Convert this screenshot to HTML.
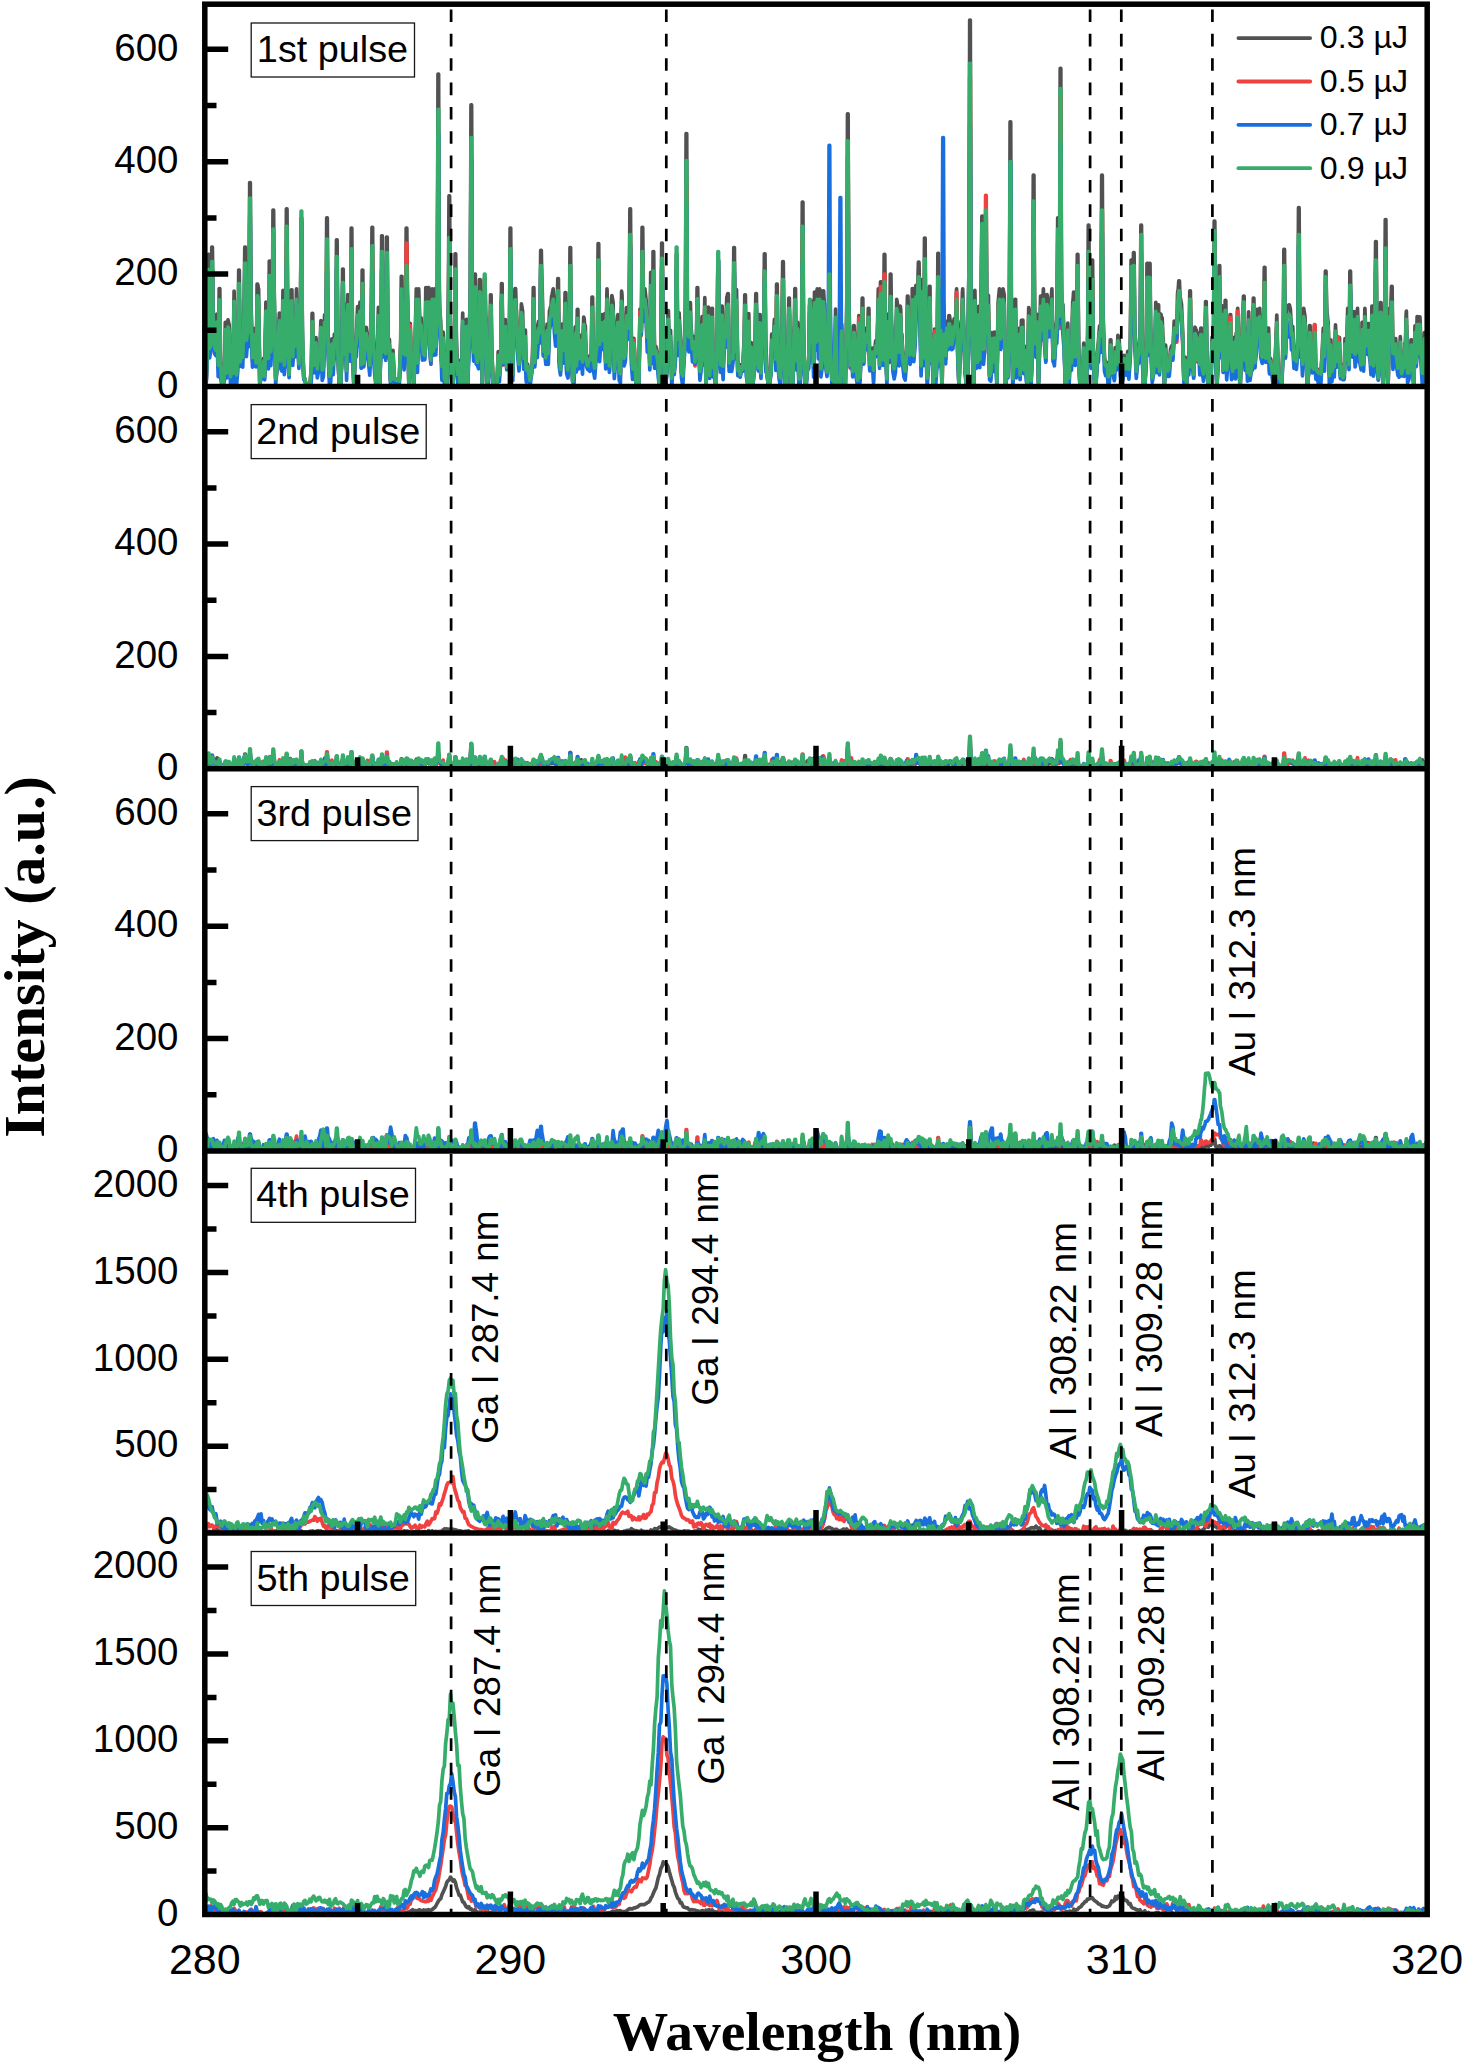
<!DOCTYPE html>
<html lang="en"><head><meta charset="utf-8"><title>LIBS spectra per pulse</title>
<style>html,body{margin:0;padding:0;background:#fff}body{width:1464px;height:2064px;overflow:hidden}svg{display:block}.s{font-family:"Liberation Sans",Arial,sans-serif;fill:#000}.b{font-family:"Liberation Serif","Times New Roman",serif;font-weight:bold;fill:#000}.d{fill:none;stroke-width:3.7;stroke-linejoin:round;stroke-linecap:round}.f{stroke:#000;stroke-width:5.5;fill:none}.k{stroke:#000;stroke-width:2.7;stroke-dasharray:12.6 11.75;fill:none}</style></head><body>
<svg width="1464" height="2064" viewBox="0 0 1464 2064">
<rect width="1464" height="2064" fill="#fff"/>
<defs>
<clipPath id="c0"><rect x="204.8" y="4.2" width="1222.4" height="382.2"/></clipPath>
<clipPath id="c1"><rect x="204.8" y="386.4" width="1222.4" height="382.4"/></clipPath>
<clipPath id="c2"><rect x="204.8" y="768.8" width="1222.4" height="382.1"/></clipPath>
<clipPath id="c3"><rect x="204.8" y="1150.9" width="1222.4" height="382.1"/></clipPath>
<clipPath id="c4"><rect x="204.8" y="1533.0" width="1222.4" height="381.5"/></clipPath>
</defs>
<g clip-path="url(#c0)">
<path class="d" stroke="#515151" d="M204.8,351.7 206.0,386.4 207.2,353.7 207.6,341.8 208.2,254.4 208.8,254.4 209.4,337.9 209.7,349.3 210.9,339.0 211.2,328.0 211.8,247.1 212.4,247.1 213.0,306.0 213.4,314.0 214.6,342.0 215.8,345.8 217.0,314.0 218.2,360.1 218.6,351.6 219.2,288.6 219.8,288.6 220.4,353.3 220.7,362.1 221.9,381.6 223.1,386.4 224.4,365.6 224.7,360.4 225.3,322.4 225.9,322.4 226.5,365.0 226.8,370.8 228.0,319.9 229.2,324.9 230.5,375.6 231.7,366.6 232.9,371.7 234.1,291.0 235.4,371.1 236.6,373.4 237.8,360.3 238.1,349.5 238.7,270.1 239.3,270.1 239.9,346.0 240.2,356.3 241.5,331.5 242.7,354.0 243.9,308.1 244.2,300.8 244.8,247.1 245.4,247.1 246.0,324.2 246.4,334.7 247.6,326.9 248.8,337.1 249.1,318.5 249.7,182.5 250.3,182.5 250.9,297.2 251.3,312.9 252.5,354.2 253.7,350.5 254.9,328.3 256.1,354.7 256.5,346.3 257.1,284.2 257.7,284.2 258.3,288.3 258.6,288.9 259.8,382.8 261.0,371.3 262.3,374.8 263.5,358.4 264.7,374.8 265.9,302.2 267.1,344.5 268.4,356.9 268.7,345.4 269.3,261.1 269.9,261.1 270.5,345.3 270.8,356.8 272.0,331.3 272.4,316.7 273.0,210.0 273.6,210.0 274.2,291.0 274.5,302.1 275.7,378.1 276.9,366.3 278.1,336.2 279.4,313.0 280.6,357.8 281.8,355.3 283.0,290.4 284.3,362.7 285.5,347.3 285.8,330.7 286.4,208.9 287.0,208.9 287.6,301.0 287.9,313.6 289.1,373.1 290.4,294.6 290.7,294.0 291.3,289.8 291.9,289.8 292.5,345.5 292.8,353.1 294.0,312.1 295.3,341.4 296.5,288.9 297.7,322.9 298.9,361.1 300.1,346.6 300.5,331.1 301.1,217.9 301.7,217.9 302.3,331.6 302.6,347.2 303.8,376.9 305.0,378.7 306.3,386.4 307.5,384.7 308.7,384.0 309.9,386.4 311.1,370.2 311.5,363.4 312.1,313.4 312.7,313.4 313.3,360.6 313.6,367.1 314.8,361.6 316.0,337.6 317.3,366.9 318.5,353.4 319.7,355.8 320.9,320.7 322.2,368.2 323.4,365.2 324.6,314.8 325.8,329.5 326.1,316.1 326.7,217.9 327.3,217.9 327.9,323.5 328.3,337.9 329.5,375.0 330.7,371.1 331.9,338.9 333.2,362.0 334.4,334.0 335.6,339.6 335.9,327.7 336.5,239.8 337.1,239.8 337.7,338.0 338.0,351.4 339.3,386.4 340.5,386.4 341.7,357.4 342.0,346.8 342.6,269.0 343.2,269.0 343.8,346.0 344.2,356.5 345.4,304.3 346.6,368.9 347.8,294.7 349.0,311.5 350.3,343.6 350.6,329.7 351.2,228.0 351.8,228.0 352.4,332.2 352.7,346.4 353.9,386.0 355.2,345.0 356.4,336.0 357.6,306.6 358.8,329.2 360.0,302.0 361.3,351.7 361.6,341.9 362.2,270.1 362.8,270.1 363.4,340.5 363.7,350.1 364.9,341.7 366.2,327.3 367.4,337.2 368.6,347.2 369.8,362.6 371.0,316.5 371.4,305.8 372.0,227.4 372.6,227.4 373.2,322.7 373.5,335.7 374.7,358.3 375.9,381.8 377.2,365.8 378.4,307.3 379.6,382.7 380.8,346.1 381.1,332.9 381.7,235.8 382.3,235.8 382.9,338.7 383.3,352.8 384.5,298.1 385.7,338.6 386.0,326.4 386.6,237.0 387.2,237.0 387.8,336.8 388.2,350.4 389.4,339.4 390.6,380.2 391.8,365.9 393.0,350.3 394.3,378.4 395.5,378.8 396.7,379.7 397.9,379.4 399.2,380.5 400.4,349.2 400.7,340.4 401.3,276.3 401.9,276.3 402.5,317.2 402.8,322.8 404.1,350.3 405.3,345.3 405.6,331.2 406.2,228.0 406.8,228.0 407.4,289.6 407.7,298.0 408.9,386.0 410.2,323.4 411.4,360.0 412.6,358.1 413.8,385.8 415.1,340.1 416.3,288.9 417.5,360.2 418.7,288.9 419.9,322.2 421.2,318.0 422.4,342.7 423.6,350.4 424.8,351.7 425.2,344.0 425.8,287.5 426.4,287.5 427.0,303.5 427.3,305.7 427.6,303.5 428.2,287.5 428.8,287.5 429.4,330.2 429.7,336.0 430.9,356.7 432.2,288.9 433.4,346.8 434.6,288.9 435.8,341.8 437.1,315.3 437.4,286.3 438.0,74.0 438.6,74.0 439.2,278.7 439.5,306.6 440.7,321.5 441.9,364.1 443.2,332.2 444.4,377.5 445.6,380.1 446.8,386.4 448.1,314.0 448.4,299.9 449.0,195.9 449.6,195.9 450.2,317.6 450.5,334.2 451.7,376.4 452.9,386.4 454.2,350.5 454.5,338.9 455.1,253.8 455.7,253.8 456.3,334.1 456.6,345.0 457.8,373.0 459.1,360.4 460.3,386.4 461.5,386.4 462.7,313.1 463.9,386.0 465.2,343.5 466.4,319.3 467.6,383.3 468.8,343.0 470.1,303.0 470.4,279.2 471.0,104.9 471.6,104.9 472.2,288.6 472.5,313.7 473.7,348.5 474.1,339.5 474.7,274.0 475.3,274.0 475.9,343.5 476.2,353.0 477.4,359.5 478.6,355.4 478.9,346.3 479.5,279.7 480.1,279.7 480.7,293.3 481.1,295.1 482.3,382.7 483.5,319.6 483.8,314.8 484.4,279.7 485.0,279.7 485.6,313.3 486.0,317.9 487.2,381.3 488.4,376.4 489.6,359.2 489.9,351.5 490.5,294.8 491.1,294.8 491.7,349.2 492.1,356.6 493.3,386.4 494.5,386.4 495.7,386.4 497.0,384.7 498.2,351.7 499.4,373.4 500.6,359.0 500.9,350.0 501.5,283.6 502.1,283.6 502.7,350.7 503.1,359.8 504.3,338.8 505.5,319.6 506.7,364.5 508.0,363.9 509.2,348.9 509.5,334.4 510.1,228.0 510.7,228.0 511.3,312.3 511.6,323.8 512.8,373.1 514.1,295.6 514.4,294.8 515.0,288.6 515.6,288.6 516.2,308.1 516.5,310.8 517.7,339.9 519.0,361.6 520.2,342.2 521.4,303.8 522.6,311.0 523.8,354.9 524.2,352.0 524.8,330.2 525.4,330.2 526.0,365.0 526.3,369.7 527.5,364.0 528.7,370.5 530.0,379.3 531.2,373.5 532.4,360.0 532.7,351.3 533.3,287.5 533.9,287.5 534.5,351.0 534.8,359.7 536.1,325.3 537.3,337.0 538.5,321.3 539.7,326.5 540.1,317.4 540.7,250.4 541.3,250.4 541.9,284.3 542.2,288.9 543.4,346.8 544.6,327.9 545.8,354.2 547.1,324.0 548.3,349.5 549.5,310.8 549.8,310.3 550.4,307.2 551.0,307.2 551.6,296.3 552.0,294.9 553.2,288.9 554.4,305.5 555.6,326.2 556.9,313.2 557.2,309.0 557.8,278.5 558.4,278.5 559.0,351.8 559.3,361.8 560.5,367.5 561.7,324.1 563.0,346.4 564.2,330.6 564.5,326.1 565.1,292.6 565.7,292.6 566.3,348.8 566.6,356.5 567.9,368.0 569.1,346.0 569.4,334.2 570.0,247.6 570.6,247.6 571.2,334.4 571.5,346.3 572.7,380.6 574.0,371.8 575.2,326.9 576.4,363.4 576.7,356.9 577.3,309.4 577.9,309.4 578.5,349.8 578.9,355.3 580.1,352.8 581.3,335.1 582.5,358.9 583.7,317.1 584.1,318.1 584.7,325.7 585.3,325.7 585.9,351.2 586.2,354.7 587.4,363.1 588.6,357.5 589.9,355.6 591.1,356.2 591.4,349.1 592.0,297.1 592.6,297.1 593.2,350.5 593.5,357.8 594.7,366.0 596.0,346.7 597.2,356.0 597.5,342.6 598.1,243.7 598.7,243.7 599.3,327.9 599.6,339.3 600.9,329.0 601.2,327.2 601.8,314.5 602.4,314.5 603.0,332.4 603.3,334.8 604.5,313.8 605.7,358.9 607.0,288.9 608.2,336.3 609.4,363.3 609.7,359.1 610.3,328.0 610.9,328.0 611.5,299.4 611.9,295.5 613.1,302.4 614.3,369.4 615.5,352.3 615.8,348.9 616.4,324.6 617.0,324.6 617.6,315.9 618.0,314.7 619.2,369.4 620.4,372.2 621.6,291.2 622.0,294.7 622.6,320.1 623.2,320.1 623.8,350.6 624.1,354.7 625.3,350.4 626.5,307.5 627.8,321.6 629.0,311.7 629.3,299.4 629.9,208.9 630.5,208.9 631.1,322.4 631.4,337.9 632.6,367.1 633.9,338.4 635.1,361.5 636.3,386.1 637.5,385.8 638.8,383.6 640.0,309.0 641.2,325.0 641.5,313.3 642.1,227.4 642.7,227.4 643.3,288.4 643.6,296.7 644.9,288.9 646.1,299.9 647.3,331.2 648.5,311.2 649.8,358.7 650.1,348.4 650.7,272.4 651.3,272.4 651.9,338.4 652.2,347.4 652.5,335.9 653.1,251.6 653.7,251.6 654.3,337.8 654.6,349.6 655.9,346.5 657.1,352.5 658.3,364.6 659.5,385.4 660.8,345.8 661.1,333.5 661.7,243.1 662.3,243.1 662.9,322.5 663.2,333.3 664.4,379.2 665.6,386.3 666.9,362.2 667.2,356.0 667.8,310.6 668.4,310.6 669.0,337.3 669.3,340.9 670.5,330.3 671.8,377.2 673.0,357.2 674.2,369.6 675.4,357.3 675.7,345.0 676.3,254.4 676.9,254.4 677.5,323.9 677.9,333.4 679.1,312.8 680.3,336.0 681.5,370.6 682.8,374.7 684.0,351.3 685.2,317.7 685.5,295.6 686.1,133.6 686.7,133.6 687.3,307.3 687.6,331.0 688.9,330.8 689.2,327.4 689.8,302.7 690.4,302.7 691.0,326.5 691.3,329.8 692.5,344.6 693.8,336.7 695.0,358.8 696.2,346.0 696.5,339.0 697.1,287.5 697.7,287.5 698.3,326.5 698.6,331.9 699.9,369.5 701.1,363.7 701.4,358.1 702.0,316.7 702.6,316.7 703.2,351.8 703.5,356.6 704.8,297.6 706.0,385.7 707.2,343.4 708.4,307.0 709.7,374.0 710.9,346.9 711.2,342.3 711.8,308.3 712.4,308.3 713.0,361.1 713.3,368.3 714.5,366.7 715.8,386.4 717.0,350.3 717.3,339.5 717.9,260.0 718.5,260.0 719.1,341.6 719.4,352.7 720.7,362.5 721.0,355.7 721.6,306.1 722.2,306.1 722.8,361.3 723.1,368.9 724.3,326.6 725.5,331.3 726.8,297.2 727.1,296.8 727.7,293.7 728.3,293.7 728.9,352.0 729.2,359.9 730.4,352.6 731.7,353.9 732.9,347.7 733.2,335.7 733.8,247.6 734.4,247.6 735.0,332.9 735.3,344.6 736.5,289.6 737.8,368.6 739.0,364.4 740.2,373.2 741.4,364.6 742.7,367.1 743.9,343.7 744.2,337.8 744.8,294.8 745.4,294.8 746.0,356.9 746.3,365.4 747.5,382.4 748.8,313.6 750.0,386.4 751.2,342.5 752.4,386.4 753.7,372.9 754.9,348.1 755.2,341.6 755.8,293.7 756.4,293.7 757.0,353.1 757.3,361.2 758.5,365.0 758.9,358.9 759.5,314.5 760.1,314.5 760.7,362.7 761.0,369.3 762.2,318.1 763.4,339.3 763.8,329.0 764.4,253.8 765.0,253.8 765.6,335.5 765.9,346.6 767.1,371.4 768.3,384.3 769.5,380.8 770.8,374.6 771.1,369.7 771.7,334.2 772.3,334.2 772.9,341.9 773.2,343.0 774.4,319.3 775.7,356.0 776.0,347.4 776.6,284.2 777.2,284.2 777.8,348.0 778.1,356.7 779.3,374.1 780.6,377.0 781.8,330.9 782.1,322.6 782.7,261.7 783.3,261.7 783.9,342.3 784.2,353.3 785.4,386.0 786.7,385.5 787.9,341.0 788.2,335.9 788.8,298.2 789.4,298.2 790.0,358.4 790.3,366.6 791.6,384.4 792.8,382.4 794.0,329.8 794.3,324.8 794.9,288.6 795.5,288.6 796.1,354.1 796.4,363.0 797.7,322.4 798.9,378.3 800.1,377.7 801.3,330.6 801.7,315.2 802.3,202.1 802.9,202.1 803.5,323.5 803.8,340.0 805.0,382.3 806.2,382.8 807.4,364.9 808.7,364.0 809.0,356.9 809.6,304.9 810.2,304.9 810.8,333.1 811.1,336.9 812.3,301.0 813.6,362.1 813.9,353.7 814.5,292.0 815.1,292.0 815.7,331.6 816.0,337.0 817.2,288.9 818.4,334.9 819.7,288.9 820.9,366.7 822.1,362.8 822.4,354.2 823.0,290.9 823.6,290.9 824.2,302.3 824.6,303.9 825.8,362.4 827.0,370.2 828.2,357.9 828.5,345.8 829.1,257.2 829.7,257.2 830.3,341.2 830.7,352.6 831.9,378.7 833.1,379.6 834.3,382.1 835.6,309.0 836.8,372.6 838.0,385.0 839.2,386.4 839.5,386.4 840.1,386.4 840.7,386.4 841.3,331.8 841.7,324.4 842.9,369.4 844.1,368.5 845.3,385.0 846.6,315.7 846.9,291.5 847.5,113.9 848.1,113.9 848.7,281.0 849.0,303.7 850.2,362.7 851.4,336.6 852.7,368.9 853.0,363.7 853.6,325.7 854.2,325.7 854.8,336.3 855.1,337.8 856.3,367.2 857.6,379.6 858.8,315.7 860.0,376.3 861.2,343.0 861.6,337.6 862.2,298.2 862.8,298.2 863.4,351.9 863.7,359.2 864.9,335.6 866.1,328.0 867.3,336.9 867.7,333.5 868.3,308.3 868.9,308.3 869.5,355.4 869.8,361.9 871.0,349.2 872.2,348.1 873.5,368.1 873.8,365.7 874.4,347.6 875.0,347.6 875.6,341.6 875.9,340.7 877.1,349.0 878.3,288.9 879.6,356.2 879.9,347.3 880.5,281.9 881.1,281.9 881.7,288.0 882.0,288.9 883.2,349.2 883.6,337.8 884.2,254.4 884.8,254.4 885.4,330.7 885.7,341.1 886.9,378.0 888.1,314.0 889.3,362.4 889.7,351.8 890.3,274.0 890.9,274.0 891.5,320.3 891.8,326.6 893.0,361.0 894.2,366.7 895.5,357.9 896.7,299.3 897.9,306.7 899.1,348.4 900.3,306.2 900.7,309.5 901.3,334.2 901.9,334.2 902.5,354.6 902.8,357.3 904.0,364.6 905.2,369.3 906.5,349.0 906.8,342.6 907.4,296.0 908.0,296.0 908.6,332.3 908.9,337.3 910.1,351.1 911.3,345.2 911.7,338.5 912.3,288.6 912.9,288.6 913.5,344.4 913.8,352.0 915.0,331.6 915.3,326.1 915.9,285.3 916.5,285.3 917.1,288.4 917.5,288.9 917.8,285.7 918.4,262.2 919.0,262.2 919.6,294.8 919.9,299.3 921.1,359.4 921.4,349.9 922.0,279.7 922.6,279.7 923.2,343.3 923.6,351.9 923.9,338.3 924.5,238.1 925.1,238.1 925.7,320.6 926.0,331.9 927.2,376.8 928.5,357.3 928.8,348.8 929.4,286.4 930.0,286.4 930.6,353.6 930.9,362.7 932.1,334.9 933.4,382.6 934.6,329.1 935.8,374.8 937.0,353.1 937.3,341.1 937.9,253.3 938.5,253.3 939.1,340.4 939.5,352.2 940.7,323.8 941.9,384.0 942.2,378.3 942.8,336.1 943.4,336.1 944.0,328.8 944.4,327.9 945.6,352.0 946.8,321.3 948.0,341.0 948.3,338.0 948.9,315.6 949.5,315.6 950.1,320.3 950.5,321.0 951.7,339.5 952.9,333.4 954.1,318.9 954.5,318.7 955.1,317.9 955.7,317.9 956.3,292.4 956.6,288.9 957.8,347.8 959.0,385.5 960.2,334.5 960.6,332.9 961.2,321.2 961.8,321.2 962.4,292.8 962.7,288.9 963.9,329.8 965.1,365.2 966.4,386.2 967.6,375.6 968.8,280.7 969.1,249.4 969.7,20.1 970.3,20.1 970.9,255.2 971.2,287.3 972.5,345.9 973.7,385.5 974.9,290.3 976.1,359.5 977.4,359.6 978.6,306.3 979.8,356.3 981.0,288.9 981.3,280.1 981.9,216.2 982.5,216.2 983.1,329.6 983.5,345.0 984.7,347.7 985.0,332.1 985.6,217.9 986.2,217.9 986.8,324.4 987.1,338.9 988.4,295.4 989.6,374.8 990.8,371.5 991.1,366.8 991.7,332.5 992.3,332.5 992.9,355.9 993.2,359.1 994.5,332.2 995.7,342.8 996.9,381.6 998.1,303.5 999.4,288.9 1000.6,333.3 1000.9,332.1 1001.5,323.5 1002.1,323.5 1002.7,293.0 1003.0,288.9 1004.2,294.7 1005.5,383.5 1006.7,367.4 1007.9,374.8 1009.1,312.8 1009.5,289.9 1010.1,121.8 1010.7,121.8 1011.3,297.9 1011.6,321.9 1012.8,377.8 1014.0,359.3 1014.4,352.1 1015.0,299.3 1015.6,299.3 1016.2,352.9 1016.5,360.3 1017.7,339.7 1018.9,328.4 1020.1,373.5 1021.4,320.4 1021.7,320.4 1022.3,320.1 1022.9,320.1 1023.5,365.2 1023.8,371.4 1025.0,346.4 1026.3,372.7 1027.5,382.6 1028.7,307.6 1029.9,312.5 1031.1,380.0 1032.4,337.6 1032.7,318.1 1033.3,175.2 1033.9,175.2 1034.5,298.3 1034.8,315.1 1036.0,338.8 1037.3,314.4 1038.5,382.3 1039.7,328.3 1040.0,324.4 1040.6,296.0 1041.2,296.0 1041.8,319.9 1042.1,323.1 1043.4,288.9 1044.6,333.4 1045.8,353.9 1047.0,294.7 1047.4,296.4 1048.0,309.4 1048.6,309.4 1049.2,319.5 1049.5,320.8 1050.7,307.0 1051.9,288.9 1053.1,354.5 1054.4,354.1 1055.6,329.8 1056.8,320.0 1057.1,307.8 1057.7,217.9 1058.3,217.9 1058.9,283.4 1059.3,292.3 1059.6,265.4 1060.2,68.4 1060.8,68.4 1061.4,284.0 1061.7,313.4 1062.9,304.7 1064.1,335.4 1065.4,386.4 1066.6,385.2 1067.8,323.2 1069.0,377.1 1070.3,342.0 1071.5,360.2 1072.7,301.9 1073.0,300.7 1073.6,292.0 1074.2,292.0 1074.8,346.0 1075.1,353.4 1076.4,343.8 1076.7,333.0 1077.3,254.4 1077.9,254.4 1078.5,340.0 1078.8,351.6 1080.0,386.4 1081.3,386.4 1082.5,382.4 1083.7,343.2 1084.9,386.4 1086.2,386.4 1087.4,347.8 1087.7,333.1 1088.3,225.2 1088.9,225.2 1089.5,324.4 1089.8,338.0 1091.0,352.6 1091.4,341.5 1092.0,260.0 1092.6,260.0 1093.2,345.2 1093.5,356.9 1094.7,385.0 1095.9,385.0 1097.2,354.3 1098.4,341.5 1099.6,325.8 1100.8,335.6 1101.1,316.4 1101.7,175.2 1102.3,175.2 1102.9,302.6 1103.3,319.9 1104.5,358.0 1105.7,363.5 1106.9,362.5 1108.2,375.4 1109.4,371.4 1109.7,367.6 1110.3,339.8 1110.9,339.8 1111.5,369.7 1111.8,373.8 1113.0,359.8 1114.3,370.6 1114.6,367.9 1115.2,347.6 1115.8,347.6 1116.4,359.8 1116.7,361.5 1117.9,335.3 1119.2,339.8 1120.4,365.2 1121.6,364.7 1122.8,367.1 1124.0,355.3 1125.3,361.2 1126.5,366.8 1127.7,351.4 1128.9,367.1 1130.2,347.2 1130.5,336.7 1131.1,260.0 1131.7,260.0 1132.3,300.0 1132.6,305.5 1132.9,299.2 1133.5,252.7 1134.1,252.7 1134.7,322.6 1135.0,332.1 1136.3,369.6 1137.5,355.9 1138.7,350.0 1139.9,334.5 1140.3,321.4 1140.9,225.2 1141.5,225.2 1142.1,324.5 1142.4,338.0 1143.6,385.5 1144.8,386.4 1146.0,353.4 1146.4,342.6 1147.0,263.4 1147.6,263.4 1148.2,336.3 1148.5,346.2 1148.8,336.3 1149.4,263.4 1150.0,263.4 1150.6,326.6 1150.9,335.2 1152.2,376.9 1153.4,372.1 1154.6,355.3 1155.8,302.3 1157.0,366.9 1157.4,359.5 1158.0,304.9 1158.6,304.9 1159.2,355.0 1159.5,361.9 1160.7,314.0 1161.0,314.5 1161.6,317.9 1162.2,317.9 1162.8,335.2 1163.2,337.5 1164.4,382.7 1165.6,345.2 1166.8,366.1 1168.1,368.9 1169.3,364.3 1170.5,349.7 1171.7,345.9 1172.9,349.8 1174.2,321.0 1175.4,322.5 1175.7,322.9 1176.3,325.7 1176.9,325.7 1177.5,295.2 1177.8,291.0 1178.2,289.8 1178.8,280.8 1179.4,280.8 1180.0,295.6 1180.3,297.6 1181.5,304.4 1182.7,331.7 1183.9,378.6 1185.2,357.1 1186.4,383.2 1187.6,358.8 1188.8,358.8 1189.2,350.7 1189.8,290.9 1190.4,290.9 1191.0,349.3 1191.3,357.2 1192.5,352.9 1193.7,373.2 1194.9,327.2 1195.3,327.6 1195.9,330.2 1196.5,330.2 1197.1,353.6 1197.4,356.8 1198.6,333.3 1199.8,361.7 1200.2,357.7 1200.8,328.0 1201.4,328.0 1202.0,361.7 1202.3,366.4 1203.5,372.4 1204.7,361.6 1205.0,354.4 1205.6,301.6 1206.2,301.6 1206.8,357.9 1207.2,365.6 1208.4,386.4 1209.6,385.2 1210.8,380.7 1212.1,337.1 1213.3,340.5 1213.6,326.2 1214.2,221.2 1214.8,221.2 1215.4,333.5 1215.7,348.8 1216.9,386.4 1218.2,359.3 1218.5,348.0 1219.1,265.6 1219.7,265.6 1220.3,336.8 1220.6,346.5 1221.8,305.7 1223.1,368.1 1224.3,349.0 1224.6,343.2 1225.2,300.4 1225.8,300.4 1226.4,355.1 1226.7,362.5 1227.9,352.1 1229.2,337.3 1229.5,334.5 1230.1,314.5 1230.7,314.5 1231.3,364.2 1231.6,371.0 1232.8,369.4 1234.1,337.3 1235.3,365.3 1235.6,361.4 1236.2,333.0 1236.8,333.0 1237.4,311.3 1237.7,308.4 1239.0,361.5 1240.2,384.2 1241.4,352.7 1242.6,314.8 1242.9,312.6 1243.5,296.0 1244.1,296.0 1244.7,353.6 1245.1,361.4 1246.3,329.1 1247.5,370.8 1248.7,311.8 1250.0,373.8 1251.2,367.7 1252.4,361.1 1252.7,353.5 1253.3,298.2 1253.9,298.2 1254.5,359.5 1254.8,367.8 1256.1,339.2 1256.4,335.6 1257.0,309.4 1257.6,309.4 1258.2,318.4 1258.5,319.6 1259.7,308.4 1261.0,349.1 1262.2,353.7 1263.4,324.5 1263.7,317.6 1264.3,267.3 1264.9,267.3 1265.5,347.0 1265.8,357.9 1267.1,341.7 1267.4,340.0 1268.0,328.0 1268.6,328.0 1269.2,354.9 1269.5,358.6 1270.7,358.6 1272.0,368.6 1273.2,374.4 1274.4,374.1 1275.6,348.9 1276.8,315.0 1278.1,373.7 1279.3,377.3 1280.5,377.6 1281.7,383.2 1283.0,342.5 1283.3,331.3 1283.9,249.3 1284.5,249.3 1285.1,337.1 1285.4,349.1 1286.6,308.4 1287.8,308.4 1288.2,308.0 1288.8,304.9 1289.4,304.9 1290.0,308.0 1290.3,308.4 1291.5,328.8 1292.7,326.3 1294.0,356.0 1295.2,351.0 1296.4,358.5 1297.6,343.3 1297.9,327.0 1298.5,207.7 1299.1,207.7 1299.7,314.5 1300.1,329.0 1301.3,342.3 1302.5,361.4 1303.7,308.4 1305.0,316.5 1306.2,352.8 1307.4,385.7 1308.6,372.9 1308.9,367.2 1309.5,325.7 1310.1,325.7 1310.7,344.5 1311.1,347.1 1312.3,363.9 1313.5,366.7 1313.8,361.7 1314.4,325.7 1315.0,325.7 1315.6,363.6 1316.0,368.8 1317.2,369.0 1318.4,371.2 1319.6,371.0 1320.9,372.4 1322.1,353.8 1323.3,328.1 1324.5,352.8 1324.8,343.0 1325.4,271.2 1326.0,271.2 1326.6,307.5 1327.0,312.4 1328.2,323.2 1329.4,372.8 1329.7,368.8 1330.3,339.8 1330.9,339.8 1331.5,366.3 1331.9,369.9 1333.1,361.0 1334.3,364.2 1335.5,324.8 1336.7,358.8 1338.0,337.8 1338.3,337.7 1338.9,337.5 1339.5,337.5 1340.1,370.2 1340.4,374.6 1341.6,364.3 1342.9,377.0 1344.1,372.5 1344.4,368.4 1345.0,338.6 1345.6,338.6 1346.2,354.2 1346.5,356.3 1347.7,308.4 1349.0,350.1 1349.3,340.6 1349.9,271.2 1350.5,271.2 1351.1,319.8 1351.4,326.4 1352.6,347.9 1353.9,311.7 1355.1,350.4 1355.4,348.9 1356.0,337.5 1356.6,337.5 1357.2,311.9 1357.5,308.4 1358.7,346.6 1360.0,350.8 1361.2,362.2 1361.5,357.4 1362.1,322.4 1362.7,322.4 1363.3,356.6 1363.6,361.2 1364.9,308.4 1366.1,341.0 1367.3,337.5 1367.6,335.9 1368.2,323.5 1368.8,323.5 1369.4,345.8 1369.7,348.8 1371.0,361.6 1371.3,354.9 1371.9,306.1 1372.5,306.1 1373.1,360.2 1373.4,367.5 1374.6,344.7 1375.0,332.3 1375.6,241.5 1376.2,241.5 1376.8,336.4 1377.1,349.4 1378.3,376.7 1379.5,332.3 1379.8,328.8 1380.4,302.7 1381.0,302.7 1381.6,357.5 1382.0,365.0 1383.2,385.7 1384.4,331.9 1384.7,318.4 1385.3,219.5 1385.9,219.5 1386.5,333.4 1386.9,349.0 1388.1,385.8 1389.3,308.5 1390.5,308.4 1390.9,305.7 1391.5,286.4 1392.1,286.4 1392.7,342.0 1393.0,349.6 1394.2,343.8 1394.5,343.2 1395.1,338.6 1395.7,338.6 1396.3,352.3 1396.6,354.2 1397.9,366.0 1399.1,362.9 1400.3,336.7 1401.5,372.2 1402.8,366.9 1404.0,365.0 1404.3,362.4 1404.9,343.1 1405.5,343.1 1406.1,315.0 1406.4,311.2 1407.6,371.4 1408.9,371.4 1410.1,367.6 1410.4,364.3 1411.0,339.8 1411.6,339.8 1412.2,352.0 1412.5,353.6 1413.8,385.1 1415.0,325.8 1416.2,359.7 1416.5,354.5 1417.1,316.7 1417.7,316.7 1418.3,345.2 1418.6,349.1 1419.9,316.8 1421.1,347.4 1422.3,371.7 1423.5,359.6 1423.9,356.3 1424.5,332.5 1425.1,332.5 1425.7,364.5 1426.0,368.8 1427.2,386.4"/>
<path class="d" stroke="#F14040" d="M204.8,359.1 206.0,386.4 207.2,354.2 207.6,344.5 208.2,273.4 208.8,273.4 209.4,342.2 209.7,351.6 210.9,350.2 211.2,340.6 211.8,270.3 212.4,270.3 213.0,319.8 213.4,326.6 214.6,353.5 215.8,354.2 217.0,322.7 218.2,367.1 218.6,360.5 219.2,312.6 219.8,312.6 220.4,360.0 220.7,366.4 221.9,382.5 223.1,386.4 224.4,374.6 224.7,370.4 225.3,339.7 225.9,339.7 226.5,370.8 226.8,375.1 228.0,335.9 229.2,332.0 230.5,377.9 231.7,370.8 232.9,373.3 234.1,313.4 235.4,373.7 236.6,374.9 237.8,360.2 238.1,352.8 238.7,299.0 239.3,299.0 239.9,356.5 240.2,364.3 241.5,344.0 242.7,359.0 243.9,326.0 244.2,320.6 244.8,281.4 245.4,281.4 246.0,338.5 246.4,346.3 247.6,341.6 248.8,332.9 249.1,319.7 249.7,222.6 250.3,222.6 250.9,315.2 251.3,327.8 252.5,361.4 253.7,357.9 254.9,341.0 256.1,365.7 256.5,357.9 257.1,300.7 257.7,300.7 258.3,310.9 258.6,312.3 259.8,383.4 261.0,374.5 262.3,377.8 263.5,365.4 264.7,376.3 265.9,324.2 267.1,353.8 268.4,359.2 268.7,351.3 269.3,293.9 269.9,293.9 270.5,349.0 270.8,356.5 272.0,344.8 272.4,331.5 273.0,233.7 273.6,233.7 274.2,312.4 274.5,323.1 275.7,379.1 276.9,371.3 278.1,345.1 279.4,323.5 280.6,362.9 281.8,361.1 283.0,309.4 284.3,368.1 285.5,349.8 285.8,337.1 286.4,243.5 287.0,243.5 287.6,315.8 287.9,325.6 289.1,375.4 290.4,305.0 290.7,305.9 291.3,312.5 291.9,312.5 292.5,355.3 292.8,361.2 294.0,321.3 295.3,349.8 296.5,304.9 297.7,333.5 298.9,364.7 300.1,337.9 300.5,323.9 301.1,220.5 301.7,220.5 302.3,331.0 302.6,346.0 303.8,378.2 305.0,380.7 306.3,386.4 307.5,385.2 308.7,384.3 309.9,386.4 311.1,373.3 311.5,367.5 312.1,324.6 312.7,324.6 313.3,361.7 313.6,366.7 314.8,367.8 316.0,343.8 317.3,370.3 318.5,359.8 319.7,359.4 320.9,336.1 322.2,372.6 323.4,367.8 324.6,332.1 325.8,337.3 326.1,328.0 326.7,260.1 327.3,260.1 327.9,339.3 328.3,350.1 329.5,377.3 330.7,373.7 331.9,347.0 333.2,366.9 334.4,343.7 335.6,350.0 335.9,341.2 336.5,276.8 337.1,276.8 337.7,346.3 338.0,355.8 339.3,386.4 340.5,386.4 341.7,363.3 342.0,355.0 342.6,293.8 343.2,293.8 343.8,348.3 344.2,355.7 345.4,319.5 346.6,372.7 347.8,308.0 349.0,329.2 350.3,353.2 350.6,341.4 351.2,254.9 351.8,254.9 352.4,342.4 352.7,354.4 353.9,386.1 355.2,352.1 356.4,341.6 357.6,324.2 358.8,340.3 360.0,311.9 361.3,368.1 361.6,358.2 362.2,285.4 362.8,285.4 363.4,356.3 363.7,366.0 364.9,351.2 366.2,333.7 367.4,347.3 368.6,356.2 369.8,368.2 371.0,327.4 371.4,318.7 372.0,255.2 372.6,255.2 373.2,341.4 373.5,353.2 374.7,363.6 375.9,382.8 377.2,368.6 378.4,323.9 379.6,383.4 380.8,352.5 381.1,342.6 381.7,270.0 382.3,270.0 382.9,341.9 383.3,351.7 384.5,314.9 385.7,355.8 386.0,345.5 386.6,270.2 387.2,270.2 387.8,336.6 388.2,345.6 389.4,346.6 390.6,381.3 391.8,368.6 393.0,357.2 394.3,380.5 395.5,379.8 396.7,380.9 397.9,380.6 399.2,381.5 400.4,358.9 400.7,352.0 401.3,301.5 401.9,301.5 402.5,334.4 402.8,338.9 404.1,356.2 405.3,355.7 405.6,342.2 406.2,243.1 406.8,243.1 407.4,302.1 407.7,310.2 408.9,386.1 410.2,325.6 411.4,365.3 412.6,365.0 413.8,385.9 415.1,341.7 416.3,312.2 417.5,364.4 418.7,305.6 419.9,330.9 421.2,325.5 422.4,352.7 423.6,354.7 424.8,356.7 425.2,350.9 425.8,308.8 426.4,308.8 427.0,314.0 427.3,314.7 427.6,314.1 428.2,309.5 428.8,309.5 429.4,344.5 429.7,349.3 430.9,364.1 432.2,310.1 433.4,353.0 434.6,306.1 435.8,348.8 437.1,326.3 437.4,304.8 438.0,146.9 438.6,146.9 439.2,292.9 439.5,312.8 440.7,332.0 441.9,368.6 443.2,344.8 444.4,379.5 445.6,381.0 446.8,386.4 448.1,330.5 448.4,319.5 449.0,238.8 449.6,238.8 450.2,336.8 450.5,350.2 451.7,378.7 452.9,386.4 454.2,349.1 454.5,340.6 455.1,278.3 455.7,278.3 456.3,347.7 456.6,357.2 457.8,374.5 459.1,365.9 460.3,386.4 461.5,386.4 462.7,326.1 463.9,386.1 465.2,354.7 466.4,329.4 467.6,383.6 468.8,348.1 470.1,314.6 470.4,296.3 471.0,162.0 471.6,162.0 472.2,305.6 472.5,325.2 473.7,352.6 474.1,346.1 474.7,298.5 475.3,298.5 475.9,349.5 476.2,356.5 477.4,363.7 478.6,361.4 478.9,354.2 479.5,301.3 480.1,301.3 480.7,317.3 481.1,319.5 482.3,383.5 483.5,331.9 483.8,325.4 484.4,278.1 485.0,278.1 485.6,326.0 486.0,332.6 487.2,382.1 488.4,376.8 489.6,364.0 489.9,357.7 490.5,311.0 491.1,311.0 491.7,356.3 492.1,362.5 493.3,386.4 494.5,386.4 495.7,386.4 497.0,385.1 498.2,356.1 499.4,375.3 500.6,363.2 500.9,355.7 501.5,300.0 502.1,300.0 502.7,357.3 503.1,365.1 504.3,340.5 505.5,331.9 506.7,367.8 508.0,368.1 509.2,352.3 509.5,342.2 510.1,268.1 510.7,268.1 511.3,331.2 511.6,339.8 512.8,375.2 514.1,305.5 514.4,306.6 515.0,314.3 515.6,314.3 516.2,319.3 516.5,320.0 517.7,349.5 519.0,365.6 520.2,352.1 521.4,316.7 522.6,325.9 523.8,359.3 524.2,357.4 524.8,343.2 525.4,343.2 526.0,368.7 526.3,372.2 527.5,367.7 528.7,374.5 530.0,380.1 531.2,375.7 532.4,360.9 532.7,355.0 533.3,311.8 533.9,311.8 534.5,357.5 534.8,363.8 536.1,339.7 537.3,349.5 538.5,334.1 539.7,338.0 540.1,330.5 540.7,275.2 541.3,275.2 541.9,303.8 542.2,307.7 543.4,356.2 544.6,337.2 545.8,361.4 547.1,337.8 548.3,354.7 549.5,322.7 549.8,322.4 550.4,319.7 551.0,319.7 551.6,307.5 552.0,305.8 553.2,301.6 554.4,324.3 555.6,332.9 556.9,326.7 557.2,323.3 557.8,298.5 558.4,298.5 559.0,352.9 559.3,360.3 560.5,371.4 561.7,335.2 563.0,356.9 564.2,339.1 564.5,336.0 565.1,313.1 565.7,313.1 566.3,356.2 566.6,362.1 567.9,370.8 569.1,355.7 569.4,347.3 570.0,285.7 570.6,285.7 571.2,342.8 571.5,350.6 572.7,381.8 574.0,374.0 575.2,336.0 576.4,367.7 576.7,362.1 577.3,321.6 577.9,321.6 578.5,358.0 578.9,362.9 580.1,357.4 581.3,340.9 582.5,362.3 583.7,326.6 584.1,328.0 584.7,338.5 585.3,338.5 585.9,356.0 586.2,358.4 587.4,367.3 588.6,364.2 589.9,361.1 591.1,360.1 591.4,354.3 592.0,311.9 592.6,311.9 593.2,355.9 593.5,361.9 594.7,371.3 596.0,351.2 597.2,345.6 597.5,336.7 598.1,271.3 598.7,271.3 599.3,336.1 599.6,345.0 600.9,342.7 601.2,341.2 601.8,330.0 602.4,330.0 603.0,345.2 603.3,347.2 604.5,325.5 605.7,362.2 607.0,300.4 608.2,349.1 609.4,366.7 609.7,363.3 610.3,338.8 610.9,338.8 611.5,319.3 611.9,316.6 613.1,312.8 614.3,370.0 615.5,361.2 615.8,358.4 616.4,337.9 617.0,337.9 617.6,327.4 618.0,326.0 619.2,371.6 620.4,375.6 621.6,307.6 622.0,311.2 622.6,337.4 623.2,337.4 623.8,356.0 624.1,358.6 625.3,360.0 626.5,316.3 627.8,333.0 629.0,322.7 629.3,313.2 629.9,243.7 630.5,243.7 631.1,343.7 631.4,357.3 632.6,370.9 633.9,340.2 635.1,367.0 636.3,386.2 637.5,386.0 638.8,384.1 640.0,311.8 641.2,335.8 641.5,327.1 642.1,263.0 642.7,263.0 643.3,301.8 643.6,307.1 644.9,301.7 646.1,319.4 647.3,341.0 648.5,319.6 649.8,363.2 650.1,354.5 650.7,290.9 651.3,290.9 651.9,348.2 652.2,356.0 652.5,346.6 653.1,278.1 653.7,278.1 654.3,346.8 654.6,356.2 655.9,352.4 657.1,359.6 658.3,367.1 659.5,385.6 660.8,350.6 661.1,340.5 661.7,266.6 662.3,266.6 662.9,332.7 663.2,341.7 664.4,380.0 665.6,386.3 666.9,371.3 667.2,366.0 667.8,327.1 668.4,327.1 669.0,347.2 669.3,350.0 670.5,342.8 671.8,378.8 673.0,360.9 674.2,372.5 675.4,352.0 675.7,342.3 676.3,271.2 676.9,271.2 677.5,331.9 677.9,340.1 679.1,329.0 680.3,343.9 681.5,372.4 682.8,376.0 684.0,357.6 685.2,329.5 685.5,312.1 686.1,184.8 686.7,184.8 687.3,309.4 687.6,326.4 688.9,339.6 689.2,337.8 689.8,324.6 690.4,324.6 691.0,336.0 691.3,337.5 692.5,354.7 693.8,342.1 695.0,366.0 696.2,351.9 696.5,347.2 697.1,312.2 697.7,312.2 698.3,338.2 698.6,341.7 699.9,373.0 701.1,366.6 701.4,362.5 702.0,332.8 702.6,332.8 703.2,357.7 703.5,361.1 704.8,308.0 706.0,385.8 707.2,350.0 708.4,327.2 709.7,375.8 710.9,352.1 711.2,349.2 711.8,328.0 712.4,328.0 713.0,362.7 713.3,367.4 714.5,370.6 715.8,386.4 717.0,347.3 717.3,337.6 717.9,266.5 718.5,266.5 719.1,343.7 719.4,354.2 720.7,367.5 721.0,361.4 721.6,316.5 722.2,316.5 722.8,360.5 723.1,366.5 724.3,338.2 725.5,341.7 726.8,312.6 727.1,311.9 727.7,306.7 728.3,306.7 728.9,359.7 729.2,367.0 730.4,357.4 731.7,357.5 732.9,361.5 733.2,351.1 733.8,275.3 734.4,275.3 735.0,342.5 735.3,351.7 736.5,309.2 737.8,372.3 739.0,367.3 740.2,375.7 741.4,368.2 742.7,371.4 743.9,350.5 744.2,346.1 744.8,314.6 745.4,314.6 746.0,360.8 746.3,367.1 747.5,383.1 748.8,322.3 750.0,386.4 751.2,348.3 752.4,386.4 753.7,375.1 754.9,356.7 755.2,351.2 755.8,310.5 756.4,310.5 757.0,355.2 757.3,361.3 758.5,370.6 758.9,365.5 759.5,328.0 760.1,328.0 760.7,367.7 761.0,373.1 762.2,334.1 763.4,348.2 763.8,339.4 764.4,274.6 765.0,274.6 765.6,352.3 765.9,362.8 767.1,375.4 768.3,384.7 769.5,381.9 770.8,373.1 771.1,369.5 771.7,343.0 772.3,343.0 772.9,348.4 773.2,349.2 774.4,333.3 775.7,359.7 776.0,352.4 776.6,298.7 777.2,298.7 777.8,356.1 778.1,364.0 779.3,376.1 780.6,378.1 781.8,339.9 782.1,332.8 782.7,280.2 783.3,280.2 783.9,349.0 784.2,358.4 785.4,386.1 786.7,385.7 787.9,351.0 788.2,346.3 788.8,311.4 789.4,311.4 790.0,364.3 790.3,371.5 791.6,384.7 792.8,383.0 794.0,338.3 794.3,335.4 794.9,313.9 795.5,313.9 796.1,359.1 796.4,365.2 797.7,331.1 798.9,378.6 800.1,379.8 801.3,353.1 801.7,339.6 802.3,240.8 802.9,240.8 803.5,338.1 803.8,351.4 805.0,382.7 806.2,383.6 807.4,367.4 808.7,359.7 809.0,353.3 809.6,306.3 810.2,306.3 810.8,340.2 811.1,344.8 812.3,314.4 813.6,368.0 813.9,361.1 814.5,310.6 815.1,310.6 815.7,345.0 816.0,349.7 817.2,314.2 818.4,340.9 819.7,301.7 820.9,369.6 822.1,363.9 822.4,357.2 823.0,307.6 823.6,307.6 824.2,315.4 824.6,316.5 825.8,367.2 827.0,373.6 828.2,361.6 828.5,353.5 829.1,294.1 829.7,294.1 830.3,351.3 830.7,359.1 831.9,380.4 833.1,381.0 834.3,382.3 835.6,324.5 836.8,374.4 838.0,385.2 839.2,386.4 839.5,386.4 840.1,386.4 840.7,386.4 841.3,342.0 841.7,336.0 842.9,373.2 844.1,371.0 845.3,385.4 846.6,326.6 846.9,306.3 847.5,157.1 848.1,157.1 848.7,304.2 849.0,324.2 850.2,368.3 851.4,344.5 852.7,372.0 853.0,368.0 853.6,338.6 854.2,338.6 854.8,345.7 855.1,346.6 856.3,370.2 857.6,380.8 858.8,318.2 860.0,377.9 861.2,349.7 861.6,345.1 862.2,311.1 862.8,311.1 863.4,356.8 863.7,363.1 864.9,343.8 866.1,341.8 867.3,348.9 867.7,345.4 868.3,319.7 868.9,319.7 869.5,361.8 869.8,367.5 871.0,356.6 872.2,353.0 873.5,372.6 873.8,370.4 874.4,354.1 875.0,354.1 875.6,351.5 875.9,351.1 877.1,355.3 878.3,302.2 879.6,365.5 879.9,356.0 880.5,286.5 881.1,286.5 881.7,304.4 882.0,306.9 883.2,362.2 883.6,351.6 884.2,274.0 884.8,274.0 885.4,343.0 885.7,352.4 886.9,379.2 888.1,332.8 889.3,357.8 889.7,352.0 890.3,309.7 890.9,309.7 891.5,332.6 891.8,335.7 893.0,366.0 894.2,370.0 895.5,362.1 896.7,318.5 897.9,317.5 899.1,354.0 900.3,320.2 900.7,323.0 901.3,343.7 901.9,343.7 902.5,361.0 902.8,363.3 904.0,367.0 905.2,372.8 906.5,357.6 906.8,352.2 907.4,312.7 908.0,312.7 908.6,339.5 908.9,343.2 910.1,355.3 911.3,352.4 911.7,347.3 912.3,309.4 912.9,309.4 913.5,351.4 913.8,357.1 915.0,341.4 915.3,336.4 915.9,299.8 916.5,299.8 917.1,301.7 917.5,301.9 917.8,299.6 918.4,282.7 919.0,282.7 919.6,305.8 919.9,309.0 921.1,367.1 921.4,358.1 922.0,292.4 922.6,292.4 923.2,348.0 923.6,355.6 923.9,346.2 924.5,276.8 925.1,276.8 925.7,333.3 926.0,341.0 927.2,378.2 928.5,362.9 928.8,356.7 929.4,311.2 930.0,311.2 930.6,357.4 930.9,363.7 932.1,342.2 933.4,383.5 934.6,331.1 935.8,376.3 937.0,360.7 937.3,350.9 937.9,279.4 938.5,279.4 939.1,351.2 939.5,361.0 940.7,333.2 941.9,384.5 942.2,379.6 942.8,344.3 943.4,344.3 944.0,337.4 944.4,336.5 945.6,359.4 946.8,336.6 948.0,348.1 948.3,345.7 948.9,328.2 949.5,328.2 950.1,328.1 950.5,328.1 951.7,348.9 952.9,344.1 954.1,335.6 954.5,335.7 955.1,336.5 955.7,336.5 956.3,297.7 956.6,292.4 957.8,354.5 959.0,385.6 960.2,347.4 960.6,346.2 961.2,337.4 961.8,337.4 962.4,308.3 962.7,304.3 963.9,342.2 965.1,370.7 966.4,386.2 967.6,378.2 968.8,291.3 969.1,265.6 969.7,77.6 970.3,77.6 970.9,288.5 971.2,317.2 972.5,350.5 973.7,385.6 974.9,313.8 976.1,366.3 977.4,364.0 978.6,320.9 979.8,363.1 981.0,312.4 981.3,304.0 981.9,242.5 982.5,242.5 983.1,340.8 983.5,354.2 984.7,352.4 985.0,333.5 985.6,195.4 986.2,195.4 986.8,318.6 987.1,335.4 988.4,313.0 989.6,376.3 990.8,373.5 991.1,370.0 991.7,344.8 992.3,344.8 992.9,360.3 993.2,362.4 994.5,341.1 995.7,348.6 996.9,382.7 998.1,312.8 999.4,305.0 1000.6,344.3 1000.9,343.6 1001.5,338.2 1002.1,338.2 1002.7,316.4 1003.0,313.4 1004.2,318.8 1005.5,384.2 1006.7,371.5 1007.9,376.9 1009.1,326.0 1009.5,310.9 1010.1,200.3 1010.7,200.3 1011.3,316.7 1011.6,332.6 1012.8,378.1 1014.0,368.5 1014.4,362.5 1015.0,319.1 1015.6,319.1 1016.2,361.7 1016.5,367.5 1017.7,351.0 1018.9,335.7 1020.1,374.9 1021.4,331.6 1021.7,332.3 1022.3,337.8 1022.9,337.8 1023.5,368.1 1023.8,372.2 1025.0,353.8 1026.3,373.2 1027.5,383.1 1028.7,319.3 1029.9,321.7 1031.1,381.6 1032.4,346.6 1032.7,331.2 1033.3,218.4 1033.9,218.4 1034.5,318.1 1034.8,331.7 1036.0,347.2 1037.3,327.2 1038.5,382.7 1039.7,343.3 1040.0,340.0 1040.6,316.5 1041.2,316.5 1041.8,335.7 1042.1,338.4 1043.4,311.5 1044.6,344.9 1045.8,360.7 1047.0,305.1 1047.4,307.7 1048.0,326.5 1048.6,326.5 1049.2,332.5 1049.5,333.3 1050.7,326.2 1051.9,311.5 1053.1,361.9 1054.4,359.8 1055.6,342.2 1056.8,334.9 1057.1,323.8 1057.7,242.6 1058.3,242.6 1058.9,318.3 1059.3,328.6 1059.6,300.7 1060.2,96.0 1060.8,96.0 1061.4,282.1 1061.7,307.5 1062.9,321.2 1064.1,341.0 1065.4,386.4 1066.6,385.5 1067.8,335.2 1069.0,378.6 1070.3,351.2 1071.5,366.3 1072.7,315.1 1073.0,314.4 1073.6,309.0 1074.2,309.0 1074.8,354.2 1075.1,360.4 1076.4,357.0 1076.7,346.5 1077.3,269.1 1077.9,269.1 1078.5,349.9 1078.8,360.9 1080.0,386.4 1081.3,386.4 1082.5,383.1 1083.7,354.1 1084.9,386.4 1086.2,386.4 1087.4,352.6 1087.7,342.1 1088.3,265.3 1088.9,265.3 1089.5,341.3 1089.8,351.7 1091.0,364.6 1091.4,354.9 1092.0,283.1 1092.6,283.1 1093.2,350.8 1093.5,360.0 1094.7,385.3 1095.9,385.2 1097.2,358.6 1098.4,349.9 1099.6,333.0 1100.8,338.4 1101.1,323.3 1101.7,212.1 1102.3,212.1 1102.9,320.8 1103.3,335.7 1104.5,361.3 1105.7,366.8 1106.9,365.3 1108.2,377.7 1109.4,375.0 1109.7,371.5 1110.3,345.9 1110.9,345.9 1111.5,370.6 1111.8,373.9 1113.0,365.7 1114.3,374.1 1114.6,371.5 1115.2,352.4 1115.8,352.4 1116.4,363.9 1116.7,365.5 1117.9,348.6 1119.2,350.4 1120.4,368.9 1121.6,369.9 1122.8,370.8 1124.0,360.3 1125.3,367.6 1126.5,371.2 1127.7,355.8 1128.9,372.1 1130.2,355.7 1130.5,345.5 1131.1,270.6 1131.7,270.6 1132.3,312.6 1132.6,318.4 1132.9,313.4 1133.5,277.1 1134.1,277.1 1134.7,331.7 1135.0,339.2 1136.3,373.5 1137.5,364.0 1138.7,355.0 1139.9,343.6 1140.3,332.7 1140.9,252.8 1141.5,252.8 1142.1,338.6 1142.4,350.3 1143.6,385.6 1144.8,386.4 1146.0,361.7 1146.4,351.9 1147.0,280.5 1147.6,280.5 1148.2,346.5 1148.5,355.5 1148.8,348.3 1149.4,295.8 1150.0,295.8 1150.6,341.9 1150.9,348.2 1152.2,379.0 1153.4,374.5 1154.6,360.1 1155.8,315.4 1157.0,366.4 1157.4,360.7 1158.0,318.4 1158.6,318.4 1159.2,365.6 1159.5,372.0 1160.7,326.5 1161.0,326.9 1161.6,329.4 1162.2,329.4 1162.8,343.0 1163.2,344.9 1164.4,383.2 1165.6,355.0 1166.8,369.4 1168.1,373.3 1169.3,369.5 1170.5,354.1 1171.7,354.1 1172.9,356.3 1174.2,336.3 1175.4,334.4 1175.7,335.3 1176.3,342.1 1176.9,342.1 1177.5,311.8 1177.8,307.7 1178.2,305.8 1178.8,291.7 1179.4,291.7 1180.0,309.2 1180.3,311.6 1181.5,317.6 1182.7,341.5 1183.9,380.3 1185.2,361.3 1186.4,383.9 1187.6,364.7 1188.8,368.4 1189.2,360.1 1189.8,299.7 1190.4,299.7 1191.0,359.7 1191.3,367.9 1192.5,358.2 1193.7,376.4 1194.9,335.4 1195.3,336.2 1195.9,341.8 1196.5,341.8 1197.1,359.4 1197.4,361.8 1198.6,342.7 1199.8,365.2 1200.2,362.6 1200.8,343.7 1201.4,343.7 1202.0,368.1 1202.3,371.4 1203.5,375.5 1204.7,367.4 1205.0,360.8 1205.6,312.3 1206.2,312.3 1206.8,360.7 1207.2,367.3 1208.4,386.4 1209.6,385.4 1210.8,382.2 1212.1,344.0 1213.3,351.3 1213.6,339.2 1214.2,250.3 1214.8,250.3 1215.4,338.8 1215.7,350.8 1216.9,386.4 1218.2,356.0 1218.5,348.3 1219.1,292.1 1219.7,292.1 1220.3,347.0 1220.6,354.5 1221.8,317.2 1223.1,370.3 1224.3,358.1 1224.6,353.9 1225.2,323.6 1225.8,323.6 1226.4,366.1 1226.7,371.9 1227.9,359.5 1229.2,344.5 1229.5,341.3 1230.1,317.7 1230.7,317.7 1231.3,361.2 1231.6,367.1 1232.8,372.9 1234.1,347.1 1235.3,367.7 1235.6,365.3 1236.2,347.3 1236.8,347.3 1237.4,315.5 1237.7,311.2 1239.0,368.1 1240.2,384.5 1241.4,359.0 1242.6,326.0 1242.9,323.8 1243.5,307.4 1244.1,307.4 1244.7,355.0 1245.1,361.5 1246.3,339.5 1247.5,374.1 1248.7,330.5 1250.0,376.4 1251.2,372.1 1252.4,364.1 1252.7,357.4 1253.3,308.4 1253.9,308.4 1254.5,354.1 1254.8,360.4 1256.1,348.0 1256.4,345.2 1257.0,324.8 1257.6,324.8 1258.2,330.2 1258.5,331.0 1259.7,317.4 1261.0,357.4 1262.2,359.2 1263.4,336.1 1263.7,329.7 1264.3,283.3 1264.9,283.3 1265.5,352.7 1265.8,362.1 1267.1,349.0 1267.4,348.3 1268.0,343.2 1268.6,343.2 1269.2,361.2 1269.5,363.6 1270.7,361.7 1272.0,371.3 1273.2,377.5 1274.4,375.5 1275.6,355.7 1276.8,327.5 1278.1,375.2 1279.3,378.9 1280.5,379.7 1281.7,383.9 1283.0,354.0 1283.3,345.0 1283.9,278.7 1284.5,278.7 1285.1,349.0 1285.4,358.5 1286.6,324.4 1287.8,328.0 1288.2,327.7 1288.8,326.0 1289.4,326.0 1290.0,327.5 1290.3,327.8 1291.5,339.5 1292.7,339.3 1294.0,363.3 1295.2,356.3 1296.4,363.2 1297.6,347.8 1297.9,337.0 1298.5,257.6 1299.1,257.6 1299.7,338.3 1300.1,349.3 1301.3,352.3 1302.5,366.1 1303.7,323.7 1305.0,328.7 1306.2,358.8 1307.4,385.8 1308.6,372.0 1308.9,368.1 1309.5,339.0 1310.1,339.0 1310.7,351.0 1311.1,352.6 1312.3,369.4 1313.5,369.6 1313.8,364.2 1314.4,324.7 1315.0,324.7 1315.6,361.6 1316.0,366.6 1317.2,371.6 1318.4,375.0 1319.6,375.0 1320.9,375.6 1322.1,359.9 1323.3,337.8 1324.5,359.9 1324.8,350.9 1325.4,285.2 1326.0,285.2 1326.6,316.3 1327.0,320.6 1328.2,330.0 1329.4,374.7 1329.7,371.8 1330.3,350.3 1330.9,350.3 1331.5,370.4 1331.9,373.1 1333.1,360.3 1334.3,367.0 1335.5,331.9 1336.7,364.4 1338.0,336.5 1338.3,337.9 1338.9,348.3 1339.5,348.3 1340.1,372.6 1340.4,376.0 1341.6,366.8 1342.9,378.7 1344.1,375.4 1344.4,372.0 1345.0,346.7 1345.6,346.7 1346.2,360.4 1346.5,362.3 1347.7,322.1 1349.0,361.3 1349.3,354.2 1349.9,301.7 1350.5,301.7 1351.1,334.1 1351.4,338.6 1352.6,356.5 1353.9,329.9 1355.1,354.5 1355.4,353.4 1356.0,345.5 1356.6,345.5 1357.2,326.9 1357.5,324.4 1358.7,345.5 1360.0,359.8 1361.2,367.3 1361.5,362.9 1362.1,330.9 1362.7,330.9 1363.3,360.1 1363.6,364.1 1364.9,319.3 1366.1,351.8 1367.3,336.2 1367.6,336.7 1368.2,340.0 1368.8,340.0 1369.4,356.3 1369.7,358.5 1371.0,364.8 1371.3,360.4 1371.9,328.1 1372.5,328.1 1373.1,358.6 1373.4,362.7 1374.6,353.3 1375.0,342.9 1375.6,266.6 1376.2,266.6 1376.8,347.5 1377.1,358.5 1378.3,379.0 1379.5,343.3 1379.8,339.6 1380.4,313.0 1381.0,313.0 1381.6,354.4 1382.0,360.1 1383.2,385.9 1384.4,340.8 1384.7,332.4 1385.3,270.4 1385.9,270.4 1386.5,347.9 1386.9,358.4 1388.1,386.0 1389.3,328.9 1390.5,321.0 1390.9,319.2 1391.5,305.9 1392.1,305.9 1392.7,351.4 1393.0,357.6 1394.2,354.1 1394.5,352.9 1395.1,344.3 1395.7,344.3 1396.3,359.5 1396.6,361.5 1397.9,370.6 1399.1,367.8 1400.3,348.1 1401.5,375.4 1402.8,369.2 1404.0,370.5 1404.3,367.4 1404.9,345.1 1405.5,345.1 1406.1,327.3 1406.4,324.9 1407.6,375.3 1408.9,375.1 1410.1,370.7 1410.4,368.0 1411.0,348.4 1411.6,348.4 1412.2,359.6 1412.5,361.1 1413.8,385.4 1415.0,333.0 1416.2,363.7 1416.5,359.4 1417.1,328.4 1417.7,328.4 1418.3,350.5 1418.6,353.6 1419.9,332.9 1421.1,355.8 1422.3,373.7 1423.5,364.9 1423.9,362.3 1424.5,343.4 1425.1,343.4 1425.7,371.5 1426.0,375.4 1427.2,386.4"/>
<path class="d" stroke="#1A6FDF" d="M204.8,356.5 206.0,386.4 207.2,361.0 207.6,351.2 208.2,279.6 208.8,279.6 209.4,348.4 209.7,357.8 210.9,349.3 211.2,339.7 211.8,269.4 212.4,269.4 213.0,325.1 213.4,332.7 214.6,353.5 215.8,355.5 217.0,336.3 218.2,376.7 218.6,369.7 219.2,318.6 219.8,318.6 220.4,370.8 220.7,377.9 221.9,386.4 223.1,386.4 224.4,380.7 224.7,376.5 225.3,345.1 225.9,345.1 226.5,374.0 226.8,378.0 228.0,339.0 229.2,341.2 230.5,383.7 231.7,372.3 232.9,384.5 234.1,310.4 235.4,380.7 236.6,384.7 237.8,370.8 238.1,362.2 238.7,298.8 239.3,298.8 239.9,358.3 240.2,366.4 241.5,353.4 242.7,367.2 243.9,331.7 244.2,324.7 244.8,273.7 245.4,273.7 246.0,346.8 246.4,356.7 247.6,341.1 248.8,346.8 249.1,331.0 249.7,215.3 250.3,215.3 250.9,321.6 251.3,336.1 252.5,367.2 253.7,365.6 254.9,340.0 256.1,366.8 256.5,360.4 257.1,313.2 257.7,313.2 258.3,317.4 258.6,317.9 259.8,384.4 261.0,379.2 262.3,378.8 263.5,374.7 264.7,379.8 265.9,318.8 267.1,357.6 268.4,368.9 268.7,360.8 269.3,301.0 269.9,301.0 270.5,357.8 270.8,365.6 272.0,340.6 272.4,329.4 273.0,247.2 273.6,247.2 274.2,311.7 274.5,320.5 275.7,383.9 276.9,370.3 278.1,348.1 279.4,336.0 280.6,368.5 281.8,371.0 283.0,322.6 284.3,374.6 285.5,363.1 285.8,351.2 286.4,263.2 287.0,263.2 287.6,320.9 287.9,328.8 289.1,377.6 290.4,326.5 290.7,325.7 291.3,320.5 291.9,320.5 292.5,360.1 292.8,365.5 294.0,337.4 295.3,356.8 296.5,304.0 297.7,345.4 298.9,368.4 300.1,345.3 300.5,330.6 301.1,222.5 301.7,222.5 302.3,337.5 302.6,353.2 303.8,379.7 305.0,380.8 306.3,386.4 307.5,386.4 308.7,386.4 309.9,386.4 311.1,382.6 311.5,376.7 312.1,334.2 312.7,334.2 313.3,367.9 313.6,372.5 314.8,372.8 316.0,349.0 317.3,378.0 318.5,371.4 319.7,367.6 320.9,332.7 322.2,380.4 323.4,376.2 324.6,333.7 325.8,342.4 326.1,333.9 326.7,272.2 327.3,272.2 327.9,349.4 328.3,359.9 329.5,385.7 330.7,382.2 331.9,355.7 333.2,374.6 334.4,347.7 335.6,358.3 335.9,347.6 336.5,268.5 337.1,268.5 337.7,346.0 338.0,356.6 339.3,386.4 340.5,386.4 341.7,365.3 342.0,355.6 342.6,284.9 343.2,284.9 343.8,350.4 344.2,359.3 345.4,327.5 346.6,380.4 347.8,309.6 349.0,325.8 350.3,361.3 350.6,350.6 351.2,272.9 351.8,272.9 352.4,343.9 352.7,353.6 353.9,386.4 355.2,358.7 356.4,356.3 357.6,326.4 358.8,345.7 360.0,324.6 361.3,368.1 361.6,359.6 362.2,297.2 362.8,297.2 363.4,358.6 363.7,366.9 364.9,356.9 366.2,341.7 367.4,344.6 368.6,363.3 369.8,375.2 371.0,332.5 371.4,325.2 372.0,272.2 372.6,272.2 373.2,348.9 373.5,359.4 374.7,372.9 375.9,386.2 377.2,372.2 378.4,323.3 379.6,386.4 380.8,357.5 381.1,347.0 381.7,269.9 382.3,269.9 382.9,346.4 383.3,356.8 384.5,322.6 385.7,360.4 386.0,348.3 386.6,259.2 387.2,259.2 387.8,341.4 388.2,352.6 389.4,354.9 390.6,386.4 391.8,377.4 393.0,364.6 394.3,379.7 395.5,386.4 396.7,381.6 397.9,385.0 399.2,386.4 400.4,365.7 400.7,358.2 401.3,302.9 401.9,302.9 402.5,329.5 402.8,333.1 404.1,369.9 405.3,357.0 405.6,348.9 406.2,289.5 406.8,289.5 407.4,321.6 407.7,326.0 408.9,386.4 410.2,341.4 411.4,372.0 412.6,368.4 413.8,386.4 415.1,357.2 416.3,320.9 417.5,372.5 418.7,311.4 419.9,336.0 421.2,338.0 422.4,360.1 423.6,357.5 424.8,359.7 425.2,354.1 425.8,313.3 426.4,313.3 427.0,318.0 427.3,318.6 427.6,318.3 428.2,315.9 428.8,315.9 429.4,345.5 429.7,349.6 430.9,364.2 432.2,315.3 433.4,355.5 434.6,313.1 435.8,355.0 437.1,320.6 437.4,298.2 438.0,133.8 438.6,133.8 439.2,297.2 439.5,319.5 440.7,345.5 441.9,380.3 443.2,349.0 444.4,384.6 445.6,385.2 446.8,386.4 448.1,336.6 448.4,328.5 449.0,269.5 449.6,269.5 450.2,340.8 450.5,350.5 451.7,386.4 452.9,386.4 454.2,362.6 454.5,353.7 455.1,288.0 455.7,288.0 456.3,354.4 456.6,363.5 457.8,386.0 459.1,371.7 460.3,386.4 461.5,386.4 462.7,323.4 463.9,386.4 465.2,362.9 466.4,332.6 467.6,386.4 468.8,358.3 470.1,322.5 470.4,302.7 471.0,157.8 471.6,157.8 472.2,316.1 472.5,337.7 473.7,361.2 474.1,355.4 474.7,312.9 475.3,312.9 475.9,358.0 476.2,364.1 477.4,365.1 478.6,368.8 478.9,361.0 479.5,303.6 480.1,303.6 480.7,317.0 481.1,318.9 482.3,386.4 483.5,339.9 483.8,334.1 484.4,291.9 485.0,291.9 485.6,335.2 486.0,341.1 487.2,386.4 488.4,383.7 489.6,363.2 489.9,357.8 490.5,317.9 491.1,317.9 491.7,363.7 492.1,369.9 493.3,386.4 494.5,386.4 495.7,386.4 497.0,386.4 498.2,364.7 499.4,381.6 500.6,363.4 500.9,355.8 501.5,300.7 502.1,300.7 502.7,356.4 503.1,364.0 504.3,351.8 505.5,330.3 506.7,369.8 508.0,367.3 509.2,359.1 509.5,347.3 510.1,261.1 510.7,261.1 511.3,334.6 511.6,344.6 512.8,380.6 514.1,311.9 514.4,311.8 515.0,311.3 515.6,311.3 516.2,326.6 516.5,328.7 517.7,355.6 519.0,371.0 520.2,352.0 521.4,330.2 522.6,328.5 523.8,369.4 524.2,367.3 524.8,352.3 525.4,352.3 526.0,378.6 526.3,382.2 527.5,367.7 528.7,377.2 530.0,386.4 531.2,377.3 532.4,367.8 532.7,361.1 533.3,311.2 533.9,311.2 534.5,360.2 534.8,366.9 536.1,339.5 537.3,357.6 538.5,337.5 539.7,343.1 540.1,334.1 540.7,268.8 541.3,268.8 541.9,312.9 542.2,318.9 543.4,355.4 544.6,347.2 545.8,364.4 547.1,339.3 548.3,364.5 549.5,329.1 549.8,328.6 550.4,324.8 551.0,324.8 551.6,311.6 552.0,309.8 553.2,307.6 554.4,332.2 555.6,346.2 556.9,342.1 557.2,338.5 557.8,312.4 558.4,312.4 559.0,360.4 559.3,366.9 560.5,374.9 561.7,345.6 563.0,363.2 564.2,355.0 564.5,350.6 565.1,318.2 565.7,318.2 566.3,366.8 566.6,373.4 567.9,378.0 569.1,365.4 569.4,356.5 570.0,291.7 570.6,291.7 571.2,349.3 571.5,357.1 572.7,382.2 574.0,384.0 575.2,346.9 576.4,372.0 576.7,366.0 577.3,322.3 577.9,322.3 578.5,363.2 578.9,368.8 580.1,362.3 581.3,351.0 582.5,374.2 583.7,331.5 584.1,332.8 584.7,342.1 585.3,342.1 585.9,362.2 586.2,365.0 587.4,368.9 588.6,370.2 589.9,371.3 591.1,368.0 591.4,362.9 592.0,325.9 592.6,325.9 593.2,365.9 593.5,371.3 594.7,378.2 596.0,359.5 597.2,351.8 597.5,343.7 598.1,284.8 598.7,284.8 599.3,352.4 599.6,361.7 600.9,341.7 601.2,341.3 601.8,338.3 602.4,338.3 603.0,348.3 603.3,349.7 604.5,328.5 605.7,368.9 607.0,303.7 608.2,349.9 609.4,372.3 609.7,369.7 610.3,350.3 610.9,350.3 611.5,328.1 611.9,325.1 613.1,334.3 614.3,378.7 615.5,364.1 615.8,360.8 616.4,336.8 617.0,336.8 617.6,327.7 618.0,326.5 619.2,380.3 620.4,383.0 621.6,307.5 622.0,311.9 622.6,343.6 623.2,343.6 623.8,363.3 624.1,365.9 625.3,361.4 626.5,328.5 627.8,339.5 629.0,333.6 629.3,323.2 629.9,247.0 630.5,247.0 631.1,350.2 631.4,364.2 632.6,379.5 633.9,358.6 635.1,375.1 636.3,386.4 637.5,386.4 638.8,386.4 640.0,331.6 641.2,334.5 641.5,327.6 642.1,277.1 642.7,277.1 643.3,316.1 643.6,321.4 644.9,314.2 646.1,316.0 647.3,352.2 648.5,330.1 649.8,370.0 650.1,361.3 650.7,297.0 651.3,297.0 651.9,355.4 652.2,363.4 652.5,353.7 653.1,282.3 653.7,282.3 654.3,358.0 654.6,368.3 655.9,353.5 657.1,362.3 658.3,377.4 659.5,386.4 660.8,351.5 661.1,341.6 661.7,269.2 662.3,269.2 662.9,335.5 663.2,344.6 664.4,381.4 665.6,386.4 666.9,372.4 667.2,366.8 667.8,325.9 668.4,325.9 669.0,353.3 669.3,357.0 670.5,341.4 671.8,386.4 673.0,365.4 674.2,374.5 675.4,360.8 675.7,350.0 676.3,270.8 676.9,270.8 677.5,345.1 677.9,355.3 679.1,332.1 680.3,352.0 681.5,377.9 682.8,386.4 684.0,360.9 685.2,347.4 685.5,330.2 686.1,204.7 686.7,204.7 687.3,326.1 687.6,342.6 688.9,351.8 689.2,348.2 689.8,322.2 690.4,322.2 691.0,342.3 691.3,345.1 692.5,361.8 693.8,355.9 695.0,364.2 696.2,357.6 696.5,351.1 697.1,304.0 697.7,304.0 698.3,341.4 698.6,346.6 699.9,380.3 701.1,370.3 701.4,365.1 702.0,327.1 702.6,327.1 703.2,360.6 703.5,365.2 704.8,321.6 706.0,386.4 707.2,362.4 708.4,326.3 709.7,378.5 710.9,359.8 711.2,357.1 711.8,337.3 712.4,337.3 713.0,372.4 713.3,377.2 714.5,376.5 715.8,386.4 717.0,359.1 717.3,347.3 717.9,260.4 718.5,260.4 719.1,341.5 719.4,352.6 720.7,372.4 721.0,367.1 721.6,327.6 722.2,327.6 722.8,373.4 723.1,379.6 724.3,344.0 725.5,347.4 726.8,319.9 727.1,319.3 727.7,314.7 728.3,314.7 728.9,364.5 729.2,371.3 730.4,361.9 731.7,371.5 732.9,363.2 733.2,352.2 733.8,271.7 734.4,271.7 735.0,348.3 735.3,358.7 736.5,322.5 737.8,375.8 739.0,370.7 740.2,377.1 741.4,371.3 742.7,370.8 743.9,364.5 744.2,359.2 744.8,320.4 745.4,320.4 746.0,369.3 746.3,376.0 747.5,383.0 748.8,340.5 750.0,386.4 751.2,361.5 752.4,386.4 753.7,378.7 754.9,361.0 755.2,354.8 755.8,309.2 756.4,309.2 757.0,356.5 757.3,363.0 758.5,370.9 758.9,367.4 759.5,341.2 760.1,341.2 760.7,373.9 761.0,378.4 762.2,340.9 763.4,352.7 763.8,344.0 764.4,280.6 765.0,280.6 765.6,360.9 765.9,371.9 767.1,374.1 768.3,386.4 769.5,386.4 770.8,375.4 771.1,372.1 771.7,347.6 772.3,347.6 772.9,351.3 773.2,351.8 774.4,328.0 775.7,370.4 776.0,364.1 776.6,318.0 777.2,318.0 777.8,362.0 778.1,368.0 779.3,380.3 780.6,386.4 781.8,345.9 782.1,339.9 782.7,296.4 783.3,296.4 783.9,352.0 784.2,359.6 785.4,386.4 786.7,386.4 787.9,356.8 788.2,351.7 788.8,314.3 789.4,314.3 790.0,365.7 790.3,372.7 791.6,386.4 792.8,384.5 794.0,350.8 794.3,347.6 794.9,323.6 795.5,323.6 796.1,364.2 796.4,369.8 797.7,349.3 798.9,386.4 800.1,385.3 801.3,360.0 801.7,348.2 802.3,262.2 802.9,262.2 803.5,347.2 803.8,358.8 805.0,386.4 806.2,386.2 807.4,370.8 808.7,368.6 809.0,361.9 809.6,312.7 810.2,312.7 810.8,347.6 811.1,352.4 812.3,326.9 813.6,377.1 813.9,370.3 814.5,319.8 815.1,319.8 815.7,346.2 816.0,349.8 817.2,311.6 818.4,358.9 819.7,313.7 820.9,376.9 822.1,368.2 822.4,362.1 823.0,317.9 823.6,317.9 824.2,320.1 824.6,320.4 825.8,366.9 827.0,376.4 828.2,314.1 828.5,293.9 829.1,145.4 829.7,145.4 830.3,304.5 830.7,326.1 831.9,386.4 833.1,386.4 834.3,384.8 835.6,328.1 836.8,374.4 838.0,386.4 839.2,329.8 839.5,313.9 840.1,197.6 840.7,197.6 841.3,322.2 841.7,339.2 842.9,382.4 844.1,374.5 845.3,386.4 846.6,335.6 846.9,318.4 847.5,192.8 848.1,192.8 848.7,300.7 849.0,315.5 850.2,367.2 851.4,345.7 852.7,376.9 853.0,373.0 853.6,344.6 854.2,344.6 854.8,352.1 855.1,353.1 856.3,378.2 857.6,386.4 858.8,330.5 860.0,383.0 861.2,350.6 861.6,346.8 862.2,319.5 862.8,319.5 863.4,358.8 863.7,364.1 864.9,343.5 866.1,338.6 867.3,349.9 867.7,348.0 868.3,333.8 868.9,333.8 869.5,366.4 869.8,370.9 871.0,357.1 872.2,359.9 873.5,383.0 873.8,380.0 874.4,357.5 875.0,357.5 875.6,350.7 875.9,349.8 877.1,356.1 878.3,303.6 879.6,368.4 879.9,362.3 880.5,317.6 881.1,317.6 881.7,317.6 882.0,317.7 883.2,365.5 883.6,357.4 884.2,298.1 884.8,298.1 885.4,345.7 885.7,352.2 886.9,385.2 888.1,331.5 889.3,359.6 889.7,353.5 890.3,309.0 890.9,309.0 891.5,339.5 891.8,343.6 893.0,372.2 894.2,378.9 895.5,372.0 896.7,315.9 897.9,333.6 899.1,366.0 900.3,322.7 900.7,326.1 901.3,350.7 901.9,350.7 902.5,364.0 902.8,365.8 904.0,377.3 905.2,380.0 906.5,362.0 906.8,357.4 907.4,323.7 908.0,323.7 908.6,346.3 908.9,349.3 910.1,364.4 911.3,356.4 911.7,351.7 912.3,317.4 912.9,317.4 913.5,356.3 913.8,361.6 915.0,346.7 915.3,342.7 915.9,313.0 916.5,313.0 917.1,316.1 917.5,316.5 917.8,313.0 918.4,287.0 919.0,287.0 919.6,320.4 919.9,324.9 921.1,376.0 921.4,368.6 922.0,313.7 922.6,313.7 923.2,359.4 923.6,365.6 923.9,355.6 924.5,282.5 925.1,282.5 925.7,341.2 926.0,349.2 927.2,386.4 928.5,368.7 928.8,361.3 929.4,307.1 930.0,307.1 930.6,355.9 930.9,362.5 932.1,342.9 933.4,386.4 934.6,352.0 935.8,383.5 937.0,366.8 937.3,357.3 937.9,287.6 938.5,287.6 939.1,357.1 939.5,366.6 940.7,335.5 941.9,311.7 942.2,290.8 942.8,137.5 943.4,137.5 944.0,301.8 944.4,324.2 945.6,363.8 946.8,338.2 948.0,349.7 948.3,347.1 948.9,327.8 949.5,327.8 950.1,344.0 950.5,346.3 951.7,349.6 952.9,348.8 954.1,332.7 954.5,333.2 955.1,336.4 955.7,336.4 956.3,325.7 956.6,324.3 957.8,359.1 959.0,386.4 960.2,351.8 960.6,350.5 961.2,340.9 961.8,340.9 962.4,322.3 962.7,319.8 963.9,339.9 965.1,373.2 966.4,386.4 967.6,385.6 968.8,284.1 969.1,265.1 969.7,125.3 970.3,125.3 970.9,296.8 971.2,320.2 972.5,358.7 973.7,386.4 974.9,314.4 976.1,368.5 977.4,367.0 978.6,320.7 979.8,367.6 981.0,308.7 981.3,300.0 981.9,236.7 982.5,236.7 983.1,349.1 983.5,364.4 984.7,351.0 985.0,338.4 985.6,246.1 986.2,246.1 986.8,330.6 987.1,342.1 988.4,321.3 989.6,379.7 990.8,381.1 991.1,377.5 991.7,351.1 992.3,351.1 992.9,369.2 993.2,371.6 994.5,349.3 995.7,360.2 996.9,386.4 998.1,321.0 999.4,316.9 1000.6,349.5 1000.9,348.7 1001.5,342.6 1002.1,342.6 1002.7,308.0 1003.0,303.2 1004.2,317.9 1005.5,386.4 1006.7,378.1 1007.9,378.0 1009.1,332.2 1009.5,311.9 1010.1,162.6 1010.7,162.6 1011.3,315.2 1011.6,336.0 1012.8,386.4 1014.0,368.5 1014.4,362.9 1015.0,321.6 1015.6,321.6 1016.2,371.1 1016.5,377.8 1017.7,347.1 1018.9,347.0 1020.1,379.7 1021.4,339.0 1021.7,338.2 1022.3,332.4 1022.9,332.4 1023.5,368.8 1023.8,373.7 1025.0,363.0 1026.3,381.0 1027.5,386.4 1028.7,330.4 1029.9,327.3 1031.1,385.0 1032.4,352.3 1032.7,338.7 1033.3,238.6 1033.9,238.6 1034.5,329.0 1034.8,341.4 1036.0,357.3 1037.3,330.2 1038.5,386.2 1039.7,349.1 1040.0,346.0 1040.6,323.2 1041.2,323.2 1041.8,338.0 1042.1,340.0 1043.4,305.3 1044.6,344.3 1045.8,362.3 1047.0,324.1 1047.4,324.0 1048.0,323.4 1048.6,323.4 1049.2,335.1 1049.5,336.7 1050.7,332.3 1051.9,310.9 1053.1,359.1 1054.4,365.8 1055.6,343.8 1056.8,343.1 1057.1,333.1 1057.7,259.6 1058.3,259.6 1058.9,315.7 1059.3,323.3 1059.6,301.6 1060.2,142.2 1060.8,142.2 1061.4,296.8 1061.7,317.9 1062.9,334.2 1064.1,349.4 1065.4,386.4 1066.6,386.4 1067.8,341.3 1069.0,386.0 1070.3,363.9 1071.5,370.3 1072.7,317.7 1073.0,317.2 1073.6,313.0 1074.2,313.0 1074.8,359.1 1075.1,365.4 1076.4,364.0 1076.7,353.7 1077.3,278.5 1077.9,278.5 1078.5,352.7 1078.8,362.9 1080.0,386.4 1081.3,386.4 1082.5,386.4 1083.7,354.2 1084.9,386.4 1086.2,386.4 1087.4,360.0 1087.7,350.4 1088.3,279.9 1088.9,279.9 1089.5,345.2 1089.8,354.1 1091.0,368.3 1091.4,359.8 1092.0,297.8 1092.6,297.8 1093.2,357.6 1093.5,365.8 1094.7,386.4 1095.9,386.4 1097.2,364.8 1098.4,361.7 1099.6,338.7 1100.8,352.4 1101.1,338.0 1101.7,232.7 1102.3,232.7 1102.9,322.5 1103.3,334.7 1104.5,371.3 1105.7,375.7 1106.9,367.5 1108.2,386.4 1109.4,381.9 1109.7,377.9 1110.3,348.9 1110.9,348.9 1111.5,370.4 1111.8,373.3 1113.0,373.5 1114.3,380.7 1114.6,378.9 1115.2,366.0 1115.8,366.0 1116.4,369.5 1116.7,370.0 1117.9,344.8 1119.2,352.2 1120.4,376.4 1121.6,370.4 1122.8,380.3 1124.0,369.9 1125.3,367.5 1126.5,375.2 1127.7,366.0 1128.9,379.1 1130.2,359.0 1130.5,350.1 1131.1,284.9 1131.7,284.9 1132.3,327.3 1132.6,333.1 1132.9,326.4 1133.5,277.5 1134.1,277.5 1134.7,339.6 1135.0,348.0 1136.3,378.3 1137.5,364.0 1138.7,363.4 1139.9,349.4 1140.3,339.4 1140.9,266.3 1141.5,266.3 1142.1,350.8 1142.4,362.3 1143.6,386.4 1144.8,386.4 1146.0,369.4 1146.4,360.4 1147.0,294.6 1147.6,294.6 1148.2,347.7 1148.5,355.0 1148.8,346.7 1149.4,286.0 1150.0,286.0 1150.6,341.3 1150.9,348.8 1152.2,382.5 1153.4,375.3 1154.6,364.6 1155.8,328.0 1157.0,372.6 1157.4,366.3 1158.0,320.0 1158.6,320.0 1159.2,368.3 1159.5,374.9 1160.7,334.0 1161.0,334.3 1161.6,336.6 1162.2,336.6 1162.8,345.9 1163.2,347.2 1164.4,386.4 1165.6,360.6 1166.8,375.6 1168.1,376.4 1169.3,376.1 1170.5,359.1 1171.7,356.0 1172.9,360.2 1174.2,337.5 1175.4,340.8 1175.7,340.5 1176.3,338.3 1176.9,338.3 1177.5,316.1 1177.8,313.0 1178.2,311.5 1178.8,300.4 1179.4,300.4 1180.0,312.4 1180.3,314.0 1181.5,322.5 1182.7,342.5 1183.9,382.7 1185.2,368.4 1186.4,386.4 1187.6,370.0 1188.8,375.0 1189.2,367.4 1189.8,311.0 1190.4,311.0 1191.0,361.9 1191.3,368.9 1192.5,367.9 1193.7,378.2 1194.9,339.9 1195.3,341.2 1195.9,350.2 1196.5,350.2 1197.1,359.5 1197.4,360.8 1198.6,348.6 1199.8,374.9 1200.2,371.4 1200.8,346.2 1201.4,346.2 1202.0,368.9 1202.3,372.0 1203.5,381.2 1204.7,373.4 1205.0,366.3 1205.6,314.9 1206.2,314.9 1206.8,360.2 1207.2,366.4 1208.4,386.4 1209.6,386.4 1210.8,386.0 1212.1,349.4 1213.3,356.6 1213.6,344.6 1214.2,256.3 1214.8,256.3 1215.4,349.2 1215.7,361.9 1216.9,386.4 1218.2,362.9 1218.5,354.3 1219.1,291.1 1219.7,291.1 1220.3,349.6 1220.6,357.6 1221.8,325.0 1223.1,372.5 1224.3,362.3 1224.6,356.4 1225.2,312.8 1225.8,312.8 1226.4,371.8 1226.7,379.8 1227.9,363.4 1229.2,355.3 1229.5,353.3 1230.1,338.8 1230.7,338.8 1231.3,374.8 1231.6,379.7 1232.8,372.6 1234.1,349.9 1235.3,379.0 1235.6,375.0 1236.2,345.5 1236.8,345.5 1237.4,334.7 1237.7,333.3 1239.0,376.3 1240.2,385.6 1241.4,357.5 1242.6,335.4 1242.9,333.4 1243.5,318.4 1244.1,318.4 1244.7,364.2 1245.1,370.4 1246.3,344.1 1247.5,381.1 1248.7,324.3 1250.0,380.4 1251.2,371.8 1252.4,369.9 1252.7,362.4 1253.3,307.5 1253.9,307.5 1254.5,360.2 1254.8,367.4 1256.1,355.9 1256.4,353.9 1257.0,339.9 1257.6,339.9 1258.2,331.8 1258.5,330.7 1259.7,331.9 1261.0,358.3 1262.2,363.4 1263.4,335.1 1263.7,332.5 1264.3,312.8 1264.9,312.8 1265.5,356.4 1265.8,362.3 1267.1,357.2 1267.4,356.7 1268.0,352.4 1268.6,352.4 1269.2,371.3 1269.5,373.9 1270.7,369.3 1272.0,375.4 1273.2,386.4 1274.4,381.5 1275.6,361.3 1276.8,334.8 1278.1,376.7 1279.3,386.4 1280.5,386.4 1281.7,386.4 1283.0,358.3 1283.3,350.0 1283.9,289.4 1284.5,289.4 1285.1,349.3 1285.4,357.5 1286.6,325.8 1287.8,337.2 1288.2,336.6 1288.8,332.6 1289.4,332.6 1290.0,322.1 1290.3,320.7 1291.5,349.8 1292.7,343.9 1294.0,368.5 1295.2,358.7 1296.4,369.4 1297.6,355.7 1297.9,342.5 1298.5,246.3 1299.1,246.3 1299.7,343.9 1300.1,357.2 1301.3,349.3 1302.5,376.0 1303.7,333.6 1305.0,328.7 1306.2,362.3 1307.4,386.4 1308.6,373.4 1308.9,369.6 1309.5,341.9 1310.1,341.9 1310.7,351.9 1311.1,353.3 1312.3,373.0 1313.5,370.4 1313.8,366.9 1314.4,341.4 1315.0,341.4 1315.6,374.9 1316.0,379.4 1317.2,376.3 1318.4,383.9 1319.6,375.6 1320.9,383.6 1322.1,361.5 1323.3,353.5 1324.5,371.1 1324.8,361.9 1325.4,294.8 1326.0,294.8 1326.6,320.9 1327.0,324.5 1328.2,339.9 1329.4,385.6 1329.7,382.0 1330.3,355.5 1330.9,355.5 1331.5,378.5 1331.9,381.6 1333.1,369.9 1334.3,377.0 1335.5,337.2 1336.7,367.2 1338.0,354.8 1338.3,354.4 1338.9,351.4 1339.5,351.4 1340.1,375.4 1340.4,378.7 1341.6,377.6 1342.9,379.7 1344.1,379.6 1344.4,377.0 1345.0,357.3 1345.6,357.3 1346.2,360.5 1346.5,360.9 1347.7,327.7 1349.0,369.7 1349.3,360.4 1349.9,292.2 1350.5,292.2 1351.1,331.8 1351.4,337.2 1352.6,357.2 1353.9,326.7 1355.1,366.9 1355.4,365.8 1356.0,358.0 1356.6,358.0 1357.2,329.0 1357.5,325.1 1358.7,360.1 1360.0,363.7 1361.2,369.8 1361.5,365.6 1362.1,334.8 1362.7,334.8 1363.3,366.8 1363.6,371.1 1364.9,329.6 1366.1,348.9 1367.3,354.4 1367.6,352.9 1368.2,341.9 1368.8,341.9 1369.4,353.1 1369.7,354.6 1371.0,374.6 1371.3,368.8 1371.9,325.9 1372.5,325.9 1373.1,370.0 1373.4,376.1 1374.6,357.9 1375.0,347.6 1375.6,272.3 1376.2,272.3 1376.8,358.9 1377.1,370.7 1378.3,380.2 1379.5,347.9 1379.8,344.7 1380.4,321.9 1381.0,321.9 1381.6,363.6 1382.0,369.3 1383.2,386.4 1384.4,349.4 1384.7,340.4 1385.3,274.2 1385.9,274.2 1386.5,353.4 1386.9,364.2 1388.1,386.4 1389.3,321.0 1390.5,332.3 1390.9,330.3 1391.5,315.8 1392.1,315.8 1392.7,363.0 1393.0,369.4 1394.2,351.7 1394.5,352.0 1395.1,354.4 1395.7,354.4 1396.3,365.0 1396.6,366.5 1397.9,375.3 1399.1,377.1 1400.3,349.0 1401.5,375.9 1402.8,371.6 1404.0,376.4 1404.3,374.4 1404.9,360.3 1405.5,360.3 1406.1,334.4 1406.4,330.8 1407.6,382.9 1408.9,379.5 1410.1,371.8 1410.4,369.6 1411.0,353.6 1411.6,353.6 1412.2,367.0 1412.5,368.8 1413.8,386.4 1415.0,344.1 1416.2,366.6 1416.5,362.6 1417.1,333.7 1417.7,333.7 1418.3,354.1 1418.6,356.9 1419.9,331.4 1421.1,364.6 1422.3,385.2 1423.5,375.8 1423.9,372.6 1424.5,349.0 1425.1,349.0 1425.7,376.9 1426.0,380.8 1427.2,386.4"/>
<path class="d" stroke="#37AD6B" d="M204.8,355.4 206.0,386.4 207.2,353.9 207.6,343.8 208.2,269.6 208.8,269.6 209.4,338.6 209.7,348.1 210.9,344.1 211.2,334.2 211.8,261.7 212.4,261.7 213.0,314.6 213.4,321.8 214.6,346.8 215.8,350.2 217.0,321.8 218.2,365.3 218.6,357.4 219.2,299.9 219.8,299.9 220.4,357.2 220.7,365.0 221.9,382.1 223.1,386.4 224.4,373.4 224.7,368.2 225.3,329.7 225.9,329.7 226.5,367.9 226.8,373.1 228.0,327.0 229.2,331.5 230.5,376.7 231.7,368.7 232.9,373.3 234.1,301.3 235.4,372.8 236.6,374.8 237.8,359.7 238.1,350.6 238.7,283.5 239.3,283.5 239.9,352.5 240.2,362.0 241.5,337.4 242.7,357.4 243.9,316.5 244.2,310.1 244.8,263.1 245.4,263.1 246.0,331.0 246.4,340.3 247.6,333.3 248.8,330.0 249.1,314.2 249.7,198.2 250.3,198.2 250.9,306.0 251.3,320.8 252.5,357.6 253.7,354.4 254.9,334.5 256.1,362.9 256.5,354.9 257.1,295.9 257.7,295.9 258.3,298.9 258.6,299.3 259.8,383.2 261.0,372.9 262.3,376.1 263.5,361.4 264.7,376.1 265.9,311.2 267.1,349.0 268.4,358.5 268.7,348.5 269.3,275.5 269.9,275.5 270.5,342.4 270.8,351.6 272.0,338.5 272.4,325.4 273.0,229.1 273.6,229.1 274.2,301.3 274.5,311.1 275.7,379.0 276.9,368.5 278.1,341.6 279.4,320.9 280.6,360.9 281.8,358.6 283.0,300.7 284.3,365.2 285.5,349.8 285.8,335.0 286.4,226.3 287.0,226.3 287.6,310.0 287.9,321.4 289.1,374.5 290.4,304.5 290.7,304.0 291.3,300.9 291.9,300.9 292.5,349.9 292.8,356.6 294.0,320.1 295.3,346.2 296.5,299.3 297.7,329.7 298.9,363.8 300.1,336.5 300.5,321.4 301.1,211.1 301.7,211.1 302.3,322.1 302.6,337.2 303.8,378.0 305.0,379.5 306.3,386.4 307.5,384.9 308.7,384.2 309.9,386.4 311.1,370.6 311.5,364.7 312.1,321.8 312.7,321.8 313.3,359.9 313.6,365.1 314.8,364.3 316.0,342.8 317.3,369.0 318.5,356.9 319.7,359.1 320.9,327.7 322.2,370.2 323.4,367.5 324.6,322.4 325.8,335.6 326.1,324.0 326.7,239.2 327.3,239.2 327.9,335.7 328.3,348.9 329.5,376.2 330.7,372.7 331.9,344.0 333.2,364.6 334.4,339.6 335.6,347.5 335.9,336.6 336.5,256.6 337.1,256.6 337.7,343.5 338.0,355.3 339.3,386.4 340.5,386.4 341.7,359.6 342.0,350.3 342.6,282.5 343.2,282.5 343.8,345.7 344.2,354.4 345.4,313.1 346.6,370.7 347.8,304.5 349.0,319.5 350.3,351.3 350.6,339.0 351.2,248.8 351.8,248.8 352.4,336.3 352.7,348.2 353.9,386.0 355.2,349.4 356.4,341.4 357.6,315.2 358.8,335.3 360.0,311.0 361.3,364.7 361.6,354.9 362.2,283.5 362.8,283.5 363.4,353.8 363.7,363.4 364.9,346.5 366.2,333.7 367.4,342.5 368.6,351.4 369.8,365.1 371.0,324.0 371.4,314.6 372.0,245.9 372.6,245.9 373.2,335.7 373.5,347.9 374.7,361.3 375.9,382.3 377.2,368.0 378.4,315.7 379.6,383.1 380.8,351.9 381.1,339.9 381.7,251.6 382.3,251.6 382.9,339.4 383.3,351.4 384.5,307.6 385.7,353.7 386.0,341.6 386.6,252.7 387.2,252.7 387.8,332.4 388.2,343.2 389.4,344.5 390.6,380.9 391.8,368.1 393.0,354.2 394.3,379.2 395.5,379.7 396.7,380.4 397.9,380.1 399.2,381.1 400.4,353.2 400.7,345.5 401.3,289.0 401.9,289.0 402.5,324.7 402.8,329.6 404.1,354.2 405.3,354.9 405.6,344.1 406.2,265.6 406.8,265.6 407.4,302.5 407.7,307.5 408.9,386.0 410.2,330.1 411.4,362.8 412.6,361.2 413.8,385.8 415.1,345.0 416.3,299.3 417.5,363.0 418.7,299.3 419.9,329.1 421.2,325.3 422.4,347.4 423.6,354.3 424.8,355.4 425.2,349.0 425.8,302.1 426.4,302.1 427.0,312.9 427.3,314.4 427.6,312.9 428.2,302.1 428.8,302.1 429.4,336.7 429.7,341.4 430.9,359.9 432.2,299.3 433.4,351.1 434.6,299.3 435.8,346.6 437.1,313.5 437.4,289.0 438.0,109.4 438.6,109.4 439.2,282.7 439.5,306.4 440.7,328.4 441.9,366.5 443.2,338.0 444.4,378.5 445.6,380.8 446.8,386.4 448.1,321.8 448.4,311.7 449.0,237.5 449.6,237.5 450.2,330.0 450.5,342.6 451.7,377.5 452.9,386.4 454.2,347.7 454.5,338.3 455.1,269.1 455.7,269.1 456.3,345.0 456.6,355.4 457.8,374.4 459.1,363.2 460.3,386.4 461.5,386.4 462.7,321.0 463.9,386.1 465.2,348.1 466.4,326.5 467.6,383.6 468.8,347.6 470.1,305.5 470.4,285.4 471.0,137.5 471.6,137.5 472.2,300.9 472.5,323.2 473.7,352.5 474.1,344.7 474.7,287.0 475.3,287.0 475.9,347.9 476.2,356.2 477.4,362.4 478.6,356.9 478.9,349.1 479.5,291.9 480.1,291.9 480.7,303.3 481.1,304.9 482.3,383.1 483.5,326.7 483.8,320.4 484.4,274.0 485.0,274.0 485.6,319.1 486.0,325.2 487.2,381.9 488.4,377.5 489.6,361.9 489.9,355.2 490.5,305.4 491.1,305.4 491.7,353.3 492.1,359.9 493.3,386.4 494.5,386.4 495.7,386.4 497.0,384.9 498.2,355.4 499.4,374.8 500.6,358.2 500.9,350.7 501.5,295.4 502.1,295.4 502.7,354.3 503.1,362.4 504.3,343.9 505.5,326.7 506.7,366.9 508.0,366.3 509.2,349.9 509.5,337.8 510.1,248.8 510.7,248.8 511.3,320.7 511.6,330.5 512.8,374.5 514.1,305.4 514.4,304.7 515.0,299.9 515.6,299.9 516.2,316.6 516.5,318.9 517.7,344.9 519.0,364.2 520.2,346.9 521.4,312.6 522.6,319.1 523.8,358.3 524.2,355.7 524.8,336.7 525.4,336.7 526.0,366.2 526.3,370.2 527.5,366.4 528.7,372.2 530.0,380.1 531.2,374.8 532.4,360.7 532.7,353.3 533.3,298.9 533.9,298.9 534.5,354.9 534.8,362.5 536.1,331.8 537.3,342.3 538.5,328.3 539.7,332.9 540.1,324.8 540.7,265.6 541.3,265.6 541.9,295.3 542.2,299.3 543.4,351.1 544.6,334.2 545.8,357.6 547.1,330.7 548.3,353.4 549.5,318.9 549.8,318.6 550.4,316.3 551.0,316.3 551.6,306.1 552.0,304.7 553.2,299.3 554.4,314.1 555.6,332.6 556.9,321.0 557.2,317.4 557.8,290.9 558.4,290.9 559.0,348.6 559.3,356.4 560.5,369.5 561.7,330.8 563.0,350.7 564.2,336.6 564.5,332.6 565.1,303.4 565.7,303.4 566.3,353.8 566.6,360.6 567.9,370.0 569.1,353.5 569.4,342.9 570.0,265.6 570.6,265.6 571.2,337.7 571.5,347.5 572.7,381.2 574.0,373.3 575.2,333.3 576.4,365.8 576.7,360.1 577.3,318.3 577.9,318.3 578.5,353.8 578.9,358.6 580.1,356.4 581.3,340.6 582.5,361.9 583.7,324.5 584.1,325.5 584.7,332.7 585.3,332.7 585.9,355.0 586.2,358.1 587.4,365.6 588.6,360.6 589.9,358.9 591.1,359.4 591.4,353.1 592.0,307.4 592.6,307.4 593.2,354.7 593.5,361.2 594.7,368.1 596.0,351.0 597.2,345.0 597.5,334.8 598.1,260.0 598.7,260.0 599.3,334.3 599.6,344.4 600.9,335.1 601.2,333.6 601.8,322.8 602.4,322.8 603.0,338.2 603.3,340.4 604.5,321.6 605.7,361.8 607.0,299.3 608.2,341.7 609.4,365.8 609.7,362.1 610.3,334.7 610.9,334.7 611.5,308.8 611.9,305.3 613.1,311.4 614.3,371.2 615.5,355.9 615.8,353.0 616.4,331.7 617.0,331.7 617.6,323.5 618.0,322.4 619.2,371.2 620.4,373.7 621.6,301.4 622.0,304.5 622.6,327.7 623.2,327.7 623.8,354.5 624.1,358.1 625.3,354.2 626.5,315.9 627.8,328.5 629.0,319.7 629.3,309.5 629.9,234.7 630.5,234.7 631.1,340.1 631.4,354.4 632.6,369.2 633.9,343.6 635.1,364.1 636.3,386.2 637.5,385.9 638.8,383.9 640.0,317.3 641.2,331.5 641.5,321.9 642.1,251.6 642.7,251.6 643.3,299.7 643.6,306.3 644.9,299.3 646.1,309.2 647.3,337.1 648.5,319.3 649.8,364.9 650.1,355.4 650.7,285.5 651.3,285.5 651.9,345.7 652.2,353.9 652.5,344.0 653.1,271.2 653.7,271.2 654.3,343.7 654.6,353.6 655.9,350.7 657.1,356.2 658.3,366.9 659.5,385.5 660.8,345.8 661.1,335.3 661.7,258.3 662.3,258.3 662.9,329.3 663.2,339.0 664.4,379.9 665.6,386.3 666.9,369.8 667.2,363.8 667.8,319.3 668.4,319.3 669.0,342.6 669.3,345.8 670.5,336.4 671.8,378.2 673.0,360.3 674.2,371.4 675.4,346.3 675.7,334.4 676.3,247.1 676.9,247.1 677.5,328.0 677.9,339.1 679.1,320.7 680.3,341.4 681.5,372.3 682.8,375.9 684.0,355.1 685.2,328.6 685.5,308.4 686.1,160.6 686.7,160.6 687.3,305.9 687.6,325.8 688.9,336.7 689.2,333.8 689.8,312.3 690.4,312.3 691.0,333.0 691.3,335.8 692.5,349.1 693.8,342.1 695.0,361.8 696.2,350.3 696.5,344.2 697.1,298.9 697.7,298.9 698.3,333.0 698.6,337.7 699.9,371.3 701.1,366.1 701.4,361.2 702.0,324.8 702.6,324.8 703.2,355.6 703.5,359.8 704.8,307.1 706.0,385.7 707.2,348.0 708.4,315.5 709.7,375.4 710.9,351.1 711.2,347.1 711.8,317.3 712.4,317.3 713.0,361.1 713.3,367.0 714.5,368.8 715.8,386.4 717.0,347.0 717.3,335.6 717.9,251.6 718.5,251.6 719.1,337.2 719.4,348.9 720.7,364.9 721.0,359.0 721.6,315.3 722.2,315.3 722.8,360.3 723.1,366.4 724.3,333.0 725.5,337.2 726.8,306.8 727.1,306.5 727.7,304.4 728.3,304.4 728.9,355.7 729.2,362.8 730.4,356.2 731.7,357.4 732.9,358.5 733.2,347.0 733.8,262.8 734.4,262.8 735.0,340.8 735.3,351.4 736.5,300.0 737.8,370.5 739.0,366.8 740.2,374.6 741.4,366.9 742.7,369.2 743.9,348.3 744.2,343.1 744.8,305.4 745.4,305.4 746.0,359.0 746.3,366.3 747.5,382.8 748.8,321.4 750.0,386.4 751.2,347.2 752.4,386.4 753.7,374.4 754.9,352.2 755.2,346.5 755.8,304.4 756.4,304.4 757.0,353.0 757.3,359.7 758.5,367.9 758.9,362.5 759.5,322.8 760.1,322.8 760.7,366.9 761.0,372.9 762.2,325.4 763.4,344.3 763.8,335.6 764.4,271.2 765.0,271.2 765.6,349.5 765.9,360.1 767.1,373.0 768.3,384.5 769.5,381.4 770.8,373.0 771.1,369.0 771.7,340.2 772.3,340.2 772.9,346.7 773.2,347.6 774.4,326.5 775.7,359.2 776.0,351.6 776.6,295.9 777.2,295.9 777.8,351.9 778.1,359.6 779.3,375.4 780.6,378.0 781.8,336.8 782.1,330.0 782.7,279.7 783.3,279.7 783.9,345.2 784.2,354.1 785.4,386.1 786.7,385.6 787.9,345.9 788.2,341.4 788.8,308.3 789.4,308.3 790.0,362.4 790.3,369.8 791.6,384.6 792.8,382.8 794.0,335.8 794.3,331.5 794.9,299.9 795.5,299.9 796.1,353.6 796.4,360.9 797.7,329.2 798.9,379.2 800.1,378.6 801.3,346.9 801.7,332.4 802.3,226.3 802.9,226.3 803.5,331.0 803.8,345.3 805.0,382.7 806.2,383.2 807.4,367.2 808.7,358.2 809.0,351.2 809.6,299.3 810.2,299.3 810.8,337.1 811.1,342.2 812.3,310.1 813.6,365.3 813.9,357.8 814.5,302.9 815.1,302.9 815.7,337.5 816.0,342.3 817.2,299.3 818.4,340.4 819.7,299.3 820.9,368.8 822.1,359.6 822.4,352.7 823.0,301.9 823.6,301.9 824.2,311.4 824.6,312.7 825.8,365.0 827.0,372.0 828.2,360.3 828.5,350.0 829.1,274.0 829.7,274.0 830.3,346.4 830.7,356.3 831.9,379.5 833.1,380.4 834.3,382.6 835.6,317.3 836.8,374.1 838.0,385.1 839.2,386.4 839.5,386.4 840.1,386.4 840.7,386.4 841.3,337.7 841.7,331.0 842.9,371.2 844.1,370.4 845.3,385.2 846.6,321.9 846.9,300.2 847.5,140.9 848.1,140.9 848.7,291.8 849.0,312.3 850.2,365.2 851.4,341.9 852.7,371.6 853.0,367.0 853.6,332.7 854.2,332.7 854.8,341.7 855.1,343.0 856.3,369.3 857.6,380.4 858.8,323.3 860.0,377.4 861.2,347.7 861.6,342.9 862.2,308.3 862.8,308.3 863.4,354.7 863.7,361.1 864.9,341.0 866.1,334.2 867.3,342.2 867.7,339.2 868.3,317.3 868.9,317.3 869.5,358.8 869.8,364.5 871.0,353.2 872.2,352.2 873.5,370.1 873.8,367.9 874.4,352.1 875.0,352.1 875.6,346.4 875.9,345.6 877.1,353.0 878.3,299.3 879.6,364.8 879.9,356.3 880.5,293.9 881.1,293.9 881.7,298.7 882.0,299.3 883.2,360.0 883.6,350.6 884.2,281.9 884.8,281.9 885.4,338.2 885.7,345.9 886.9,378.9 888.1,321.8 889.3,357.4 889.7,350.1 890.3,296.5 890.9,296.5 891.5,328.6 891.8,333.0 893.0,363.7 894.2,368.8 895.5,361.0 896.7,308.6 897.9,315.3 899.1,352.5 900.3,314.7 900.7,317.8 901.3,340.2 901.9,340.2 902.5,358.0 902.8,360.5 904.0,366.9 905.2,371.2 906.5,353.0 906.8,347.4 907.4,306.4 908.0,306.4 908.6,338.2 908.9,342.6 910.1,354.9 911.3,349.7 911.7,343.7 912.3,299.9 912.9,299.9 913.5,349.0 913.8,355.7 915.0,337.5 915.3,332.6 915.9,296.9 916.5,296.9 917.1,299.0 917.5,299.3 917.8,296.6 918.4,276.8 919.0,276.8 919.6,304.8 919.9,308.6 921.1,365.8 921.4,356.9 922.0,291.9 922.6,291.9 923.2,350.0 923.6,357.9 923.9,346.0 924.5,258.9 925.1,258.9 925.7,328.3 926.0,337.7 927.2,377.9 928.5,360.2 928.8,352.7 929.4,297.9 930.0,297.9 930.6,353.1 930.9,360.7 932.1,340.4 933.4,383.0 934.6,335.2 935.8,376.1 937.0,360.5 937.3,350.5 937.9,276.8 938.5,276.8 939.1,350.0 939.5,360.0 940.7,330.5 941.9,384.3 942.2,379.2 942.8,341.5 943.4,341.5 944.0,335.0 944.4,334.1 945.6,355.7 946.8,328.2 948.0,345.9 948.3,343.2 948.9,323.8 949.5,323.8 950.1,327.5 950.5,328.0 951.7,344.5 952.9,339.1 954.1,326.1 954.5,326.0 955.1,325.7 955.7,325.7 956.3,302.5 956.6,299.3 957.8,351.9 959.0,385.6 960.2,340.0 960.6,338.7 961.2,328.7 961.8,328.7 962.4,302.8 962.7,299.3 963.9,335.9 965.1,367.4 966.4,386.2 967.6,376.8 968.8,280.5 969.1,254.5 969.7,63.4 970.3,63.4 970.9,284.2 971.2,314.4 972.5,350.3 973.7,385.6 974.9,300.6 976.1,362.3 977.4,362.5 978.6,314.9 979.8,359.5 981.0,299.3 981.3,290.2 981.9,223.5 982.5,223.5 983.1,334.3 983.5,349.5 984.7,347.9 985.0,331.3 985.6,210.0 986.2,210.0 986.8,318.3 987.1,333.0 988.4,305.1 989.6,376.0 990.8,372.2 991.1,368.2 991.7,338.7 992.3,338.7 992.9,359.2 993.2,362.0 994.5,338.0 995.7,347.5 996.9,382.1 998.1,312.4 999.4,299.3 1000.6,339.0 1000.9,338.0 1001.5,330.7 1002.1,330.7 1002.7,303.1 1003.0,299.3 1004.2,304.5 1005.5,383.8 1006.7,369.4 1007.9,376.1 1009.1,318.7 1009.5,299.8 1010.1,161.7 1010.7,161.7 1011.3,303.5 1011.6,322.8 1012.8,378.7 1014.0,364.7 1014.4,358.1 1015.0,309.3 1015.6,309.3 1016.2,359.3 1016.5,366.2 1017.7,344.7 1018.9,334.6 1020.1,374.9 1021.4,327.5 1021.7,327.5 1022.3,327.7 1022.9,327.7 1023.5,364.8 1023.8,369.8 1025.0,350.6 1026.3,374.2 1027.5,383.1 1028.7,316.0 1029.9,320.4 1031.1,380.7 1032.4,342.7 1032.7,325.7 1033.3,201.0 1033.9,201.0 1034.5,308.1 1034.8,322.7 1036.0,343.9 1037.3,322.1 1038.5,382.7 1039.7,334.6 1040.0,331.2 1040.6,306.4 1041.2,306.4 1041.8,327.1 1042.1,329.9 1043.4,299.3 1044.6,339.1 1045.8,357.4 1047.0,304.5 1047.4,306.1 1048.0,318.3 1048.6,318.3 1049.2,326.7 1049.5,327.9 1050.7,315.5 1051.9,299.3 1053.1,357.9 1054.4,357.6 1055.6,335.9 1056.8,327.2 1057.1,315.4 1057.7,229.1 1058.3,229.1 1058.9,305.7 1059.3,316.2 1059.6,288.9 1060.2,88.6 1060.8,88.6 1061.4,267.0 1061.7,291.3 1062.9,313.5 1064.1,340.9 1065.4,386.4 1066.6,385.3 1067.8,330.0 1069.0,378.1 1070.3,346.8 1071.5,363.0 1072.7,310.9 1073.0,310.0 1073.6,302.9 1074.2,302.9 1074.8,350.4 1075.1,356.9 1076.4,354.8 1076.7,344.1 1077.3,265.6 1077.9,265.6 1078.5,347.3 1078.8,358.4 1080.0,386.4 1081.3,386.4 1082.5,382.8 1083.7,347.9 1084.9,386.4 1086.2,386.4 1087.4,350.9 1087.7,339.0 1088.3,251.6 1088.9,251.6 1089.5,338.4 1089.8,350.3 1091.0,362.6 1091.4,352.6 1092.0,279.7 1092.6,279.7 1093.2,347.9 1093.5,357.3 1094.7,385.2 1095.9,385.1 1097.2,357.7 1098.4,346.3 1099.6,332.3 1100.8,335.8 1101.1,320.7 1101.7,210.0 1102.3,210.0 1102.9,313.0 1103.3,327.1 1104.5,361.0 1105.7,365.9 1106.9,365.1 1108.2,376.6 1109.4,374.0 1109.7,370.6 1110.3,345.1 1110.9,345.1 1111.5,369.8 1111.8,373.1 1113.0,362.7 1114.3,372.3 1114.6,369.9 1115.2,352.1 1115.8,352.1 1116.4,362.7 1116.7,364.2 1117.9,340.8 1119.2,344.8 1120.4,367.4 1121.6,367.1 1122.8,369.2 1124.0,358.7 1125.3,363.9 1126.5,368.9 1127.7,355.1 1128.9,369.1 1130.2,349.9 1130.5,339.9 1131.1,266.7 1131.7,266.7 1132.3,308.5 1132.6,314.2 1132.9,308.3 1133.5,265.6 1134.1,265.6 1134.7,329.2 1135.0,337.9 1136.3,371.4 1137.5,359.2 1138.7,353.9 1139.9,340.6 1140.3,327.9 1140.9,234.7 1141.5,234.7 1142.1,333.8 1142.4,347.3 1143.6,385.6 1144.8,386.4 1146.0,359.6 1146.4,349.7 1147.0,277.4 1147.6,277.4 1148.2,342.3 1148.5,351.1 1148.8,342.3 1149.4,277.4 1150.0,277.4 1150.6,333.1 1150.9,340.7 1152.2,377.9 1153.4,373.6 1154.6,358.6 1155.8,311.3 1157.0,366.0 1157.4,359.8 1158.0,314.3 1158.6,314.3 1159.2,364.3 1159.5,371.1 1160.7,321.8 1161.0,322.3 1161.6,325.7 1162.2,325.7 1162.8,340.7 1163.2,342.8 1164.4,383.1 1165.6,349.6 1166.8,368.3 1168.1,370.8 1169.3,366.7 1170.5,353.6 1171.7,350.3 1172.9,353.8 1174.2,328.0 1175.4,329.3 1175.7,329.7 1176.3,332.7 1176.9,332.7 1177.5,305.0 1177.8,301.3 1178.2,300.0 1178.8,290.9 1179.4,290.9 1180.0,305.1 1180.3,307.1 1181.5,313.2 1182.7,337.6 1183.9,379.5 1185.2,360.2 1186.4,383.6 1187.6,361.8 1188.8,366.8 1189.2,358.7 1189.8,299.3 1190.4,299.3 1191.0,358.8 1191.3,366.9 1192.5,356.5 1193.7,374.6 1194.9,333.6 1195.3,333.9 1195.9,336.7 1196.5,336.7 1197.1,357.2 1197.4,360.0 1198.6,339.0 1199.8,364.4 1200.2,360.8 1200.8,334.7 1201.4,334.7 1202.0,364.4 1202.3,368.5 1203.5,373.9 1204.7,364.2 1205.0,357.5 1205.6,307.7 1206.2,307.7 1206.8,356.9 1207.2,363.6 1208.4,386.4 1209.6,385.3 1210.8,381.3 1212.1,342.4 1213.3,346.5 1213.6,332.6 1214.2,230.8 1214.8,230.8 1215.4,334.0 1215.7,348.1 1216.9,386.4 1218.2,351.4 1218.5,342.5 1219.1,276.8 1219.7,276.8 1220.3,341.6 1220.6,350.4 1221.8,314.3 1223.1,370.1 1224.3,353.0 1224.6,347.9 1225.2,310.3 1225.8,310.3 1226.4,362.7 1226.7,369.8 1227.9,355.8 1229.2,342.5 1229.5,340.2 1230.1,322.8 1230.7,322.8 1231.3,361.0 1231.6,366.2 1232.8,371.2 1234.1,342.6 1235.3,367.5 1235.6,364.1 1236.2,339.2 1236.8,339.2 1237.4,319.4 1237.7,316.7 1239.0,364.2 1240.2,384.4 1241.4,356.3 1242.6,322.5 1242.9,320.1 1243.5,302.1 1244.1,302.1 1244.7,353.6 1245.1,360.6 1246.3,335.2 1247.5,372.5 1248.7,319.8 1250.0,375.2 1251.2,369.7 1252.4,363.8 1252.7,356.7 1253.3,304.9 1253.9,304.9 1254.5,355.4 1254.8,362.3 1256.1,344.3 1256.4,341.2 1257.0,318.3 1257.6,318.3 1258.2,325.7 1258.5,326.7 1259.7,316.7 1261.0,353.1 1262.2,357.2 1263.4,331.1 1263.7,325.3 1264.3,282.5 1264.9,282.5 1265.5,349.1 1265.8,358.2 1267.1,346.5 1267.4,345.0 1268.0,334.7 1268.6,334.7 1269.2,358.4 1269.5,361.6 1270.7,361.6 1272.0,370.5 1273.2,375.6 1274.4,375.5 1275.6,352.9 1276.8,322.7 1278.1,375.1 1279.3,378.3 1280.5,378.6 1281.7,383.6 1283.0,352.5 1283.3,342.1 1283.9,265.6 1284.5,265.6 1285.1,343.1 1285.4,353.6 1286.6,316.7 1287.8,316.7 1288.2,316.4 1288.8,314.3 1289.4,314.3 1290.0,316.4 1290.3,316.7 1291.5,335.0 1292.7,332.8 1294.0,359.3 1295.2,354.8 1296.4,361.5 1297.6,346.5 1297.9,333.1 1298.5,234.7 1299.1,234.7 1299.7,333.2 1300.1,346.6 1301.3,347.0 1302.5,364.1 1303.7,316.7 1305.0,324.0 1306.2,356.4 1307.4,385.8 1308.6,371.0 1308.9,366.4 1309.5,332.7 1310.1,332.7 1310.7,349.1 1311.1,351.3 1312.3,366.3 1313.5,368.9 1313.8,364.6 1314.4,332.7 1315.0,332.7 1315.6,364.8 1316.0,369.2 1317.2,370.9 1318.4,372.9 1319.6,372.6 1320.9,373.9 1322.1,357.3 1323.3,334.3 1324.5,356.1 1324.8,346.6 1325.4,276.8 1326.0,276.8 1326.6,315.1 1327.0,320.3 1328.2,329.9 1329.4,375.6 1329.7,372.0 1330.3,345.1 1330.9,345.1 1331.5,368.5 1331.9,371.7 1333.1,363.7 1334.3,366.5 1335.5,331.4 1336.7,361.7 1338.0,343.0 1338.3,343.0 1338.9,343.1 1339.5,343.1 1340.1,371.6 1340.4,375.5 1341.6,366.7 1342.9,378.0 1344.1,374.2 1344.4,370.6 1345.0,344.1 1345.6,344.1 1346.2,357.7 1346.5,359.5 1347.7,316.7 1349.0,364.6 1349.3,355.1 1349.9,285.3 1350.5,285.3 1351.1,327.1 1351.4,332.8 1352.6,352.0 1353.9,319.7 1355.1,354.3 1355.4,353.0 1356.0,343.1 1356.6,343.1 1357.2,319.9 1357.5,316.7 1358.7,350.9 1360.0,354.7 1361.2,364.8 1361.5,360.6 1362.1,329.7 1362.7,329.7 1363.3,359.8 1363.6,363.9 1364.9,316.7 1366.1,345.9 1367.3,342.8 1367.6,341.3 1368.2,330.7 1368.8,330.7 1369.4,350.2 1369.7,352.8 1371.0,364.2 1371.3,358.3 1371.9,315.3 1372.5,315.3 1373.1,359.8 1373.4,365.8 1374.6,346.9 1375.0,336.5 1375.6,260.0 1376.2,260.0 1376.8,344.9 1377.1,356.5 1378.3,377.8 1379.5,338.1 1379.8,335.0 1380.4,312.3 1381.0,312.3 1381.6,356.1 1382.0,362.0 1383.2,385.8 1384.4,337.7 1384.7,327.0 1385.3,248.2 1385.9,248.2 1386.5,343.1 1386.9,356.0 1388.1,385.9 1389.3,316.8 1390.5,316.7 1390.9,315.0 1391.5,302.1 1392.1,302.1 1392.7,347.4 1393.0,353.5 1394.2,348.4 1394.5,347.8 1395.1,344.1 1395.7,344.1 1396.3,356.0 1396.6,357.6 1397.9,368.1 1399.1,365.4 1400.3,342.0 1401.5,373.7 1402.8,369.0 1404.0,367.3 1404.3,365.0 1404.9,348.1 1405.5,348.1 1406.1,322.7 1406.4,319.3 1407.6,373.0 1408.9,373.0 1410.1,369.6 1410.4,366.7 1411.0,345.1 1411.6,345.1 1412.2,355.7 1412.5,357.2 1413.8,385.3 1415.0,332.3 1416.2,362.6 1416.5,358.0 1417.1,324.6 1417.7,324.6 1418.3,349.7 1418.6,353.1 1419.9,324.3 1421.1,351.6 1422.3,373.3 1423.5,362.5 1423.9,359.6 1424.5,338.7 1425.1,338.7 1425.7,370.6 1426.0,375.0 1427.2,386.4"/>
</g>
<g clip-path="url(#c1)">
<path class="d" stroke="#515151" d="M204.8,764.2 206.0,767.8 207.2,765.4 207.6,765.1 208.2,762.9 208.8,762.9 209.4,764.6 209.7,764.8 210.9,762.5 211.2,762.0 211.8,758.5 212.4,758.5 213.0,759.6 213.4,759.8 214.6,764.3 215.8,765.2 217.0,757.9 218.2,759.0 218.6,759.3 219.2,761.1 219.8,761.1 220.4,766.0 220.7,766.7 221.9,767.4 223.1,767.8 224.4,767.1 224.7,766.6 225.3,763.1 225.9,763.1 226.5,765.8 226.8,766.2 228.0,764.0 229.2,763.3 230.5,767.7 231.7,764.5 232.9,767.1 234.1,763.0 235.4,766.2 236.6,765.1 237.8,765.5 238.1,764.7 238.7,759.0 239.3,759.0 239.9,765.9 240.2,766.9 241.5,764.6 242.7,766.6 243.9,762.9 244.2,761.8 244.8,754.1 245.4,754.1 246.0,761.7 246.4,762.7 247.6,764.7 248.8,764.0 249.1,763.1 249.7,756.5 250.3,756.5 250.9,760.6 251.3,761.2 252.5,765.2 253.7,763.7 254.9,765.2 256.1,765.9 256.5,765.4 257.1,762.2 257.7,762.2 258.3,760.2 258.6,759.9 259.8,767.9 261.0,764.8 262.3,766.6 263.5,765.5 264.7,767.0 265.9,761.8 267.1,765.4 268.4,765.8 268.7,765.4 269.3,762.8 269.9,762.8 270.5,763.9 270.8,764.0 272.0,763.3 272.4,762.6 273.0,757.5 273.6,757.5 274.2,761.6 274.5,762.2 275.7,767.4 276.9,766.0 278.1,763.0 279.4,762.6 280.6,765.9 281.8,766.3 283.0,760.0 284.3,766.9 285.5,766.6 285.8,765.4 286.4,756.8 287.0,756.8 287.6,762.0 287.9,762.7 289.1,767.5 290.4,758.5 290.7,759.1 291.3,763.7 291.9,763.7 292.5,766.2 292.8,766.6 294.0,764.6 295.3,765.5 296.5,761.4 297.7,762.1 298.9,765.8 300.1,765.3 300.5,764.3 301.1,757.1 301.7,757.1 302.3,764.4 302.6,765.4 303.8,767.4 305.0,767.4 306.3,768.2 307.5,767.6 308.7,766.1 309.9,766.2 311.1,765.8 311.5,765.7 312.1,764.9 312.7,764.9 313.3,766.0 313.6,766.2 314.8,766.6 316.0,764.0 317.3,766.0 318.5,764.8 319.7,765.9 320.9,760.5 322.2,765.8 323.4,766.3 324.6,764.7 325.8,764.0 326.1,763.6 326.7,760.7 327.3,760.7 327.9,763.8 328.3,764.2 329.5,766.6 330.7,766.3 331.9,764.1 333.2,766.7 334.4,763.3 335.6,765.1 335.9,764.1 336.5,756.3 337.1,756.3 337.7,765.1 338.0,766.3 339.3,768.0 340.5,768.0 341.7,765.5 342.0,764.8 342.6,759.5 343.2,759.5 343.8,765.0 344.2,765.7 345.4,764.3 346.6,766.7 347.8,762.6 349.0,762.7 350.3,765.3 350.6,764.8 351.2,761.5 351.8,761.5 352.4,764.8 352.7,765.3 353.9,767.9 355.2,765.3 356.4,765.2 357.6,762.8 358.8,764.1 360.0,764.2 361.3,765.9 361.6,765.4 362.2,761.4 362.8,761.4 363.4,765.0 363.7,765.5 364.9,766.1 366.2,764.5 367.4,765.0 368.6,764.4 369.8,766.4 371.0,762.5 371.4,762.3 372.0,761.1 372.6,761.1 373.2,764.5 373.5,765.0 374.7,765.8 375.9,767.1 377.2,766.9 378.4,763.6 379.6,766.4 380.8,765.3 381.1,764.3 381.7,756.9 382.3,756.9 382.9,764.1 383.3,765.1 384.5,762.7 385.7,765.3 386.0,764.7 386.6,760.7 387.2,760.7 387.8,764.4 388.2,765.0 389.4,765.6 390.6,764.4 391.8,763.6 393.0,765.5 394.3,766.3 395.5,767.1 396.7,765.0 397.9,766.3 399.2,766.3 400.4,765.3 400.7,764.5 401.3,758.8 401.9,758.8 402.5,763.2 402.8,763.8 404.1,765.3 405.3,765.3 405.6,764.6 406.2,759.5 406.8,759.5 407.4,763.0 407.7,763.4 408.9,763.7 410.2,765.4 411.4,766.6 412.6,766.2 413.8,767.7 415.1,765.6 416.3,759.1 417.5,766.1 418.7,760.0 419.9,762.8 421.2,762.9 422.4,766.0 423.6,763.7 424.8,766.3 425.2,765.6 425.8,759.9 426.4,759.9 427.0,762.3 427.3,762.6 427.6,762.7 428.2,763.0 428.8,763.0 429.4,762.8 429.7,762.7 430.9,765.7 432.2,761.3 433.4,764.8 434.6,761.1 435.8,764.9 437.1,761.8 437.4,761.1 438.0,755.6 438.6,755.6 439.2,761.5 439.5,762.3 440.7,761.3 441.9,766.5 443.2,763.4 444.4,766.2 445.6,766.8 446.8,766.3 448.1,762.2 448.4,761.6 449.0,757.1 449.6,757.1 450.2,764.6 450.5,765.6 451.7,767.1 452.9,767.3 454.2,764.8 454.5,763.8 455.1,756.9 455.7,756.9 456.3,763.8 456.6,764.8 457.8,767.0 459.1,765.4 460.3,765.2 461.5,767.8 462.7,764.2 463.9,767.8 465.2,764.9 466.4,764.8 467.6,767.4 468.8,766.1 470.1,762.6 470.4,760.4 471.0,744.1 471.6,744.1 472.2,762.1 472.5,764.6 473.7,763.6 474.1,763.3 474.7,761.3 475.3,761.3 475.9,765.5 476.2,766.1 477.4,766.3 478.6,765.5 478.9,764.8 479.5,759.7 480.1,759.7 480.7,762.1 481.1,762.4 482.3,766.8 483.5,762.2 483.8,761.8 484.4,758.4 485.0,758.4 485.6,762.1 486.0,762.7 487.2,767.3 488.4,766.5 489.6,763.6 489.9,763.2 490.5,760.8 491.1,760.8 491.7,766.0 492.1,766.7 493.3,766.5 494.5,768.2 495.7,766.9 497.0,768.1 498.2,766.4 499.4,767.1 500.6,766.0 500.9,765.4 501.5,760.4 502.1,760.4 502.7,764.9 503.1,765.5 504.3,765.9 505.5,765.2 506.7,766.2 508.0,766.2 509.2,763.6 509.5,763.1 510.1,759.3 510.7,759.3 511.3,761.9 511.6,762.2 512.8,762.4 514.1,762.0 514.4,761.8 515.0,760.6 515.6,760.6 516.2,763.6 516.5,764.0 517.7,763.6 519.0,765.9 520.2,764.1 521.4,760.8 522.6,762.1 523.8,765.7 524.2,765.6 524.8,764.5 525.4,764.5 526.0,766.2 526.3,766.5 527.5,766.5 528.7,765.8 530.0,766.8 531.2,766.7 532.4,764.8 532.7,764.5 533.3,762.5 533.9,762.5 534.5,766.2 534.8,766.7 536.1,765.1 537.3,764.3 538.5,764.0 539.7,761.2 540.1,761.0 540.7,760.1 541.3,760.1 541.9,761.0 542.2,761.1 543.4,764.4 544.6,764.0 545.8,764.1 547.1,765.4 548.3,765.3 549.5,762.2 549.8,762.2 550.4,762.5 551.0,762.5 551.6,763.6 552.0,763.7 553.2,761.3 554.4,762.9 555.6,765.0 556.9,764.4 557.2,764.2 557.8,762.2 558.4,762.2 559.0,765.5 559.3,766.0 560.5,766.6 561.7,761.1 563.0,764.2 564.2,763.5 564.5,763.3 565.1,761.5 565.7,761.5 566.3,765.5 566.6,766.1 567.9,766.7 569.1,765.5 569.4,764.8 570.0,759.9 570.6,759.9 571.2,764.9 571.5,765.6 572.7,767.8 574.0,767.1 575.2,764.9 576.4,765.2 576.7,764.9 577.3,762.9 577.9,762.9 578.5,765.2 578.9,765.5 580.1,764.0 581.3,759.8 582.5,766.7 583.7,765.1 584.1,764.8 584.7,762.4 585.3,762.4 585.9,764.9 586.2,765.2 587.4,766.3 588.6,765.7 589.9,765.9 591.1,767.0 591.4,766.6 592.0,763.6 592.6,763.6 593.2,764.7 593.5,764.8 594.7,767.2 596.0,764.8 597.2,765.6 597.5,765.0 598.1,760.4 598.7,760.4 599.3,764.2 599.6,764.8 600.9,761.7 601.2,761.8 601.8,762.7 602.4,762.7 603.0,764.0 603.3,764.2 604.5,764.4 605.7,764.4 607.0,764.2 608.2,765.4 609.4,765.9 609.7,765.7 610.3,764.1 610.9,764.1 611.5,764.2 611.9,764.3 613.1,762.6 614.3,765.1 615.5,764.6 615.8,764.5 616.4,763.2 617.0,763.2 617.6,763.2 618.0,763.2 619.2,765.9 620.4,767.1 621.6,763.6 622.0,763.4 622.6,762.3 623.2,762.3 623.8,763.5 624.1,763.7 625.3,765.3 626.5,762.3 627.8,762.0 629.0,764.2 629.3,763.9 629.9,761.6 630.5,761.6 631.1,765.5 631.4,766.1 632.6,766.3 633.9,763.0 635.1,766.0 636.3,767.6 637.5,768.1 638.8,767.6 640.0,762.7 641.2,765.6 641.5,765.0 642.1,760.3 642.7,760.3 643.3,759.9 643.6,759.8 644.9,760.8 646.1,761.8 647.3,765.1 648.5,762.4 649.8,766.8 650.1,766.2 650.7,762.0 651.3,762.0 651.9,764.8 652.2,765.1 652.5,764.8 653.1,762.5 653.7,762.5 654.3,764.5 654.6,764.7 655.9,765.1 657.1,764.6 658.3,763.7 659.5,767.8 660.8,763.9 661.1,763.4 661.7,759.6 662.3,759.6 662.9,764.1 663.2,764.8 664.4,767.8 665.6,767.9 666.9,765.5 667.2,765.3 667.8,763.9 668.4,763.9 669.0,764.0 669.3,764.0 670.5,763.7 671.8,767.0 673.0,764.5 674.2,767.0 675.4,764.1 675.7,763.3 676.3,757.3 676.9,757.3 677.5,759.6 677.9,760.0 679.1,762.3 680.3,763.1 681.5,766.9 682.8,766.3 684.0,764.6 685.2,763.8 685.5,761.8 686.1,747.6 686.7,747.6 687.3,760.4 687.6,762.2 688.9,764.7 689.2,764.6 689.8,763.5 690.4,763.5 691.0,763.6 691.3,763.6 692.5,764.7 693.8,763.3 695.0,765.0 696.2,764.4 696.5,764.1 697.1,761.7 697.7,761.7 698.3,762.9 698.6,763.0 699.9,763.7 701.1,766.3 701.4,765.9 702.0,762.7 702.6,762.7 703.2,764.6 703.5,764.8 704.8,761.6 706.0,766.9 707.2,764.9 708.4,762.6 709.7,766.4 710.9,765.9 711.2,765.6 711.8,763.1 712.4,763.1 713.0,766.2 713.3,766.6 714.5,766.7 715.8,766.7 717.0,765.9 717.3,765.0 717.9,757.9 718.5,757.9 719.1,763.6 719.4,764.3 720.7,766.8 721.0,766.3 721.6,762.3 722.2,762.3 722.8,766.1 723.1,766.7 724.3,763.0 725.5,764.6 726.8,762.5 727.1,762.6 727.7,763.0 728.3,763.0 728.9,765.1 729.2,765.3 730.4,765.1 731.7,764.9 732.9,765.9 733.2,765.1 733.8,759.5 734.4,759.5 735.0,764.9 735.3,765.6 736.5,760.4 737.8,765.6 739.0,765.8 740.2,767.1 741.4,765.8 742.7,764.6 743.9,765.4 744.2,764.3 744.8,755.6 745.4,755.6 746.0,765.1 746.3,766.4 747.5,767.2 748.8,763.3 750.0,767.8 751.2,763.6 752.4,766.9 753.7,766.8 754.9,763.7 755.2,763.1 755.8,758.7 756.4,758.7 757.0,764.8 757.3,765.6 758.5,764.6 758.9,764.5 759.5,763.9 760.1,763.9 760.7,766.1 761.0,766.4 762.2,762.4 763.4,763.5 763.8,763.2 764.4,761.7 765.0,761.7 765.6,765.3 765.9,765.8 767.1,765.1 768.3,767.4 769.5,764.4 770.8,766.0 771.1,765.9 771.7,764.9 772.3,764.9 772.9,765.2 773.2,765.3 774.4,764.1 775.7,766.6 776.0,766.2 776.6,763.0 777.2,763.0 777.8,766.4 778.1,766.8 779.3,766.2 780.6,761.9 781.8,764.2 782.1,763.4 782.7,757.9 783.3,757.9 783.9,764.1 784.2,764.9 785.4,763.0 786.7,766.1 787.9,765.2 788.2,765.1 788.8,764.1 789.4,764.1 790.0,766.6 790.3,766.9 791.6,767.1 792.8,766.7 794.0,765.0 794.3,764.7 794.9,761.8 795.5,761.8 796.1,764.8 796.4,765.2 797.7,764.4 798.9,766.4 800.1,767.3 801.3,765.6 801.7,764.6 802.3,757.2 802.9,757.2 803.5,763.5 803.8,764.4 805.0,766.6 806.2,766.7 807.4,760.8 808.7,766.1 809.0,765.2 809.6,759.0 810.2,759.0 810.8,764.3 811.1,765.0 812.3,762.3 813.6,765.4 813.9,764.5 814.5,757.8 815.1,757.8 815.7,763.7 816.0,764.5 817.2,761.3 818.4,765.1 819.7,762.4 820.9,765.9 822.1,765.5 822.4,765.1 823.0,762.1 823.6,762.1 824.2,762.0 824.6,762.0 825.8,765.7 827.0,766.6 828.2,764.0 828.5,763.6 829.1,761.0 829.7,761.0 830.3,765.8 830.7,766.5 831.9,765.7 833.1,766.3 834.3,767.2 835.6,761.8 836.8,767.4 838.0,767.0 839.2,767.8 839.5,767.8 840.1,767.7 840.7,767.7 841.3,763.3 841.7,762.7 842.9,767.1 844.1,766.3 845.3,767.7 846.6,762.4 846.9,761.2 847.5,752.3 848.1,752.3 848.7,760.1 849.0,761.1 850.2,767.0 851.4,764.9 852.7,765.0 853.0,764.9 853.6,764.1 854.2,764.1 854.8,764.2 855.1,764.2 856.3,763.7 857.6,767.4 858.8,764.7 860.0,766.7 861.2,764.8 861.6,764.4 862.2,761.7 862.8,761.7 863.4,765.8 863.7,766.3 864.9,764.7 866.1,764.8 867.3,764.1 867.7,764.0 868.3,763.5 868.9,763.5 869.5,765.4 869.8,765.7 871.0,765.7 872.2,765.2 873.5,764.4 873.8,764.5 874.4,765.7 875.0,765.7 875.6,764.8 875.9,764.7 877.1,765.1 878.3,762.9 879.6,765.7 879.9,765.0 880.5,759.3 881.1,759.3 881.7,762.2 882.0,762.6 883.2,765.1 883.6,764.9 884.2,763.1 884.8,763.1 885.4,764.4 885.7,764.6 886.9,767.4 888.1,764.7 889.3,764.6 889.7,763.9 890.3,758.6 890.9,758.6 891.5,762.8 891.8,763.4 893.0,764.5 894.2,765.6 895.5,765.2 896.7,761.7 897.9,764.5 899.1,764.9 900.3,763.7 900.7,763.8 901.3,764.4 901.9,764.4 902.5,765.5 902.8,765.7 904.0,766.8 905.2,767.2 906.5,765.9 906.8,765.4 907.4,762.2 908.0,762.2 908.6,764.3 908.9,764.6 910.1,765.3 911.3,763.5 911.7,763.1 912.3,760.2 912.9,760.2 913.5,764.9 913.8,765.6 915.0,764.0 915.3,763.7 915.9,761.6 916.5,761.6 917.1,762.7 917.5,762.9 917.8,762.8 918.4,762.5 919.0,762.5 919.6,761.9 919.9,761.9 921.1,767.1 921.4,766.4 922.0,760.7 922.6,760.7 923.2,765.7 923.6,766.4 923.9,765.8 924.5,761.7 925.1,761.7 925.7,764.2 926.0,764.6 927.2,765.6 928.5,767.0 928.8,766.3 929.4,761.7 930.0,761.7 930.6,765.8 930.9,766.3 932.1,764.8 933.4,765.4 934.6,765.1 935.8,767.1 937.0,766.0 937.3,765.1 937.9,758.1 938.5,758.1 939.1,761.1 939.5,761.5 940.7,764.0 941.9,767.4 942.2,767.2 942.8,765.4 943.4,765.4 944.0,764.4 944.4,764.2 945.6,766.2 946.8,763.7 948.0,765.6 948.3,765.3 948.9,762.8 949.5,762.8 950.1,761.9 950.5,761.8 951.7,763.8 952.9,764.5 954.1,764.6 954.5,764.4 955.1,762.8 955.7,762.8 956.3,763.4 956.6,763.5 957.8,764.4 959.0,767.0 960.2,762.8 960.6,763.0 961.2,764.6 961.8,764.6 962.4,763.2 962.7,763.0 963.9,763.0 965.1,766.2 966.4,766.2 967.6,764.8 968.8,763.0 969.1,761.5 969.7,750.1 970.3,750.1 970.9,760.7 971.2,762.1 972.5,765.0 973.7,767.1 974.9,759.3 976.1,765.8 977.4,766.6 978.6,762.8 979.8,764.5 981.0,760.0 981.3,759.2 981.9,753.5 982.5,753.5 983.1,763.0 983.5,764.2 984.7,764.6 985.0,763.3 985.6,753.7 986.2,753.7 986.8,763.2 987.1,764.5 988.4,762.2 989.6,767.0 990.8,766.4 991.1,766.4 991.7,765.8 992.3,765.8 992.9,765.5 993.2,765.5 994.5,761.9 995.7,764.1 996.9,766.4 998.1,763.7 999.4,762.0 1000.6,765.5 1000.9,765.2 1001.5,763.1 1002.1,763.1 1002.7,760.7 1003.0,760.4 1004.2,760.9 1005.5,767.8 1006.7,767.1 1007.9,767.3 1009.1,763.8 1009.5,762.3 1010.1,751.6 1010.7,751.6 1011.3,763.1 1011.6,764.7 1012.8,767.0 1014.0,765.3 1014.4,764.9 1015.0,761.8 1015.6,761.8 1016.2,765.9 1016.5,766.5 1017.7,765.0 1018.9,764.6 1020.1,767.4 1021.4,764.3 1021.7,764.0 1022.3,761.8 1022.9,761.8 1023.5,765.2 1023.8,765.7 1025.0,764.5 1026.3,765.8 1027.5,767.4 1028.7,760.7 1029.9,761.7 1031.1,767.3 1032.4,764.3 1032.7,763.3 1033.3,755.7 1033.9,755.7 1034.5,761.7 1034.8,762.5 1036.0,762.3 1037.3,762.5 1038.5,767.5 1039.7,764.9 1040.0,764.5 1040.6,761.5 1041.2,761.5 1041.8,764.3 1042.1,764.7 1043.4,764.0 1044.6,765.0 1045.8,764.6 1047.0,761.3 1047.4,761.6 1048.0,764.2 1048.6,764.2 1049.2,763.3 1049.5,763.2 1050.7,763.7 1051.9,758.7 1053.1,760.7 1054.4,765.2 1055.6,764.8 1056.8,764.0 1057.1,763.1 1057.7,757.2 1058.3,757.2 1058.9,762.5 1059.3,763.3 1059.6,760.8 1060.2,743.0 1060.8,743.0 1061.4,759.1 1061.7,761.2 1062.9,762.9 1064.1,764.7 1065.4,767.5 1066.6,768.1 1067.8,763.5 1069.0,767.3 1070.3,763.5 1071.5,766.6 1072.7,764.0 1073.0,763.5 1073.6,760.2 1074.2,760.2 1074.8,764.3 1075.1,764.8 1076.4,764.5 1076.7,763.9 1077.3,759.9 1077.9,759.9 1078.5,764.7 1078.8,765.3 1080.0,767.6 1081.3,766.9 1082.5,766.6 1083.7,765.5 1084.9,766.5 1086.2,767.9 1087.4,764.7 1087.7,763.8 1088.3,757.1 1088.9,757.1 1089.5,763.1 1089.8,763.9 1091.0,766.7 1091.4,766.0 1092.0,760.8 1092.6,760.8 1093.2,764.4 1093.5,764.9 1094.7,767.7 1095.9,768.0 1097.2,765.6 1098.4,764.2 1099.6,763.3 1100.8,763.7 1101.1,762.4 1101.7,753.1 1102.3,753.1 1102.9,762.4 1103.3,763.7 1104.5,766.2 1105.7,765.7 1106.9,766.0 1108.2,767.4 1109.4,766.6 1109.7,766.4 1110.3,765.5 1110.9,765.5 1111.5,766.7 1111.8,766.9 1113.0,766.9 1114.3,767.0 1114.6,766.8 1115.2,765.4 1115.8,765.4 1116.4,766.5 1116.7,766.6 1117.9,763.4 1119.2,762.9 1120.4,761.4 1121.6,767.1 1122.8,766.9 1124.0,765.8 1125.3,767.0 1126.5,766.3 1127.7,766.2 1128.9,765.6 1130.2,763.8 1130.5,763.2 1131.1,758.7 1131.7,758.7 1132.3,763.3 1132.6,763.9 1132.9,763.5 1133.5,760.3 1134.1,760.3 1134.7,764.1 1135.0,764.6 1136.3,767.2 1137.5,766.0 1138.7,764.7 1139.9,762.9 1140.3,762.7 1140.9,760.7 1141.5,760.7 1142.1,764.3 1142.4,764.7 1143.6,766.9 1144.8,768.0 1146.0,766.6 1146.4,765.6 1147.0,758.2 1147.6,758.2 1148.2,763.8 1148.5,764.5 1148.8,764.0 1149.4,760.5 1150.0,760.5 1150.6,761.0 1150.9,761.0 1152.2,765.8 1153.4,766.0 1154.6,764.6 1155.8,762.2 1157.0,766.4 1157.4,766.0 1158.0,763.0 1158.6,763.0 1159.2,766.4 1159.5,766.9 1160.7,762.7 1161.0,762.6 1161.6,761.8 1162.2,761.8 1162.8,763.6 1163.2,763.9 1164.4,763.6 1165.6,766.4 1166.8,766.0 1168.1,766.3 1169.3,763.9 1170.5,765.0 1171.7,764.1 1172.9,765.4 1174.2,762.8 1175.4,764.5 1175.7,764.4 1176.3,764.2 1176.9,764.2 1177.5,763.4 1177.8,763.3 1178.2,763.0 1178.8,760.9 1179.4,760.9 1180.0,760.4 1180.3,760.4 1181.5,763.5 1182.7,765.5 1183.9,765.9 1185.2,766.5 1186.4,767.9 1187.6,766.2 1188.8,766.1 1189.2,765.7 1189.8,762.7 1190.4,762.7 1191.0,765.9 1191.3,766.3 1192.5,765.7 1193.7,767.3 1194.9,764.0 1195.3,763.8 1195.9,762.8 1196.5,762.8 1197.1,764.8 1197.4,765.0 1198.6,764.9 1199.8,766.2 1200.2,765.9 1200.8,764.4 1201.4,764.4 1202.0,766.2 1202.3,766.5 1203.5,765.7 1204.7,766.2 1205.0,765.9 1205.6,763.5 1206.2,763.5 1206.8,766.2 1207.2,766.6 1208.4,765.9 1209.6,767.8 1210.8,766.7 1212.1,763.8 1213.3,765.7 1213.6,764.8 1214.2,758.7 1214.8,758.7 1215.4,762.5 1215.7,763.0 1216.9,767.5 1218.2,765.5 1218.5,764.9 1219.1,760.4 1219.7,760.4 1220.3,764.6 1220.6,765.1 1221.8,762.7 1223.1,764.3 1224.3,765.0 1224.6,764.6 1225.2,761.8 1225.8,761.8 1226.4,765.0 1226.7,765.4 1227.9,764.0 1229.2,765.3 1229.5,765.1 1230.1,763.6 1230.7,763.6 1231.3,765.2 1231.6,765.4 1232.8,766.8 1234.1,764.9 1235.3,764.6 1235.6,764.7 1236.2,765.1 1236.8,765.1 1237.4,762.6 1237.7,762.3 1239.0,766.1 1240.2,766.5 1241.4,766.3 1242.6,759.5 1242.9,759.7 1243.5,761.3 1244.1,761.3 1244.7,765.3 1245.1,765.8 1246.3,763.6 1247.5,766.0 1248.7,764.0 1250.0,767.0 1251.2,767.0 1252.4,765.5 1252.7,765.2 1253.3,763.0 1253.9,763.0 1254.5,765.4 1254.8,765.7 1256.1,764.8 1256.4,764.2 1257.0,759.9 1257.6,759.9 1258.2,759.5 1258.5,759.5 1259.7,762.2 1261.0,763.9 1262.2,763.9 1263.4,762.6 1263.7,762.3 1264.3,760.0 1264.9,760.0 1265.5,764.0 1265.8,764.6 1267.1,765.0 1267.4,765.1 1268.0,765.7 1268.6,765.7 1269.2,764.9 1269.5,764.8 1270.7,766.2 1272.0,766.4 1273.2,766.1 1274.4,767.3 1275.6,765.3 1276.8,762.4 1278.1,766.8 1279.3,767.2 1280.5,767.5 1281.7,766.9 1283.0,764.9 1283.3,764.0 1283.9,758.1 1284.5,758.1 1285.1,765.1 1285.4,766.1 1286.6,764.3 1287.8,763.6 1288.2,763.3 1288.8,761.2 1289.4,761.2 1290.0,762.0 1290.3,762.1 1291.5,763.5 1292.7,763.8 1294.0,764.6 1295.2,765.0 1296.4,766.1 1297.6,760.7 1297.9,760.5 1298.5,759.1 1299.1,759.1 1299.7,764.5 1300.1,765.3 1301.3,766.1 1302.5,766.1 1303.7,765.1 1305.0,763.9 1306.2,766.3 1307.4,767.7 1308.6,766.2 1308.9,766.0 1309.5,764.7 1310.1,764.7 1310.7,765.8 1311.1,765.9 1312.3,766.3 1313.5,766.8 1313.8,766.1 1314.4,761.1 1315.0,761.1 1315.6,765.1 1316.0,765.7 1317.2,767.0 1318.4,766.5 1319.6,765.9 1320.9,767.2 1322.1,763.8 1323.3,764.9 1324.5,766.0 1324.8,765.4 1325.4,760.8 1326.0,760.8 1326.6,762.1 1327.0,762.2 1328.2,763.8 1329.4,767.4 1329.7,767.0 1330.3,764.0 1330.9,764.0 1331.5,766.7 1331.9,767.0 1333.1,766.3 1334.3,766.0 1335.5,764.8 1336.7,765.5 1338.0,765.3 1338.3,765.3 1338.9,765.5 1339.5,765.5 1340.1,767.0 1340.4,767.2 1341.6,766.0 1342.9,767.4 1344.1,766.2 1344.4,765.9 1345.0,764.2 1345.6,764.2 1346.2,764.7 1346.5,764.8 1347.7,763.4 1349.0,765.3 1349.3,764.6 1349.9,759.2 1350.5,759.2 1351.1,762.9 1351.4,763.4 1352.6,763.8 1353.9,764.5 1355.1,766.1 1355.4,765.6 1356.0,762.4 1356.6,762.4 1357.2,761.9 1357.5,761.9 1358.7,764.7 1360.0,764.9 1361.2,764.7 1361.5,764.4 1362.1,762.4 1362.7,762.4 1363.3,766.1 1363.6,766.6 1364.9,759.2 1366.1,761.8 1367.3,763.0 1367.6,763.0 1368.2,763.3 1368.8,763.3 1369.4,763.3 1369.7,763.4 1371.0,766.1 1371.3,765.8 1371.9,763.3 1372.5,763.3 1373.1,764.5 1373.4,764.7 1374.6,764.4 1375.0,763.6 1375.6,758.0 1376.2,758.0 1376.8,765.0 1377.1,765.9 1378.3,767.4 1379.5,762.1 1379.8,762.0 1380.4,761.8 1381.0,761.8 1381.6,766.2 1382.0,766.8 1383.2,767.3 1384.4,762.3 1384.7,761.8 1385.3,758.1 1385.9,758.1 1386.5,764.0 1386.9,764.9 1388.1,767.6 1389.3,760.5 1390.5,762.6 1390.9,762.7 1391.5,763.0 1392.1,763.0 1392.7,765.1 1393.0,765.4 1394.2,765.0 1394.5,765.1 1395.1,765.7 1395.7,765.7 1396.3,766.0 1396.6,766.0 1397.9,766.7 1399.1,766.3 1400.3,764.0 1401.5,766.3 1402.8,766.3 1404.0,766.0 1404.3,765.7 1404.9,763.2 1405.5,763.2 1406.1,763.4 1406.4,763.4 1407.6,762.2 1408.9,766.7 1410.1,766.2 1410.4,766.0 1411.0,765.0 1411.6,765.0 1412.2,765.0 1412.5,765.0 1413.8,767.8 1415.0,763.1 1416.2,766.6 1416.5,766.0 1417.1,761.3 1417.7,761.3 1418.3,764.7 1418.6,765.2 1419.9,765.2 1421.1,764.9 1422.3,759.8 1423.5,765.8 1423.9,765.4 1424.5,762.4 1425.1,762.4 1425.7,765.7 1426.0,766.2 1427.2,768.1"/>
<path class="d" stroke="#F14040" d="M204.8,765.6 206.0,765.8 207.2,763.6 207.6,763.3 208.2,760.8 208.8,760.8 209.4,764.2 209.7,764.7 210.9,763.8 211.2,762.7 211.8,755.1 212.4,755.1 213.0,760.8 213.4,761.6 214.6,763.9 215.8,765.8 217.0,764.0 218.2,766.5 218.6,766.1 219.2,763.4 219.8,763.4 220.4,765.8 220.7,766.1 221.9,765.6 223.1,767.6 224.4,766.4 224.7,766.0 225.3,763.1 225.9,763.1 226.5,766.0 226.8,766.4 228.0,761.7 229.2,763.2 230.5,766.2 231.7,765.4 232.9,766.9 234.1,761.1 235.4,765.5 236.6,766.6 237.8,763.7 238.1,763.0 238.7,758.2 239.3,758.2 239.9,762.0 240.2,762.5 241.5,764.0 242.7,765.3 243.9,764.0 244.2,763.4 244.8,759.3 245.4,759.3 246.0,762.0 246.4,762.3 247.6,764.0 248.8,763.0 249.1,761.9 249.7,753.9 250.3,753.9 250.9,762.5 251.3,763.7 252.5,764.3 253.7,765.1 254.9,763.5 256.1,766.6 256.5,765.9 257.1,761.3 257.7,761.3 258.3,760.9 258.6,760.9 259.8,767.2 261.0,766.6 262.3,765.7 263.5,761.3 264.7,762.7 265.9,761.6 267.1,763.7 268.4,764.9 268.7,764.6 269.3,762.6 269.9,762.6 270.5,764.2 270.8,764.5 272.0,759.4 272.4,758.7 273.0,753.6 273.6,753.6 274.2,761.8 274.5,762.9 275.7,764.0 276.9,766.4 278.1,764.8 279.4,759.9 280.6,766.1 281.8,765.3 283.0,761.0 284.3,766.2 285.5,766.3 285.8,764.9 286.4,754.4 287.0,754.4 287.6,760.1 287.9,760.9 289.1,763.4 290.4,758.9 290.7,759.4 291.3,763.0 291.9,763.0 292.5,764.3 292.8,764.5 294.0,761.0 295.3,764.5 296.5,759.4 297.7,763.0 298.9,766.7 300.1,762.9 300.5,762.2 301.1,757.5 301.7,757.5 302.3,763.6 302.6,764.4 303.8,767.3 305.0,766.5 306.3,768.2 307.5,767.3 308.7,767.3 309.9,766.3 311.1,765.7 311.5,765.4 312.1,763.4 312.7,763.4 313.3,761.7 313.6,761.4 314.8,760.8 316.0,764.5 317.3,764.1 318.5,763.6 319.7,765.4 320.9,763.2 322.2,767.2 323.4,764.2 324.6,760.1 325.8,763.9 326.1,762.4 326.7,751.8 327.3,751.8 327.9,761.9 328.3,763.3 329.5,765.8 330.7,766.7 331.9,760.1 333.2,766.1 334.4,762.7 335.6,764.6 335.9,764.1 336.5,760.4 337.1,760.4 337.7,762.8 338.0,763.2 339.3,765.5 340.5,766.7 341.7,765.4 342.0,764.8 342.6,760.1 343.2,760.1 343.8,763.1 344.2,763.5 345.4,762.8 346.6,764.0 347.8,761.7 349.0,762.8 350.3,762.9 350.6,762.0 351.2,755.3 351.8,755.3 352.4,763.6 352.7,764.7 353.9,766.3 355.2,763.1 356.4,763.1 357.6,763.7 358.8,765.1 360.0,762.2 361.3,766.9 361.6,765.9 362.2,758.9 362.8,758.9 363.4,764.5 363.7,765.3 364.9,765.5 366.2,764.9 367.4,760.3 368.6,764.9 369.8,762.3 371.0,760.7 371.4,760.2 372.0,756.1 372.6,756.1 373.2,763.1 373.5,764.1 374.7,764.0 375.9,766.3 377.2,766.6 378.4,764.7 379.6,766.7 380.8,765.9 381.1,764.9 381.7,757.5 382.3,757.5 382.9,761.9 383.3,762.5 384.5,764.3 385.7,765.5 386.0,763.8 386.6,752.0 387.2,752.0 387.8,763.3 388.2,764.8 389.4,764.0 390.6,767.0 391.8,764.6 393.0,764.3 394.3,766.4 395.5,765.2 396.7,767.6 397.9,766.3 399.2,767.4 400.4,765.7 400.7,765.2 401.3,762.2 401.9,762.2 402.5,762.8 402.8,762.9 404.1,764.4 405.3,765.8 405.6,765.0 406.2,759.7 406.8,759.7 407.4,763.1 407.7,763.6 408.9,764.9 410.2,763.6 411.4,766.5 412.6,762.3 413.8,768.0 415.1,763.5 416.3,760.7 417.5,765.3 418.7,763.6 419.9,761.8 421.2,762.9 422.4,765.6 423.6,766.0 424.8,766.0 425.2,765.4 425.8,761.0 426.4,761.0 427.0,762.5 427.3,762.7 427.6,762.4 428.2,760.4 428.8,760.4 429.4,763.3 429.7,763.7 430.9,766.5 432.2,760.0 433.4,764.9 434.6,762.7 435.8,766.2 437.1,762.0 437.4,761.0 438.0,753.0 438.6,753.0 439.2,761.9 439.5,763.1 440.7,764.5 441.9,765.9 443.2,760.1 444.4,766.3 445.6,767.7 446.8,764.9 448.1,764.2 448.4,763.1 449.0,755.1 449.6,755.1 450.2,762.8 450.5,763.8 451.7,766.2 452.9,766.8 454.2,763.7 454.5,763.0 455.1,757.6 455.7,757.6 456.3,764.3 456.6,765.2 457.8,767.5 459.1,765.8 460.3,768.2 461.5,766.9 462.7,760.7 463.9,767.7 465.2,761.2 466.4,764.3 467.6,766.8 468.8,766.0 470.1,757.5 470.4,756.7 471.0,750.6 471.6,750.6 472.2,761.5 472.5,763.0 473.7,764.7 474.1,764.3 474.7,760.9 475.3,760.9 475.9,764.5 476.2,765.0 477.4,764.0 478.6,764.8 478.9,764.1 479.5,758.7 480.1,758.7 480.7,760.3 481.1,760.5 482.3,766.6 483.5,762.4 483.8,762.5 484.4,762.6 485.0,762.6 485.6,764.2 486.0,764.4 487.2,767.8 488.4,766.7 489.6,766.4 489.9,765.9 490.5,762.6 491.1,762.6 491.7,765.0 492.1,765.3 493.3,766.2 494.5,761.6 495.7,764.8 497.0,767.9 498.2,766.6 499.4,766.4 500.6,759.9 500.9,760.1 501.5,761.2 502.1,761.2 502.7,758.5 503.1,758.1 504.3,764.0 505.5,760.1 506.7,765.6 508.0,766.5 509.2,765.3 509.5,764.0 510.1,754.5 510.7,754.5 511.3,762.9 511.6,764.0 512.8,767.4 514.1,764.3 514.4,764.1 515.0,762.0 515.6,762.0 516.2,761.4 516.5,761.3 517.7,763.6 519.0,764.7 520.2,765.6 521.4,758.8 522.6,762.7 523.8,764.3 524.2,764.3 524.8,764.5 525.4,764.5 526.0,764.8 526.3,764.8 527.5,762.7 528.7,767.0 530.0,766.7 531.2,767.7 532.4,765.4 532.7,764.9 533.3,760.8 533.9,760.8 534.5,763.6 534.8,764.0 536.1,764.4 537.3,763.9 538.5,764.7 539.7,765.0 540.1,764.0 540.7,757.2 541.3,757.2 541.9,762.2 542.2,762.9 543.4,765.4 544.6,763.4 545.8,764.1 547.1,763.0 548.3,764.9 549.5,762.6 549.8,762.4 550.4,760.8 551.0,760.8 551.6,761.5 552.0,761.6 553.2,759.8 554.4,761.6 555.6,762.2 556.9,762.1 557.2,761.6 557.8,757.5 558.4,757.5 559.0,764.5 559.3,765.4 560.5,765.2 561.7,762.8 563.0,762.7 564.2,763.3 564.5,763.1 565.1,761.4 565.7,761.4 566.3,763.5 566.6,763.8 567.9,766.0 569.1,763.8 569.4,762.4 570.0,752.6 570.6,752.6 571.2,763.4 571.5,764.9 572.7,766.1 574.0,766.6 575.2,762.5 576.4,763.7 576.7,763.7 577.3,763.5 577.9,763.5 578.5,765.6 578.9,765.9 580.1,766.4 581.3,764.1 582.5,766.5 583.7,760.9 584.1,761.1 584.7,762.2 585.3,762.2 585.9,764.8 586.2,765.1 587.4,765.6 588.6,765.6 589.9,765.0 591.1,766.6 591.4,766.1 592.0,762.2 592.6,762.2 593.2,764.4 593.5,764.7 594.7,765.8 596.0,763.3 597.2,762.5 597.5,761.8 598.1,756.9 598.7,756.9 599.3,763.8 599.6,764.7 600.9,763.0 601.2,762.8 601.8,761.0 602.4,761.0 603.0,763.4 603.3,763.7 604.5,762.1 605.7,766.6 607.0,763.8 608.2,764.2 609.4,766.6 609.7,766.2 610.3,763.3 610.9,763.3 611.5,762.6 611.9,762.5 613.1,763.0 614.3,766.3 615.5,764.4 615.8,764.4 616.4,764.9 617.0,764.9 617.6,761.5 618.0,761.1 619.2,766.3 620.4,767.5 621.6,760.9 622.0,761.3 622.6,763.6 623.2,763.6 623.8,764.8 624.1,765.0 625.3,757.2 626.5,763.0 627.8,763.8 629.0,763.4 629.3,762.5 629.9,756.1 630.5,756.1 631.1,762.6 631.4,763.5 632.6,767.0 633.9,765.2 635.1,762.8 636.3,765.7 637.5,767.2 638.8,761.4 640.0,763.0 641.2,762.1 641.5,761.8 642.1,760.0 642.7,760.0 643.3,763.2 643.6,763.7 644.9,759.6 646.1,762.2 647.3,764.4 648.5,762.7 649.8,766.8 650.1,765.8 650.7,758.6 651.3,758.6 651.9,761.3 652.2,761.7 652.5,761.6 653.1,761.2 653.7,761.2 654.3,764.0 654.6,764.3 655.9,761.6 657.1,765.4 658.3,763.3 659.5,766.7 660.8,764.0 661.1,763.4 661.7,758.9 662.3,758.9 662.9,763.3 663.2,763.9 664.4,767.6 665.6,765.7 666.9,767.0 667.2,766.1 667.8,759.8 668.4,759.8 669.0,763.5 669.3,764.1 670.5,763.5 671.8,766.3 673.0,762.2 674.2,764.7 675.4,763.6 675.7,762.8 676.3,757.3 676.9,757.3 677.5,764.0 677.9,765.0 679.1,760.9 680.3,765.4 681.5,766.3 682.8,765.8 684.0,765.4 685.2,762.8 685.5,761.4 686.1,751.2 686.7,751.2 687.3,760.9 687.6,762.2 688.9,764.5 689.2,764.3 689.8,763.5 690.4,763.5 691.0,763.9 691.3,763.9 692.5,763.0 693.8,764.9 695.0,765.5 696.2,765.8 696.5,765.3 697.1,762.1 697.7,762.1 698.3,761.6 698.6,761.6 699.9,767.0 701.1,765.0 701.4,764.6 702.0,761.6 702.6,761.6 703.2,764.4 703.5,764.8 704.8,758.4 706.0,767.1 707.2,764.3 708.4,763.2 709.7,765.7 710.9,763.5 711.2,763.5 711.8,764.0 712.4,764.0 713.0,766.0 713.3,766.3 714.5,764.2 715.8,767.5 717.0,763.7 717.3,763.1 717.9,758.6 718.5,758.6 719.1,764.5 719.4,765.3 720.7,765.9 721.0,765.7 721.6,763.8 722.2,763.8 722.8,763.8 723.1,763.8 724.3,765.2 725.5,764.6 726.8,762.2 727.1,762.1 727.7,760.9 728.3,760.9 728.9,762.4 729.2,762.6 730.4,764.5 731.7,764.2 732.9,764.2 733.2,763.6 733.8,759.3 734.4,759.3 735.0,764.3 735.3,765.0 736.5,758.1 737.8,766.1 739.0,766.8 740.2,766.5 741.4,764.0 742.7,765.4 743.9,762.5 744.2,762.5 744.8,762.6 745.4,762.6 746.0,765.9 746.3,766.3 747.5,766.9 748.8,763.1 750.0,765.6 751.2,765.3 752.4,766.4 753.7,765.1 754.9,764.8 755.2,764.4 755.8,761.1 756.4,761.1 757.0,763.3 757.3,763.6 758.5,766.4 758.9,765.6 759.5,759.7 760.1,759.7 760.7,766.3 761.0,767.2 762.2,763.6 763.4,764.0 763.8,763.1 764.4,757.0 765.0,757.0 765.6,765.4 765.9,766.6 767.1,767.2 768.3,767.3 769.5,765.9 770.8,765.8 771.1,765.1 771.7,759.7 772.3,759.7 772.9,762.5 773.2,762.9 774.4,761.6 775.7,766.0 776.0,765.4 776.6,760.8 777.2,760.8 777.8,764.1 778.1,764.5 779.3,766.2 780.6,766.2 781.8,762.7 782.1,762.1 782.7,757.6 783.3,757.6 783.9,761.7 784.2,762.3 785.4,768.0 786.7,767.1 787.9,763.7 788.2,763.5 788.8,761.9 789.4,761.9 790.0,766.5 790.3,767.1 791.6,765.1 792.8,767.0 794.0,761.6 794.3,761.5 794.9,761.0 795.5,761.0 796.1,764.8 796.4,765.4 797.7,762.1 798.9,766.4 800.1,764.7 801.3,765.3 801.7,764.0 802.3,754.1 802.9,754.1 803.5,763.6 803.8,764.9 805.0,767.0 806.2,766.3 807.4,765.4 808.7,763.6 809.0,763.0 809.6,758.8 810.2,758.8 810.8,761.2 811.1,761.6 812.3,762.6 813.6,765.5 813.9,764.9 814.5,760.0 815.1,760.0 815.7,761.9 816.0,762.1 817.2,760.9 818.4,765.6 819.7,761.6 820.9,764.4 822.1,764.0 822.4,763.0 823.0,755.8 823.6,755.8 824.2,761.4 824.6,762.2 825.8,764.3 827.0,764.8 828.2,765.2 828.5,764.8 829.1,761.7 829.7,761.7 830.3,763.7 830.7,763.9 831.9,767.2 833.1,767.5 834.3,762.4 835.6,762.4 836.8,766.7 838.0,767.8 839.2,767.5 839.5,767.5 840.1,768.0 840.7,768.0 841.3,761.0 841.7,760.0 842.9,766.8 844.1,760.7 845.3,766.7 846.6,760.6 846.9,758.9 847.5,747.0 848.1,747.0 848.7,761.4 849.0,763.4 850.2,766.5 851.4,757.8 852.7,766.0 853.0,765.8 853.6,764.6 854.2,764.6 854.8,762.5 855.1,762.3 856.3,765.6 857.6,767.5 858.8,764.0 860.0,766.4 861.2,764.4 861.6,764.4 862.2,763.8 862.8,763.8 863.4,764.8 863.7,765.0 864.9,765.1 866.1,763.7 867.3,763.7 867.7,763.5 868.3,762.1 868.9,762.1 869.5,763.2 869.8,763.4 871.0,766.4 872.2,766.2 873.5,765.0 873.8,765.1 874.4,765.3 875.0,765.3 875.6,766.1 875.9,766.2 877.1,766.0 878.3,762.9 879.6,765.4 879.9,764.7 880.5,759.4 881.1,759.4 881.7,760.5 882.0,760.7 883.2,760.8 883.6,760.5 884.2,758.6 884.8,758.6 885.4,765.4 885.7,766.3 886.9,764.9 888.1,762.0 889.3,763.2 889.7,762.9 890.3,760.6 890.9,760.6 891.5,760.4 891.8,760.4 893.0,766.1 894.2,766.9 895.5,766.0 896.7,764.4 897.9,763.4 899.1,764.5 900.3,762.8 900.7,763.1 901.3,764.8 901.9,764.8 902.5,763.9 902.8,763.7 904.0,764.7 905.2,767.5 906.5,766.0 906.8,765.2 907.4,758.8 908.0,758.8 908.6,764.0 908.9,764.7 910.1,766.4 911.3,764.2 911.7,764.2 912.3,763.8 912.9,763.8 913.5,765.3 913.8,765.5 915.0,765.1 915.3,764.4 915.9,759.7 916.5,759.7 917.1,761.3 917.5,761.5 917.8,761.5 918.4,761.8 919.0,761.8 919.6,762.1 919.9,762.2 921.1,766.7 921.4,765.8 922.0,759.7 922.6,759.7 923.2,762.8 923.6,763.2 923.9,762.7 924.5,759.5 925.1,759.5 925.7,763.2 926.0,763.7 927.2,763.3 928.5,766.7 928.8,765.9 929.4,760.5 930.0,760.5 930.6,764.8 930.9,765.4 932.1,764.0 933.4,766.8 934.6,760.8 935.8,766.0 937.0,763.1 937.3,762.7 937.9,759.9 938.5,759.9 939.1,764.9 939.5,765.6 940.7,761.9 941.9,766.2 942.2,766.0 942.8,763.9 943.4,763.9 944.0,764.8 944.4,764.9 945.6,760.9 946.8,763.1 948.0,763.1 948.3,763.2 948.9,763.3 949.5,763.3 950.1,761.1 950.5,760.9 951.7,761.9 952.9,763.3 954.1,763.0 954.5,763.1 955.1,763.4 955.7,763.4 956.3,760.6 956.6,760.2 957.8,764.2 959.0,767.2 960.2,764.3 960.6,763.9 961.2,761.0 961.8,761.0 962.4,762.0 962.7,762.1 963.9,764.3 965.1,765.4 966.4,767.7 967.6,766.4 968.8,762.6 969.1,760.0 969.7,740.6 970.3,740.6 970.9,757.5 971.2,759.8 972.5,761.8 973.7,766.3 974.9,761.9 976.1,765.8 977.4,761.0 978.6,763.7 979.8,765.8 981.0,762.5 981.3,762.1 981.9,758.6 982.5,758.6 983.1,765.2 983.5,766.1 984.7,764.4 985.0,763.5 985.6,757.3 986.2,757.3 986.8,761.7 987.1,762.3 988.4,760.7 989.6,762.1 990.8,766.6 991.1,766.5 991.7,765.9 992.3,765.9 992.9,765.8 993.2,765.8 994.5,760.9 995.7,762.6 996.9,763.9 998.1,763.3 999.4,764.3 1000.6,764.4 1000.9,764.3 1001.5,763.5 1002.1,763.5 1002.7,763.4 1003.0,763.4 1004.2,760.7 1005.5,767.0 1006.7,766.2 1007.9,767.3 1009.1,762.3 1009.5,760.7 1010.1,749.3 1010.7,749.3 1011.3,758.0 1011.6,759.2 1012.8,766.7 1014.0,766.4 1014.4,766.0 1015.0,763.5 1015.6,763.5 1016.2,765.2 1016.5,765.4 1017.7,761.7 1018.9,764.8 1020.1,766.7 1021.4,765.1 1021.7,765.1 1022.3,764.4 1022.9,764.4 1023.5,760.0 1023.8,759.4 1025.0,764.5 1026.3,766.4 1027.5,766.6 1028.7,760.0 1029.9,763.1 1031.1,767.3 1032.4,765.9 1032.7,764.3 1033.3,752.5 1033.9,752.5 1034.5,760.8 1034.8,762.0 1036.0,765.4 1037.3,763.0 1038.5,766.7 1039.7,762.5 1040.0,762.5 1040.6,762.5 1041.2,762.5 1041.8,763.7 1042.1,763.9 1043.4,760.8 1044.6,763.0 1045.8,765.7 1047.0,762.3 1047.4,762.1 1048.0,760.5 1048.6,760.5 1049.2,761.9 1049.5,762.0 1050.7,759.9 1051.9,760.6 1053.1,765.0 1054.4,766.2 1055.6,763.1 1056.8,764.5 1057.1,763.5 1057.7,756.5 1058.3,756.5 1058.9,761.2 1059.3,761.9 1059.6,759.5 1060.2,742.3 1060.8,742.3 1061.4,759.3 1061.7,761.6 1062.9,760.4 1064.1,764.1 1065.4,767.8 1066.6,765.9 1067.8,763.7 1069.0,766.3 1070.3,759.7 1071.5,766.5 1072.7,764.1 1073.0,763.7 1073.6,760.8 1074.2,760.8 1074.8,763.9 1075.1,764.3 1076.4,765.5 1076.7,764.6 1077.3,757.9 1077.9,757.9 1078.5,765.4 1078.8,766.4 1080.0,766.6 1081.3,765.9 1082.5,766.8 1083.7,766.5 1084.9,766.1 1086.2,767.2 1087.4,763.7 1087.7,763.1 1088.3,758.9 1088.9,758.9 1089.5,762.9 1089.8,763.4 1091.0,763.2 1091.4,762.9 1092.0,760.4 1092.6,760.4 1093.2,763.0 1093.5,763.4 1094.7,767.5 1095.9,767.2 1097.2,766.5 1098.4,765.3 1099.6,759.6 1100.8,763.9 1101.1,763.3 1101.7,758.9 1102.3,758.9 1102.9,762.1 1103.3,762.6 1104.5,766.0 1105.7,763.2 1106.9,764.7 1108.2,765.9 1109.4,767.2 1109.7,766.5 1110.3,760.7 1110.9,760.7 1111.5,766.5 1111.8,767.3 1113.0,764.9 1114.3,764.8 1114.6,764.7 1115.2,763.8 1115.8,763.8 1116.4,765.6 1116.7,765.8 1117.9,764.5 1119.2,762.5 1120.4,766.6 1121.6,765.2 1122.8,766.8 1124.0,760.0 1125.3,763.5 1126.5,764.2 1127.7,766.5 1128.9,765.3 1130.2,765.1 1130.5,764.2 1131.1,757.5 1131.7,757.5 1132.3,759.9 1132.6,760.2 1132.9,759.9 1133.5,757.8 1134.1,757.8 1134.7,763.0 1135.0,763.7 1136.3,766.6 1137.5,764.6 1138.7,765.0 1139.9,763.2 1140.3,762.2 1140.9,755.3 1141.5,755.3 1142.1,763.5 1142.4,764.7 1143.6,766.3 1144.8,766.7 1146.0,764.3 1146.4,763.7 1147.0,759.1 1147.6,759.1 1148.2,764.9 1148.5,765.7 1148.8,764.7 1149.4,757.5 1150.0,757.5 1150.6,763.0 1150.9,763.8 1152.2,766.4 1153.4,766.3 1154.6,761.8 1155.8,764.0 1157.0,767.0 1157.4,766.3 1158.0,761.2 1158.6,761.2 1159.2,765.6 1159.5,766.2 1160.7,764.1 1161.0,763.9 1161.6,762.2 1162.2,762.2 1162.8,765.0 1163.2,765.4 1164.4,766.3 1165.6,762.8 1166.8,766.9 1168.1,763.1 1169.3,765.1 1170.5,763.5 1171.7,764.5 1172.9,765.5 1174.2,764.4 1175.4,764.9 1175.7,764.8 1176.3,763.7 1176.9,763.7 1177.5,760.0 1177.8,759.5 1178.2,759.8 1178.8,761.9 1179.4,761.9 1180.0,759.3 1180.3,759.0 1181.5,764.8 1182.7,763.7 1183.9,767.4 1185.2,766.0 1186.4,766.3 1187.6,766.9 1188.8,766.9 1189.2,766.0 1189.8,759.6 1190.4,759.6 1191.0,765.3 1191.3,766.1 1192.5,765.2 1193.7,766.9 1194.9,762.0 1195.3,761.9 1195.9,761.3 1196.5,761.3 1197.1,765.4 1197.4,766.0 1198.6,762.6 1199.8,764.5 1200.2,764.5 1200.8,764.8 1201.4,764.8 1202.0,766.4 1202.3,766.6 1203.5,761.2 1204.7,765.4 1205.0,764.6 1205.6,758.9 1206.2,758.9 1206.8,764.5 1207.2,765.3 1208.4,762.7 1209.6,765.9 1210.8,767.8 1212.1,763.5 1213.3,765.1 1213.6,764.5 1214.2,760.2 1214.8,760.2 1215.4,763.9 1215.7,764.5 1216.9,767.0 1218.2,765.0 1218.5,764.4 1219.1,759.7 1219.7,759.7 1220.3,763.2 1220.6,763.7 1221.8,759.9 1223.1,766.0 1224.3,765.2 1224.6,765.0 1225.2,764.2 1225.8,764.2 1226.4,765.3 1226.7,765.5 1227.9,764.7 1229.2,762.0 1229.5,762.1 1230.1,762.7 1230.7,762.7 1231.3,765.0 1231.6,765.4 1232.8,766.1 1234.1,761.7 1235.3,766.7 1235.6,766.2 1236.2,762.5 1236.8,762.5 1237.4,762.5 1237.7,762.5 1239.0,763.5 1240.2,767.0 1241.4,766.0 1242.6,764.0 1242.9,763.5 1243.5,759.9 1244.1,759.9 1244.7,765.4 1245.1,766.1 1246.3,764.7 1247.5,766.6 1248.7,762.1 1250.0,763.2 1251.2,765.2 1252.4,763.6 1252.7,763.3 1253.3,761.4 1253.9,761.4 1254.5,766.0 1254.8,766.7 1256.1,763.1 1256.4,762.7 1257.0,759.6 1257.6,759.6 1258.2,763.0 1258.5,763.5 1259.7,762.0 1261.0,765.3 1262.2,764.8 1263.4,759.6 1263.7,759.2 1264.3,756.3 1264.9,756.3 1265.5,762.7 1265.8,763.6 1267.1,765.9 1267.4,765.7 1268.0,764.2 1268.6,764.2 1269.2,766.1 1269.5,766.4 1270.7,765.2 1272.0,764.8 1273.2,766.8 1274.4,766.4 1275.6,764.5 1276.8,763.3 1278.1,766.7 1279.3,767.1 1280.5,766.8 1281.7,767.5 1283.0,766.4 1283.3,764.8 1283.9,753.1 1284.5,753.1 1285.1,761.5 1285.4,762.7 1286.6,759.9 1287.8,764.7 1288.2,764.4 1288.8,762.5 1289.4,762.5 1290.0,762.2 1290.3,762.2 1291.5,761.0 1292.7,760.2 1294.0,765.1 1295.2,766.0 1296.4,767.0 1297.6,763.5 1297.9,762.4 1298.5,754.2 1299.1,754.2 1299.7,763.8 1300.1,765.1 1301.3,764.3 1302.5,764.4 1303.7,762.4 1305.0,757.8 1306.2,765.0 1307.4,767.1 1308.6,760.2 1308.9,760.6 1309.5,763.8 1310.1,763.8 1310.7,761.6 1311.1,761.3 1312.3,766.1 1313.5,765.5 1313.8,765.2 1314.4,763.3 1315.0,763.3 1315.6,764.5 1316.0,764.6 1317.2,764.6 1318.4,767.6 1319.6,763.7 1320.9,767.6 1322.1,765.4 1323.3,764.5 1324.5,765.7 1324.8,765.0 1325.4,759.6 1326.0,759.6 1326.6,762.3 1327.0,762.6 1328.2,762.6 1329.4,766.6 1329.7,766.3 1330.3,763.8 1330.9,763.8 1331.5,766.7 1331.9,767.1 1333.1,764.6 1334.3,765.3 1335.5,763.4 1336.7,765.0 1338.0,763.3 1338.3,763.4 1338.9,763.7 1339.5,763.7 1340.1,766.0 1340.4,766.3 1341.6,767.3 1342.9,767.0 1344.1,766.2 1344.4,765.7 1345.0,761.9 1345.6,761.9 1346.2,763.6 1346.5,763.8 1347.7,763.8 1349.0,766.5 1349.3,765.5 1349.9,758.3 1350.5,758.3 1351.1,761.8 1351.4,762.2 1352.6,765.8 1353.9,763.3 1355.1,766.5 1355.4,766.5 1356.0,766.2 1356.6,766.2 1357.2,758.7 1357.5,757.7 1358.7,766.1 1360.0,765.5 1361.2,766.2 1361.5,765.7 1362.1,762.3 1362.7,762.3 1363.3,766.3 1363.6,766.8 1364.9,762.1 1366.1,761.9 1367.3,763.2 1367.6,763.3 1368.2,763.8 1368.8,763.8 1369.4,765.3 1369.7,765.6 1371.0,764.7 1371.3,764.5 1371.9,763.2 1372.5,763.2 1373.1,764.6 1373.4,764.8 1374.6,762.0 1375.0,761.8 1375.6,760.3 1376.2,760.3 1376.8,764.5 1377.1,765.1 1378.3,766.2 1379.5,765.8 1379.8,765.4 1380.4,762.1 1381.0,762.1 1381.6,765.3 1382.0,765.7 1383.2,764.9 1384.4,765.4 1384.7,764.8 1385.3,760.3 1385.9,760.3 1386.5,763.1 1386.9,763.4 1388.1,767.3 1389.3,760.3 1390.5,762.0 1390.9,761.7 1391.5,760.0 1392.1,760.0 1392.7,763.9 1393.0,764.4 1394.2,763.8 1394.5,763.3 1395.1,759.8 1395.7,759.8 1396.3,763.9 1396.6,764.4 1397.9,764.1 1399.1,765.1 1400.3,763.6 1401.5,765.1 1402.8,766.5 1404.0,765.3 1404.3,765.1 1404.9,763.7 1405.5,763.7 1406.1,763.9 1406.4,763.9 1407.6,763.8 1408.9,766.0 1410.1,765.5 1410.4,765.2 1411.0,762.9 1411.6,762.9 1412.2,763.5 1412.5,763.6 1413.8,765.8 1415.0,763.5 1416.2,763.9 1416.5,763.9 1417.1,764.4 1417.7,764.4 1418.3,764.3 1418.6,764.3 1419.9,760.1 1421.1,765.0 1422.3,764.3 1423.5,765.8 1423.9,765.8 1424.5,765.5 1425.1,765.5 1425.7,766.5 1426.0,766.6 1427.2,765.6"/>
<path class="d" stroke="#1A6FDF" d="M204.8,763.9 206.0,764.5 207.2,765.4 207.6,764.5 208.2,758.0 208.8,758.0 209.4,763.2 209.7,763.9 210.9,765.3 211.2,764.1 211.8,755.8 212.4,755.8 213.0,761.1 213.4,761.8 214.6,761.6 215.8,763.5 217.0,762.0 218.2,765.2 218.6,764.9 219.2,762.2 219.8,762.2 220.4,763.4 220.7,763.5 221.9,765.5 223.1,767.6 224.4,767.4 224.7,766.7 225.3,761.3 225.9,761.3 226.5,762.8 226.8,763.0 228.0,761.8 229.2,765.2 230.5,765.7 231.7,766.6 232.9,763.4 234.1,760.7 235.4,763.4 236.6,765.3 237.8,764.7 238.1,763.8 238.7,757.1 239.3,757.1 239.9,765.2 240.2,766.3 241.5,762.7 242.7,765.1 243.9,757.5 244.2,757.9 244.8,760.9 245.4,760.9 246.0,763.3 246.4,763.7 247.6,764.4 248.8,761.2 249.1,760.3 249.7,753.8 250.3,753.8 250.9,762.6 251.3,763.8 252.5,762.0 253.7,765.5 254.9,762.9 256.1,766.6 256.5,766.0 257.1,761.6 257.7,761.6 258.3,760.9 258.6,760.8 259.8,763.8 261.0,762.2 262.3,764.8 263.5,766.2 264.7,764.4 265.9,760.2 267.1,764.2 268.4,763.7 268.7,763.6 269.3,762.4 269.9,762.4 270.5,764.3 270.8,764.5 272.0,765.5 272.4,764.7 273.0,758.2 273.6,758.2 274.2,762.0 274.5,762.5 275.7,766.4 276.9,766.3 278.1,764.6 279.4,763.7 280.6,765.1 281.8,765.5 283.0,763.3 284.3,766.2 285.5,763.8 285.8,762.9 286.4,756.8 287.0,756.8 287.6,758.4 287.9,758.6 289.1,767.3 290.4,760.5 290.7,760.7 291.3,761.9 291.9,761.9 292.5,763.7 292.8,763.9 294.0,760.7 295.3,765.6 296.5,762.0 297.7,762.6 298.9,765.1 300.1,764.4 300.5,762.8 301.1,751.1 301.7,751.1 302.3,762.9 302.6,764.5 303.8,765.1 305.0,767.1 306.3,766.6 307.5,767.6 308.7,767.6 309.9,767.1 311.1,766.6 311.5,766.3 312.1,763.7 312.7,763.7 313.3,766.5 313.6,766.8 314.8,764.1 316.0,763.0 317.3,766.7 318.5,762.6 319.7,766.9 320.9,760.1 322.2,765.5 323.4,766.2 324.6,758.1 325.8,763.9 326.1,763.2 326.7,758.3 327.3,758.3 327.9,759.7 328.3,759.9 329.5,767.5 330.7,765.5 331.9,763.6 333.2,764.9 334.4,765.5 335.6,763.3 335.9,763.0 336.5,760.8 337.1,760.8 337.7,765.2 338.0,765.7 339.3,766.9 340.5,767.2 341.7,763.8 342.0,763.2 342.6,759.0 343.2,759.0 343.8,764.5 344.2,765.3 345.4,761.3 346.6,766.3 347.8,762.8 349.0,761.6 350.3,765.5 350.6,763.8 351.2,751.8 351.8,751.8 352.4,764.2 352.7,765.9 353.9,766.2 355.2,765.1 356.4,765.3 357.6,761.9 358.8,763.0 360.0,761.3 361.3,763.5 361.6,763.0 362.2,759.3 362.8,759.3 363.4,764.5 363.7,765.3 364.9,763.9 366.2,764.7 367.4,765.3 368.6,765.8 369.8,765.3 371.0,761.4 371.4,760.9 372.0,756.9 372.6,756.9 373.2,764.2 373.5,765.2 374.7,763.0 375.9,766.8 377.2,767.3 378.4,759.4 379.6,767.7 380.8,765.5 381.1,764.4 381.7,756.1 382.3,756.1 382.9,764.8 383.3,766.0 384.5,762.0 385.7,763.6 386.0,762.7 386.6,756.1 387.2,756.1 387.8,763.2 388.2,764.1 389.4,761.6 390.6,767.2 391.8,766.1 393.0,765.6 394.3,764.4 395.5,766.2 396.7,766.8 397.9,764.9 399.2,767.1 400.4,763.6 400.7,763.4 401.3,761.2 401.9,761.2 402.5,764.3 402.8,764.8 404.1,764.1 405.3,765.5 405.6,764.9 406.2,760.7 406.8,760.7 407.4,762.3 407.7,762.5 408.9,767.4 410.2,762.1 411.4,760.4 412.6,766.0 413.8,767.1 415.1,764.4 416.3,760.8 417.5,765.0 418.7,762.5 419.9,763.1 421.2,762.8 422.4,763.6 423.6,766.0 424.8,762.9 425.2,762.6 425.8,760.8 426.4,760.8 427.0,761.9 427.3,762.0 427.6,761.6 428.2,759.0 428.8,759.0 429.4,763.0 429.7,763.5 430.9,765.3 432.2,761.2 433.4,765.3 434.6,760.2 435.8,763.0 437.1,761.3 437.4,760.3 438.0,753.5 438.6,753.5 439.2,760.8 439.5,761.8 440.7,761.9 441.9,766.8 443.2,763.1 444.4,766.8 445.6,766.9 446.8,765.5 448.1,762.3 448.4,761.5 449.0,756.0 449.6,756.0 450.2,764.2 450.5,765.3 451.7,764.3 452.9,766.1 454.2,765.5 454.5,764.9 455.1,760.8 455.7,760.8 456.3,763.2 456.6,763.6 457.8,763.4 459.1,765.1 460.3,768.1 461.5,767.3 462.7,761.7 463.9,766.6 465.2,766.0 466.4,760.3 467.6,766.5 468.8,766.0 470.1,757.6 470.4,756.4 471.0,747.7 471.6,747.7 472.2,761.5 472.5,763.4 473.7,763.7 474.1,762.9 474.7,757.2 475.3,757.2 475.9,764.6 476.2,765.6 477.4,766.2 478.6,764.4 478.9,763.7 479.5,758.5 480.1,758.5 480.7,760.8 481.1,761.1 482.3,767.7 483.5,763.9 483.8,763.0 484.4,756.6 485.0,756.6 485.6,760.9 486.0,761.5 487.2,765.1 488.4,767.3 489.6,765.7 489.9,765.0 490.5,759.7 491.1,759.7 491.7,764.2 492.1,764.8 493.3,767.0 494.5,767.0 495.7,766.2 497.0,766.8 498.2,765.0 499.4,767.4 500.6,765.7 500.9,765.3 501.5,762.0 502.1,762.0 502.7,763.2 503.1,763.3 504.3,764.6 505.5,761.6 506.7,764.0 508.0,765.4 509.2,764.8 509.5,764.0 510.1,757.7 510.7,757.7 511.3,762.5 511.6,763.1 512.8,766.5 514.1,762.2 514.4,762.2 515.0,762.5 515.6,762.5 516.2,762.0 516.5,762.0 517.7,759.3 519.0,766.2 520.2,765.5 521.4,759.6 522.6,763.1 523.8,765.1 524.2,764.8 524.8,762.7 525.4,762.7 526.0,763.6 526.3,763.8 527.5,765.1 528.7,766.9 530.0,764.0 531.2,766.1 532.4,764.7 532.7,764.1 533.3,759.7 533.9,759.7 534.5,762.8 534.8,763.2 536.1,763.4 537.3,761.4 538.5,763.0 539.7,761.3 540.1,761.0 540.7,758.8 541.3,758.8 541.9,758.0 542.2,757.8 543.4,763.8 544.6,762.6 545.8,762.7 547.1,762.5 548.3,766.1 549.5,760.5 549.8,760.6 550.4,761.8 551.0,761.8 551.6,761.6 552.0,761.5 553.2,762.0 554.4,762.4 555.6,763.7 556.9,764.6 557.2,763.8 557.8,757.7 558.4,757.7 559.0,765.1 559.3,766.1 560.5,766.2 561.7,762.7 563.0,761.1 564.2,763.9 564.5,763.6 565.1,761.4 565.7,761.4 566.3,763.7 566.6,764.0 567.9,763.8 569.1,765.8 569.4,764.2 570.0,752.5 570.6,752.5 571.2,762.7 571.5,764.1 572.7,767.0 574.0,766.7 575.2,763.3 576.4,765.4 576.7,764.3 577.3,756.6 577.9,756.6 578.5,762.4 578.9,763.2 580.1,765.1 581.3,764.9 582.5,764.4 583.7,762.7 584.1,762.7 584.7,762.2 585.3,762.2 585.9,763.6 586.2,763.8 587.4,763.4 588.6,765.8 589.9,764.5 591.1,764.4 591.4,764.1 592.0,762.3 592.6,762.3 593.2,764.0 593.5,764.2 594.7,767.1 596.0,765.3 597.2,764.0 597.5,763.3 598.1,757.6 598.7,757.6 599.3,763.1 599.6,763.9 600.9,763.6 601.2,763.6 601.8,763.3 602.4,763.3 603.0,762.4 603.3,762.2 604.5,759.6 605.7,763.5 607.0,759.0 608.2,760.6 609.4,766.0 609.7,765.4 610.3,760.6 610.9,760.6 611.5,761.3 611.9,761.4 613.1,758.1 614.3,766.2 615.5,765.3 615.8,765.2 616.4,764.4 617.0,764.4 617.6,761.1 618.0,760.6 619.2,764.5 620.4,764.1 621.6,763.8 622.0,763.8 622.6,763.3 623.2,763.3 623.8,764.8 624.1,765.0 625.3,765.9 626.5,759.9 627.8,764.1 629.0,762.0 629.3,761.3 629.9,756.4 630.5,756.4 631.1,763.3 631.4,764.2 632.6,763.8 633.9,765.0 635.1,765.2 636.3,767.2 637.5,766.3 638.8,766.0 640.0,758.9 641.2,763.9 641.5,763.3 642.1,759.0 642.7,759.0 643.3,761.3 643.6,761.6 644.9,761.3 646.1,759.0 647.3,762.0 648.5,762.4 649.8,765.4 650.1,765.1 650.7,762.8 651.3,762.8 651.9,764.8 652.2,765.1 652.5,763.8 653.1,753.8 653.7,753.8 654.3,764.1 654.6,765.5 655.9,762.8 657.1,765.4 658.3,764.7 659.5,766.1 660.8,765.1 661.1,764.0 661.7,756.3 662.3,756.3 662.9,760.1 663.2,760.6 664.4,767.3 665.6,765.5 666.9,765.3 667.2,764.8 667.8,761.3 668.4,761.3 669.0,762.8 669.3,763.0 670.5,763.8 671.8,767.4 673.0,764.7 674.2,766.5 675.4,765.1 675.7,764.4 676.3,758.6 676.9,758.6 677.5,762.8 677.9,763.3 679.1,763.4 680.3,762.8 681.5,765.7 682.8,766.5 684.0,764.1 685.2,763.6 685.5,762.3 686.1,752.4 686.7,752.4 687.3,762.7 687.6,764.1 688.9,763.3 689.2,762.9 689.8,760.1 690.4,760.1 691.0,760.9 691.3,761.1 692.5,764.6 693.8,763.5 695.0,764.2 696.2,765.3 696.5,764.7 697.1,759.8 697.7,759.8 698.3,761.7 698.6,761.9 699.9,767.2 701.1,766.3 701.4,766.0 702.0,763.3 702.6,763.3 703.2,764.2 703.5,764.3 704.8,758.4 706.0,768.0 707.2,764.8 708.4,759.1 709.7,765.2 710.9,763.9 711.2,763.8 711.8,763.0 712.4,763.0 713.0,763.7 713.3,763.8 714.5,765.7 715.8,768.1 717.0,762.8 717.3,762.2 717.9,757.8 718.5,757.8 719.1,764.0 719.4,764.9 720.7,764.7 721.0,764.5 721.6,762.8 722.2,762.8 722.8,764.9 723.1,765.2 724.3,763.0 725.5,764.0 726.8,762.4 727.1,762.1 727.7,760.1 728.3,760.1 728.9,762.4 729.2,762.7 730.4,765.4 731.7,765.3 732.9,765.3 733.2,764.5 733.8,758.2 734.4,758.2 735.0,763.2 735.3,763.8 736.5,759.8 737.8,762.9 739.0,766.8 740.2,765.2 741.4,764.5 742.7,765.9 743.9,763.6 744.2,763.3 744.8,761.2 745.4,761.2 746.0,766.2 746.3,766.9 747.5,766.8 748.8,761.2 750.0,765.8 751.2,762.3 752.4,767.7 753.7,767.1 754.9,763.3 755.2,762.4 755.8,756.2 756.4,756.2 757.0,764.9 757.3,766.1 758.5,766.9 758.9,766.3 759.5,761.9 760.1,761.9 760.7,764.8 761.0,765.2 762.2,759.5 763.4,763.9 763.8,762.6 764.4,752.7 765.0,752.7 765.6,762.1 765.9,763.4 767.1,765.4 768.3,765.8 769.5,766.6 770.8,765.3 771.1,765.2 771.7,764.3 772.3,764.3 772.9,759.0 773.2,758.3 774.4,762.8 775.7,763.5 776.0,762.4 776.6,754.7 777.2,754.7 777.8,763.6 778.1,764.9 779.3,765.0 780.6,767.5 781.8,764.0 782.1,763.3 782.7,758.3 783.3,758.3 783.9,765.4 784.2,766.4 785.4,767.9 786.7,767.2 787.9,764.1 788.2,764.1 788.8,764.1 789.4,764.1 790.0,766.1 790.3,766.4 791.6,762.3 792.8,768.0 794.0,765.5 794.3,764.9 794.9,760.7 795.5,760.7 796.1,765.6 796.4,766.3 797.7,763.6 798.9,766.5 800.1,765.0 801.3,765.0 801.7,764.0 802.3,756.7 802.9,756.7 803.5,761.8 803.8,762.5 805.0,767.4 806.2,767.2 807.4,766.2 808.7,765.3 809.0,764.6 809.6,759.3 810.2,759.3 810.8,762.4 811.1,762.8 812.3,758.7 813.6,765.4 813.9,764.8 814.5,760.0 815.1,760.0 815.7,759.5 816.0,759.4 817.2,759.5 818.4,762.2 819.7,762.6 820.9,762.7 822.1,756.7 822.4,757.6 823.0,764.1 823.6,764.1 824.2,764.3 824.6,764.3 825.8,766.3 827.0,766.9 828.2,766.5 828.5,765.7 829.1,760.3 829.7,760.3 830.3,761.7 830.7,761.9 831.9,766.6 833.1,766.5 834.3,765.3 835.6,762.2 836.8,765.8 838.0,764.4 839.2,766.3 839.5,766.3 840.1,766.7 840.7,766.7 841.3,764.0 841.7,763.6 842.9,764.9 844.1,765.4 845.3,766.1 846.6,762.6 846.9,760.8 847.5,747.7 848.1,747.7 848.7,760.0 849.0,761.7 850.2,762.9 851.4,764.4 852.7,766.6 853.0,766.0 853.6,762.3 854.2,762.3 854.8,764.1 855.1,764.4 856.3,766.2 857.6,767.2 858.8,762.9 860.0,766.4 861.2,763.6 861.6,763.4 862.2,761.9 862.8,761.9 863.4,764.3 863.7,764.6 864.9,764.4 866.1,764.7 867.3,762.9 867.7,762.8 868.3,762.1 868.9,762.1 869.5,766.0 869.8,766.5 871.0,765.7 872.2,764.5 873.5,764.6 873.8,764.6 874.4,764.8 875.0,764.8 875.6,764.9 875.9,765.0 877.1,764.0 878.3,760.7 879.6,766.2 879.9,765.3 880.5,758.7 881.1,758.7 881.7,760.0 882.0,760.2 883.2,763.7 883.6,763.5 884.2,762.1 884.8,762.1 885.4,765.0 885.7,765.4 886.9,764.3 888.1,764.6 889.3,765.1 889.7,764.9 890.3,762.9 890.9,762.9 891.5,763.2 891.8,763.3 893.0,765.8 894.2,763.9 895.5,765.9 896.7,759.8 897.9,761.5 899.1,759.1 900.3,760.3 900.7,761.0 901.3,766.0 901.9,766.0 902.5,766.4 902.8,766.5 904.0,765.5 905.2,764.4 906.5,760.6 906.8,761.1 907.4,764.4 908.0,764.4 908.6,762.8 908.9,762.6 910.1,765.7 911.3,761.0 911.7,761.0 912.3,760.8 912.9,760.8 913.5,762.0 913.8,762.1 915.0,763.0 915.3,762.0 915.9,754.7 916.5,754.7 917.1,761.7 917.5,762.7 917.8,762.2 918.4,759.2 919.0,759.2 919.6,763.4 919.9,764.0 921.1,765.5 921.4,764.7 922.0,758.7 922.6,758.7 923.2,764.9 923.6,765.8 923.9,764.9 924.5,758.2 925.1,758.2 925.7,762.9 926.0,763.5 927.2,767.1 928.5,766.9 928.8,766.6 929.4,763.9 930.0,763.9 930.6,764.9 930.9,765.0 932.1,764.3 933.4,764.0 934.6,764.6 935.8,764.9 937.0,765.1 937.3,764.4 937.9,759.2 938.5,759.2 939.1,764.1 939.5,764.8 940.7,761.6 941.9,766.8 942.2,766.5 942.8,763.9 943.4,763.9 944.0,762.3 944.4,762.1 945.6,764.3 946.8,762.8 948.0,764.1 948.3,763.8 948.9,761.4 949.5,761.4 950.1,761.3 950.5,761.3 951.7,763.2 952.9,764.1 954.1,762.6 954.5,762.6 955.1,762.9 955.7,762.9 956.3,764.1 956.6,764.2 957.8,765.1 959.0,767.6 960.2,764.0 960.6,763.8 961.2,762.1 961.8,762.1 962.4,762.5 962.7,762.6 963.9,759.6 965.1,766.4 966.4,768.1 967.6,765.4 968.8,759.0 969.1,757.5 969.7,745.9 970.3,745.9 970.9,757.3 971.2,758.8 972.5,760.3 973.7,767.5 974.9,761.3 976.1,765.2 977.4,763.7 978.6,762.5 979.8,765.6 981.0,759.8 981.3,759.8 981.9,760.1 982.5,760.1 983.1,764.4 983.5,764.9 984.7,763.8 985.0,762.2 985.6,750.4 986.2,750.4 986.8,758.3 987.1,759.4 988.4,755.9 989.6,765.8 990.8,767.2 991.1,766.7 991.7,762.9 992.3,762.9 992.9,764.3 993.2,764.5 994.5,763.9 995.7,766.3 996.9,767.2 998.1,762.3 999.4,761.2 1000.6,765.2 1000.9,765.0 1001.5,763.8 1002.1,763.8 1002.7,762.7 1003.0,762.5 1004.2,758.3 1005.5,765.3 1006.7,763.9 1007.9,764.5 1009.1,763.7 1009.5,762.1 1010.1,750.3 1010.7,750.3 1011.3,762.7 1011.6,764.4 1012.8,767.1 1014.0,766.5 1014.4,765.5 1015.0,758.1 1015.6,758.1 1016.2,764.7 1016.5,765.6 1017.7,763.9 1018.9,763.3 1020.1,766.3 1021.4,764.4 1021.7,764.2 1022.3,762.4 1022.9,762.4 1023.5,765.0 1023.8,765.4 1025.0,762.2 1026.3,766.7 1027.5,767.3 1028.7,762.2 1029.9,763.3 1031.1,767.4 1032.4,763.3 1032.7,762.3 1033.3,755.1 1033.9,755.1 1034.5,756.9 1034.8,757.1 1036.0,759.7 1037.3,762.3 1038.5,766.2 1039.7,764.1 1040.0,763.4 1040.6,758.3 1041.2,758.3 1041.8,762.8 1042.1,763.4 1043.4,760.1 1044.6,763.5 1045.8,763.1 1047.0,761.5 1047.4,761.4 1048.0,760.7 1048.6,760.7 1049.2,762.1 1049.5,762.3 1050.7,759.1 1051.9,761.5 1053.1,759.9 1054.4,763.2 1055.6,763.9 1056.8,761.7 1057.1,760.8 1057.7,754.0 1058.3,754.0 1058.9,760.8 1059.3,761.7 1059.6,760.3 1060.2,750.3 1060.8,750.3 1061.4,756.9 1061.7,757.8 1062.9,763.4 1064.1,764.3 1065.4,766.8 1066.6,767.2 1067.8,762.3 1069.0,763.3 1070.3,762.9 1071.5,764.4 1072.7,760.0 1073.0,760.3 1073.6,762.4 1074.2,762.4 1074.8,762.7 1075.1,762.7 1076.4,766.6 1076.7,766.0 1077.3,762.0 1077.9,762.0 1078.5,765.4 1078.8,765.9 1080.0,767.3 1081.3,767.4 1082.5,765.9 1083.7,763.7 1084.9,764.8 1086.2,768.1 1087.4,765.2 1087.7,764.3 1088.3,757.9 1088.9,757.9 1089.5,760.6 1089.8,761.0 1091.0,765.1 1091.4,764.8 1092.0,763.2 1092.6,763.2 1093.2,765.1 1093.5,765.3 1094.7,765.1 1095.9,765.7 1097.2,763.9 1098.4,764.0 1099.6,763.4 1100.8,763.8 1101.1,762.9 1101.7,756.5 1102.3,756.5 1102.9,761.0 1103.3,761.6 1104.5,764.4 1105.7,764.7 1106.9,765.4 1108.2,766.0 1109.4,765.3 1109.7,765.3 1110.3,764.9 1110.9,764.9 1111.5,767.1 1111.8,767.4 1113.0,765.2 1114.3,766.0 1114.6,765.8 1115.2,764.1 1115.8,764.1 1116.4,766.2 1116.7,766.4 1117.9,762.9 1119.2,763.4 1120.4,764.9 1121.6,765.9 1122.8,763.6 1124.0,765.6 1125.3,763.6 1126.5,767.2 1127.7,766.0 1128.9,766.6 1130.2,764.1 1130.5,763.6 1131.1,759.9 1131.7,759.9 1132.3,761.7 1132.6,761.9 1132.9,761.3 1133.5,756.7 1134.1,756.7 1134.7,762.5 1135.0,763.3 1136.3,767.3 1137.5,765.5 1138.7,760.2 1139.9,762.9 1140.3,761.9 1140.9,755.1 1141.5,755.1 1142.1,763.6 1142.4,764.8 1143.6,768.1 1144.8,767.9 1146.0,766.4 1146.4,765.6 1147.0,759.5 1147.6,759.5 1148.2,764.2 1148.5,764.8 1148.8,764.3 1149.4,760.6 1150.0,760.6 1150.6,762.3 1150.9,762.5 1152.2,767.1 1153.4,763.9 1154.6,764.7 1155.8,760.0 1157.0,766.1 1157.4,765.4 1158.0,760.0 1158.6,760.0 1159.2,764.9 1159.5,765.6 1160.7,760.4 1161.0,760.6 1161.6,762.2 1162.2,762.2 1162.8,760.0 1163.2,759.7 1164.4,767.0 1165.6,763.7 1166.8,764.8 1168.1,763.4 1169.3,764.6 1170.5,765.3 1171.7,763.9 1172.9,763.4 1174.2,763.9 1175.4,762.7 1175.7,762.8 1176.3,763.2 1176.9,763.2 1177.5,759.9 1177.8,759.4 1178.2,759.1 1178.8,756.8 1179.4,756.8 1180.0,763.0 1180.3,763.8 1181.5,762.7 1182.7,763.9 1183.9,766.1 1185.2,763.5 1186.4,765.4 1187.6,762.4 1188.8,766.1 1189.2,765.4 1189.8,760.4 1190.4,760.4 1191.0,763.8 1191.3,764.3 1192.5,764.4 1193.7,766.3 1194.9,765.1 1195.3,765.0 1195.9,764.3 1196.5,764.3 1197.1,765.3 1197.4,765.5 1198.6,763.7 1199.8,765.5 1200.2,765.1 1200.8,762.6 1201.4,762.6 1202.0,766.2 1202.3,766.7 1203.5,767.2 1204.7,765.9 1205.0,765.3 1205.6,760.9 1206.2,760.9 1206.8,762.8 1207.2,763.1 1208.4,765.5 1209.6,764.9 1210.8,767.4 1212.1,762.3 1213.3,763.6 1213.6,763.0 1214.2,758.0 1214.8,758.0 1215.4,763.6 1215.7,764.3 1216.9,767.6 1218.2,761.6 1218.5,761.5 1219.1,760.7 1219.7,760.7 1220.3,765.0 1220.6,765.6 1221.8,761.5 1223.1,765.1 1224.3,765.8 1224.6,765.3 1225.2,761.7 1225.8,761.7 1226.4,765.8 1226.7,766.4 1227.9,762.6 1229.2,759.4 1229.5,759.9 1230.1,763.5 1230.7,763.5 1231.3,765.6 1231.6,765.9 1232.8,765.5 1234.1,763.4 1235.3,763.1 1235.6,763.3 1236.2,764.9 1236.8,764.9 1237.4,763.8 1237.7,763.7 1239.0,764.8 1240.2,765.3 1241.4,764.6 1242.6,764.0 1242.9,763.6 1243.5,760.5 1244.1,760.5 1244.7,765.3 1245.1,766.0 1246.3,763.6 1247.5,761.6 1248.7,763.8 1250.0,767.2 1251.2,766.2 1252.4,765.0 1252.7,764.7 1253.3,762.9 1253.9,762.9 1254.5,764.6 1254.8,764.8 1256.1,763.8 1256.4,763.5 1257.0,760.6 1257.6,760.6 1258.2,764.0 1258.5,764.5 1259.7,763.6 1261.0,764.7 1262.2,764.1 1263.4,761.6 1263.7,761.1 1264.3,757.6 1264.9,757.6 1265.5,764.5 1265.8,765.4 1267.1,763.3 1267.4,763.3 1268.0,763.5 1268.6,763.5 1269.2,765.3 1269.5,765.5 1270.7,764.2 1272.0,767.1 1273.2,761.9 1274.4,765.8 1275.6,763.0 1276.8,760.3 1278.1,767.2 1279.3,766.3 1280.5,766.6 1281.7,767.8 1283.0,765.2 1283.3,764.7 1283.9,761.1 1284.5,761.1 1285.1,761.4 1285.4,761.4 1286.6,762.9 1287.8,762.3 1288.2,762.1 1288.8,760.4 1289.4,760.4 1290.0,760.4 1290.3,760.4 1291.5,762.2 1292.7,761.8 1294.0,765.2 1295.2,763.9 1296.4,765.4 1297.6,759.2 1297.9,758.9 1298.5,756.5 1299.1,756.5 1299.7,763.9 1300.1,764.9 1301.3,765.5 1302.5,763.6 1303.7,760.5 1305.0,761.2 1306.2,766.5 1307.4,765.6 1308.6,765.1 1308.9,764.6 1309.5,760.7 1310.1,760.7 1310.7,762.7 1311.1,762.9 1312.3,764.6 1313.5,765.5 1313.8,764.8 1314.4,760.0 1315.0,760.0 1315.6,764.6 1316.0,765.3 1317.2,767.2 1318.4,763.0 1319.6,763.6 1320.9,767.1 1322.1,765.6 1323.3,764.7 1324.5,765.0 1324.8,764.1 1325.4,757.5 1326.0,757.5 1326.6,762.2 1327.0,762.9 1328.2,761.9 1329.4,765.2 1329.7,765.1 1330.3,764.0 1330.9,764.0 1331.5,766.5 1331.9,766.9 1333.1,766.1 1334.3,763.7 1335.5,765.0 1336.7,763.7 1338.0,764.2 1338.3,764.1 1338.9,763.8 1339.5,763.8 1340.1,766.0 1340.4,766.3 1341.6,765.1 1342.9,766.1 1344.1,767.1 1344.4,766.8 1345.0,765.1 1345.6,765.1 1346.2,765.8 1346.5,765.9 1347.7,762.1 1349.0,763.0 1349.3,763.0 1349.9,763.2 1350.5,763.2 1351.1,764.2 1351.4,764.4 1352.6,763.6 1353.9,764.3 1355.1,766.4 1355.4,766.3 1356.0,765.6 1356.6,765.6 1357.2,763.2 1357.5,762.9 1358.7,764.6 1360.0,765.4 1361.2,765.7 1361.5,765.5 1362.1,763.8 1362.7,763.8 1363.3,762.4 1363.6,762.2 1364.9,759.1 1366.1,764.6 1367.3,765.4 1367.6,764.6 1368.2,759.1 1368.8,759.1 1369.4,764.0 1369.7,764.7 1371.0,765.6 1371.3,765.5 1371.9,764.6 1372.5,764.6 1373.1,765.6 1373.4,765.8 1374.6,766.1 1375.0,764.8 1375.6,754.9 1376.2,754.9 1376.8,765.0 1377.1,766.4 1378.3,765.7 1379.5,763.8 1379.8,763.7 1380.4,763.1 1381.0,763.1 1381.6,762.5 1382.0,762.4 1383.2,765.9 1384.4,764.5 1384.7,763.5 1385.3,756.5 1385.9,756.5 1386.5,762.6 1386.9,763.4 1388.1,767.5 1389.3,763.0 1390.5,764.3 1390.9,764.0 1391.5,761.8 1392.1,761.8 1392.7,763.5 1393.0,763.7 1394.2,764.6 1394.5,764.5 1395.1,764.2 1395.7,764.2 1396.3,764.3 1396.6,764.3 1397.9,766.6 1399.1,765.7 1400.3,765.2 1401.5,767.1 1402.8,766.2 1404.0,765.8 1404.3,765.0 1404.9,758.9 1405.5,758.9 1406.1,760.8 1406.4,761.1 1407.6,763.5 1408.9,765.2 1410.1,764.1 1410.4,764.2 1411.0,764.7 1411.6,764.7 1412.2,766.3 1412.5,766.5 1413.8,766.5 1415.0,765.1 1416.2,764.0 1416.5,764.1 1417.1,764.3 1417.7,764.3 1418.3,764.0 1418.6,763.9 1419.9,759.7 1421.1,762.2 1422.3,767.1 1423.5,765.0 1423.9,764.9 1424.5,764.3 1425.1,764.3 1425.7,766.1 1426.0,766.3 1427.2,766.8"/>
<path class="d" stroke="#37AD6B" d="M204.8,763.1 206.0,766.0 207.2,763.7 207.6,762.4 208.2,753.0 208.8,753.0 209.4,761.0 209.7,762.1 210.9,763.2 211.2,762.5 211.8,757.1 212.4,757.1 213.0,759.3 213.4,759.6 214.6,762.4 215.8,763.2 217.0,762.2 218.2,764.0 218.6,763.5 219.2,759.4 219.8,759.4 220.4,764.2 220.7,764.8 221.9,767.1 223.1,766.8 224.4,766.0 224.7,765.5 225.3,761.2 225.9,761.2 226.5,765.1 226.8,765.6 228.0,762.5 229.2,761.6 230.5,766.7 231.7,765.3 232.9,766.4 234.1,756.8 235.4,765.3 236.6,765.8 237.8,764.7 238.1,763.8 238.7,757.7 239.3,757.7 239.9,764.2 240.2,765.1 241.5,762.2 242.7,764.2 243.9,758.8 244.2,758.4 244.8,755.2 245.4,755.2 246.0,760.9 246.4,761.7 247.6,760.5 248.8,761.5 249.1,760.0 249.7,748.9 250.3,748.9 250.9,759.3 251.3,760.7 252.5,764.1 253.7,764.7 254.9,761.1 256.1,762.9 256.5,762.5 257.1,759.2 257.7,759.2 258.3,758.6 258.6,758.5 259.8,767.1 261.0,763.8 262.3,762.4 263.5,764.8 264.7,765.8 265.9,756.9 267.1,763.6 268.4,762.4 268.7,761.7 269.3,756.6 269.9,756.6 270.5,762.2 270.8,763.0 272.0,761.0 272.4,759.6 273.0,749.0 273.6,749.0 274.2,758.2 274.5,759.5 275.7,765.8 276.9,765.1 278.1,762.8 279.4,761.6 280.6,765.4 281.8,761.1 283.0,757.9 284.3,764.7 285.5,764.1 285.8,762.8 286.4,753.4 287.0,753.4 287.6,759.0 287.9,759.8 289.1,765.5 290.4,760.1 290.7,760.1 291.3,760.2 291.9,760.2 292.5,763.3 292.8,763.7 294.0,759.8 295.3,762.2 296.5,759.8 297.7,762.1 298.9,765.6 300.1,761.0 300.5,759.9 301.1,751.4 301.7,751.4 302.3,761.0 302.6,762.3 303.8,766.4 305.0,764.6 306.3,767.1 307.5,765.0 308.7,766.1 309.9,761.8 311.1,763.7 311.5,763.3 312.1,760.9 312.7,760.9 313.3,764.5 313.6,765.0 314.8,763.6 316.0,761.5 317.3,765.0 318.5,764.7 319.7,765.4 320.9,759.4 322.2,764.0 323.4,762.6 324.6,761.5 325.8,760.6 326.1,759.8 326.7,753.8 327.3,753.8 327.9,761.2 328.3,762.2 329.5,764.8 330.7,766.0 331.9,762.5 333.2,765.4 334.4,761.6 335.6,763.4 335.9,762.5 336.5,755.9 337.1,755.9 337.7,763.1 338.0,764.1 339.3,767.7 340.5,766.3 341.7,764.8 342.0,763.6 342.6,755.1 343.2,755.1 343.8,762.8 344.2,763.9 345.4,761.4 346.6,763.3 347.8,756.8 349.0,761.0 350.3,764.0 350.6,762.6 351.2,751.8 351.8,751.8 352.4,761.7 352.7,763.0 353.9,766.1 355.2,762.8 356.4,760.1 357.6,760.9 358.8,760.9 360.0,757.0 361.3,762.8 361.6,762.2 362.2,758.0 362.8,758.0 363.4,764.6 363.7,765.5 364.9,763.4 366.2,762.0 367.4,763.9 368.6,763.9 369.8,765.8 371.0,759.9 371.4,759.3 372.0,755.0 372.6,755.0 373.2,761.7 373.5,762.6 374.7,764.5 375.9,765.7 377.2,765.9 378.4,760.0 379.6,764.8 380.8,764.4 381.1,763.1 381.7,754.1 382.3,754.1 382.9,761.5 383.3,762.5 384.5,757.9 385.7,761.7 386.0,761.1 386.6,756.5 387.2,756.5 387.8,762.5 388.2,763.3 389.4,761.4 390.6,766.1 391.8,765.9 393.0,763.9 394.3,764.0 395.5,764.8 396.7,761.8 397.9,766.6 399.2,763.9 400.4,763.9 400.7,763.4 401.3,759.5 401.9,759.5 402.5,761.5 402.8,761.7 404.1,765.0 405.3,763.1 405.6,762.5 406.2,758.2 406.8,758.2 407.4,758.5 407.7,758.6 408.9,766.6 410.2,760.2 411.4,763.6 412.6,761.4 413.8,765.6 415.1,763.2 416.3,760.2 417.5,765.3 418.7,758.0 419.9,762.0 421.2,759.7 422.4,762.7 423.6,760.7 424.8,764.3 425.2,763.6 425.8,758.9 426.4,758.9 427.0,758.8 427.3,758.8 427.6,758.9 428.2,759.4 428.8,759.4 429.4,763.4 429.7,763.9 430.9,765.4 432.2,760.3 433.4,764.2 434.6,758.1 435.8,763.4 437.1,758.4 437.4,756.5 438.0,743.2 438.6,743.2 439.2,758.4 439.5,760.5 440.7,762.1 441.9,762.2 443.2,762.6 444.4,765.2 445.6,765.6 446.8,766.7 448.1,761.2 448.4,760.4 449.0,754.3 449.6,754.3 450.2,761.3 450.5,762.3 451.7,765.6 452.9,767.4 454.2,762.0 454.5,761.4 455.1,756.9 455.7,756.9 456.3,762.8 456.6,763.6 457.8,765.9 459.1,761.5 460.3,767.5 461.5,763.9 462.7,758.2 463.9,767.1 465.2,762.5 466.4,759.1 467.6,765.3 468.8,763.4 470.1,758.2 470.4,756.4 471.0,743.3 471.6,743.3 472.2,759.6 472.5,761.8 473.7,764.8 474.1,764.0 474.7,757.8 475.3,757.8 475.9,763.5 476.2,764.3 477.4,763.1 478.6,763.3 478.9,762.5 479.5,756.6 480.1,756.6 480.7,759.2 481.1,759.6 482.3,766.7 483.5,761.8 483.8,761.1 484.4,756.3 485.0,756.3 485.6,761.2 486.0,761.9 487.2,767.0 488.4,764.2 489.6,765.3 489.9,764.6 490.5,759.4 491.1,759.4 491.7,763.5 492.1,764.1 493.3,767.4 494.5,767.6 495.7,766.8 497.0,766.5 498.2,763.5 499.4,765.4 500.6,762.9 500.9,762.2 501.5,756.7 502.1,756.7 502.7,764.3 503.1,765.3 504.3,761.3 505.5,762.2 506.7,765.6 508.0,762.5 509.2,764.1 509.5,763.0 510.1,755.3 510.7,755.3 511.3,761.2 511.6,762.0 512.8,764.9 514.1,759.3 514.4,759.2 515.0,758.3 515.6,758.3 516.2,761.3 516.5,761.7 517.7,763.8 519.0,765.3 520.2,760.1 521.4,759.7 522.6,760.5 523.8,764.6 524.2,764.5 524.8,763.4 525.4,763.4 526.0,765.6 526.3,765.9 527.5,763.6 528.7,766.2 530.0,765.8 531.2,763.7 532.4,762.2 532.7,761.8 533.3,759.4 533.9,759.4 534.5,764.5 534.8,765.2 536.1,760.8 537.3,761.9 538.5,762.1 539.7,757.1 540.1,756.8 540.7,754.5 541.3,754.5 541.9,758.7 542.2,759.2 543.4,763.0 544.6,763.2 545.8,762.3 547.1,762.2 548.3,762.8 549.5,759.9 549.8,759.9 550.4,759.8 551.0,759.8 551.6,758.9 552.0,758.8 553.2,758.1 554.4,756.8 555.6,761.7 556.9,760.6 557.2,760.4 557.8,758.8 558.4,758.8 559.0,763.4 559.3,764.0 560.5,765.3 561.7,762.2 563.0,764.1 564.2,762.7 564.5,762.4 565.1,760.5 565.7,760.5 566.3,763.1 566.6,763.4 567.9,765.2 569.1,764.3 569.4,763.3 570.0,755.7 570.6,755.7 571.2,761.1 571.5,761.8 572.7,765.5 574.0,764.4 575.2,762.5 576.4,763.8 576.7,763.2 577.3,759.4 577.9,759.4 578.5,763.7 578.9,764.3 580.1,761.8 581.3,762.0 582.5,762.0 583.7,761.2 584.1,761.1 584.7,759.9 585.3,759.9 585.9,764.0 586.2,764.5 587.4,765.5 588.6,765.3 589.9,765.2 591.1,763.4 591.4,762.9 592.0,758.7 592.6,758.7 593.2,764.3 593.5,765.1 594.7,763.8 596.0,763.3 597.2,760.0 597.5,759.5 598.1,755.7 598.7,755.7 599.3,761.2 599.6,762.0 600.9,762.2 601.2,762.0 601.8,760.5 602.4,760.5 603.0,761.8 603.3,762.0 604.5,759.5 605.7,765.2 607.0,758.8 608.2,759.9 609.4,765.3 609.7,764.8 610.3,761.0 610.9,761.0 611.5,758.5 611.9,758.1 613.1,761.1 614.3,765.6 615.5,764.4 615.8,764.2 616.4,762.2 617.0,762.2 617.6,760.5 618.0,760.3 619.2,766.1 620.4,766.6 621.6,755.2 622.0,756.1 622.6,762.6 623.2,762.6 623.8,763.4 624.1,763.5 625.3,764.1 626.5,761.1 627.8,758.5 629.0,761.3 629.3,760.5 629.9,755.2 630.5,755.2 631.1,763.4 631.4,764.5 632.6,764.3 633.9,763.0 635.1,765.3 636.3,766.3 637.5,767.2 638.8,765.1 640.0,761.1 641.2,759.8 641.5,759.3 642.1,755.4 642.7,755.4 643.3,756.6 643.6,756.8 644.9,757.9 646.1,758.6 647.3,763.5 648.5,761.1 649.8,763.9 650.1,763.2 650.7,757.7 651.3,757.7 651.9,763.9 652.2,764.7 652.5,763.7 653.1,756.5 653.7,756.5 654.3,763.7 654.6,764.6 655.9,763.0 657.1,764.9 658.3,763.9 659.5,766.6 660.8,763.8 661.1,763.0 661.7,756.6 662.3,756.6 662.9,762.0 663.2,762.7 664.4,765.9 665.6,766.6 666.9,764.4 667.2,763.8 667.8,758.7 668.4,758.7 669.0,762.1 669.3,762.6 670.5,763.2 671.8,766.0 673.0,762.0 674.2,763.9 675.4,762.4 675.7,761.4 676.3,754.3 676.9,754.3 677.5,761.9 677.9,763.0 679.1,760.8 680.3,763.3 681.5,765.9 682.8,766.5 684.0,763.4 685.2,762.0 685.5,760.3 686.1,748.1 686.7,748.1 687.3,760.0 687.6,761.6 688.9,761.6 689.2,761.3 689.8,759.1 690.4,759.1 691.0,761.0 691.3,761.3 692.5,763.4 693.8,760.9 695.0,764.7 696.2,764.3 696.5,763.8 697.1,760.0 697.7,760.0 698.3,760.0 698.6,760.0 699.9,766.3 701.1,764.4 701.4,764.1 702.0,761.9 702.6,761.9 703.2,764.3 703.5,764.7 704.8,758.2 706.0,767.4 707.2,763.3 708.4,761.3 709.7,764.2 710.9,763.2 711.2,763.0 711.8,761.2 712.4,761.2 713.0,764.3 713.3,764.7 714.5,765.6 715.8,765.3 717.0,763.7 717.3,762.6 717.9,754.6 718.5,754.6 719.1,762.8 719.4,763.9 720.7,764.0 721.0,763.6 721.6,761.0 722.2,761.0 722.8,763.5 723.1,763.8 724.3,760.9 725.5,760.7 726.8,759.8 727.1,759.8 727.7,760.1 728.3,760.1 728.9,764.1 729.2,764.6 730.4,764.0 731.7,764.4 732.9,764.7 733.2,763.8 733.8,757.1 734.4,757.1 735.0,763.1 735.3,763.9 736.5,759.3 737.8,766.0 739.0,765.4 740.2,766.0 741.4,763.4 742.7,764.0 743.9,764.2 744.2,763.7 744.8,760.1 745.4,760.1 746.0,764.6 746.3,765.2 747.5,765.5 748.8,760.1 750.0,767.4 751.2,762.8 752.4,766.6 753.7,766.4 754.9,764.1 755.2,763.6 755.8,760.1 756.4,760.1 757.0,764.4 757.3,765.0 758.5,763.6 758.9,763.1 759.5,759.6 760.1,759.6 760.7,765.4 761.0,766.1 762.2,759.8 763.4,763.7 763.8,762.6 764.4,754.9 765.0,754.9 765.6,762.5 765.9,763.5 767.1,766.3 768.3,765.7 769.5,767.1 770.8,765.2 771.1,764.8 771.7,762.3 772.3,762.3 772.9,761.6 773.2,761.6 774.4,762.0 775.7,764.9 776.0,764.2 776.6,758.6 777.2,758.6 777.8,763.7 778.1,764.3 779.3,766.3 780.6,765.1 781.8,761.8 782.1,761.4 782.7,757.8 783.3,757.8 783.9,763.5 784.2,764.3 785.4,766.7 786.7,766.3 787.9,763.4 788.2,763.1 788.8,761.0 789.4,761.0 790.0,764.3 790.3,764.7 791.6,765.9 792.8,767.2 794.0,761.5 794.3,761.3 794.9,759.4 795.5,759.4 796.1,762.6 796.4,763.0 797.7,761.1 798.9,765.4 800.1,765.3 801.3,761.9 801.7,761.0 802.3,754.7 802.9,754.7 803.5,762.4 803.8,763.4 805.0,765.5 806.2,764.8 807.4,765.7 808.7,764.5 809.0,763.7 809.6,758.1 810.2,758.1 810.8,762.3 811.1,762.9 812.3,759.7 813.6,765.0 813.9,764.3 814.5,759.1 815.1,759.1 815.7,762.0 816.0,762.4 817.2,757.4 818.4,761.9 819.7,757.8 820.9,764.5 822.1,764.8 822.4,764.1 823.0,759.0 823.6,759.0 824.2,758.6 824.6,758.5 825.8,764.7 827.0,765.4 828.2,763.7 828.5,762.5 829.1,753.8 829.7,753.8 830.3,762.1 830.7,763.2 831.9,765.7 833.1,766.9 834.3,766.2 835.6,760.6 836.8,764.6 838.0,767.4 839.2,765.6 839.5,765.8 840.1,767.1 840.7,767.1 841.3,763.3 841.7,762.8 842.9,765.5 844.1,765.8 845.3,766.2 846.6,759.6 846.9,757.6 847.5,743.0 848.1,743.0 848.7,756.5 849.0,758.4 850.2,764.2 851.4,762.6 852.7,766.2 853.0,765.7 853.6,761.7 854.2,761.7 854.8,762.1 855.1,762.1 856.3,765.6 857.6,765.6 858.8,761.5 860.0,766.3 861.2,763.6 861.6,763.0 862.2,759.0 862.8,759.0 863.4,764.4 863.7,765.1 864.9,762.0 866.1,760.9 867.3,762.9 867.7,762.6 868.3,759.8 868.9,759.8 869.5,762.6 869.8,763.0 871.0,762.6 872.2,763.5 873.5,764.9 873.8,764.5 874.4,761.5 875.0,761.5 875.6,761.9 875.9,762.0 877.1,764.3 878.3,758.3 879.6,762.9 879.9,762.0 880.5,755.4 881.1,755.4 881.7,758.9 882.0,759.4 883.2,763.5 883.6,762.8 884.2,757.4 884.8,757.4 885.4,762.1 885.7,762.8 886.9,766.0 888.1,761.3 889.3,763.7 889.7,763.1 890.3,758.9 890.9,758.9 891.5,760.0 891.8,760.1 893.0,765.7 894.2,766.0 895.5,763.7 896.7,760.4 897.9,759.3 899.1,764.0 900.3,759.9 900.7,760.1 901.3,761.7 901.9,761.7 902.5,764.0 902.8,764.3 904.0,765.4 905.2,764.6 906.5,763.9 906.8,763.6 907.4,761.3 908.0,761.3 908.6,763.1 908.9,763.3 910.1,763.4 911.3,762.8 911.7,762.5 912.3,759.7 912.9,759.7 913.5,762.4 913.8,762.8 915.0,760.6 915.3,760.4 915.9,759.4 916.5,759.4 917.1,758.2 917.5,758.1 917.8,758.0 918.4,757.9 919.0,757.9 919.6,760.6 919.9,761.0 921.1,764.6 921.4,763.8 922.0,757.4 922.6,757.4 923.2,763.8 923.6,764.6 923.9,763.8 924.5,757.4 925.1,757.4 925.7,760.2 926.0,760.5 927.2,764.5 928.5,764.4 928.8,763.5 929.4,756.7 930.0,756.7 930.6,761.9 930.9,762.6 932.1,761.3 933.4,766.6 934.6,761.7 935.8,763.7 937.0,765.6 937.3,764.5 937.9,756.4 938.5,756.4 939.1,761.2 939.5,761.9 940.7,760.8 941.9,766.4 942.2,765.9 942.8,762.2 943.4,762.2 944.0,761.8 944.4,761.7 945.6,763.6 946.8,761.1 948.0,761.7 948.3,761.7 948.9,761.6 949.5,761.6 950.1,762.0 950.5,762.0 951.7,763.5 952.9,763.4 954.1,760.0 954.5,759.9 955.1,758.8 955.7,758.8 956.3,758.1 956.6,758.0 957.8,762.2 959.0,767.2 960.2,761.9 960.6,761.9 961.2,762.2 961.8,762.2 962.4,759.6 962.7,759.2 963.9,762.2 965.1,764.9 966.4,767.4 967.6,766.9 968.8,758.0 969.1,755.4 969.7,736.4 970.3,736.4 970.9,758.0 971.2,761.0 972.5,762.9 973.7,767.6 974.9,758.0 976.1,764.8 977.4,765.1 978.6,758.7 979.8,764.7 981.0,758.1 981.3,757.5 981.9,752.8 982.5,752.8 983.1,762.5 983.5,763.8 984.7,763.6 985.0,762.1 985.6,751.2 986.2,751.2 986.8,759.9 987.1,761.1 988.4,757.4 989.6,765.7 990.8,765.7 991.1,765.2 991.7,761.4 992.3,761.4 992.9,764.1 993.2,764.5 994.5,763.6 995.7,763.6 996.9,765.6 998.1,760.7 999.4,759.1 1000.6,761.8 1000.9,761.7 1001.5,760.9 1002.1,760.9 1002.7,759.1 1003.0,758.8 1004.2,758.9 1005.5,767.0 1006.7,765.7 1007.9,765.7 1009.1,759.9 1009.5,758.1 1010.1,745.1 1010.7,745.1 1011.3,755.5 1011.6,757.0 1012.8,765.3 1014.0,763.1 1014.4,762.8 1015.0,760.8 1015.6,760.8 1016.2,764.3 1016.5,764.7 1017.7,762.2 1018.9,761.2 1020.1,766.4 1021.4,761.9 1021.7,761.9 1022.3,762.1 1022.9,762.1 1023.5,765.5 1023.8,766.0 1025.0,762.3 1026.3,765.5 1027.5,766.1 1028.7,758.1 1029.9,758.8 1031.1,765.3 1032.4,761.9 1032.7,760.3 1033.3,748.4 1033.9,748.4 1034.5,760.7 1034.8,762.4 1036.0,763.5 1037.3,759.6 1038.5,767.3 1039.7,762.5 1040.0,762.2 1040.6,759.4 1041.2,759.4 1041.8,758.3 1042.1,758.2 1043.4,758.6 1044.6,761.8 1045.8,764.3 1047.0,760.3 1047.4,760.3 1048.0,760.6 1048.6,760.6 1049.2,758.5 1049.5,758.2 1050.7,761.3 1051.9,760.2 1053.1,763.7 1054.4,763.5 1055.6,761.2 1056.8,762.7 1057.1,761.2 1057.7,750.2 1058.3,750.2 1058.9,756.7 1059.3,757.6 1059.6,755.4 1060.2,739.5 1060.8,739.5 1061.4,756.4 1061.7,758.7 1062.9,758.4 1064.1,760.7 1065.4,766.9 1066.6,766.6 1067.8,761.8 1069.0,764.1 1070.3,762.6 1071.5,763.1 1072.7,759.1 1073.0,759.2 1073.6,760.3 1074.2,760.3 1074.8,762.9 1075.1,763.3 1076.4,763.8 1076.7,762.4 1077.3,752.8 1077.9,752.8 1078.5,763.6 1078.8,765.0 1080.0,766.0 1081.3,767.2 1082.5,766.4 1083.7,764.3 1084.9,767.1 1086.2,765.9 1087.4,763.4 1087.7,762.0 1088.3,752.0 1088.9,752.0 1089.5,762.9 1089.8,764.4 1091.0,764.9 1091.4,764.1 1092.0,758.3 1092.6,758.3 1093.2,763.9 1093.5,764.6 1094.7,765.6 1095.9,767.1 1097.2,764.4 1098.4,762.5 1099.6,761.8 1100.8,762.6 1101.1,761.0 1101.7,749.2 1102.3,749.2 1102.9,760.8 1103.3,762.3 1104.5,765.2 1105.7,765.2 1106.9,763.5 1108.2,765.7 1109.4,765.0 1109.7,764.9 1110.3,763.9 1110.9,763.9 1111.5,765.8 1111.8,766.1 1113.0,763.4 1114.3,764.6 1114.6,764.6 1115.2,764.6 1115.8,764.6 1116.4,765.1 1116.7,765.2 1117.9,763.3 1119.2,762.2 1120.4,765.3 1121.6,765.1 1122.8,761.9 1124.0,763.1 1125.3,765.5 1126.5,765.1 1127.7,763.9 1128.9,766.0 1130.2,761.7 1130.5,761.0 1131.1,756.0 1131.7,756.0 1132.3,759.3 1132.6,759.8 1132.9,758.9 1133.5,752.7 1134.1,752.7 1134.7,760.7 1135.0,761.8 1136.3,765.5 1137.5,765.2 1138.7,764.0 1139.9,763.7 1140.3,762.3 1140.9,752.7 1141.5,752.7 1142.1,761.9 1142.4,763.1 1143.6,767.4 1144.8,765.7 1146.0,764.2 1146.4,763.4 1147.0,757.6 1147.6,757.6 1148.2,762.5 1148.5,763.2 1148.8,762.4 1149.4,756.4 1150.0,756.4 1150.6,762.4 1150.9,763.2 1152.2,766.6 1153.4,766.5 1154.6,765.1 1155.8,757.0 1157.0,764.1 1157.4,763.4 1158.0,757.7 1158.6,757.7 1159.2,765.2 1159.5,766.2 1160.7,759.4 1161.0,759.7 1161.6,761.7 1162.2,761.7 1162.8,761.0 1163.2,760.9 1164.4,766.8 1165.6,763.8 1166.8,764.8 1168.1,764.5 1169.3,763.8 1170.5,763.7 1171.7,761.5 1172.9,763.6 1174.2,760.1 1175.4,761.0 1175.7,761.1 1176.3,762.0 1176.9,762.0 1177.5,760.0 1177.8,759.7 1178.2,759.4 1178.8,757.1 1179.4,757.1 1180.0,759.3 1180.3,759.6 1181.5,759.4 1182.7,760.8 1183.9,765.2 1185.2,763.0 1186.4,766.7 1187.6,763.4 1188.8,763.5 1189.2,762.8 1189.8,758.2 1190.4,758.2 1191.0,763.9 1191.3,764.7 1192.5,763.1 1193.7,765.7 1194.9,763.0 1195.3,762.9 1195.9,762.3 1196.5,762.3 1197.1,764.2 1197.4,764.4 1198.6,762.7 1199.8,763.5 1200.2,763.3 1200.8,761.7 1201.4,761.7 1202.0,763.0 1202.3,763.2 1203.5,763.2 1204.7,765.1 1205.0,764.4 1205.6,759.0 1206.2,759.0 1206.8,764.5 1207.2,765.2 1208.4,767.5 1209.6,766.2 1210.8,765.8 1212.1,761.9 1213.3,761.9 1213.6,760.7 1214.2,752.0 1214.8,752.0 1215.4,761.8 1215.7,763.2 1216.9,765.0 1218.2,763.0 1218.5,762.2 1219.1,756.6 1219.7,756.6 1220.3,763.2 1220.6,764.1 1221.8,761.4 1223.1,765.5 1224.3,764.6 1224.6,764.2 1225.2,761.2 1225.8,761.2 1226.4,765.0 1226.7,765.5 1227.9,763.4 1229.2,763.3 1229.5,763.0 1230.1,761.3 1230.7,761.3 1231.3,764.6 1231.6,765.1 1232.8,764.7 1234.1,763.7 1235.3,765.1 1235.6,764.5 1236.2,760.1 1236.8,760.1 1237.4,760.7 1237.7,760.7 1239.0,765.2 1240.2,765.6 1241.4,764.9 1242.6,760.2 1242.9,759.9 1243.5,757.7 1244.1,757.7 1244.7,763.6 1245.1,764.4 1246.3,760.2 1247.5,763.5 1248.7,758.1 1250.0,765.3 1251.2,765.1 1252.4,765.5 1252.7,764.5 1253.3,757.7 1253.9,757.7 1254.5,763.8 1254.8,764.6 1256.1,764.0 1256.4,763.5 1257.0,759.8 1257.6,759.8 1258.2,761.0 1258.5,761.2 1259.7,759.0 1261.0,762.7 1262.2,763.9 1263.4,762.5 1263.7,762.0 1264.3,758.5 1264.9,758.5 1265.5,764.0 1265.8,764.7 1267.1,762.1 1267.4,762.2 1268.0,762.6 1268.6,762.6 1269.2,763.7 1269.5,763.9 1270.7,765.1 1272.0,765.3 1273.2,764.9 1274.4,766.1 1275.6,764.1 1276.8,761.0 1278.1,763.6 1279.3,766.3 1280.5,765.3 1281.7,765.8 1283.0,762.6 1283.3,762.0 1283.9,757.4 1284.5,757.4 1285.1,763.6 1285.4,764.5 1286.6,762.0 1287.8,761.3 1288.2,761.1 1288.8,760.0 1289.4,760.0 1290.0,760.4 1290.3,760.5 1291.5,761.4 1292.7,761.8 1294.0,763.0 1295.2,761.8 1296.4,765.0 1297.6,763.0 1297.9,761.8 1298.5,753.2 1299.1,753.2 1299.7,762.6 1300.1,763.9 1301.3,762.2 1302.5,764.5 1303.7,759.8 1305.0,760.6 1306.2,764.7 1307.4,767.1 1308.6,764.9 1308.9,764.4 1309.5,760.9 1310.1,760.9 1310.7,760.7 1311.1,760.7 1312.3,763.2 1313.5,764.3 1313.8,764.2 1314.4,762.9 1315.0,762.9 1315.6,765.5 1316.0,765.8 1317.2,763.9 1318.4,765.4 1319.6,764.5 1320.9,764.5 1322.1,764.3 1323.3,763.1 1324.5,762.8 1324.8,762.2 1325.4,757.2 1326.0,757.2 1326.6,760.9 1327.0,761.4 1328.2,760.0 1329.4,765.6 1329.7,765.4 1330.3,763.3 1330.9,763.3 1331.5,765.2 1331.9,765.5 1333.1,764.0 1334.3,761.5 1335.5,763.2 1336.7,764.8 1338.0,762.6 1338.3,762.4 1338.9,760.9 1339.5,760.9 1340.1,762.8 1340.4,763.1 1341.6,764.9 1342.9,764.5 1344.1,766.4 1344.4,765.8 1345.0,761.0 1345.6,761.0 1346.2,764.0 1346.5,764.4 1347.7,759.5 1349.0,764.3 1349.3,763.3 1349.9,756.6 1350.5,756.6 1351.1,761.7 1351.4,762.3 1352.6,762.4 1353.9,760.8 1355.1,764.1 1355.4,764.0 1356.0,763.3 1356.6,763.3 1357.2,760.7 1357.5,760.4 1358.7,763.7 1360.0,763.1 1361.2,764.5 1361.5,764.0 1362.1,760.4 1362.7,760.4 1363.3,763.9 1363.6,764.4 1364.9,759.5 1366.1,762.8 1367.3,761.9 1367.6,761.8 1368.2,761.4 1368.8,761.4 1369.4,762.9 1369.7,763.1 1371.0,764.5 1371.3,764.1 1371.9,761.2 1372.5,761.2 1373.1,764.9 1373.4,765.5 1374.6,762.9 1375.0,762.0 1375.6,755.2 1376.2,755.2 1376.8,761.4 1377.1,762.2 1378.3,764.5 1379.5,761.7 1379.8,761.6 1380.4,761.1 1381.0,761.1 1381.6,764.5 1382.0,765.0 1383.2,767.5 1384.4,763.1 1384.7,762.0 1385.3,753.6 1385.9,753.6 1386.5,763.1 1386.9,764.4 1388.1,766.4 1389.3,760.7 1390.5,758.9 1390.9,759.0 1391.5,760.2 1392.1,760.2 1392.7,761.4 1393.0,761.5 1394.2,764.4 1394.5,764.3 1395.1,764.0 1395.7,764.0 1396.3,763.1 1396.6,762.9 1397.9,763.6 1399.1,763.3 1400.3,762.0 1401.5,763.7 1402.8,765.1 1404.0,762.6 1404.3,762.7 1404.9,763.6 1405.5,763.6 1406.1,760.5 1406.4,760.1 1407.6,765.9 1408.9,765.0 1410.1,765.9 1410.4,765.6 1411.0,763.5 1411.6,763.5 1412.2,763.6 1412.5,763.6 1413.8,766.5 1415.0,762.9 1416.2,763.9 1416.5,763.6 1417.1,761.6 1417.7,761.6 1418.3,761.5 1418.6,761.5 1419.9,758.4 1421.1,762.9 1422.3,764.1 1423.5,764.2 1423.9,764.0 1424.5,762.6 1425.1,762.6 1425.7,765.4 1426.0,765.8 1427.2,766.5"/>
</g>
<g clip-path="url(#c2)">
<path class="d" stroke="#515151" d="M204.8,1150.5 206.0,1147.3 207.2,1149.6 207.6,1148.5 208.2,1139.7 208.8,1139.7 209.4,1145.7 209.7,1146.6 210.9,1148.7 211.2,1148.1 211.8,1143.8 212.4,1143.8 213.0,1149.3 213.4,1150.0 214.6,1147.0 215.8,1144.2 217.0,1149.6 218.2,1147.7 218.6,1147.8 219.2,1148.7 219.8,1148.7 220.4,1150.6 220.7,1150.8 221.9,1149.6 223.1,1150.9 224.4,1150.9 224.7,1150.3 225.3,1145.8 225.9,1145.8 226.5,1150.3 226.8,1150.9 228.0,1149.6 229.2,1147.2 230.5,1150.9 231.7,1149.7 232.9,1149.5 234.1,1147.0 235.4,1150.3 236.6,1149.6 237.8,1147.1 238.1,1146.5 238.7,1142.0 239.3,1142.0 239.9,1147.3 240.2,1148.1 241.5,1147.5 242.7,1147.2 243.9,1142.9 244.2,1143.5 244.8,1147.5 245.4,1147.5 246.0,1148.2 246.4,1148.3 247.6,1145.0 248.8,1145.2 249.1,1143.9 249.7,1134.2 250.3,1134.2 250.9,1147.0 251.3,1148.7 252.5,1149.4 253.7,1149.9 254.9,1149.5 256.1,1148.9 256.5,1148.4 257.1,1144.5 257.7,1144.5 258.3,1143.0 258.6,1142.8 259.8,1148.9 261.0,1149.0 262.3,1149.2 263.5,1149.1 264.7,1150.6 265.9,1144.6 267.1,1149.5 268.4,1150.0 268.7,1148.9 269.3,1141.0 269.9,1141.0 270.5,1145.9 270.8,1146.5 272.0,1146.5 272.4,1145.6 273.0,1139.0 273.6,1139.0 274.2,1144.8 274.5,1145.6 275.7,1150.6 276.9,1149.9 278.1,1147.5 279.4,1147.3 280.6,1149.8 281.8,1148.0 283.0,1146.3 284.3,1148.7 285.5,1149.4 285.8,1148.0 286.4,1137.6 287.0,1137.6 287.6,1144.5 287.9,1145.5 289.1,1148.8 290.4,1145.3 290.7,1144.7 291.3,1140.8 291.9,1140.8 292.5,1148.3 292.8,1149.3 294.0,1146.0 295.3,1147.2 296.5,1144.1 297.7,1147.7 298.9,1150.9 300.1,1146.6 300.5,1146.1 301.1,1143.0 301.7,1143.0 302.3,1148.8 302.6,1149.5 303.8,1150.7 305.0,1150.2 306.3,1150.0 307.5,1150.9 308.7,1148.6 309.9,1150.9 311.1,1149.5 311.5,1149.0 312.1,1145.7 312.7,1145.7 313.3,1150.0 313.6,1150.6 314.8,1150.1 316.0,1148.2 317.3,1145.7 318.5,1147.4 319.7,1146.0 320.9,1148.1 322.2,1149.2 323.4,1148.4 324.6,1147.7 325.8,1146.4 326.1,1145.6 326.7,1139.4 327.3,1139.4 327.9,1147.2 328.3,1148.3 329.5,1150.0 330.7,1148.5 331.9,1146.6 333.2,1149.8 334.4,1144.8 335.6,1150.4 335.9,1149.4 336.5,1142.4 337.1,1142.4 337.7,1145.1 338.0,1145.4 339.3,1150.9 340.5,1150.9 341.7,1149.9 342.0,1149.3 342.6,1144.7 343.2,1144.7 343.8,1148.4 344.2,1148.9 345.4,1147.0 346.6,1150.7 347.8,1147.8 349.0,1147.2 350.3,1150.7 350.6,1150.3 351.2,1147.4 351.8,1147.4 352.4,1147.4 352.7,1147.4 353.9,1150.9 355.2,1150.3 356.4,1150.5 357.6,1150.2 358.8,1150.0 360.0,1141.0 361.3,1146.7 361.6,1146.5 362.2,1145.4 362.8,1145.4 363.4,1149.7 363.7,1150.3 364.9,1147.9 366.2,1146.8 367.4,1146.4 368.6,1147.8 369.8,1146.7 371.0,1145.9 371.4,1145.1 372.0,1139.0 372.6,1139.0 373.2,1147.4 373.5,1148.5 374.7,1150.9 375.9,1150.9 377.2,1150.4 378.4,1144.2 379.6,1150.2 380.8,1149.8 381.1,1148.7 381.7,1140.1 382.3,1140.1 382.9,1149.6 383.3,1150.9 384.5,1147.8 385.7,1148.6 386.0,1148.1 386.6,1144.5 387.2,1144.5 387.8,1147.6 388.2,1148.0 389.4,1148.0 390.6,1150.9 391.8,1149.4 393.0,1147.9 394.3,1149.9 395.5,1148.7 396.7,1150.9 397.9,1150.1 399.2,1150.9 400.4,1148.6 400.7,1148.1 401.3,1144.1 401.9,1144.1 402.5,1148.0 402.8,1148.5 404.1,1150.4 405.3,1148.3 405.6,1148.1 406.2,1146.3 406.8,1146.3 407.4,1147.0 407.7,1147.1 408.9,1149.3 410.2,1148.0 411.4,1148.6 412.6,1147.8 413.8,1149.1 415.1,1146.5 416.3,1143.0 417.5,1148.7 418.7,1143.1 419.9,1149.8 421.2,1149.1 422.4,1148.5 423.6,1145.3 424.8,1147.3 425.2,1147.2 425.8,1146.4 426.4,1146.4 427.0,1147.1 427.3,1147.2 427.6,1146.9 428.2,1144.6 428.8,1144.6 429.4,1147.4 429.7,1147.8 430.9,1150.2 432.2,1148.2 433.4,1150.4 434.6,1149.4 435.8,1147.7 437.1,1143.9 437.4,1143.0 438.0,1136.3 438.6,1136.3 439.2,1140.5 439.5,1141.0 440.7,1140.1 441.9,1148.2 443.2,1144.1 444.4,1150.6 445.6,1145.3 446.8,1148.7 448.1,1145.6 448.4,1145.2 449.0,1142.8 449.6,1142.8 450.2,1148.6 450.5,1149.4 451.7,1150.7 452.9,1150.9 454.2,1148.1 454.5,1147.8 455.1,1145.5 455.7,1145.5 456.3,1148.8 456.6,1149.3 457.8,1149.2 459.1,1149.2 460.3,1150.1 461.5,1150.9 462.7,1145.4 463.9,1150.9 465.2,1148.7 466.4,1146.7 467.6,1150.6 468.8,1149.0 470.1,1149.4 470.4,1147.3 471.0,1131.9 471.6,1131.9 472.2,1143.4 472.5,1144.9 473.7,1146.9 474.1,1146.5 474.7,1143.3 475.3,1143.3 475.9,1148.9 476.2,1149.7 477.4,1149.1 478.6,1147.2 478.9,1146.8 479.5,1143.9 480.1,1143.9 480.7,1146.4 481.1,1146.8 482.3,1150.3 483.5,1147.7 483.8,1147.5 484.4,1146.6 485.0,1146.6 485.6,1146.6 486.0,1146.6 487.2,1150.9 488.4,1150.9 489.6,1148.6 489.9,1147.9 490.5,1142.7 491.1,1142.7 491.7,1148.2 492.1,1148.9 493.3,1149.6 494.5,1149.6 495.7,1150.5 497.0,1150.8 498.2,1149.9 499.4,1150.9 500.6,1149.1 500.9,1148.8 501.5,1146.3 502.1,1146.3 502.7,1149.8 503.1,1150.3 504.3,1150.4 505.5,1149.6 506.7,1148.4 508.0,1150.1 509.2,1150.5 509.5,1149.7 510.1,1143.5 510.7,1143.5 511.3,1147.2 511.6,1147.7 512.8,1150.9 514.1,1144.8 514.4,1144.6 515.0,1142.8 515.6,1142.8 516.2,1144.6 516.5,1144.8 517.7,1149.4 519.0,1149.0 520.2,1148.7 521.4,1147.3 522.6,1146.4 523.8,1148.8 524.2,1148.6 524.8,1147.0 525.4,1147.0 526.0,1147.7 526.3,1147.8 527.5,1150.0 528.7,1148.9 530.0,1150.1 531.2,1148.3 532.4,1150.0 532.7,1149.4 533.3,1144.9 533.9,1144.9 534.5,1149.3 534.8,1149.9 536.1,1146.9 537.3,1146.6 538.5,1145.5 539.7,1147.6 540.1,1146.5 540.7,1138.2 541.3,1138.2 541.9,1141.7 542.2,1142.1 543.4,1148.0 544.6,1148.2 545.8,1149.9 547.1,1148.1 548.3,1149.2 549.5,1146.9 549.8,1147.1 550.4,1148.4 551.0,1148.4 551.6,1148.0 552.0,1147.9 553.2,1146.4 554.4,1145.6 555.6,1142.8 556.9,1145.5 557.2,1145.3 557.8,1144.1 558.4,1144.1 559.0,1146.0 559.3,1146.3 560.5,1147.7 561.7,1148.9 563.0,1149.4 564.2,1148.2 564.5,1148.0 565.1,1146.6 565.7,1146.6 566.3,1150.0 566.6,1150.4 567.9,1150.6 569.1,1147.5 569.4,1146.7 570.0,1141.4 570.6,1141.4 571.2,1146.5 571.5,1147.2 572.7,1150.2 574.0,1146.7 575.2,1145.1 576.4,1147.7 576.7,1147.8 577.3,1148.9 577.9,1148.9 578.5,1149.2 578.9,1149.2 580.1,1148.4 581.3,1149.8 582.5,1148.3 583.7,1146.3 584.1,1146.6 584.7,1148.8 585.3,1148.8 585.9,1149.4 586.2,1149.5 587.4,1149.5 588.6,1148.4 589.9,1148.2 591.1,1149.9 591.4,1149.4 592.0,1145.7 592.6,1145.7 593.2,1150.2 593.5,1150.9 594.7,1150.1 596.0,1147.8 597.2,1146.8 597.5,1145.9 598.1,1139.7 598.7,1139.7 599.3,1147.0 599.6,1148.0 600.9,1148.6 601.2,1148.5 601.8,1148.2 602.4,1148.2 603.0,1148.9 603.3,1149.0 604.5,1146.7 605.7,1149.3 607.0,1145.0 608.2,1149.2 609.4,1150.3 609.7,1150.2 610.3,1150.0 610.9,1150.0 611.5,1146.3 611.9,1145.8 613.1,1145.0 614.3,1148.5 615.5,1148.0 615.8,1147.7 616.4,1146.1 617.0,1146.1 617.6,1146.6 618.0,1146.7 619.2,1145.0 620.4,1147.6 621.6,1146.4 622.0,1146.4 622.6,1146.9 623.2,1146.9 623.8,1148.5 624.1,1148.7 625.3,1144.3 626.5,1143.2 627.8,1148.0 629.0,1148.1 629.3,1147.5 629.9,1143.2 630.5,1143.2 631.1,1147.0 631.4,1147.5 632.6,1145.6 633.9,1148.9 635.1,1150.4 636.3,1150.9 637.5,1150.9 638.8,1150.9 640.0,1148.4 641.2,1150.3 641.5,1149.0 642.1,1139.4 642.7,1139.4 643.3,1146.5 643.6,1147.4 644.9,1142.6 646.1,1143.9 647.3,1144.6 648.5,1142.8 649.8,1148.2 650.1,1147.9 650.7,1145.8 651.3,1145.8 651.9,1149.0 652.2,1149.5 652.5,1148.7 653.1,1142.8 653.7,1142.8 654.3,1148.3 654.6,1149.0 655.9,1150.4 657.1,1148.7 658.3,1149.3 659.5,1150.9 660.8,1150.1 661.1,1149.7 661.7,1146.4 662.3,1146.4 662.9,1146.5 663.2,1146.6 664.4,1148.0 665.6,1150.1 666.9,1149.3 667.2,1149.1 667.8,1147.9 668.4,1147.9 669.0,1145.5 669.3,1145.2 670.5,1148.0 671.8,1150.9 673.0,1149.8 674.2,1149.9 675.4,1146.3 675.7,1146.2 676.3,1145.5 676.9,1145.5 677.5,1147.4 677.9,1147.7 679.1,1148.1 680.3,1142.2 681.5,1150.8 682.8,1150.2 684.0,1150.2 685.2,1149.4 685.5,1148.6 686.1,1142.2 686.7,1142.2 687.3,1148.7 687.6,1149.6 688.9,1145.8 689.2,1146.0 689.8,1147.7 690.4,1147.7 691.0,1147.3 691.3,1147.2 692.5,1149.0 693.8,1148.6 695.0,1150.3 696.2,1148.9 696.5,1148.1 697.1,1142.1 697.7,1142.1 698.3,1147.8 698.6,1148.6 699.9,1147.9 701.1,1150.6 701.4,1150.2 702.0,1147.0 702.6,1147.0 703.2,1148.1 703.5,1148.2 704.8,1144.5 706.0,1150.9 707.2,1149.4 708.4,1146.5 709.7,1150.1 710.9,1147.3 711.2,1147.5 711.8,1148.9 712.4,1148.9 713.0,1148.7 713.3,1148.6 714.5,1149.0 715.8,1150.9 717.0,1149.1 717.3,1148.1 717.9,1140.3 718.5,1140.3 719.1,1148.9 719.4,1150.0 720.7,1146.5 721.0,1146.7 721.6,1147.7 722.2,1147.7 722.8,1148.7 723.1,1148.9 724.3,1149.7 725.5,1149.1 726.8,1146.2 727.1,1146.3 727.7,1147.7 728.3,1147.7 728.9,1146.0 729.2,1145.8 730.4,1147.2 731.7,1149.7 732.9,1149.9 733.2,1149.3 733.8,1144.4 734.4,1144.4 735.0,1145.1 735.3,1145.2 736.5,1145.4 737.8,1148.4 739.0,1147.0 740.2,1149.7 741.4,1150.2 742.7,1150.4 743.9,1150.7 744.2,1150.3 744.8,1147.3 745.4,1147.3 746.0,1147.7 746.3,1147.8 747.5,1147.6 748.8,1145.0 750.0,1150.9 751.2,1147.1 752.4,1149.2 753.7,1147.1 754.9,1146.8 755.2,1146.7 755.8,1146.5 756.4,1146.5 757.0,1148.9 757.3,1149.2 758.5,1149.7 758.9,1149.7 759.5,1149.2 760.1,1149.2 760.7,1150.7 761.0,1150.9 762.2,1146.8 763.4,1148.5 763.8,1148.3 764.4,1147.2 765.0,1147.2 765.6,1150.2 765.9,1150.6 767.1,1147.8 768.3,1149.6 769.5,1149.1 770.8,1149.1 771.1,1148.9 771.7,1147.4 772.3,1147.4 772.9,1149.5 773.2,1149.8 774.4,1147.1 775.7,1147.8 776.0,1147.3 776.6,1144.0 777.2,1144.0 777.8,1148.8 778.1,1149.5 779.3,1150.8 780.6,1150.6 781.8,1150.3 782.1,1149.4 782.7,1142.9 783.3,1142.9 783.9,1149.2 784.2,1150.1 785.4,1150.7 786.7,1148.6 787.9,1145.0 788.2,1145.0 788.8,1145.1 789.4,1145.1 790.0,1149.9 790.3,1150.5 791.6,1150.9 792.8,1148.8 794.0,1147.3 794.3,1147.1 794.9,1145.5 795.5,1145.5 796.1,1147.8 796.4,1148.1 797.7,1147.2 798.9,1149.7 800.1,1148.1 801.3,1146.5 801.7,1145.7 802.3,1139.8 802.9,1139.8 803.5,1149.0 803.8,1150.2 805.0,1150.9 806.2,1150.1 807.4,1150.9 808.7,1149.3 809.0,1148.5 809.6,1143.1 810.2,1143.1 810.8,1142.4 811.1,1142.3 812.3,1139.8 813.6,1147.1 813.9,1146.7 814.5,1143.1 815.1,1143.1 815.7,1147.1 816.0,1147.6 817.2,1146.0 818.4,1149.5 819.7,1144.0 820.9,1149.1 822.1,1147.8 822.4,1147.3 823.0,1143.4 823.6,1143.4 824.2,1146.9 824.6,1147.4 825.8,1149.0 827.0,1150.9 828.2,1150.2 828.5,1149.7 829.1,1145.7 829.7,1145.7 830.3,1149.6 830.7,1150.1 831.9,1150.9 833.1,1150.6 834.3,1150.9 835.6,1145.2 836.8,1150.2 838.0,1149.7 839.2,1148.4 839.5,1148.7 840.1,1150.9 840.7,1150.9 841.3,1147.5 841.7,1147.1 842.9,1149.3 844.1,1148.4 845.3,1150.9 846.6,1148.2 846.9,1147.5 847.5,1142.5 848.1,1142.5 848.7,1146.7 849.0,1147.3 850.2,1150.8 851.4,1150.8 852.7,1150.4 853.0,1149.9 853.6,1146.5 854.2,1146.5 854.8,1148.7 855.1,1149.1 856.3,1149.8 857.6,1150.4 858.8,1147.1 860.0,1150.5 861.2,1146.5 861.6,1146.8 862.2,1149.3 862.8,1149.3 863.4,1150.3 863.7,1150.4 864.9,1146.7 866.1,1147.7 867.3,1149.4 867.7,1149.4 868.3,1149.4 868.9,1149.4 869.5,1149.7 869.8,1149.7 871.0,1148.7 872.2,1148.5 873.5,1149.0 873.8,1149.1 874.4,1149.6 875.0,1149.6 875.6,1149.7 875.9,1149.8 877.1,1149.3 878.3,1145.3 879.6,1149.5 879.9,1148.9 880.5,1144.5 881.1,1144.5 881.7,1142.1 882.0,1141.8 883.2,1146.9 883.6,1146.4 884.2,1143.3 884.8,1143.3 885.4,1148.0 885.7,1148.7 886.9,1149.8 888.1,1148.9 889.3,1150.2 889.7,1149.2 890.3,1141.8 890.9,1141.8 891.5,1144.8 891.8,1145.2 893.0,1150.2 894.2,1150.8 895.5,1149.2 896.7,1148.4 897.9,1144.7 899.1,1147.1 900.3,1146.7 900.7,1146.9 901.3,1148.5 901.9,1148.5 902.5,1148.4 902.8,1148.4 904.0,1145.4 905.2,1148.4 906.5,1149.8 906.8,1149.1 907.4,1143.6 908.0,1143.6 908.6,1148.6 908.9,1149.3 910.1,1149.9 911.3,1147.9 911.7,1147.6 912.3,1145.4 912.9,1145.4 913.5,1149.2 913.8,1149.7 915.0,1141.9 915.3,1142.0 915.9,1142.8 916.5,1142.8 917.1,1146.7 917.5,1147.2 917.8,1147.2 918.4,1147.1 919.0,1147.1 919.6,1144.1 919.9,1143.7 921.1,1148.8 921.4,1148.1 922.0,1142.9 922.6,1142.9 923.2,1149.5 923.6,1150.5 923.9,1150.0 924.5,1146.4 925.1,1146.4 925.7,1149.6 926.0,1150.0 927.2,1150.9 928.5,1150.0 928.8,1149.7 929.4,1147.7 930.0,1147.7 930.6,1150.1 930.9,1150.4 932.1,1148.0 933.4,1150.9 934.6,1148.7 935.8,1150.9 937.0,1149.3 937.3,1149.1 937.9,1146.9 938.5,1146.9 939.1,1147.7 939.5,1147.8 940.7,1145.3 941.9,1147.9 942.2,1148.0 942.8,1148.2 943.4,1148.2 944.0,1146.7 944.4,1146.5 945.6,1150.7 946.8,1146.4 948.0,1148.4 948.3,1148.5 948.9,1149.1 949.5,1149.1 950.1,1148.1 950.5,1148.0 951.7,1146.1 952.9,1146.0 954.1,1146.4 954.5,1146.2 955.1,1144.7 955.7,1144.7 956.3,1148.1 956.6,1148.6 957.8,1148.5 959.0,1149.9 960.2,1146.2 960.6,1146.0 961.2,1144.5 961.8,1144.5 962.4,1143.2 962.7,1143.0 963.9,1147.4 965.1,1145.7 966.4,1149.0 967.6,1150.7 968.8,1143.5 969.1,1141.7 969.7,1128.0 970.3,1128.0 970.9,1145.7 971.2,1148.1 972.5,1147.6 973.7,1150.1 974.9,1145.7 976.1,1147.7 977.4,1150.8 978.6,1144.3 979.8,1150.5 981.0,1147.0 981.3,1146.7 981.9,1144.8 982.5,1144.8 983.1,1150.0 983.5,1150.7 984.7,1147.7 985.0,1146.5 985.6,1137.7 986.2,1137.7 986.8,1145.2 987.1,1146.2 988.4,1146.5 989.6,1149.9 990.8,1150.7 991.1,1150.6 991.7,1149.8 992.3,1149.8 992.9,1148.5 993.2,1148.3 994.5,1146.9 995.7,1147.3 996.9,1150.9 998.1,1145.8 999.4,1148.6 1000.6,1147.7 1000.9,1147.9 1001.5,1148.7 1002.1,1148.7 1002.7,1145.2 1003.0,1144.8 1004.2,1144.0 1005.5,1149.1 1006.7,1150.6 1007.9,1149.4 1009.1,1148.5 1009.5,1147.8 1010.1,1142.4 1010.7,1142.4 1011.3,1145.2 1011.6,1145.6 1012.8,1149.6 1014.0,1149.9 1014.4,1149.6 1015.0,1147.9 1015.6,1147.9 1016.2,1148.3 1016.5,1148.3 1017.7,1145.5 1018.9,1145.2 1020.1,1142.5 1021.4,1143.9 1021.7,1144.5 1022.3,1148.8 1022.9,1148.8 1023.5,1150.5 1023.8,1150.8 1025.0,1150.3 1026.3,1150.4 1027.5,1149.9 1028.7,1145.9 1029.9,1146.8 1031.1,1150.9 1032.4,1144.0 1032.7,1144.2 1033.3,1146.0 1033.9,1146.0 1034.5,1148.5 1034.8,1148.9 1036.0,1148.5 1037.3,1146.6 1038.5,1150.9 1039.7,1145.6 1040.0,1145.5 1040.6,1144.6 1041.2,1144.6 1041.8,1146.8 1042.1,1147.1 1043.4,1147.8 1044.6,1148.1 1045.8,1149.4 1047.0,1145.2 1047.4,1145.6 1048.0,1148.0 1048.6,1148.0 1049.2,1146.5 1049.5,1146.3 1050.7,1147.3 1051.9,1147.9 1053.1,1148.9 1054.4,1148.9 1055.6,1149.0 1056.8,1146.3 1057.1,1145.8 1057.7,1141.9 1058.3,1141.9 1058.9,1144.9 1059.3,1145.3 1059.6,1143.7 1060.2,1132.1 1060.8,1132.1 1061.4,1145.1 1061.7,1146.9 1062.9,1147.3 1064.1,1148.3 1065.4,1150.9 1066.6,1150.9 1067.8,1149.3 1069.0,1149.4 1070.3,1147.5 1071.5,1145.8 1072.7,1142.2 1073.0,1142.5 1073.6,1144.4 1074.2,1144.4 1074.8,1147.1 1075.1,1147.4 1076.4,1147.2 1076.7,1146.7 1077.3,1142.5 1077.9,1142.5 1078.5,1148.1 1078.8,1148.9 1080.0,1149.1 1081.3,1150.8 1082.5,1150.9 1083.7,1148.1 1084.9,1150.9 1086.2,1150.9 1087.4,1149.0 1087.7,1148.5 1088.3,1144.6 1088.9,1144.6 1089.5,1148.7 1089.8,1149.2 1091.0,1149.7 1091.4,1148.9 1092.0,1143.0 1092.6,1143.0 1093.2,1146.0 1093.5,1146.4 1094.7,1148.8 1095.9,1148.7 1097.2,1149.2 1098.4,1144.9 1099.6,1146.5 1100.8,1148.3 1101.1,1148.0 1101.7,1145.9 1102.3,1145.9 1102.9,1148.2 1103.3,1148.5 1104.5,1150.1 1105.7,1150.1 1106.9,1149.9 1108.2,1149.7 1109.4,1150.4 1109.7,1150.1 1110.3,1147.8 1110.9,1147.8 1111.5,1149.2 1111.8,1149.3 1113.0,1147.1 1114.3,1145.1 1114.6,1145.7 1115.2,1150.3 1115.8,1150.3 1116.4,1150.8 1116.7,1150.8 1117.9,1148.2 1119.2,1149.1 1120.4,1150.4 1121.6,1147.9 1122.8,1148.9 1124.0,1150.1 1125.3,1150.1 1126.5,1150.8 1127.7,1150.7 1128.9,1150.1 1130.2,1149.9 1130.5,1149.1 1131.1,1142.8 1131.7,1142.8 1132.3,1147.3 1132.6,1147.9 1132.9,1147.2 1133.5,1142.2 1134.1,1142.2 1134.7,1147.7 1135.0,1148.4 1136.3,1150.9 1137.5,1149.8 1138.7,1147.8 1139.9,1149.2 1140.3,1148.0 1140.9,1138.8 1141.5,1138.8 1142.1,1146.8 1142.4,1147.8 1143.6,1150.9 1144.8,1150.7 1146.0,1143.5 1146.4,1143.8 1147.0,1145.9 1147.6,1145.9 1148.2,1147.7 1148.5,1147.9 1148.8,1147.6 1149.4,1145.2 1150.0,1145.2 1150.6,1148.1 1150.9,1148.5 1152.2,1150.8 1153.4,1150.5 1154.6,1149.4 1155.8,1147.3 1157.0,1150.3 1157.4,1150.0 1158.0,1147.5 1158.6,1147.5 1159.2,1149.3 1159.5,1149.6 1160.7,1148.3 1161.0,1148.4 1161.6,1148.9 1162.2,1148.9 1162.8,1148.7 1163.2,1148.6 1164.4,1149.1 1165.6,1147.4 1166.8,1147.8 1168.1,1149.1 1169.3,1147.0 1170.5,1148.6 1171.7,1148.9 1172.9,1149.0 1174.2,1143.5 1175.4,1147.6 1175.7,1147.5 1176.3,1146.2 1176.9,1146.2 1177.5,1144.3 1177.8,1144.1 1178.2,1143.9 1178.8,1143.1 1179.4,1143.1 1180.0,1143.4 1180.3,1143.4 1181.5,1144.5 1182.7,1148.0 1183.9,1150.0 1185.2,1150.4 1186.4,1149.9 1187.6,1149.8 1188.8,1146.9 1189.2,1146.6 1189.8,1144.8 1190.4,1144.8 1191.0,1148.7 1191.3,1149.3 1192.5,1148.6 1193.7,1148.6 1194.9,1147.9 1195.3,1148.0 1195.9,1148.3 1196.5,1148.3 1197.1,1148.5 1197.4,1148.5 1198.6,1147.7 1199.8,1148.3 1200.2,1147.8 1200.8,1144.7 1201.4,1144.7 1202.0,1146.9 1202.3,1147.2 1203.5,1147.4 1204.7,1146.9 1205.0,1146.7 1205.6,1145.9 1206.2,1145.9 1206.8,1145.3 1207.2,1145.2 1208.4,1146.6 1209.6,1144.7 1210.8,1145.2 1212.1,1143.2 1213.3,1143.3 1213.6,1142.8 1214.2,1139.1 1214.8,1139.1 1215.4,1145.4 1215.7,1146.3 1216.9,1147.5 1218.2,1146.4 1218.5,1146.4 1219.1,1145.8 1219.7,1145.8 1220.3,1146.9 1220.6,1147.1 1221.8,1146.2 1223.1,1148.5 1224.3,1148.5 1224.6,1148.3 1225.2,1147.6 1225.8,1147.6 1226.4,1148.8 1226.7,1149.0 1227.9,1149.8 1229.2,1149.2 1229.5,1149.1 1230.1,1148.5 1230.7,1148.5 1231.3,1149.9 1231.6,1150.1 1232.8,1148.6 1234.1,1146.2 1235.3,1147.3 1235.6,1147.4 1236.2,1148.0 1236.8,1148.0 1237.4,1146.7 1237.7,1146.5 1239.0,1150.7 1240.2,1150.7 1241.4,1148.3 1242.6,1145.1 1242.9,1145.5 1243.5,1148.4 1244.1,1148.4 1244.7,1149.2 1245.1,1149.3 1246.3,1148.4 1247.5,1150.1 1248.7,1146.0 1250.0,1150.8 1251.2,1150.0 1252.4,1150.0 1252.7,1149.5 1253.3,1145.7 1253.9,1145.7 1254.5,1147.2 1254.8,1147.4 1256.1,1145.8 1256.4,1145.3 1257.0,1141.9 1257.6,1141.9 1258.2,1147.9 1258.5,1148.7 1259.7,1147.7 1261.0,1150.0 1262.2,1148.6 1263.4,1148.4 1263.7,1148.4 1264.3,1147.9 1264.9,1147.9 1265.5,1149.8 1265.8,1150.1 1267.1,1147.5 1267.4,1147.7 1268.0,1148.8 1268.6,1148.8 1269.2,1147.9 1269.5,1147.8 1270.7,1150.6 1272.0,1149.2 1273.2,1150.9 1274.4,1149.9 1275.6,1149.5 1276.8,1147.8 1278.1,1150.9 1279.3,1149.2 1280.5,1147.8 1281.7,1149.2 1283.0,1147.5 1283.3,1147.0 1283.9,1143.7 1284.5,1143.7 1285.1,1148.4 1285.4,1149.0 1286.6,1147.7 1287.8,1149.7 1288.2,1149.2 1288.8,1145.5 1289.4,1145.5 1290.0,1146.0 1290.3,1146.1 1291.5,1146.7 1292.7,1149.9 1294.0,1149.5 1295.2,1146.9 1296.4,1148.7 1297.6,1148.8 1297.9,1147.5 1298.5,1138.3 1299.1,1138.3 1299.7,1144.5 1300.1,1145.4 1301.3,1147.5 1302.5,1149.1 1303.7,1143.6 1305.0,1145.9 1306.2,1148.1 1307.4,1150.9 1308.6,1150.9 1308.9,1150.5 1309.5,1147.6 1310.1,1147.6 1310.7,1149.7 1311.1,1150.0 1312.3,1150.9 1313.5,1143.1 1313.8,1143.5 1314.4,1146.7 1315.0,1146.7 1315.6,1149.1 1316.0,1149.4 1317.2,1149.4 1318.4,1150.1 1319.6,1149.4 1320.9,1145.7 1322.1,1147.9 1323.3,1146.0 1324.5,1148.9 1324.8,1148.1 1325.4,1142.7 1326.0,1142.7 1326.6,1147.8 1327.0,1148.5 1328.2,1145.8 1329.4,1150.0 1329.7,1149.7 1330.3,1148.1 1330.9,1148.1 1331.5,1150.6 1331.9,1150.9 1333.1,1148.6 1334.3,1147.1 1335.5,1147.7 1336.7,1149.9 1338.0,1146.3 1338.3,1146.6 1338.9,1148.6 1339.5,1148.6 1340.1,1150.6 1340.4,1150.9 1341.6,1150.5 1342.9,1148.8 1344.1,1149.0 1344.4,1148.6 1345.0,1145.9 1345.6,1145.9 1346.2,1147.3 1346.5,1147.5 1347.7,1145.1 1349.0,1148.7 1349.3,1148.3 1349.9,1145.2 1350.5,1145.2 1351.1,1149.7 1351.4,1150.4 1352.6,1144.0 1353.9,1147.8 1355.1,1146.0 1355.4,1146.0 1356.0,1146.0 1356.6,1146.0 1357.2,1144.2 1357.5,1144.0 1358.7,1146.1 1360.0,1150.9 1361.2,1148.9 1361.5,1148.4 1362.1,1145.0 1362.7,1145.0 1363.3,1147.5 1363.6,1147.8 1364.9,1144.4 1366.1,1148.9 1367.3,1142.5 1367.6,1142.5 1368.2,1142.9 1368.8,1142.9 1369.4,1145.9 1369.7,1146.4 1371.0,1148.0 1371.3,1147.6 1371.9,1145.1 1372.5,1145.1 1373.1,1148.4 1373.4,1148.9 1374.6,1147.0 1375.0,1145.9 1375.6,1137.6 1376.2,1137.6 1376.8,1147.0 1377.1,1148.3 1378.3,1150.9 1379.5,1146.2 1379.8,1146.2 1380.4,1146.2 1381.0,1146.2 1381.6,1150.0 1382.0,1150.5 1383.2,1150.9 1384.4,1147.4 1384.7,1147.2 1385.3,1145.4 1385.9,1145.4 1386.5,1146.0 1386.9,1146.0 1388.1,1150.9 1389.3,1145.8 1390.5,1149.2 1390.9,1149.2 1391.5,1148.9 1392.1,1148.9 1392.7,1149.5 1393.0,1149.6 1394.2,1149.2 1394.5,1149.2 1395.1,1148.8 1395.7,1148.8 1396.3,1148.9 1396.6,1148.9 1397.9,1149.3 1399.1,1147.2 1400.3,1146.9 1401.5,1148.1 1402.8,1148.2 1404.0,1150.1 1404.3,1149.8 1404.9,1147.3 1405.5,1147.3 1406.1,1146.7 1406.4,1146.6 1407.6,1150.1 1408.9,1150.9 1410.1,1150.1 1410.4,1149.9 1411.0,1149.1 1411.6,1149.1 1412.2,1147.8 1412.5,1147.6 1413.8,1150.1 1415.0,1146.9 1416.2,1148.5 1416.5,1148.5 1417.1,1148.6 1417.7,1148.6 1418.3,1150.5 1418.6,1150.8 1419.9,1143.4 1421.1,1144.5 1422.3,1148.6 1423.5,1150.2 1423.9,1149.8 1424.5,1147.5 1425.1,1147.5 1425.7,1150.2 1426.0,1150.6 1427.2,1150.7"/>
<path class="d" stroke="#F14040" d="M204.8,1146.9 206.0,1147.7 207.2,1149.7 207.6,1149.4 208.2,1147.0 208.8,1147.0 209.4,1148.2 209.7,1148.4 210.9,1149.1 211.2,1148.4 211.8,1143.4 212.4,1143.4 213.0,1147.2 213.4,1147.7 214.6,1144.3 215.8,1145.3 217.0,1147.5 218.2,1150.2 218.6,1149.4 219.2,1143.7 219.8,1143.7 220.4,1148.1 220.7,1148.7 221.9,1149.6 223.1,1149.4 224.4,1148.3 224.7,1148.3 225.3,1148.9 225.9,1148.9 226.5,1148.7 226.8,1148.7 228.0,1141.9 229.2,1147.7 230.5,1150.1 231.7,1147.7 232.9,1149.3 234.1,1144.4 235.4,1149.1 236.6,1148.8 237.8,1149.1 238.1,1148.2 238.7,1141.6 239.3,1141.6 239.9,1146.3 240.2,1146.9 241.5,1148.6 242.7,1149.3 243.9,1146.2 244.2,1146.2 244.8,1146.4 245.4,1146.4 246.0,1147.9 246.4,1148.1 247.6,1147.7 248.8,1147.9 249.1,1147.6 249.7,1145.2 250.3,1145.2 250.9,1146.5 251.3,1146.7 252.5,1148.2 253.7,1147.7 254.9,1147.8 256.1,1149.9 256.5,1149.4 257.1,1145.4 257.7,1145.4 258.3,1143.8 258.6,1143.5 259.8,1146.9 261.0,1148.8 262.3,1150.9 263.5,1149.8 264.7,1148.2 265.9,1149.5 267.1,1150.3 268.4,1150.4 268.7,1149.5 269.3,1143.3 269.9,1143.3 270.5,1149.9 270.8,1150.8 272.0,1149.4 272.4,1148.3 273.0,1140.4 273.6,1140.4 274.2,1144.6 274.5,1145.1 275.7,1149.4 276.9,1147.9 278.1,1147.8 279.4,1149.3 280.6,1146.9 281.8,1144.8 283.0,1141.5 284.3,1145.7 285.5,1146.1 285.8,1144.9 286.4,1136.1 287.0,1136.1 287.6,1143.8 287.9,1144.8 289.1,1149.7 290.4,1145.6 290.7,1146.1 291.3,1149.7 291.9,1149.7 292.5,1150.5 292.8,1150.6 294.0,1147.7 295.3,1142.5 296.5,1136.1 297.7,1144.0 298.9,1148.4 300.1,1145.7 300.5,1145.3 301.1,1142.4 301.7,1142.4 302.3,1146.6 302.6,1147.2 303.8,1150.8 305.0,1149.4 306.3,1149.6 307.5,1150.9 308.7,1146.7 309.9,1150.0 311.1,1150.2 311.5,1150.0 312.1,1148.5 312.7,1148.5 313.3,1149.7 313.6,1149.9 314.8,1146.8 316.0,1146.3 317.3,1144.6 318.5,1144.9 319.7,1144.3 320.9,1146.1 322.2,1149.4 323.4,1150.9 324.6,1146.4 325.8,1144.8 326.1,1143.9 326.7,1137.0 327.3,1137.0 327.9,1148.0 328.3,1149.5 329.5,1147.0 330.7,1149.4 331.9,1146.3 333.2,1147.6 334.4,1144.3 335.6,1147.3 335.9,1146.4 336.5,1140.2 337.1,1140.2 337.7,1143.7 338.0,1144.1 339.3,1150.9 340.5,1150.2 341.7,1149.1 342.0,1148.8 342.6,1147.3 343.2,1147.3 343.8,1144.2 344.2,1143.7 345.4,1145.4 346.6,1145.8 347.8,1141.0 349.0,1138.3 350.3,1149.2 350.6,1148.5 351.2,1143.2 351.8,1143.2 352.4,1148.3 352.7,1149.0 353.9,1147.5 355.2,1146.8 356.4,1147.2 357.6,1145.7 358.8,1144.3 360.0,1146.3 361.3,1148.7 361.6,1148.4 362.2,1146.4 362.8,1146.4 363.4,1148.1 363.7,1148.3 364.9,1147.2 366.2,1146.0 367.4,1147.3 368.6,1145.1 369.8,1149.8 371.0,1144.9 371.4,1145.2 372.0,1147.6 372.6,1147.6 373.2,1146.5 373.5,1146.4 374.7,1150.7 375.9,1150.9 377.2,1148.3 378.4,1143.3 379.6,1147.7 380.8,1148.4 381.1,1147.9 381.7,1144.2 382.3,1144.2 382.9,1149.3 383.3,1150.0 384.5,1145.7 385.7,1143.8 386.0,1142.7 386.6,1134.9 387.2,1134.9 387.8,1146.0 388.2,1147.5 389.4,1142.1 390.6,1146.4 391.8,1148.9 393.0,1146.1 394.3,1150.3 395.5,1150.9 396.7,1149.4 397.9,1150.0 399.2,1147.6 400.4,1149.3 400.7,1148.8 401.3,1145.2 401.9,1145.2 402.5,1147.2 402.8,1147.5 404.1,1146.5 405.3,1149.0 405.6,1148.3 406.2,1142.9 406.8,1142.9 407.4,1142.4 407.7,1142.4 408.9,1147.7 410.2,1149.4 411.4,1149.1 412.6,1150.0 413.8,1150.0 415.1,1145.5 416.3,1144.7 417.5,1146.8 418.7,1147.0 419.9,1145.5 421.2,1146.7 422.4,1148.4 423.6,1147.5 424.8,1149.3 425.2,1149.1 425.8,1147.5 426.4,1147.5 427.0,1143.2 427.3,1142.6 427.6,1143.4 428.2,1149.3 428.8,1149.3 429.4,1147.9 429.7,1147.7 430.9,1150.6 432.2,1145.5 433.4,1149.0 434.6,1145.0 435.8,1150.4 437.1,1147.2 437.4,1145.8 438.0,1136.0 438.6,1136.0 439.2,1144.9 439.5,1146.1 440.7,1146.8 441.9,1147.4 443.2,1145.9 444.4,1150.6 445.6,1149.9 446.8,1150.3 448.1,1148.2 448.4,1147.6 449.0,1143.3 449.6,1143.3 450.2,1148.1 450.5,1148.7 451.7,1149.4 452.9,1150.9 454.2,1148.1 454.5,1147.2 455.1,1140.4 455.7,1140.4 456.3,1145.3 456.6,1145.9 457.8,1149.7 459.1,1150.1 460.3,1150.9 461.5,1149.5 462.7,1146.2 463.9,1150.9 465.2,1149.5 466.4,1145.0 467.6,1150.9 468.8,1149.6 470.1,1144.3 470.4,1143.9 471.0,1140.4 471.6,1140.4 472.2,1145.8 472.5,1146.6 473.7,1145.5 474.1,1144.7 474.7,1139.0 475.3,1139.0 475.9,1146.4 476.2,1147.4 477.4,1148.8 478.6,1149.1 478.9,1149.1 479.5,1148.4 480.1,1148.4 480.7,1144.6 481.1,1144.1 482.3,1147.5 483.5,1145.2 483.8,1144.7 484.4,1141.2 485.0,1141.2 485.6,1147.5 486.0,1148.3 487.2,1150.4 488.4,1149.0 489.6,1149.0 489.9,1148.5 490.5,1144.7 491.1,1144.7 491.7,1148.9 492.1,1149.5 493.3,1149.7 494.5,1150.8 495.7,1149.9 497.0,1150.9 498.2,1148.4 499.4,1147.0 500.6,1149.7 500.9,1149.4 501.5,1147.8 502.1,1147.8 502.7,1149.8 503.1,1150.1 504.3,1145.6 505.5,1143.7 506.7,1147.7 508.0,1148.7 509.2,1143.5 509.5,1143.5 510.1,1143.5 510.7,1143.5 511.3,1145.4 511.6,1145.7 512.8,1147.5 514.1,1144.8 514.4,1145.1 515.0,1147.2 515.6,1147.2 516.2,1146.2 516.5,1146.0 517.7,1146.4 519.0,1147.1 520.2,1147.6 521.4,1144.6 522.6,1149.3 523.8,1150.3 524.2,1149.8 524.8,1146.3 525.4,1146.3 526.0,1147.5 526.3,1147.7 527.5,1150.4 528.7,1150.9 530.0,1148.7 531.2,1150.7 532.4,1149.4 532.7,1148.4 533.3,1141.3 533.9,1141.3 534.5,1148.2 534.8,1149.2 536.1,1146.3 537.3,1145.6 538.5,1146.9 539.7,1148.8 540.1,1148.4 540.7,1145.4 541.3,1145.4 541.9,1141.9 542.2,1141.4 543.4,1146.4 544.6,1147.3 545.8,1145.0 547.1,1145.5 548.3,1144.6 549.5,1144.3 549.8,1144.4 550.4,1144.9 551.0,1144.9 551.6,1146.1 552.0,1146.3 553.2,1145.6 554.4,1144.1 555.6,1144.2 556.9,1145.3 557.2,1145.1 557.8,1143.7 558.4,1143.7 559.0,1149.1 559.3,1149.8 560.5,1147.0 561.7,1149.8 563.0,1149.9 564.2,1149.0 564.5,1148.4 565.1,1144.4 565.7,1144.4 566.3,1146.2 566.6,1146.4 567.9,1143.1 569.1,1144.8 569.4,1144.6 570.0,1143.3 570.6,1143.3 571.2,1148.1 571.5,1148.8 572.7,1145.4 574.0,1149.1 575.2,1145.9 576.4,1150.5 576.7,1150.2 577.3,1148.5 577.9,1148.5 578.5,1149.9 578.9,1150.1 580.1,1148.2 581.3,1149.6 582.5,1148.7 583.7,1149.6 584.1,1149.4 584.7,1147.9 585.3,1147.9 585.9,1149.4 586.2,1149.6 587.4,1149.4 588.6,1150.9 589.9,1148.9 591.1,1146.4 591.4,1146.6 592.0,1148.0 592.6,1148.0 593.2,1150.1 593.5,1150.4 594.7,1150.7 596.0,1146.2 597.2,1147.7 597.5,1147.0 598.1,1142.0 598.7,1142.0 599.3,1147.4 599.6,1148.2 600.9,1145.1 601.2,1145.4 601.8,1147.5 602.4,1147.5 603.0,1147.8 603.3,1147.9 604.5,1144.8 605.7,1149.7 607.0,1145.1 608.2,1148.4 609.4,1148.9 609.7,1148.4 610.3,1144.8 610.9,1144.8 611.5,1145.1 611.9,1145.2 613.1,1141.1 614.3,1139.1 615.5,1147.9 615.8,1147.4 616.4,1143.6 617.0,1143.6 617.6,1143.5 618.0,1143.5 619.2,1148.4 620.4,1147.8 621.6,1145.6 622.0,1145.7 622.6,1146.5 623.2,1146.5 623.8,1148.0 624.1,1148.2 625.3,1149.9 626.5,1145.3 627.8,1143.9 629.0,1145.6 629.3,1145.2 629.9,1142.5 630.5,1142.5 631.1,1146.8 631.4,1147.4 632.6,1145.0 633.9,1148.4 635.1,1150.4 636.3,1150.9 637.5,1150.9 638.8,1150.5 640.0,1146.2 641.2,1146.2 641.5,1145.0 642.1,1135.9 642.7,1135.9 643.3,1141.0 643.6,1141.7 644.9,1140.2 646.1,1146.0 647.3,1148.1 648.5,1148.0 649.8,1149.4 650.1,1148.8 650.7,1144.6 651.3,1144.6 651.9,1147.8 652.2,1148.3 652.5,1147.1 653.1,1138.4 653.7,1138.4 654.3,1147.0 654.6,1148.1 655.9,1148.5 657.1,1146.2 658.3,1150.0 659.5,1150.9 660.8,1149.0 661.1,1148.4 661.7,1143.6 662.3,1143.6 662.9,1147.2 663.2,1147.7 664.4,1150.3 665.6,1149.9 666.9,1147.8 667.2,1147.2 667.8,1142.3 668.4,1142.3 669.0,1147.1 669.3,1147.7 670.5,1149.9 671.8,1147.5 673.0,1149.6 674.2,1147.5 675.4,1146.6 675.7,1145.9 676.3,1141.0 676.9,1141.0 677.5,1147.3 677.9,1148.1 679.1,1145.9 680.3,1146.8 681.5,1146.1 682.8,1147.7 684.0,1149.7 685.2,1146.0 685.5,1144.0 686.1,1129.5 686.7,1129.5 687.3,1144.0 687.6,1145.9 688.9,1145.6 689.2,1145.4 689.8,1144.3 690.4,1144.3 691.0,1144.5 691.3,1144.6 692.5,1150.1 693.8,1149.2 695.0,1150.8 696.2,1146.2 696.5,1145.1 697.1,1137.2 697.7,1137.2 698.3,1146.6 698.6,1147.9 699.9,1148.0 701.1,1147.2 701.4,1147.0 702.0,1146.0 702.6,1146.0 703.2,1147.7 703.5,1147.9 704.8,1145.0 706.0,1150.9 707.2,1148.2 708.4,1145.1 709.7,1146.5 710.9,1149.5 711.2,1149.3 711.8,1148.3 712.4,1148.3 713.0,1150.6 713.3,1150.9 714.5,1150.1 715.8,1150.9 717.0,1149.6 717.3,1148.5 717.9,1140.0 718.5,1140.0 719.1,1145.8 719.4,1146.6 720.7,1147.6 721.0,1147.2 721.6,1144.5 722.2,1144.5 722.8,1149.1 723.1,1149.8 724.3,1149.7 725.5,1148.7 726.8,1144.3 727.1,1144.3 727.7,1144.1 728.3,1144.1 728.9,1149.2 729.2,1149.9 730.4,1150.1 731.7,1149.1 732.9,1146.4 733.2,1146.0 733.8,1143.0 734.4,1143.0 735.0,1148.0 735.3,1148.7 736.5,1140.3 737.8,1148.8 739.0,1146.8 740.2,1145.4 741.4,1147.2 742.7,1150.9 743.9,1148.8 744.2,1148.2 744.8,1143.9 745.4,1143.9 746.0,1147.4 746.3,1147.9 747.5,1150.4 748.8,1142.0 750.0,1150.9 751.2,1149.9 752.4,1150.9 753.7,1149.7 754.9,1142.5 755.2,1142.5 755.8,1141.9 756.4,1141.9 757.0,1147.2 757.3,1147.9 758.5,1144.6 758.9,1144.6 759.5,1144.7 760.1,1144.7 760.7,1146.7 761.0,1147.0 762.2,1146.4 763.4,1149.5 763.8,1149.4 764.4,1148.2 765.0,1148.2 765.6,1148.6 765.9,1148.7 767.1,1150.3 768.3,1149.1 769.5,1150.8 770.8,1149.7 771.1,1149.4 771.7,1147.4 772.3,1147.4 772.9,1149.7 773.2,1150.0 774.4,1147.5 775.7,1147.6 776.0,1146.9 776.6,1141.4 777.2,1141.4 777.8,1147.7 778.1,1148.6 779.3,1146.3 780.6,1149.1 781.8,1145.5 782.1,1145.2 782.7,1143.7 783.3,1143.7 783.9,1143.5 784.2,1143.4 785.4,1148.4 786.7,1150.6 787.9,1148.7 788.2,1148.6 788.8,1148.4 789.4,1148.4 790.0,1149.6 790.3,1149.8 791.6,1150.0 792.8,1149.3 794.0,1147.5 794.3,1147.3 794.9,1145.7 795.5,1145.7 796.1,1147.4 796.4,1147.6 797.7,1148.2 798.9,1150.9 800.1,1150.3 801.3,1150.3 801.7,1148.8 802.3,1137.4 802.9,1137.4 803.5,1142.2 803.8,1142.8 805.0,1147.3 806.2,1150.9 807.4,1149.6 808.7,1149.7 809.0,1149.5 809.6,1148.3 810.2,1148.3 810.8,1149.5 811.1,1149.6 812.3,1145.4 813.6,1150.1 813.9,1149.6 814.5,1145.8 815.1,1145.8 815.7,1146.2 816.0,1146.2 817.2,1136.3 818.4,1143.0 819.7,1145.2 820.9,1150.4 822.1,1146.7 822.4,1146.1 823.0,1141.5 823.6,1141.5 824.2,1146.6 824.6,1147.2 825.8,1149.7 827.0,1146.5 828.2,1147.6 828.5,1147.5 829.1,1147.1 829.7,1147.1 830.3,1148.8 830.7,1149.0 831.9,1150.1 833.1,1145.9 834.3,1150.1 835.6,1146.6 836.8,1150.9 838.0,1150.9 839.2,1150.9 839.5,1150.9 840.1,1150.6 840.7,1150.6 841.3,1149.8 841.7,1149.7 842.9,1150.9 844.1,1150.0 845.3,1147.6 846.6,1144.4 846.9,1144.1 847.5,1142.1 848.1,1142.1 848.7,1144.1 849.0,1144.4 850.2,1146.8 851.4,1149.5 852.7,1146.8 853.0,1146.8 853.6,1147.0 854.2,1147.0 854.8,1147.5 855.1,1147.6 856.3,1148.6 857.6,1148.5 858.8,1146.3 860.0,1149.3 861.2,1146.8 861.6,1147.0 862.2,1148.5 862.8,1148.5 863.4,1149.9 863.7,1150.1 864.9,1148.7 866.1,1147.9 867.3,1147.4 867.7,1147.3 868.3,1146.6 868.9,1146.6 869.5,1149.3 869.8,1149.6 871.0,1147.7 872.2,1144.4 873.5,1146.0 873.8,1145.8 874.4,1144.4 875.0,1144.4 875.6,1144.9 875.9,1145.0 877.1,1149.6 878.3,1148.1 879.6,1149.9 879.9,1149.2 880.5,1143.8 881.1,1143.8 881.7,1146.1 882.0,1146.4 883.2,1149.0 883.6,1148.9 884.2,1147.6 884.8,1147.6 885.4,1147.3 885.7,1147.3 886.9,1150.5 888.1,1147.7 889.3,1146.0 889.7,1146.0 890.3,1146.1 890.9,1146.1 891.5,1144.6 891.8,1144.4 893.0,1146.2 894.2,1147.7 895.5,1146.2 896.7,1143.2 897.9,1147.7 899.1,1149.0 900.3,1149.3 900.7,1149.0 901.3,1146.5 901.9,1146.5 902.5,1144.6 902.8,1144.4 904.0,1148.8 905.2,1148.5 906.5,1147.3 906.8,1147.0 907.4,1145.0 908.0,1145.0 908.6,1145.3 908.9,1145.4 910.1,1143.7 911.3,1147.8 911.7,1147.2 912.3,1142.4 912.9,1142.4 913.5,1148.1 913.8,1148.8 915.0,1147.8 915.3,1147.7 915.9,1146.9 916.5,1146.9 917.1,1148.2 917.5,1148.4 917.8,1147.4 918.4,1140.3 919.0,1140.3 919.6,1145.5 919.9,1146.2 921.1,1147.8 921.4,1147.4 922.0,1144.4 922.6,1144.4 923.2,1147.7 923.6,1148.2 923.9,1148.2 924.5,1148.2 925.1,1148.2 925.7,1147.5 926.0,1147.4 927.2,1150.9 928.5,1146.4 928.8,1146.1 929.4,1143.6 930.0,1143.6 930.6,1148.1 930.9,1148.7 932.1,1147.1 933.4,1150.9 934.6,1148.5 935.8,1149.6 937.0,1149.8 937.3,1148.3 937.9,1137.7 938.5,1137.7 939.1,1146.8 939.5,1148.1 940.7,1147.8 941.9,1149.2 942.2,1148.9 942.8,1146.3 943.4,1146.3 944.0,1146.5 944.4,1146.5 945.6,1148.1 946.8,1145.1 948.0,1147.1 948.3,1147.2 948.9,1147.6 949.5,1147.6 950.1,1148.9 950.5,1149.0 951.7,1150.4 952.9,1147.7 954.1,1145.3 954.5,1145.2 955.1,1144.5 955.7,1144.5 956.3,1145.4 956.6,1145.5 957.8,1149.5 959.0,1148.7 960.2,1147.5 960.6,1147.2 961.2,1145.2 961.8,1145.2 962.4,1144.5 962.7,1144.4 963.9,1147.0 965.1,1148.5 966.4,1150.9 967.6,1150.6 968.8,1147.7 969.1,1144.9 969.7,1124.1 970.3,1124.1 970.9,1144.2 971.2,1147.0 972.5,1150.1 973.7,1150.9 974.9,1148.2 976.1,1150.9 977.4,1149.3 978.6,1145.4 979.8,1145.9 981.0,1142.1 981.3,1141.7 981.9,1139.2 982.5,1139.2 983.1,1148.9 983.5,1150.2 984.7,1148.8 985.0,1148.2 985.6,1144.2 986.2,1144.2 986.8,1147.4 987.1,1147.8 988.4,1148.0 989.6,1148.9 990.8,1148.7 991.1,1148.9 991.7,1149.8 992.3,1149.8 992.9,1149.6 993.2,1149.5 994.5,1146.2 995.7,1149.2 996.9,1149.6 998.1,1147.6 999.4,1145.4 1000.6,1147.9 1000.9,1147.8 1001.5,1146.7 1002.1,1146.7 1002.7,1145.2 1003.0,1144.9 1004.2,1148.6 1005.5,1150.9 1006.7,1150.1 1007.9,1149.8 1009.1,1145.3 1009.5,1144.0 1010.1,1134.7 1010.7,1134.7 1011.3,1146.6 1011.6,1148.3 1012.8,1149.3 1014.0,1150.3 1014.4,1149.2 1015.0,1141.4 1015.6,1141.4 1016.2,1145.8 1016.5,1146.4 1017.7,1148.4 1018.9,1148.8 1020.1,1150.3 1021.4,1146.2 1021.7,1146.5 1022.3,1148.6 1022.9,1148.6 1023.5,1149.8 1023.8,1149.9 1025.0,1150.0 1026.3,1148.8 1027.5,1147.9 1028.7,1144.4 1029.9,1147.3 1031.1,1150.9 1032.4,1148.6 1032.7,1148.0 1033.3,1143.2 1033.9,1143.2 1034.5,1145.8 1034.8,1146.2 1036.0,1143.3 1037.3,1147.5 1038.5,1150.3 1039.7,1147.2 1040.0,1146.9 1040.6,1144.5 1041.2,1144.5 1041.8,1148.1 1042.1,1148.6 1043.4,1144.8 1044.6,1148.3 1045.8,1145.9 1047.0,1143.0 1047.4,1143.4 1048.0,1146.4 1048.6,1146.4 1049.2,1147.4 1049.5,1147.6 1050.7,1146.3 1051.9,1144.3 1053.1,1147.9 1054.4,1148.8 1055.6,1149.9 1056.8,1148.8 1057.1,1147.8 1057.7,1140.6 1058.3,1140.6 1058.9,1147.5 1059.3,1148.4 1059.6,1146.8 1060.2,1135.0 1060.8,1135.0 1061.4,1136.6 1061.7,1136.8 1062.9,1140.5 1064.1,1143.0 1065.4,1148.3 1066.6,1147.6 1067.8,1148.3 1069.0,1148.5 1070.3,1145.5 1071.5,1150.5 1072.7,1146.5 1073.0,1146.2 1073.6,1144.2 1074.2,1144.2 1074.8,1147.2 1075.1,1147.6 1076.4,1149.8 1076.7,1149.0 1077.3,1142.8 1077.9,1142.8 1078.5,1148.2 1078.8,1148.9 1080.0,1150.9 1081.3,1150.9 1082.5,1150.9 1083.7,1149.1 1084.9,1148.6 1086.2,1149.1 1087.4,1144.4 1087.7,1143.9 1088.3,1140.2 1088.9,1140.2 1089.5,1145.1 1089.8,1145.8 1091.0,1146.2 1091.4,1145.9 1092.0,1143.5 1092.6,1143.5 1093.2,1148.4 1093.5,1149.0 1094.7,1150.8 1095.9,1149.5 1097.2,1141.6 1098.4,1146.8 1099.6,1145.6 1100.8,1143.8 1101.1,1143.5 1101.7,1141.1 1102.3,1141.1 1102.9,1146.0 1103.3,1146.7 1104.5,1149.8 1105.7,1150.0 1106.9,1150.9 1108.2,1150.9 1109.4,1149.3 1109.7,1149.2 1110.3,1148.2 1110.9,1148.2 1111.5,1149.8 1111.8,1150.1 1113.0,1149.6 1114.3,1150.8 1114.6,1150.3 1115.2,1147.2 1115.8,1147.2 1116.4,1148.3 1116.7,1148.4 1117.9,1147.4 1119.2,1144.5 1120.4,1146.1 1121.6,1144.5 1122.8,1145.5 1124.0,1146.2 1125.3,1149.7 1126.5,1150.5 1127.7,1149.7 1128.9,1149.7 1130.2,1148.1 1130.5,1147.6 1131.1,1144.0 1131.7,1144.0 1132.3,1144.8 1132.6,1144.9 1132.9,1145.2 1133.5,1146.9 1134.1,1146.9 1134.7,1149.7 1135.0,1150.1 1136.3,1150.5 1137.5,1149.4 1138.7,1148.8 1139.9,1148.5 1140.3,1147.3 1140.9,1138.0 1141.5,1138.0 1142.1,1146.9 1142.4,1148.2 1143.6,1149.8 1144.8,1148.3 1146.0,1147.0 1146.4,1146.4 1147.0,1141.6 1147.6,1141.6 1148.2,1147.2 1148.5,1148.0 1148.8,1147.3 1149.4,1142.7 1150.0,1142.7 1150.6,1146.7 1150.9,1147.3 1152.2,1149.8 1153.4,1150.8 1154.6,1147.7 1155.8,1144.3 1157.0,1147.0 1157.4,1146.8 1158.0,1145.5 1158.6,1145.5 1159.2,1149.3 1159.5,1149.9 1160.7,1148.2 1161.0,1147.8 1161.6,1145.1 1162.2,1145.1 1162.8,1146.3 1163.2,1146.5 1164.4,1148.1 1165.6,1148.7 1166.8,1149.0 1168.1,1150.7 1169.3,1150.3 1170.5,1148.8 1171.7,1149.0 1172.9,1150.4 1174.2,1146.5 1175.4,1146.5 1175.7,1146.7 1176.3,1147.7 1176.9,1147.7 1177.5,1147.8 1177.8,1147.8 1178.2,1147.8 1178.8,1147.7 1179.4,1147.7 1180.0,1143.8 1180.3,1143.3 1181.5,1144.1 1182.7,1141.9 1183.9,1147.1 1185.2,1148.3 1186.4,1150.2 1187.6,1149.8 1188.8,1148.6 1189.2,1148.5 1189.8,1148.0 1190.4,1148.0 1191.0,1149.2 1191.3,1149.3 1192.5,1146.9 1193.7,1148.1 1194.9,1144.6 1195.3,1144.8 1195.9,1146.4 1196.5,1146.4 1197.1,1145.9 1197.4,1145.8 1198.6,1145.9 1199.8,1145.3 1200.2,1144.7 1200.8,1140.1 1201.4,1140.1 1202.0,1142.8 1202.3,1143.2 1203.5,1144.4 1204.7,1141.9 1205.0,1141.8 1205.6,1141.1 1206.2,1141.1 1206.8,1142.9 1207.2,1143.1 1208.4,1142.7 1209.6,1142.0 1210.8,1141.1 1212.1,1139.1 1213.3,1137.8 1213.6,1137.2 1214.2,1133.0 1214.8,1133.0 1215.4,1133.8 1215.7,1133.9 1216.9,1134.8 1218.2,1134.5 1218.5,1134.4 1219.1,1134.0 1219.7,1134.0 1220.3,1137.8 1220.6,1138.3 1221.8,1139.3 1223.1,1142.8 1224.3,1145.8 1224.6,1145.8 1225.2,1145.7 1225.8,1145.7 1226.4,1146.9 1226.7,1147.0 1227.9,1146.0 1229.2,1145.4 1229.5,1144.7 1230.1,1139.6 1230.7,1139.6 1231.3,1145.9 1231.6,1146.8 1232.8,1150.0 1234.1,1147.7 1235.3,1149.8 1235.6,1149.2 1236.2,1145.5 1236.8,1145.5 1237.4,1147.5 1237.7,1147.7 1239.0,1148.3 1240.2,1150.6 1241.4,1149.5 1242.6,1149.2 1242.9,1149.2 1243.5,1148.9 1244.1,1148.9 1244.7,1149.6 1245.1,1149.7 1246.3,1147.3 1247.5,1147.3 1248.7,1146.8 1250.0,1149.9 1251.2,1147.3 1252.4,1148.6 1252.7,1148.1 1253.3,1145.0 1253.9,1145.0 1254.5,1148.1 1254.8,1148.6 1256.1,1148.4 1256.4,1147.6 1257.0,1142.0 1257.6,1142.0 1258.2,1143.0 1258.5,1143.1 1259.7,1140.3 1261.0,1148.1 1262.2,1148.4 1263.4,1146.0 1263.7,1145.6 1264.3,1142.6 1264.9,1142.6 1265.5,1145.4 1265.8,1145.8 1267.1,1147.6 1267.4,1147.6 1268.0,1147.7 1268.6,1147.7 1269.2,1145.2 1269.5,1144.9 1270.7,1143.4 1272.0,1146.1 1273.2,1148.8 1274.4,1149.8 1275.6,1147.5 1276.8,1145.8 1278.1,1150.8 1279.3,1148.5 1280.5,1149.0 1281.7,1149.3 1283.0,1147.0 1283.3,1146.3 1283.9,1141.7 1284.5,1141.7 1285.1,1148.1 1285.4,1149.0 1286.6,1143.2 1287.8,1144.7 1288.2,1144.7 1288.8,1144.7 1289.4,1144.7 1290.0,1141.8 1290.3,1141.4 1291.5,1147.1 1292.7,1146.8 1294.0,1147.0 1295.2,1144.8 1296.4,1149.9 1297.6,1148.0 1297.9,1147.6 1298.5,1144.6 1299.1,1144.6 1299.7,1148.8 1300.1,1149.4 1301.3,1146.9 1302.5,1150.2 1303.7,1146.6 1305.0,1148.6 1306.2,1148.6 1307.4,1147.6 1308.6,1150.6 1308.9,1150.3 1309.5,1148.0 1310.1,1148.0 1310.7,1148.4 1311.1,1148.4 1312.3,1150.2 1313.5,1148.7 1313.8,1148.2 1314.4,1144.4 1315.0,1144.4 1315.6,1143.5 1316.0,1143.4 1317.2,1147.5 1318.4,1149.9 1319.6,1149.8 1320.9,1150.8 1322.1,1147.5 1323.3,1144.5 1324.5,1148.9 1324.8,1148.7 1325.4,1147.4 1326.0,1147.4 1326.6,1147.6 1327.0,1147.6 1328.2,1146.6 1329.4,1147.8 1329.7,1147.4 1330.3,1144.7 1330.9,1144.7 1331.5,1145.0 1331.9,1145.0 1333.1,1148.5 1334.3,1149.6 1335.5,1146.6 1336.7,1148.9 1338.0,1145.2 1338.3,1145.5 1338.9,1147.5 1339.5,1147.5 1340.1,1148.4 1340.4,1148.5 1341.6,1149.1 1342.9,1149.0 1344.1,1144.9 1344.4,1145.0 1345.0,1146.0 1345.6,1146.0 1346.2,1148.3 1346.5,1148.6 1347.7,1146.1 1349.0,1145.3 1349.3,1145.4 1349.9,1146.6 1350.5,1146.6 1351.1,1147.7 1351.4,1147.9 1352.6,1146.7 1353.9,1148.2 1355.1,1150.1 1355.4,1150.0 1356.0,1148.8 1356.6,1148.8 1357.2,1147.3 1357.5,1147.1 1358.7,1148.0 1360.0,1150.0 1361.2,1150.8 1361.5,1150.6 1362.1,1148.7 1362.7,1148.7 1363.3,1144.6 1363.6,1144.0 1364.9,1146.1 1366.1,1150.1 1367.3,1146.7 1367.6,1146.4 1368.2,1143.6 1368.8,1143.6 1369.4,1146.5 1369.7,1147.0 1371.0,1147.6 1371.3,1147.3 1371.9,1144.8 1372.5,1144.8 1373.1,1144.1 1373.4,1143.9 1374.6,1144.1 1375.0,1144.2 1375.6,1145.0 1376.2,1145.0 1376.8,1149.0 1377.1,1149.5 1378.3,1148.7 1379.5,1147.2 1379.8,1147.2 1380.4,1147.5 1381.0,1147.5 1381.6,1148.3 1382.0,1148.4 1383.2,1148.6 1384.4,1145.4 1384.7,1144.7 1385.3,1139.7 1385.9,1139.7 1386.5,1147.9 1386.9,1149.0 1388.1,1148.5 1389.3,1148.0 1390.5,1145.5 1390.9,1145.6 1391.5,1146.4 1392.1,1146.4 1392.7,1148.5 1393.0,1148.8 1394.2,1142.2 1394.5,1142.4 1395.1,1143.6 1395.7,1143.6 1396.3,1143.0 1396.6,1142.9 1397.9,1145.3 1399.1,1147.7 1400.3,1141.1 1401.5,1145.9 1402.8,1148.5 1404.0,1146.6 1404.3,1146.6 1404.9,1146.2 1405.5,1146.2 1406.1,1146.2 1406.4,1146.2 1407.6,1150.6 1408.9,1150.9 1410.1,1149.9 1410.4,1149.6 1411.0,1148.0 1411.6,1148.0 1412.2,1146.9 1412.5,1146.7 1413.8,1149.6 1415.0,1147.6 1416.2,1150.8 1416.5,1150.2 1417.1,1145.7 1417.7,1145.7 1418.3,1146.6 1418.6,1146.8 1419.9,1147.9 1421.1,1147.0 1422.3,1146.7 1423.5,1144.8 1423.9,1145.0 1424.5,1146.7 1425.1,1146.7 1425.7,1146.9 1426.0,1146.9 1427.2,1146.8"/>
<path class="d" stroke="#1A6FDF" d="M204.8,1138.4 206.0,1133.4 207.2,1138.0 207.6,1138.5 208.2,1142.3 208.8,1142.3 209.4,1146.5 209.7,1147.1 210.9,1149.4 211.2,1148.9 211.8,1144.9 212.4,1144.9 213.0,1139.4 213.4,1138.6 214.6,1146.4 215.8,1145.8 217.0,1140.3 218.2,1146.9 218.6,1146.8 219.2,1146.1 219.8,1146.1 220.4,1148.3 220.7,1148.6 221.9,1149.1 223.1,1145.4 224.4,1140.4 224.7,1140.9 225.3,1144.3 225.9,1144.3 226.5,1147.7 226.8,1148.2 228.0,1148.4 229.2,1146.1 230.5,1150.9 231.7,1146.2 232.9,1147.3 234.1,1148.9 235.4,1149.4 236.6,1147.0 237.8,1138.1 238.1,1138.0 238.7,1137.3 239.3,1137.3 239.9,1147.2 240.2,1148.6 241.5,1147.3 242.7,1147.1 243.9,1149.4 244.2,1149.0 244.8,1145.7 245.4,1145.7 246.0,1146.6 246.4,1146.7 247.6,1149.9 248.8,1148.5 249.1,1146.8 249.7,1134.4 250.3,1134.4 250.9,1138.0 251.3,1138.5 252.5,1143.3 253.7,1141.5 254.9,1148.1 256.1,1148.9 256.5,1148.1 257.1,1141.6 257.7,1141.6 258.3,1144.0 258.6,1144.3 259.8,1149.0 261.0,1150.9 262.3,1148.6 263.5,1144.7 264.7,1150.5 265.9,1147.3 267.1,1149.0 268.4,1144.8 268.7,1144.2 269.3,1139.9 269.9,1139.9 270.5,1143.7 270.8,1144.2 272.0,1139.6 272.4,1139.8 273.0,1141.0 273.6,1141.0 274.2,1143.8 274.5,1144.1 275.7,1150.5 276.9,1147.3 278.1,1143.7 279.4,1139.2 280.6,1144.2 281.8,1147.5 283.0,1146.0 284.3,1145.4 285.5,1141.7 285.8,1140.8 286.4,1134.2 287.0,1134.2 287.6,1139.3 287.9,1140.0 289.1,1144.7 290.4,1140.3 290.7,1140.9 291.3,1145.6 291.9,1145.6 292.5,1149.5 292.8,1150.1 294.0,1144.8 295.3,1146.4 296.5,1141.2 297.7,1140.2 298.9,1147.0 300.1,1147.7 300.5,1146.7 301.1,1139.6 301.7,1139.6 302.3,1147.6 302.6,1148.7 303.8,1142.8 305.0,1136.1 306.3,1142.4 307.5,1144.1 308.7,1141.6 309.9,1146.8 311.1,1141.3 311.5,1141.7 312.1,1145.3 312.7,1145.3 313.3,1144.3 313.6,1144.2 314.8,1145.5 316.0,1147.0 317.3,1145.6 318.5,1139.4 319.7,1136.0 320.9,1130.1 322.2,1143.4 323.4,1147.5 324.6,1144.2 325.8,1139.4 326.1,1138.1 326.7,1128.2 327.3,1128.2 327.9,1135.9 328.3,1137.0 329.5,1139.1 330.7,1143.2 331.9,1142.9 333.2,1143.0 334.4,1141.5 335.6,1145.7 335.9,1145.4 336.5,1143.4 337.1,1143.4 337.7,1144.8 338.0,1145.0 339.3,1150.1 340.5,1147.1 341.7,1142.6 342.0,1142.3 342.6,1139.9 343.2,1139.9 343.8,1147.5 344.2,1148.6 345.4,1145.6 346.6,1148.5 347.8,1142.7 349.0,1145.0 350.3,1146.6 350.6,1145.7 351.2,1139.0 351.8,1139.0 352.4,1146.3 352.7,1147.3 353.9,1149.5 355.2,1142.0 356.4,1143.3 357.6,1148.8 358.8,1150.3 360.0,1146.2 361.3,1148.3 361.6,1148.3 362.2,1148.0 362.8,1148.0 363.4,1147.2 363.7,1147.1 364.9,1145.5 366.2,1147.9 367.4,1149.3 368.6,1144.5 369.8,1143.9 371.0,1143.0 371.4,1142.4 372.0,1137.9 372.6,1137.9 373.2,1137.6 373.5,1137.6 374.7,1140.6 375.9,1139.5 377.2,1141.4 378.4,1144.4 379.6,1150.9 380.8,1148.8 381.1,1147.8 381.7,1139.9 382.3,1139.9 382.9,1149.2 383.3,1150.5 384.5,1143.6 385.7,1141.6 386.0,1140.9 386.6,1135.7 387.2,1135.7 387.8,1142.0 388.2,1142.8 389.4,1137.6 390.6,1127.2 391.8,1133.5 393.0,1143.6 394.3,1147.5 395.5,1145.7 396.7,1149.8 397.9,1147.6 399.2,1142.6 400.4,1145.8 400.7,1146.0 401.3,1147.3 401.9,1147.3 402.5,1145.7 402.8,1145.5 404.1,1146.4 405.3,1135.5 405.6,1135.8 406.2,1137.7 406.8,1137.7 407.4,1141.7 407.7,1142.3 408.9,1149.4 410.2,1146.5 411.4,1149.3 412.6,1148.7 413.8,1148.0 415.1,1149.2 416.3,1143.0 417.5,1148.5 418.7,1143.4 419.9,1146.3 421.2,1148.3 422.4,1147.7 423.6,1148.9 424.8,1142.1 425.2,1141.9 425.8,1140.5 426.4,1140.5 427.0,1144.3 427.3,1144.8 427.6,1144.2 428.2,1139.9 428.8,1139.9 429.4,1139.9 429.7,1139.9 430.9,1143.3 432.2,1142.5 433.4,1144.9 434.6,1138.1 435.8,1148.1 437.1,1145.0 437.4,1143.1 438.0,1129.1 438.6,1129.1 439.2,1145.0 439.5,1147.2 440.7,1145.9 441.9,1141.0 443.2,1142.4 444.4,1147.4 445.6,1142.8 446.8,1146.4 448.1,1148.2 448.4,1147.4 449.0,1141.2 449.6,1141.2 450.2,1139.0 450.5,1138.7 451.7,1143.0 452.9,1141.2 454.2,1141.5 454.5,1141.4 455.1,1140.9 455.7,1140.9 456.3,1142.1 456.6,1142.3 457.8,1147.7 459.1,1147.2 460.3,1150.9 461.5,1148.7 462.7,1148.1 463.9,1148.8 465.2,1149.2 466.4,1149.0 467.6,1146.0 468.8,1137.8 470.1,1140.9 470.4,1140.3 471.0,1135.9 471.6,1135.9 472.2,1144.8 472.5,1146.0 473.7,1135.7 474.1,1134.2 474.7,1123.0 475.3,1123.0 475.9,1128.7 476.2,1129.5 477.4,1141.3 478.6,1144.6 478.9,1144.4 479.5,1143.5 480.1,1143.5 480.7,1142.2 481.1,1142.0 482.3,1145.0 483.5,1147.0 483.8,1146.5 484.4,1142.7 485.0,1142.7 485.6,1145.4 486.0,1145.8 487.2,1144.7 488.4,1139.5 489.6,1136.2 489.9,1136.1 490.5,1135.8 491.1,1135.8 491.7,1141.7 492.1,1142.5 493.3,1144.0 494.5,1140.1 495.7,1150.0 497.0,1149.0 498.2,1147.0 499.4,1147.2 500.6,1140.1 500.9,1139.5 501.5,1134.6 502.1,1134.6 502.7,1142.7 503.1,1143.8 504.3,1148.2 505.5,1141.7 506.7,1149.7 508.0,1149.9 509.2,1146.4 509.5,1145.8 510.1,1141.3 510.7,1141.3 511.3,1146.8 511.6,1147.5 512.8,1150.7 514.1,1148.7 514.4,1148.4 515.0,1146.3 515.6,1146.3 516.2,1146.0 516.5,1145.9 517.7,1143.3 519.0,1144.1 520.2,1144.6 521.4,1140.2 522.6,1148.4 523.8,1149.4 524.2,1149.4 524.8,1149.7 525.4,1149.7 526.0,1150.1 526.3,1150.2 527.5,1150.3 528.7,1146.4 530.0,1140.4 531.2,1140.4 532.4,1143.7 532.7,1143.3 533.3,1140.2 533.9,1140.2 534.5,1145.5 534.8,1146.2 536.1,1137.4 537.3,1130.3 538.5,1133.2 539.7,1137.1 540.1,1135.9 540.7,1126.4 541.3,1126.4 541.9,1133.6 542.2,1134.6 543.4,1141.6 544.6,1144.9 545.8,1147.3 547.1,1148.9 548.3,1145.4 549.5,1147.4 549.8,1146.9 550.4,1142.8 551.0,1142.8 551.6,1145.7 552.0,1146.1 553.2,1144.3 554.4,1146.1 555.6,1144.8 556.9,1146.1 557.2,1145.8 557.8,1143.2 558.4,1143.2 559.0,1147.9 559.3,1148.6 560.5,1150.1 561.7,1146.2 563.0,1145.4 564.2,1144.9 564.5,1144.6 565.1,1142.9 565.7,1142.9 566.3,1141.2 566.6,1140.9 567.9,1136.9 569.1,1141.7 569.4,1141.5 570.0,1140.6 570.6,1140.6 571.2,1145.8 571.5,1146.5 572.7,1147.3 574.0,1150.8 575.2,1145.2 576.4,1148.2 576.7,1147.8 577.3,1145.1 577.9,1145.1 578.5,1146.6 578.9,1146.8 580.1,1146.0 581.3,1147.9 582.5,1146.5 583.7,1146.3 584.1,1146.0 584.7,1143.9 585.3,1143.9 585.9,1149.9 586.2,1150.8 587.4,1146.7 588.6,1146.5 589.9,1145.8 591.1,1142.7 591.4,1142.2 592.0,1138.6 592.6,1138.6 593.2,1142.6 593.5,1143.1 594.7,1147.7 596.0,1145.4 597.2,1144.7 597.5,1143.7 598.1,1136.3 598.7,1136.3 599.3,1146.2 599.6,1147.6 600.9,1145.9 601.2,1145.8 601.8,1145.4 602.4,1145.4 603.0,1144.0 603.3,1143.9 604.5,1145.8 605.7,1146.8 607.0,1146.3 608.2,1148.9 609.4,1143.5 609.7,1143.6 610.3,1143.8 610.9,1143.8 611.5,1145.4 611.9,1145.6 613.1,1130.7 614.3,1141.1 615.5,1141.6 615.8,1142.7 616.4,1150.2 617.0,1150.2 617.6,1144.9 618.0,1144.2 619.2,1141.8 620.4,1132.1 621.6,1131.0 622.0,1130.7 622.6,1129.0 623.2,1129.0 623.8,1138.6 624.1,1139.9 625.3,1148.9 626.5,1147.3 627.8,1146.9 629.0,1148.3 629.3,1147.4 629.9,1140.9 630.5,1140.9 631.1,1146.2 631.4,1147.0 632.6,1142.6 633.9,1144.9 635.1,1143.1 636.3,1147.6 637.5,1145.7 638.8,1150.9 640.0,1148.6 641.2,1148.7 641.5,1148.2 642.1,1144.7 642.7,1144.7 643.3,1144.8 643.6,1144.9 644.9,1140.7 646.1,1139.1 647.3,1146.7 648.5,1140.4 649.8,1147.6 650.1,1146.9 650.7,1141.8 651.3,1141.8 651.9,1141.9 652.2,1141.9 652.5,1141.4 653.1,1137.4 653.7,1137.4 654.3,1145.1 654.6,1146.1 655.9,1143.2 657.1,1137.1 658.3,1130.3 659.5,1141.9 660.8,1147.2 661.1,1146.2 661.7,1139.0 662.3,1139.0 662.9,1133.8 663.2,1133.0 664.4,1140.0 665.6,1127.4 666.9,1120.4 667.2,1121.6 667.8,1130.0 668.4,1130.0 669.0,1134.0 669.3,1134.6 670.5,1140.0 671.8,1149.2 673.0,1143.2 674.2,1146.6 675.4,1144.5 675.7,1143.7 676.3,1137.8 676.9,1137.8 677.5,1144.4 677.9,1145.3 679.1,1139.4 680.3,1141.6 681.5,1149.5 682.8,1140.2 684.0,1149.4 685.2,1145.0 685.5,1144.1 686.1,1137.8 686.7,1137.8 687.3,1146.8 687.6,1148.1 688.9,1143.3 689.2,1143.7 689.8,1146.4 690.4,1146.4 691.0,1144.4 691.3,1144.1 692.5,1147.5 693.8,1149.1 695.0,1147.2 696.2,1148.9 696.5,1148.2 697.1,1142.5 697.7,1142.5 698.3,1144.2 698.6,1144.5 699.9,1145.2 701.1,1150.6 701.4,1150.0 702.0,1145.3 702.6,1145.3 703.2,1146.6 703.5,1146.8 704.8,1134.7 706.0,1149.7 707.2,1145.3 708.4,1143.0 709.7,1144.4 710.9,1142.2 711.2,1142.0 711.8,1140.6 712.4,1140.6 713.0,1147.1 713.3,1148.0 714.5,1150.0 715.8,1150.9 717.0,1144.7 717.3,1143.9 717.9,1137.5 718.5,1137.5 719.1,1145.8 719.4,1146.9 720.7,1148.8 721.0,1148.5 721.6,1146.3 722.2,1146.3 722.8,1145.9 723.1,1145.8 724.3,1139.9 725.5,1143.7 726.8,1147.3 727.1,1147.4 727.7,1147.5 728.3,1147.5 728.9,1149.1 729.2,1149.3 730.4,1150.1 731.7,1148.2 732.9,1144.3 733.2,1144.6 733.8,1146.2 734.4,1146.2 735.0,1146.0 735.3,1146.0 736.5,1138.9 737.8,1148.5 739.0,1147.7 740.2,1150.9 741.4,1142.0 742.7,1139.5 743.9,1140.6 744.2,1141.2 744.8,1145.4 745.4,1145.4 746.0,1149.2 746.3,1149.7 747.5,1150.9 748.8,1147.4 750.0,1150.8 751.2,1147.6 752.4,1147.6 753.7,1150.5 754.9,1148.2 755.2,1147.7 755.8,1144.4 756.4,1144.4 757.0,1142.9 757.3,1142.6 758.5,1132.5 758.9,1133.0 759.5,1136.7 760.1,1136.7 760.7,1146.7 761.0,1148.0 762.2,1136.7 763.4,1133.7 763.8,1134.4 764.4,1139.8 765.0,1139.8 765.6,1146.5 765.9,1147.4 767.1,1146.7 768.3,1145.0 769.5,1145.3 770.8,1144.1 771.1,1144.3 771.7,1146.0 772.3,1146.0 772.9,1147.4 773.2,1147.5 774.4,1147.6 775.7,1149.2 776.0,1148.7 776.6,1145.2 777.2,1145.2 777.8,1147.4 778.1,1147.7 779.3,1143.7 780.6,1146.4 781.8,1146.7 782.1,1146.8 782.7,1147.4 783.3,1147.4 783.9,1148.8 784.2,1149.0 785.4,1150.4 786.7,1150.5 787.9,1147.3 788.2,1146.7 788.8,1142.1 789.4,1142.1 790.0,1149.2 790.3,1150.2 791.6,1150.9 792.8,1150.3 794.0,1143.0 794.3,1143.7 794.9,1148.7 795.5,1148.7 796.1,1147.7 796.4,1147.6 797.7,1145.6 798.9,1147.4 800.1,1150.9 801.3,1147.5 801.7,1146.7 802.3,1141.1 802.9,1141.1 803.5,1142.1 803.8,1142.2 805.0,1150.9 806.2,1150.8 807.4,1149.5 808.7,1149.3 809.0,1148.9 809.6,1145.3 810.2,1145.3 810.8,1147.5 811.1,1147.8 812.3,1146.4 813.6,1147.7 813.9,1147.4 814.5,1145.6 815.1,1145.6 815.7,1136.1 816.0,1134.7 817.2,1131.0 818.4,1136.0 819.7,1138.7 820.9,1140.4 822.1,1138.5 822.4,1138.1 823.0,1134.8 823.6,1134.8 824.2,1140.0 824.6,1140.7 825.8,1141.6 827.0,1144.6 828.2,1147.8 828.5,1147.7 829.1,1146.9 829.7,1146.9 830.3,1143.4 830.7,1142.9 831.9,1149.7 833.1,1149.8 834.3,1148.9 835.6,1142.9 836.8,1146.7 838.0,1150.9 839.2,1150.9 839.5,1150.9 840.1,1150.9 840.7,1150.9 841.3,1147.4 841.7,1147.0 842.9,1150.7 844.1,1147.9 845.3,1150.9 846.6,1145.7 846.9,1144.3 847.5,1133.5 848.1,1133.5 848.7,1139.6 849.0,1140.4 850.2,1149.7 851.4,1149.8 852.7,1148.1 853.0,1147.5 853.6,1143.3 854.2,1143.3 854.8,1143.3 855.1,1143.3 856.3,1148.8 857.6,1150.6 858.8,1148.5 860.0,1145.6 861.2,1148.5 861.6,1148.6 862.2,1149.2 862.8,1149.2 863.4,1148.2 863.7,1148.1 864.9,1148.9 866.1,1146.1 867.3,1146.9 867.7,1147.0 868.3,1147.4 868.9,1147.4 869.5,1148.9 869.8,1149.1 871.0,1148.5 872.2,1148.7 873.5,1145.8 873.8,1146.3 874.4,1149.9 875.0,1149.9 875.6,1148.2 875.9,1147.9 877.1,1146.6 878.3,1137.8 879.6,1131.0 879.9,1131.1 880.5,1131.5 881.1,1131.5 881.7,1144.9 882.0,1146.7 883.2,1145.8 883.6,1144.8 884.2,1137.7 884.8,1137.7 885.4,1145.9 885.7,1147.0 886.9,1150.5 888.1,1146.0 889.3,1147.5 889.7,1147.3 890.3,1145.6 890.9,1145.6 891.5,1143.4 891.8,1143.1 893.0,1149.1 894.2,1150.5 895.5,1147.3 896.7,1147.3 897.9,1145.9 899.1,1148.5 900.3,1144.7 900.7,1145.1 901.3,1148.5 901.9,1148.5 902.5,1147.9 902.8,1147.8 904.0,1149.4 905.2,1143.0 906.5,1139.8 906.8,1140.0 907.4,1141.5 908.0,1141.5 908.6,1143.4 908.9,1143.6 910.1,1144.0 911.3,1150.0 911.7,1149.4 912.3,1144.6 912.9,1144.6 913.5,1146.6 913.8,1146.9 915.0,1140.8 915.3,1140.7 915.9,1140.1 916.5,1140.1 917.1,1142.7 917.5,1143.1 917.8,1142.7 918.4,1139.5 919.0,1139.5 919.6,1144.7 919.9,1145.4 921.1,1147.6 921.4,1147.5 922.0,1146.7 922.6,1146.7 923.2,1149.0 923.6,1149.3 923.9,1148.7 924.5,1144.1 925.1,1144.1 925.7,1142.1 926.0,1141.8 927.2,1143.1 928.5,1145.7 928.8,1145.9 929.4,1146.9 930.0,1146.9 930.6,1149.4 930.9,1149.7 932.1,1148.5 933.4,1150.9 934.6,1150.1 935.8,1150.7 937.0,1145.0 937.3,1145.1 937.9,1145.8 938.5,1145.8 939.1,1149.3 939.5,1149.8 940.7,1146.7 941.9,1150.9 942.2,1150.0 942.8,1143.6 943.4,1143.6 944.0,1145.3 944.4,1145.5 945.6,1148.1 946.8,1147.3 948.0,1144.7 948.3,1145.3 948.9,1149.6 949.5,1149.6 950.1,1147.8 950.5,1147.6 951.7,1147.0 952.9,1146.1 954.1,1147.2 954.5,1147.1 955.1,1146.7 955.7,1146.7 956.3,1144.5 956.6,1144.2 957.8,1147.2 959.0,1150.9 960.2,1144.2 960.6,1144.9 961.2,1150.2 961.8,1150.2 962.4,1146.0 962.7,1145.4 963.9,1145.6 965.1,1150.9 966.4,1149.0 967.6,1150.1 968.8,1141.8 969.1,1139.4 969.7,1121.9 970.3,1121.9 970.9,1141.6 971.2,1144.3 972.5,1147.2 973.7,1150.9 974.9,1143.2 976.1,1148.2 977.4,1148.9 978.6,1148.6 979.8,1142.4 981.0,1137.0 981.3,1137.9 981.9,1144.8 982.5,1144.8 983.1,1148.0 983.5,1148.5 984.7,1149.6 985.0,1148.0 985.6,1136.2 986.2,1136.2 986.8,1143.8 987.1,1144.9 988.4,1142.1 989.6,1134.9 990.8,1130.4 991.1,1130.1 991.7,1128.0 992.3,1128.0 992.9,1139.8 993.2,1141.4 994.5,1147.2 995.7,1138.3 996.9,1138.5 998.1,1138.0 999.4,1140.8 1000.6,1134.0 1000.9,1134.7 1001.5,1140.2 1002.1,1140.2 1002.7,1145.0 1003.0,1145.6 1004.2,1143.3 1005.5,1149.1 1006.7,1149.3 1007.9,1150.9 1009.1,1145.2 1009.5,1145.1 1010.1,1144.4 1010.7,1144.4 1011.3,1146.1 1011.6,1146.4 1012.8,1150.9 1014.0,1143.0 1014.4,1142.0 1015.0,1134.6 1015.6,1134.6 1016.2,1143.0 1016.5,1144.1 1017.7,1150.0 1018.9,1144.6 1020.1,1150.0 1021.4,1147.0 1021.7,1146.6 1022.3,1143.1 1022.9,1143.1 1023.5,1149.9 1023.8,1150.9 1025.0,1145.2 1026.3,1148.9 1027.5,1150.9 1028.7,1144.1 1029.9,1143.7 1031.1,1150.1 1032.4,1146.9 1032.7,1146.3 1033.3,1142.5 1033.9,1142.5 1034.5,1143.3 1034.8,1143.4 1036.0,1147.5 1037.3,1143.0 1038.5,1144.0 1039.7,1139.1 1040.0,1139.9 1040.6,1146.0 1041.2,1146.0 1041.8,1144.6 1042.1,1144.4 1043.4,1146.9 1044.6,1137.3 1045.8,1133.5 1047.0,1132.7 1047.4,1134.1 1048.0,1144.7 1048.6,1144.7 1049.2,1148.7 1049.5,1149.3 1050.7,1149.3 1051.9,1140.7 1053.1,1143.5 1054.4,1146.7 1055.6,1145.8 1056.8,1146.7 1057.1,1145.9 1057.7,1139.7 1058.3,1139.7 1058.9,1141.6 1059.3,1141.9 1059.6,1141.8 1060.2,1141.0 1060.8,1141.0 1061.4,1144.3 1061.7,1144.8 1062.9,1140.8 1064.1,1145.2 1065.4,1147.0 1066.6,1149.0 1067.8,1149.3 1069.0,1144.5 1070.3,1147.0 1071.5,1150.2 1072.7,1140.8 1073.0,1141.4 1073.6,1145.8 1074.2,1145.8 1074.8,1146.5 1075.1,1146.5 1076.4,1149.6 1076.7,1148.8 1077.3,1142.6 1077.9,1142.6 1078.5,1148.3 1078.8,1149.0 1080.0,1150.6 1081.3,1150.9 1082.5,1149.5 1083.7,1146.3 1084.9,1149.6 1086.2,1143.1 1087.4,1141.5 1087.7,1140.6 1088.3,1133.7 1088.9,1133.7 1089.5,1136.5 1089.8,1136.9 1091.0,1139.5 1091.4,1138.5 1092.0,1131.3 1092.6,1131.3 1093.2,1139.6 1093.5,1140.7 1094.7,1150.9 1095.9,1148.3 1097.2,1147.9 1098.4,1150.0 1099.6,1149.2 1100.8,1144.2 1101.1,1143.6 1101.7,1139.5 1102.3,1139.5 1102.9,1144.2 1103.3,1144.9 1104.5,1144.9 1105.7,1143.6 1106.9,1143.5 1108.2,1150.8 1109.4,1148.9 1109.7,1148.5 1110.3,1146.3 1110.9,1146.3 1111.5,1150.1 1111.8,1150.6 1113.0,1147.4 1114.3,1149.6 1114.6,1149.4 1115.2,1147.6 1115.8,1147.6 1116.4,1147.4 1116.7,1147.4 1117.9,1146.7 1119.2,1145.1 1120.4,1148.0 1121.6,1146.0 1122.8,1141.6 1124.0,1131.9 1125.3,1136.9 1126.5,1149.9 1127.7,1148.1 1128.9,1147.1 1130.2,1149.8 1130.5,1149.7 1131.1,1148.7 1131.7,1148.7 1132.3,1145.7 1132.6,1145.3 1132.9,1145.0 1133.5,1142.5 1134.1,1142.5 1134.7,1146.2 1135.0,1146.7 1136.3,1149.5 1137.5,1144.7 1138.7,1142.5 1139.9,1148.9 1140.3,1147.1 1140.9,1133.4 1141.5,1133.4 1142.1,1144.6 1142.4,1146.1 1143.6,1150.8 1144.8,1150.8 1146.0,1147.1 1146.4,1146.9 1147.0,1145.7 1147.6,1145.7 1148.2,1144.9 1148.5,1144.8 1148.8,1144.3 1149.4,1140.6 1150.0,1140.6 1150.6,1138.0 1150.9,1137.7 1152.2,1147.6 1153.4,1150.4 1154.6,1150.1 1155.8,1145.1 1157.0,1148.3 1157.4,1148.2 1158.0,1147.0 1158.6,1147.0 1159.2,1148.3 1159.5,1148.5 1160.7,1144.3 1161.0,1144.3 1161.6,1144.5 1162.2,1144.5 1162.8,1147.2 1163.2,1147.6 1164.4,1150.6 1165.6,1146.1 1166.8,1147.1 1168.1,1148.3 1169.3,1141.1 1170.5,1138.3 1171.7,1123.0 1172.9,1126.8 1174.2,1139.7 1175.4,1144.5 1175.7,1144.5 1176.3,1144.6 1176.9,1144.6 1177.5,1144.8 1177.8,1144.8 1178.2,1144.6 1178.8,1143.0 1179.4,1143.0 1180.0,1146.1 1180.3,1146.6 1181.5,1139.6 1182.7,1130.0 1183.9,1138.8 1185.2,1148.2 1186.4,1146.3 1187.6,1147.1 1188.8,1148.6 1189.2,1148.3 1189.8,1146.4 1190.4,1146.4 1191.0,1148.1 1191.3,1148.3 1192.5,1144.3 1193.7,1145.9 1194.9,1145.2 1195.3,1144.4 1195.9,1138.8 1196.5,1138.8 1197.1,1135.8 1197.4,1135.4 1198.6,1136.5 1199.8,1137.8 1200.2,1137.1 1200.8,1131.6 1201.4,1131.6 1202.0,1128.0 1202.3,1127.5 1203.5,1128.8 1204.7,1125.1 1205.0,1124.6 1205.6,1121.3 1206.2,1121.3 1206.8,1121.2 1207.2,1121.1 1208.4,1119.4 1209.6,1116.6 1210.8,1113.7 1212.1,1109.9 1213.3,1107.4 1213.6,1106.5 1214.2,1099.7 1214.8,1099.7 1215.4,1104.7 1215.7,1105.4 1216.9,1114.2 1218.2,1124.5 1218.5,1124.5 1219.1,1124.5 1219.7,1124.5 1220.3,1133.7 1220.6,1134.9 1221.8,1139.3 1223.1,1142.6 1224.3,1135.9 1224.6,1136.1 1225.2,1137.2 1225.8,1137.2 1226.4,1147.2 1226.7,1148.5 1227.9,1146.4 1229.2,1147.0 1229.5,1146.8 1230.1,1145.1 1230.7,1145.1 1231.3,1147.5 1231.6,1147.8 1232.8,1148.2 1234.1,1140.2 1235.3,1141.7 1235.6,1141.7 1236.2,1141.3 1236.8,1141.3 1237.4,1141.3 1237.7,1141.3 1239.0,1146.2 1240.2,1148.5 1241.4,1144.8 1242.6,1146.1 1242.9,1145.9 1243.5,1144.5 1244.1,1144.5 1244.7,1146.7 1245.1,1147.0 1246.3,1140.2 1247.5,1145.9 1248.7,1142.9 1250.0,1148.3 1251.2,1147.0 1252.4,1144.8 1252.7,1144.6 1253.3,1142.8 1253.9,1142.8 1254.5,1146.2 1254.8,1146.6 1256.1,1147.6 1256.4,1147.1 1257.0,1143.9 1257.6,1143.9 1258.2,1144.4 1258.5,1144.5 1259.7,1144.2 1261.0,1133.1 1262.2,1138.4 1263.4,1147.6 1263.7,1146.8 1264.3,1140.6 1264.9,1140.6 1265.5,1144.7 1265.8,1145.3 1267.1,1143.5 1267.4,1143.6 1268.0,1144.3 1268.6,1144.3 1269.2,1148.9 1269.5,1149.5 1270.7,1140.5 1272.0,1141.0 1273.2,1145.4 1274.4,1142.0 1275.6,1140.2 1276.8,1143.4 1278.1,1149.3 1279.3,1150.0 1280.5,1150.8 1281.7,1146.5 1283.0,1149.3 1283.3,1148.5 1283.9,1142.5 1284.5,1142.5 1285.1,1145.6 1285.4,1146.0 1286.6,1143.3 1287.8,1138.9 1288.2,1139.7 1288.8,1145.9 1289.4,1145.9 1290.0,1147.7 1290.3,1148.0 1291.5,1148.8 1292.7,1143.0 1294.0,1147.5 1295.2,1147.5 1296.4,1147.9 1297.6,1147.0 1297.9,1146.7 1298.5,1144.6 1299.1,1144.6 1299.7,1145.5 1300.1,1145.7 1301.3,1145.0 1302.5,1145.3 1303.7,1138.8 1305.0,1142.3 1306.2,1146.8 1307.4,1150.8 1308.6,1144.6 1308.9,1144.8 1309.5,1146.2 1310.1,1146.2 1310.7,1148.3 1311.1,1148.5 1312.3,1149.2 1313.5,1149.1 1313.8,1149.0 1314.4,1148.5 1315.0,1148.5 1315.6,1150.4 1316.0,1150.7 1317.2,1149.2 1318.4,1149.0 1319.6,1144.0 1320.9,1150.7 1322.1,1150.4 1323.3,1144.0 1324.5,1145.9 1324.8,1144.9 1325.4,1137.5 1326.0,1137.5 1326.6,1140.6 1327.0,1141.0 1328.2,1136.2 1329.4,1139.1 1329.7,1139.4 1330.3,1141.5 1330.9,1141.5 1331.5,1149.3 1331.9,1150.3 1333.1,1149.3 1334.3,1150.9 1335.5,1146.3 1336.7,1144.6 1338.0,1148.4 1338.3,1148.0 1338.9,1145.1 1339.5,1145.1 1340.1,1140.4 1340.4,1139.8 1341.6,1143.4 1342.9,1150.8 1344.1,1150.2 1344.4,1149.9 1345.0,1147.6 1345.6,1147.6 1346.2,1146.7 1346.5,1146.5 1347.7,1143.4 1349.0,1140.6 1349.3,1140.6 1349.9,1140.2 1350.5,1140.2 1351.1,1144.8 1351.4,1145.4 1352.6,1145.1 1353.9,1142.8 1355.1,1150.9 1355.4,1150.5 1356.0,1147.6 1356.6,1147.6 1357.2,1147.8 1357.5,1147.8 1358.7,1140.0 1360.0,1142.6 1361.2,1141.5 1361.5,1141.5 1362.1,1141.1 1362.7,1141.1 1363.3,1149.1 1363.6,1150.2 1364.9,1143.6 1366.1,1148.3 1367.3,1149.8 1367.6,1149.5 1368.2,1147.3 1368.8,1147.3 1369.4,1149.3 1369.7,1149.6 1371.0,1149.2 1371.3,1148.9 1371.9,1146.4 1372.5,1146.4 1373.1,1142.7 1373.4,1142.2 1374.6,1146.9 1375.0,1146.7 1375.6,1145.4 1376.2,1145.4 1376.8,1148.8 1377.1,1149.3 1378.3,1149.7 1379.5,1143.4 1379.8,1143.6 1380.4,1145.4 1381.0,1145.4 1381.6,1141.8 1382.0,1141.3 1383.2,1139.2 1384.4,1138.3 1384.7,1137.8 1385.3,1133.7 1385.9,1133.7 1386.5,1143.1 1386.9,1144.4 1388.1,1149.9 1389.3,1147.3 1390.5,1148.1 1390.9,1148.0 1391.5,1147.4 1392.1,1147.4 1392.7,1148.9 1393.0,1149.1 1394.2,1147.6 1394.5,1147.4 1395.1,1146.4 1395.7,1146.4 1396.3,1147.6 1396.6,1147.8 1397.9,1148.5 1399.1,1150.3 1400.3,1140.8 1401.5,1147.9 1402.8,1149.5 1404.0,1147.4 1404.3,1147.4 1404.9,1147.4 1405.5,1147.4 1406.1,1146.8 1406.4,1146.7 1407.6,1141.2 1408.9,1142.8 1410.1,1148.4 1410.4,1147.0 1411.0,1136.9 1411.6,1136.9 1412.2,1134.8 1412.5,1134.5 1413.8,1142.5 1415.0,1148.8 1416.2,1145.5 1416.5,1145.3 1417.1,1143.4 1417.7,1143.4 1418.3,1147.9 1418.6,1148.5 1419.9,1143.7 1421.1,1145.7 1422.3,1150.9 1423.5,1148.0 1423.9,1148.0 1424.5,1148.0 1425.1,1148.0 1425.7,1149.8 1426.0,1150.1 1427.2,1150.2"/>
<path class="d" stroke="#37AD6B" d="M204.8,1140.4 206.0,1150.5 207.2,1145.9 207.6,1145.3 208.2,1140.4 208.8,1140.4 209.4,1139.3 209.7,1139.2 210.9,1139.6 211.2,1139.7 211.8,1140.6 212.4,1140.6 213.0,1144.6 213.4,1145.1 214.6,1146.8 215.8,1145.7 217.0,1142.1 218.2,1148.1 218.6,1147.4 219.2,1142.3 219.8,1142.3 220.4,1145.4 220.7,1145.8 221.9,1146.7 223.1,1150.3 224.4,1148.9 224.7,1148.3 225.3,1143.4 225.9,1143.4 226.5,1140.4 226.8,1140.0 228.0,1137.3 229.2,1140.4 230.5,1150.7 231.7,1150.0 232.9,1149.3 234.1,1141.2 235.4,1147.1 236.6,1147.8 237.8,1144.1 238.1,1142.7 238.7,1132.3 239.3,1132.3 239.9,1143.0 240.2,1144.5 241.5,1146.9 242.7,1148.2 243.9,1145.8 244.2,1145.0 244.8,1138.4 245.4,1138.4 246.0,1144.5 246.4,1145.4 247.6,1145.4 248.8,1143.0 249.1,1142.1 249.7,1136.1 250.3,1136.1 250.9,1144.2 251.3,1145.4 252.5,1147.1 253.7,1147.1 254.9,1145.2 256.1,1147.8 256.5,1147.1 257.1,1141.9 257.7,1141.9 258.3,1141.3 258.6,1141.2 259.8,1147.5 261.0,1147.9 262.3,1147.9 263.5,1147.9 264.7,1150.0 265.9,1143.5 267.1,1147.6 268.4,1147.3 268.7,1146.7 269.3,1142.3 269.9,1142.3 270.5,1147.8 270.8,1148.6 272.0,1144.9 272.4,1143.8 273.0,1135.7 273.6,1135.7 274.2,1138.7 274.5,1139.1 275.7,1150.6 276.9,1148.0 278.1,1145.3 279.4,1144.7 280.6,1146.2 281.8,1144.7 283.0,1140.0 284.3,1146.8 285.5,1147.6 285.8,1146.4 286.4,1137.5 287.0,1137.5 287.6,1143.1 287.9,1143.8 289.1,1149.5 290.4,1137.9 290.7,1138.3 291.3,1141.3 291.9,1141.3 292.5,1147.0 292.8,1147.8 294.0,1143.1 295.3,1147.3 296.5,1142.8 297.7,1146.0 298.9,1145.7 300.1,1144.4 300.5,1142.9 301.1,1131.7 301.7,1131.7 302.3,1144.7 302.6,1146.4 303.8,1150.0 305.0,1148.2 306.3,1141.4 307.5,1143.2 308.7,1146.7 309.9,1149.8 311.1,1150.1 311.5,1149.4 312.1,1143.8 312.7,1143.8 313.3,1147.2 313.6,1147.7 314.8,1145.9 316.0,1141.0 317.3,1147.7 318.5,1147.5 319.7,1146.4 320.9,1139.8 322.2,1133.5 323.4,1129.2 324.6,1135.0 325.8,1146.1 326.1,1144.8 326.7,1135.7 327.3,1135.7 327.9,1141.1 328.3,1141.9 329.5,1149.6 330.7,1149.5 331.9,1144.6 333.2,1145.8 334.4,1143.5 335.6,1138.2 335.9,1137.0 336.5,1128.0 337.1,1128.0 337.7,1136.6 338.0,1137.7 339.3,1149.5 340.5,1150.8 341.7,1143.9 342.0,1143.4 342.6,1139.8 343.2,1139.8 343.8,1145.7 344.2,1146.5 345.4,1141.2 346.6,1144.5 347.8,1137.9 349.0,1137.4 350.3,1148.3 350.6,1147.1 351.2,1138.5 351.8,1138.5 352.4,1145.3 352.7,1146.2 353.9,1150.9 355.2,1146.1 356.4,1146.9 357.6,1146.0 358.8,1142.8 360.0,1137.5 361.3,1147.1 361.6,1146.4 362.2,1140.5 362.8,1140.5 363.4,1145.3 363.7,1146.0 364.9,1145.2 366.2,1145.2 367.4,1147.1 368.6,1146.6 369.8,1141.3 371.0,1140.9 371.4,1140.6 372.0,1138.2 372.6,1138.2 373.2,1145.3 373.5,1146.3 374.7,1146.5 375.9,1143.8 377.2,1148.0 378.4,1142.6 379.6,1146.7 380.8,1147.1 381.1,1145.9 381.7,1137.1 382.3,1137.1 382.9,1146.7 383.3,1148.0 384.5,1141.8 385.7,1147.7 386.0,1146.2 386.6,1135.3 387.2,1135.3 387.8,1136.1 388.2,1136.2 389.4,1137.2 390.6,1139.8 391.8,1145.7 393.0,1139.1 394.3,1136.9 395.5,1141.7 396.7,1145.9 397.9,1148.5 399.2,1149.6 400.4,1144.4 400.7,1144.2 401.3,1142.4 401.9,1142.4 402.5,1144.4 402.8,1144.7 404.1,1148.1 405.3,1147.8 405.6,1147.1 406.2,1141.9 406.8,1141.9 407.4,1141.8 407.7,1141.8 408.9,1150.9 410.2,1144.4 411.4,1148.3 412.6,1146.9 413.8,1149.1 415.1,1139.6 416.3,1127.8 417.5,1136.7 418.7,1136.3 419.9,1143.8 421.2,1144.0 422.4,1142.1 423.6,1135.8 424.8,1140.4 425.2,1140.6 425.8,1142.0 426.4,1142.0 427.0,1144.6 427.3,1145.0 427.6,1143.8 428.2,1135.4 428.8,1135.4 429.4,1137.8 429.7,1138.1 430.9,1147.2 432.2,1142.5 433.4,1148.2 434.6,1142.0 435.8,1146.9 437.1,1144.7 437.4,1142.7 438.0,1127.8 438.6,1127.8 439.2,1141.9 439.5,1143.8 440.7,1141.8 441.9,1149.0 443.2,1146.7 444.4,1149.5 445.6,1147.2 446.8,1146.9 448.1,1143.5 448.4,1142.7 449.0,1136.7 449.6,1136.7 450.2,1143.7 450.5,1144.7 451.7,1150.2 452.9,1149.4 454.2,1148.3 454.5,1147.2 455.1,1139.3 455.7,1139.3 456.3,1147.1 456.6,1148.2 457.8,1148.7 459.1,1147.4 460.3,1150.5 461.5,1149.9 462.7,1144.9 463.9,1149.9 465.2,1147.8 466.4,1145.7 467.6,1150.8 468.8,1143.2 470.1,1141.5 470.4,1140.2 471.0,1130.0 471.6,1130.0 472.2,1140.1 472.5,1141.5 473.7,1145.1 474.1,1144.9 474.7,1143.6 475.3,1143.6 475.9,1147.9 476.2,1148.5 477.4,1148.8 478.6,1147.8 478.9,1147.3 479.5,1143.4 480.1,1143.4 480.7,1140.5 481.1,1140.1 482.3,1145.0 483.5,1144.9 483.8,1144.3 484.4,1140.0 485.0,1140.0 485.6,1145.4 486.0,1146.2 487.2,1147.8 488.4,1147.8 489.6,1144.5 489.9,1143.8 490.5,1138.9 491.1,1138.9 491.7,1142.4 492.1,1142.9 493.3,1143.3 494.5,1138.6 495.7,1145.5 497.0,1150.3 498.2,1146.1 499.4,1142.9 500.6,1137.5 500.9,1137.3 501.5,1135.4 502.1,1135.4 502.7,1142.1 503.1,1143.0 504.3,1145.5 505.5,1144.6 506.7,1146.0 508.0,1148.0 509.2,1147.3 509.5,1146.2 510.1,1137.6 510.7,1137.6 511.3,1145.8 511.6,1147.0 512.8,1147.5 514.1,1143.2 514.4,1142.8 515.0,1140.0 515.6,1140.0 516.2,1144.3 516.5,1144.9 517.7,1146.6 519.0,1141.6 520.2,1139.4 521.4,1139.4 522.6,1143.5 523.8,1145.6 524.2,1145.5 524.8,1144.9 525.4,1144.9 526.0,1148.0 526.3,1148.4 527.5,1148.9 528.7,1144.6 530.0,1145.1 531.2,1146.7 532.4,1146.4 532.7,1145.9 533.3,1142.1 533.9,1142.1 534.5,1146.5 534.8,1147.1 536.1,1146.9 537.3,1143.0 538.5,1139.6 539.7,1146.1 540.1,1145.5 540.7,1140.9 541.3,1140.9 541.9,1143.2 542.2,1143.5 543.4,1143.9 544.6,1144.0 545.8,1147.3 547.1,1142.6 548.3,1146.5 549.5,1145.3 549.8,1145.0 550.4,1142.5 551.0,1142.5 551.6,1140.0 552.0,1139.7 553.2,1141.8 554.4,1141.0 555.6,1146.1 556.9,1144.3 557.2,1144.0 557.8,1141.5 558.4,1141.5 559.0,1147.6 559.3,1148.5 560.5,1148.3 561.7,1142.2 563.0,1143.3 564.2,1143.7 564.5,1143.8 565.1,1144.6 565.7,1144.6 566.3,1147.9 566.6,1148.3 567.9,1146.4 569.1,1145.7 569.4,1144.4 570.0,1135.2 570.6,1135.2 571.2,1142.4 571.5,1143.4 572.7,1148.7 574.0,1141.6 575.2,1138.2 576.4,1139.0 576.7,1138.6 577.3,1136.2 577.9,1136.2 578.5,1142.0 578.9,1142.8 580.1,1145.8 581.3,1145.6 582.5,1145.5 583.7,1145.1 584.1,1145.3 584.7,1146.8 585.3,1146.8 585.9,1148.3 586.2,1148.5 587.4,1148.7 588.6,1148.1 589.9,1148.7 591.1,1146.3 591.4,1145.5 592.0,1140.0 592.6,1140.0 593.2,1142.4 593.5,1142.8 594.7,1146.8 596.0,1144.2 597.2,1140.8 597.5,1140.1 598.1,1135.2 598.7,1135.2 599.3,1141.7 599.6,1142.6 600.9,1147.4 601.2,1147.2 601.8,1146.1 602.4,1146.1 603.0,1147.1 603.3,1147.2 604.5,1143.4 605.7,1146.1 607.0,1136.8 608.2,1146.9 609.4,1147.2 609.7,1147.1 610.3,1146.6 610.9,1146.6 611.5,1142.3 611.9,1141.7 613.1,1144.5 614.3,1150.0 615.5,1148.4 615.8,1148.1 616.4,1145.9 617.0,1145.9 617.6,1145.3 618.0,1145.2 619.2,1147.2 620.4,1142.0 621.6,1136.3 622.0,1136.6 622.6,1138.6 623.2,1138.6 623.8,1145.7 624.1,1146.7 625.3,1148.6 626.5,1144.8 627.8,1142.8 629.0,1145.9 629.3,1144.9 629.9,1138.0 630.5,1138.0 631.1,1145.6 631.4,1146.7 632.6,1148.4 633.9,1147.6 635.1,1146.9 636.3,1150.9 637.5,1150.5 638.8,1146.8 640.0,1144.5 641.2,1144.8 641.5,1143.9 642.1,1137.4 642.7,1137.4 643.3,1141.6 643.6,1142.2 644.9,1143.9 646.1,1142.4 647.3,1147.1 648.5,1144.8 649.8,1149.4 650.1,1148.6 650.7,1142.2 651.3,1142.2 651.9,1144.3 652.2,1144.5 652.5,1144.3 653.1,1142.2 653.7,1142.2 654.3,1146.4 654.6,1147.0 655.9,1148.3 657.1,1145.9 658.3,1143.6 659.5,1140.5 660.8,1136.0 661.1,1135.5 661.7,1131.8 662.3,1131.8 662.9,1141.1 663.2,1142.3 664.4,1149.0 665.6,1150.3 666.9,1139.9 667.2,1138.9 667.8,1131.0 668.4,1131.0 669.0,1140.3 669.3,1141.6 670.5,1145.4 671.8,1150.4 673.0,1147.9 674.2,1148.6 675.4,1141.4 675.7,1141.1 676.3,1139.2 676.9,1139.2 677.5,1143.9 677.9,1144.6 679.1,1139.4 680.3,1145.3 681.5,1148.9 682.8,1150.6 684.0,1146.2 685.2,1145.1 685.5,1143.6 686.1,1132.7 686.7,1132.7 687.3,1141.4 687.6,1142.6 688.9,1143.6 689.2,1143.7 689.8,1144.8 690.4,1144.8 691.0,1146.4 691.3,1146.7 692.5,1147.9 693.8,1146.2 695.0,1147.6 696.2,1147.6 696.5,1147.3 697.1,1144.6 697.7,1144.6 698.3,1146.5 698.6,1146.8 699.9,1149.9 701.1,1147.6 701.4,1147.4 702.0,1146.2 702.6,1146.2 703.2,1147.9 703.5,1148.1 704.8,1140.0 706.0,1149.7 707.2,1148.4 708.4,1145.7 709.7,1149.2 710.9,1145.5 711.2,1145.5 711.8,1145.6 712.4,1145.6 713.0,1148.8 713.3,1149.2 714.5,1141.7 715.8,1149.0 717.0,1148.2 717.3,1147.1 717.9,1138.5 718.5,1138.5 719.1,1141.6 719.4,1142.0 720.7,1141.2 721.0,1140.9 721.6,1138.5 722.2,1138.5 722.8,1141.9 723.1,1142.4 724.3,1144.5 725.5,1142.8 726.8,1139.5 727.1,1139.3 727.7,1137.7 728.3,1137.7 728.9,1145.6 729.2,1146.7 730.4,1144.9 731.7,1141.0 732.9,1146.6 733.2,1145.8 733.8,1140.1 734.4,1140.1 735.0,1146.3 735.3,1147.1 736.5,1142.7 737.8,1144.6 739.0,1141.2 740.2,1146.1 741.4,1146.4 742.7,1148.3 743.9,1145.6 744.2,1145.3 744.8,1142.4 745.4,1142.4 746.0,1148.5 746.3,1149.3 747.5,1150.7 748.8,1143.7 750.0,1150.9 751.2,1146.6 752.4,1149.8 753.7,1149.6 754.9,1147.9 755.2,1146.8 755.8,1138.6 756.4,1138.6 757.0,1142.7 757.3,1143.3 758.5,1148.7 758.9,1148.2 759.5,1144.4 760.1,1144.4 760.7,1142.7 761.0,1142.5 762.2,1140.7 763.4,1143.5 763.8,1142.6 764.4,1136.4 765.0,1136.4 765.6,1146.3 765.9,1147.7 767.1,1149.3 768.3,1147.8 769.5,1144.6 770.8,1146.9 771.1,1146.6 771.7,1145.0 772.3,1145.0 772.9,1143.8 773.2,1143.6 774.4,1144.7 775.7,1148.5 776.0,1147.7 776.6,1142.1 777.2,1142.1 777.8,1142.5 778.1,1142.6 779.3,1145.9 780.6,1145.5 781.8,1146.6 782.1,1145.9 782.7,1140.8 783.3,1140.8 783.9,1148.0 784.2,1148.9 785.4,1150.6 786.7,1150.9 787.9,1139.9 788.2,1139.9 788.8,1140.1 789.4,1140.1 790.0,1146.3 790.3,1147.2 791.6,1144.1 792.8,1143.7 794.0,1143.6 794.3,1143.1 794.9,1139.3 795.5,1139.3 796.1,1146.8 796.4,1147.8 797.7,1145.5 798.9,1146.7 800.1,1146.7 801.3,1144.8 801.7,1143.5 802.3,1134.4 802.9,1134.4 803.5,1141.5 803.8,1142.5 805.0,1150.5 806.2,1150.6 807.4,1149.0 808.7,1145.3 809.0,1144.7 809.6,1140.4 810.2,1140.4 810.8,1142.2 811.1,1142.4 812.3,1138.3 813.6,1147.7 813.9,1146.9 814.5,1140.7 815.1,1140.7 815.7,1141.5 816.0,1141.6 817.2,1142.2 818.4,1145.8 819.7,1141.1 820.9,1144.6 822.1,1136.2 822.4,1135.9 823.0,1133.8 823.6,1133.8 824.2,1136.8 824.6,1137.2 825.8,1136.2 827.0,1144.0 828.2,1148.4 828.5,1147.6 829.1,1141.6 829.7,1141.6 830.3,1147.0 830.7,1147.8 831.9,1143.2 833.1,1147.4 834.3,1149.2 835.6,1143.9 836.8,1148.9 838.0,1150.9 839.2,1150.1 839.5,1149.8 840.1,1147.6 840.7,1147.6 841.3,1137.7 841.7,1136.4 842.9,1144.5 844.1,1147.0 845.3,1147.6 846.6,1140.6 846.9,1138.4 847.5,1122.6 848.1,1122.6 848.7,1138.8 849.0,1141.1 850.2,1146.7 851.4,1144.2 852.7,1146.7 853.0,1146.0 853.6,1141.1 854.2,1141.1 854.8,1141.6 855.1,1141.7 856.3,1146.2 857.6,1149.3 858.8,1144.4 860.0,1149.6 861.2,1147.1 861.6,1146.8 862.2,1144.8 862.8,1144.8 863.4,1148.6 863.7,1149.1 864.9,1144.3 866.1,1146.8 867.3,1147.7 867.7,1147.4 868.3,1145.2 868.9,1145.2 869.5,1145.9 869.8,1146.0 871.0,1148.0 872.2,1147.6 873.5,1150.2 873.8,1150.0 874.4,1148.6 875.0,1148.6 875.6,1145.2 875.9,1144.7 877.1,1146.9 878.3,1141.3 879.6,1146.2 879.9,1145.8 880.5,1142.9 881.1,1142.9 881.7,1143.8 882.0,1144.0 883.2,1146.8 883.6,1146.0 884.2,1140.3 884.8,1140.3 885.4,1146.0 885.7,1146.8 886.9,1148.9 888.1,1135.1 889.3,1138.2 889.7,1138.2 890.3,1138.8 890.9,1138.8 891.5,1144.9 891.8,1145.8 893.0,1148.6 894.2,1147.3 895.5,1146.1 896.7,1143.2 897.9,1144.2 899.1,1147.8 900.3,1144.1 900.7,1144.5 901.3,1147.2 901.9,1147.2 902.5,1146.2 902.8,1146.1 904.0,1149.6 905.2,1150.0 906.5,1146.0 906.8,1145.6 907.4,1142.7 908.0,1142.7 908.6,1146.6 908.9,1147.1 910.1,1147.3 911.3,1148.0 911.7,1147.5 912.3,1143.9 912.9,1143.9 913.5,1146.1 913.8,1146.4 915.0,1141.7 915.3,1141.8 915.9,1142.5 916.5,1142.5 917.1,1140.5 917.5,1140.2 917.8,1139.8 918.4,1136.5 919.0,1136.5 919.6,1137.1 919.9,1137.2 921.1,1142.5 921.4,1142.1 922.0,1138.4 922.6,1138.4 923.2,1145.3 923.6,1146.2 923.9,1145.5 924.5,1140.2 925.1,1140.2 925.7,1145.7 926.0,1146.5 927.2,1144.0 928.5,1140.9 928.8,1140.7 929.4,1139.2 930.0,1139.2 930.6,1145.2 930.9,1146.0 932.1,1145.3 933.4,1149.3 934.6,1146.9 935.8,1150.2 937.0,1146.1 937.3,1145.4 937.9,1140.1 938.5,1140.1 939.1,1145.4 939.5,1146.2 940.7,1145.4 941.9,1149.3 942.2,1148.7 942.8,1144.9 943.4,1144.9 944.0,1145.1 944.4,1145.2 945.6,1147.3 946.8,1144.0 948.0,1146.4 948.3,1146.4 948.9,1146.2 949.5,1146.2 950.1,1140.7 950.5,1140.0 951.7,1144.0 952.9,1143.4 954.1,1143.0 954.5,1143.3 955.1,1145.5 955.7,1145.5 956.3,1143.8 956.6,1143.6 957.8,1144.2 959.0,1150.9 960.2,1144.8 960.6,1144.9 961.2,1146.2 961.8,1146.2 962.4,1143.7 962.7,1143.3 963.9,1146.5 965.1,1148.6 966.4,1150.9 967.6,1149.4 968.8,1140.6 969.1,1139.0 969.7,1127.5 970.3,1127.5 970.9,1142.7 971.2,1144.8 972.5,1144.7 973.7,1149.2 974.9,1142.5 976.1,1147.7 977.4,1146.4 978.6,1145.4 979.8,1148.3 981.0,1142.7 981.3,1141.6 981.9,1133.9 982.5,1133.9 983.1,1146.6 983.5,1148.4 984.7,1147.3 985.0,1145.5 985.6,1131.8 986.2,1131.8 986.8,1142.2 987.1,1143.6 988.4,1144.0 989.6,1148.0 990.8,1149.8 991.1,1149.0 991.7,1143.2 992.3,1143.2 992.9,1147.2 993.2,1147.8 994.5,1146.2 995.7,1141.9 996.9,1143.8 998.1,1141.0 999.4,1144.2 1000.6,1144.5 1000.9,1144.8 1001.5,1146.5 1002.1,1146.5 1002.7,1143.2 1003.0,1142.7 1004.2,1142.2 1005.5,1148.7 1006.7,1148.6 1007.9,1140.2 1009.1,1136.6 1009.5,1135.2 1010.1,1124.6 1010.7,1124.6 1011.3,1143.1 1011.6,1145.6 1012.8,1150.0 1014.0,1134.1 1014.4,1134.0 1015.0,1133.2 1015.6,1133.2 1016.2,1145.0 1016.5,1146.6 1017.7,1148.2 1018.9,1142.8 1020.1,1150.5 1021.4,1144.5 1021.7,1144.0 1022.3,1140.7 1022.9,1140.7 1023.5,1141.3 1023.8,1141.4 1025.0,1140.8 1026.3,1147.7 1027.5,1147.1 1028.7,1140.0 1029.9,1141.0 1031.1,1150.5 1032.4,1143.8 1032.7,1142.6 1033.3,1133.3 1033.9,1133.3 1034.5,1143.5 1034.8,1144.9 1036.0,1147.5 1037.3,1141.6 1038.5,1147.8 1039.7,1144.6 1040.0,1144.2 1040.6,1141.2 1041.2,1141.2 1041.8,1142.5 1042.1,1142.7 1043.4,1137.2 1044.6,1140.5 1045.8,1149.0 1047.0,1142.4 1047.4,1142.6 1048.0,1144.5 1048.6,1144.5 1049.2,1145.6 1049.5,1145.8 1050.7,1140.8 1051.9,1134.7 1053.1,1145.5 1054.4,1143.0 1055.6,1141.3 1056.8,1144.5 1057.1,1143.6 1057.7,1137.4 1058.3,1137.4 1058.9,1144.3 1059.3,1145.3 1059.6,1142.7 1060.2,1124.0 1060.8,1124.0 1061.4,1138.6 1061.7,1140.6 1062.9,1143.8 1064.1,1142.7 1065.4,1148.6 1066.6,1148.6 1067.8,1142.3 1069.0,1148.6 1070.3,1147.9 1071.5,1148.9 1072.7,1144.5 1073.0,1143.9 1073.6,1139.5 1074.2,1139.5 1074.8,1146.1 1075.1,1147.0 1076.4,1142.2 1076.7,1140.8 1077.3,1130.9 1077.9,1130.9 1078.5,1140.4 1078.8,1141.6 1080.0,1146.5 1081.3,1145.7 1082.5,1150.4 1083.7,1148.1 1084.9,1150.0 1086.2,1148.9 1087.4,1137.9 1087.7,1137.1 1088.3,1131.4 1088.9,1131.4 1089.5,1142.7 1089.8,1144.2 1091.0,1144.9 1091.4,1143.3 1092.0,1131.3 1092.6,1131.3 1093.2,1137.2 1093.5,1138.0 1094.7,1142.2 1095.9,1147.9 1097.2,1145.9 1098.4,1144.2 1099.6,1145.1 1100.8,1144.9 1101.1,1143.8 1101.7,1135.7 1102.3,1135.7 1102.9,1144.6 1103.3,1145.8 1104.5,1146.2 1105.7,1146.8 1106.9,1149.2 1108.2,1150.1 1109.4,1149.8 1109.7,1149.4 1110.3,1146.7 1110.9,1146.7 1111.5,1146.8 1111.8,1146.8 1113.0,1146.4 1114.3,1149.8 1114.6,1149.6 1115.2,1148.0 1115.8,1148.0 1116.4,1148.3 1116.7,1148.3 1117.9,1144.9 1119.2,1147.9 1120.4,1148.0 1121.6,1148.6 1122.8,1147.7 1124.0,1145.1 1125.3,1148.4 1126.5,1148.9 1127.7,1147.5 1128.9,1149.0 1130.2,1148.3 1130.5,1147.2 1131.1,1139.7 1131.7,1139.7 1132.3,1143.4 1132.6,1144.0 1132.9,1143.6 1133.5,1140.8 1134.1,1140.8 1134.7,1140.6 1135.0,1140.6 1136.3,1143.7 1137.5,1148.5 1138.7,1145.5 1139.9,1143.7 1140.3,1142.9 1140.9,1136.8 1141.5,1136.8 1142.1,1144.9 1142.4,1146.0 1143.6,1150.6 1144.8,1150.6 1146.0,1148.0 1146.4,1147.2 1147.0,1141.5 1147.6,1141.5 1148.2,1144.2 1148.5,1144.6 1148.8,1144.0 1149.4,1139.7 1150.0,1139.7 1150.6,1141.7 1150.9,1142.0 1152.2,1146.6 1153.4,1149.1 1154.6,1148.3 1155.8,1145.3 1157.0,1143.9 1157.4,1143.5 1158.0,1140.4 1158.6,1140.4 1159.2,1146.7 1159.5,1147.5 1160.7,1144.4 1161.0,1143.9 1161.6,1140.7 1162.2,1140.7 1162.8,1145.7 1163.2,1146.4 1164.4,1149.0 1165.6,1145.6 1166.8,1149.1 1168.1,1147.2 1169.3,1148.9 1170.5,1146.5 1171.7,1133.5 1172.9,1129.4 1174.2,1138.6 1175.4,1138.3 1175.7,1138.6 1176.3,1141.0 1176.9,1141.0 1177.5,1140.9 1177.8,1140.8 1178.2,1140.8 1178.8,1140.8 1179.4,1140.8 1180.0,1142.2 1180.3,1142.4 1181.5,1143.4 1182.7,1144.3 1183.9,1144.9 1185.2,1138.0 1186.4,1139.3 1187.6,1144.0 1188.8,1143.8 1189.2,1143.1 1189.8,1138.0 1190.4,1138.0 1191.0,1139.2 1191.3,1139.4 1192.5,1136.0 1193.7,1135.5 1194.9,1130.9 1195.3,1131.1 1195.9,1132.0 1196.5,1132.0 1197.1,1133.5 1197.4,1133.7 1198.6,1130.9 1199.8,1124.2 1200.2,1123.7 1200.8,1119.8 1201.4,1119.8 1202.0,1114.7 1202.3,1114.0 1203.5,1101.7 1204.7,1085.8 1205.0,1084.3 1205.6,1073.4 1206.2,1073.4 1206.8,1073.4 1207.2,1073.3 1208.4,1073.1 1209.6,1076.8 1210.8,1082.6 1212.1,1087.1 1213.3,1088.9 1213.6,1088.1 1214.2,1082.7 1214.8,1082.7 1215.4,1087.0 1215.7,1087.6 1216.9,1089.5 1218.2,1090.4 1218.5,1090.7 1219.1,1092.8 1219.7,1092.8 1220.3,1104.8 1220.6,1106.4 1221.8,1111.9 1223.1,1122.1 1224.3,1128.1 1224.6,1128.2 1225.2,1129.6 1225.8,1129.6 1226.4,1132.0 1226.7,1132.4 1227.9,1134.1 1229.2,1139.7 1229.5,1139.8 1230.1,1140.5 1230.7,1140.5 1231.3,1144.1 1231.6,1144.5 1232.8,1145.3 1234.1,1144.2 1235.3,1145.6 1235.6,1145.4 1236.2,1143.9 1236.8,1143.9 1237.4,1140.6 1237.7,1140.2 1239.0,1135.4 1240.2,1145.7 1241.4,1146.3 1242.6,1144.7 1242.9,1144.5 1243.5,1142.8 1244.1,1142.8 1244.7,1137.5 1245.1,1136.8 1246.3,1126.7 1247.5,1140.9 1248.7,1143.6 1250.0,1146.8 1251.2,1143.5 1252.4,1141.9 1252.7,1141.1 1253.3,1135.5 1253.9,1135.5 1254.5,1137.0 1254.8,1137.2 1256.1,1139.6 1256.4,1139.6 1257.0,1139.5 1257.6,1139.5 1258.2,1142.7 1258.5,1143.1 1259.7,1141.2 1261.0,1146.7 1262.2,1145.5 1263.4,1144.3 1263.7,1143.8 1264.3,1140.1 1264.9,1140.1 1265.5,1142.6 1265.8,1142.9 1267.1,1136.8 1267.4,1137.6 1268.0,1143.4 1268.6,1143.4 1269.2,1145.3 1269.5,1145.6 1270.7,1146.0 1272.0,1146.0 1273.2,1147.7 1274.4,1149.5 1275.6,1144.3 1276.8,1142.2 1278.1,1146.8 1279.3,1148.8 1280.5,1146.8 1281.7,1136.5 1283.0,1135.3 1283.3,1135.7 1283.9,1138.3 1284.5,1138.3 1285.1,1145.7 1285.4,1146.7 1286.6,1145.0 1287.8,1144.2 1288.2,1144.3 1288.8,1144.8 1289.4,1144.8 1290.0,1145.1 1290.3,1145.1 1291.5,1145.5 1292.7,1143.2 1294.0,1144.2 1295.2,1146.0 1296.4,1147.2 1297.6,1146.1 1297.9,1145.0 1298.5,1137.3 1299.1,1137.3 1299.7,1146.1 1300.1,1147.3 1301.3,1144.7 1302.5,1147.6 1303.7,1141.1 1305.0,1142.9 1306.2,1146.9 1307.4,1149.1 1308.6,1138.3 1308.9,1138.1 1309.5,1137.0 1310.1,1137.0 1310.7,1146.1 1311.1,1147.3 1312.3,1149.2 1313.5,1148.7 1313.8,1148.4 1314.4,1146.6 1315.0,1146.6 1315.6,1149.2 1316.0,1149.6 1317.2,1147.0 1318.4,1149.5 1319.6,1149.4 1320.9,1146.9 1322.1,1142.1 1323.3,1140.4 1324.5,1145.4 1324.8,1144.6 1325.4,1139.3 1326.0,1139.3 1326.6,1141.9 1327.0,1142.2 1328.2,1141.9 1329.4,1150.1 1329.7,1149.9 1330.3,1147.8 1330.9,1147.8 1331.5,1149.2 1331.9,1149.4 1333.1,1147.6 1334.3,1143.2 1335.5,1143.6 1336.7,1147.3 1338.0,1142.8 1338.3,1142.5 1338.9,1139.9 1339.5,1139.9 1340.1,1145.2 1340.4,1145.9 1341.6,1147.4 1342.9,1147.6 1344.1,1148.1 1344.4,1148.0 1345.0,1147.1 1345.6,1147.1 1346.2,1146.5 1346.5,1146.5 1347.7,1144.6 1349.0,1149.4 1349.3,1148.6 1349.9,1142.3 1350.5,1142.3 1351.1,1145.8 1351.4,1146.3 1352.6,1148.4 1353.9,1143.7 1355.1,1142.3 1355.4,1142.8 1356.0,1146.7 1356.6,1146.7 1357.2,1142.9 1357.5,1142.4 1358.7,1139.5 1360.0,1134.8 1361.2,1139.4 1361.5,1139.0 1362.1,1136.1 1362.7,1136.1 1363.3,1136.0 1363.6,1136.0 1364.9,1139.0 1366.1,1147.9 1367.3,1146.2 1367.6,1146.1 1368.2,1145.1 1368.8,1145.1 1369.4,1146.9 1369.7,1147.2 1371.0,1144.5 1371.3,1144.3 1371.9,1142.6 1372.5,1142.6 1373.1,1147.0 1373.4,1147.6 1374.6,1147.0 1375.0,1146.1 1375.6,1139.1 1376.2,1139.1 1376.8,1145.3 1377.1,1146.1 1378.3,1149.4 1379.5,1146.3 1379.8,1145.9 1380.4,1143.0 1381.0,1143.0 1381.6,1146.9 1382.0,1147.4 1383.2,1150.2 1384.4,1146.2 1384.7,1144.7 1385.3,1133.7 1385.9,1133.7 1386.5,1137.4 1386.9,1137.9 1388.1,1141.7 1389.3,1143.6 1390.5,1143.5 1390.9,1143.3 1391.5,1142.4 1392.1,1142.4 1392.7,1144.9 1393.0,1145.3 1394.2,1147.0 1394.5,1146.5 1395.1,1143.3 1395.7,1143.3 1396.3,1146.1 1396.6,1146.5 1397.9,1148.7 1399.1,1147.7 1400.3,1146.0 1401.5,1148.7 1402.8,1146.0 1404.0,1147.7 1404.3,1147.5 1404.9,1145.6 1405.5,1145.6 1406.1,1139.6 1406.4,1138.8 1407.6,1145.2 1408.9,1146.3 1410.1,1146.8 1410.4,1147.0 1411.0,1148.0 1411.6,1148.0 1412.2,1146.0 1412.5,1145.7 1413.8,1149.6 1415.0,1145.5 1416.2,1148.8 1416.5,1148.4 1417.1,1145.5 1417.7,1145.5 1418.3,1146.3 1418.6,1146.4 1419.9,1141.6 1421.1,1148.0 1422.3,1149.5 1423.5,1148.8 1423.9,1148.5 1424.5,1146.2 1425.1,1146.2 1425.7,1142.8 1426.0,1142.4 1427.2,1145.3"/>
</g>
<g clip-path="url(#c3)">
<path class="d" stroke="#515151" d="M204.8,1531.4 206.0,1530.9 207.2,1531.0 208.5,1531.6 209.7,1531.4 210.9,1531.9 212.1,1531.9 213.4,1530.5 214.6,1528.8 215.8,1531.1 217.0,1529.0 218.2,1531.6 219.5,1530.9 220.7,1532.9 221.9,1532.0 223.1,1530.9 224.4,1532.7 225.6,1532.0 226.8,1531.1 228.0,1531.1 229.2,1532.7 230.5,1532.8 231.7,1532.0 232.9,1532.1 234.1,1531.7 235.4,1532.2 236.6,1531.4 237.8,1531.0 239.0,1533.0 240.2,1531.5 241.5,1531.8 242.7,1531.2 243.9,1532.3 245.1,1532.0 246.4,1532.0 247.6,1532.7 248.8,1532.0 250.0,1532.8 251.3,1533.0 252.5,1532.7 253.7,1533.0 254.9,1533.0 256.1,1532.7 257.4,1531.7 258.6,1531.6 259.8,1532.1 261.0,1532.2 262.3,1531.4 263.5,1533.0 264.7,1532.6 265.9,1532.7 267.1,1533.0 268.4,1533.0 269.6,1532.6 270.8,1532.5 272.0,1532.8 273.3,1531.2 274.5,1531.4 275.7,1531.1 276.9,1530.6 278.1,1533.0 279.4,1531.6 280.6,1532.0 281.8,1532.9 283.0,1532.1 284.3,1532.1 285.5,1532.4 286.7,1530.7 287.9,1531.8 289.1,1532.8 290.4,1530.9 291.6,1532.1 292.8,1531.5 294.0,1531.4 295.3,1531.5 296.5,1531.4 297.7,1533.0 298.9,1531.4 300.1,1532.0 301.4,1530.9 302.6,1532.3 303.8,1532.5 305.0,1532.2 306.3,1532.7 307.5,1532.5 308.7,1532.0 309.9,1531.2 311.1,1532.1 312.4,1530.8 313.6,1531.5 314.8,1531.7 316.0,1531.3 317.3,1530.9 318.5,1530.7 319.7,1531.9 320.9,1530.9 322.2,1532.3 323.4,1532.1 324.6,1532.6 325.8,1532.4 327.0,1531.6 328.3,1532.2 329.5,1531.7 330.7,1531.0 331.9,1531.1 333.2,1531.5 334.4,1531.7 335.6,1532.3 336.8,1530.6 338.0,1533.0 339.3,1533.0 340.5,1533.0 341.7,1532.6 342.9,1532.9 344.2,1531.7 345.4,1533.0 346.6,1530.6 347.8,1529.7 349.0,1530.7 350.3,1532.3 351.5,1533.0 352.7,1532.6 353.9,1533.0 355.2,1533.0 356.4,1533.0 357.6,1533.0 358.8,1531.8 360.0,1533.0 361.3,1532.3 362.5,1533.0 363.7,1532.6 364.9,1532.2 366.2,1530.8 367.4,1532.3 368.6,1532.1 369.8,1531.6 371.0,1530.5 372.3,1532.0 373.5,1531.2 374.7,1532.6 375.9,1533.0 377.2,1531.8 378.4,1532.8 379.6,1532.8 380.8,1531.9 382.0,1532.9 383.3,1532.5 384.5,1532.2 385.7,1531.8 386.9,1531.1 388.2,1531.0 389.4,1532.0 390.6,1531.7 391.8,1532.2 393.0,1532.9 394.3,1531.6 395.5,1532.3 396.7,1531.0 397.9,1532.1 399.2,1532.6 400.4,1531.6 401.6,1532.3 402.8,1532.8 404.1,1530.9 405.3,1531.2 406.5,1531.0 407.7,1531.1 408.9,1531.9 410.2,1532.9 411.4,1532.7 412.6,1532.6 413.8,1531.7 415.1,1532.6 416.3,1531.0 417.5,1531.4 418.7,1530.6 419.9,1532.5 421.2,1532.1 422.4,1532.0 423.6,1532.0 424.8,1531.6 426.1,1532.1 427.3,1532.6 428.5,1530.6 429.7,1532.5 430.9,1531.5 432.2,1530.9 433.4,1532.3 434.6,1531.5 435.8,1531.4 437.1,1531.8 438.3,1531.5 439.5,1531.5 440.7,1531.3 441.9,1531.0 443.2,1529.8 444.4,1528.8 445.6,1529.0 446.8,1528.8 448.1,1529.5 449.3,1529.2 450.5,1529.2 451.7,1529.1 452.9,1529.3 454.2,1529.5 455.4,1529.7 456.6,1530.2 457.8,1530.5 459.1,1530.8 460.3,1530.8 461.5,1531.2 462.7,1531.6 463.9,1531.8 465.2,1531.3 466.4,1531.3 467.6,1531.1 468.8,1530.9 470.1,1532.4 471.3,1532.5 472.5,1532.5 473.7,1532.6 475.0,1532.6 476.2,1532.7 477.4,1532.0 478.6,1531.9 479.8,1532.6 481.1,1531.0 482.3,1531.2 483.5,1532.3 484.7,1532.8 486.0,1532.8 487.2,1532.8 488.4,1532.8 489.6,1532.8 490.8,1532.8 492.1,1532.8 493.3,1532.9 494.5,1532.4 495.7,1532.9 497.0,1532.9 498.2,1532.9 499.4,1532.9 500.6,1532.4 501.8,1532.5 503.1,1532.9 504.3,1532.9 505.5,1532.5 506.7,1531.6 508.0,1532.3 509.2,1532.8 510.4,1532.1 511.6,1532.3 512.8,1532.9 514.1,1532.0 515.3,1532.3 516.5,1532.6 517.7,1530.8 519.0,1531.5 520.2,1532.9 521.4,1531.8 522.6,1532.2 523.8,1532.5 525.1,1532.5 526.3,1532.9 527.5,1532.9 528.7,1531.9 530.0,1531.7 531.2,1532.4 532.4,1532.0 533.6,1532.5 534.8,1532.5 536.1,1532.0 537.3,1532.4 538.5,1531.9 539.7,1532.9 541.0,1532.6 542.2,1532.8 543.4,1532.4 544.6,1531.6 545.8,1532.2 547.1,1532.9 548.3,1532.8 549.5,1532.9 550.7,1532.5 552.0,1532.8 553.2,1532.7 554.4,1532.5 555.6,1532.1 556.9,1532.7 558.1,1531.8 559.3,1531.6 560.5,1530.8 561.7,1531.2 563.0,1531.1 564.2,1531.5 565.4,1531.1 566.6,1532.2 567.9,1532.9 569.1,1531.6 570.3,1532.5 571.5,1532.9 572.7,1531.4 574.0,1531.8 575.2,1531.8 576.4,1531.8 577.6,1532.3 578.9,1531.3 580.1,1531.9 581.3,1532.2 582.5,1532.1 583.7,1532.9 585.0,1532.2 586.2,1532.9 587.4,1532.5 588.6,1532.6 589.9,1532.0 591.1,1532.2 592.3,1529.9 593.5,1532.5 594.7,1530.9 596.0,1531.5 597.2,1532.3 598.4,1530.4 599.6,1531.6 600.9,1529.9 602.1,1531.0 603.3,1531.0 604.5,1531.0 605.7,1532.4 607.0,1532.5 608.2,1530.5 609.4,1531.1 610.6,1532.4 611.9,1531.9 613.1,1531.7 614.3,1530.4 615.5,1530.7 616.7,1531.5 618.0,1531.0 619.2,1532.7 620.4,1532.3 621.6,1532.8 622.9,1532.8 624.1,1531.1 625.3,1532.6 626.5,1530.6 627.8,1530.3 629.0,1530.7 630.2,1530.8 631.4,1528.7 632.6,1530.3 633.9,1530.0 635.1,1531.1 636.3,1530.7 637.5,1531.1 638.8,1532.0 640.0,1531.4 641.2,1530.3 642.4,1531.5 643.6,1531.3 644.9,1531.9 646.1,1531.6 647.3,1531.4 648.5,1531.8 649.8,1531.5 651.0,1530.0 652.2,1531.3 653.4,1531.0 654.6,1528.7 655.9,1528.9 657.1,1529.1 658.3,1528.0 659.5,1527.1 660.8,1527.2 662.0,1526.8 663.2,1526.9 664.4,1526.9 665.6,1527.1 666.9,1527.2 668.1,1527.6 669.3,1526.9 670.5,1527.9 671.8,1528.4 673.0,1529.4 674.2,1529.8 675.4,1530.0 676.6,1530.7 677.9,1531.0 679.1,1531.2 680.3,1531.5 681.5,1531.6 682.8,1531.9 684.0,1530.8 685.2,1531.0 686.4,1531.6 687.6,1531.0 688.9,1531.0 690.1,1531.7 691.3,1531.9 692.5,1532.1 693.8,1531.2 695.0,1531.1 696.2,1531.1 697.4,1531.2 698.6,1529.3 699.9,1530.5 701.1,1529.6 702.3,1529.6 703.5,1529.1 704.8,1531.4 706.0,1530.3 707.2,1531.1 708.4,1531.2 709.7,1531.9 710.9,1531.8 712.1,1530.6 713.3,1531.3 714.5,1532.8 715.8,1532.7 717.0,1532.9 718.2,1532.8 719.4,1532.9 720.7,1532.9 721.9,1532.9 723.1,1532.9 724.3,1532.9 725.5,1532.9 726.8,1532.9 728.0,1532.3 729.2,1532.5 730.4,1532.9 731.7,1532.9 732.9,1532.9 734.1,1532.9 735.3,1532.8 736.5,1532.0 737.8,1530.9 739.0,1531.1 740.2,1530.6 741.4,1532.1 742.7,1532.9 743.9,1532.6 745.1,1532.9 746.3,1532.2 747.5,1532.2 748.8,1530.9 750.0,1532.3 751.2,1531.9 752.4,1530.6 753.7,1531.8 754.9,1532.9 756.1,1531.2 757.3,1531.7 758.5,1532.0 759.8,1532.2 761.0,1533.0 762.2,1532.9 763.4,1532.5 764.7,1532.9 765.9,1533.0 767.1,1531.3 768.3,1533.0 769.5,1532.3 770.8,1532.1 772.0,1532.9 773.2,1532.9 774.4,1531.1 775.7,1532.9 776.9,1530.7 778.1,1532.8 779.3,1532.3 780.6,1533.0 781.8,1533.0 783.0,1531.4 784.2,1532.0 785.4,1531.7 786.7,1533.0 787.9,1532.3 789.1,1532.9 790.3,1531.9 791.6,1531.3 792.8,1531.1 794.0,1531.0 795.2,1532.0 796.4,1531.5 797.7,1532.6 798.9,1531.5 800.1,1532.6 801.3,1531.6 802.6,1532.6 803.8,1531.6 805.0,1531.8 806.2,1532.9 807.4,1531.4 808.7,1532.6 809.9,1532.9 811.1,1531.3 812.3,1530.7 813.6,1531.5 814.8,1532.8 816.0,1532.8 817.2,1532.8 818.4,1532.7 819.7,1532.6 820.9,1532.1 822.1,1530.7 823.3,1531.0 824.6,1530.4 825.8,1529.1 827.0,1528.3 828.2,1527.6 829.4,1527.4 830.7,1528.2 831.9,1528.6 833.1,1529.3 834.3,1529.5 835.6,1529.4 836.8,1529.3 838.0,1530.9 839.2,1530.7 840.4,1530.5 841.7,1530.4 842.9,1529.3 844.1,1529.0 845.3,1530.1 846.6,1529.0 847.8,1530.5 849.0,1530.6 850.2,1531.5 851.4,1530.3 852.7,1531.0 853.9,1531.9 855.1,1531.9 856.3,1532.7 857.6,1532.7 858.8,1532.4 860.0,1532.1 861.2,1532.9 862.5,1532.3 863.7,1532.1 864.9,1531.8 866.1,1532.0 867.3,1532.2 868.6,1531.0 869.8,1532.7 871.0,1532.2 872.2,1531.5 873.5,1530.8 874.7,1531.8 875.9,1532.1 877.1,1532.2 878.3,1532.5 879.6,1531.6 880.8,1531.5 882.0,1531.2 883.2,1533.0 884.5,1532.6 885.7,1533.0 886.9,1532.6 888.1,1530.8 889.3,1531.7 890.6,1533.0 891.8,1532.4 893.0,1533.0 894.2,1533.0 895.5,1532.8 896.7,1531.9 897.9,1532.5 899.1,1531.3 900.3,1533.0 901.6,1532.5 902.8,1533.0 904.0,1531.3 905.2,1532.5 906.5,1532.0 907.7,1531.7 908.9,1531.9 910.1,1532.0 911.3,1531.5 912.6,1532.1 913.8,1532.3 915.0,1532.3 916.2,1533.0 917.5,1530.9 918.7,1532.9 919.9,1531.4 921.1,1532.4 922.3,1531.9 923.6,1533.0 924.8,1532.2 926.0,1532.6 927.2,1532.2 928.5,1531.7 929.7,1533.0 930.9,1532.8 932.1,1533.0 933.4,1531.9 934.6,1531.3 935.8,1532.5 937.0,1532.4 938.2,1532.2 939.5,1533.0 940.7,1530.8 941.9,1532.3 943.1,1533.0 944.4,1531.5 945.6,1531.9 946.8,1531.6 948.0,1531.9 949.2,1532.6 950.5,1531.4 951.7,1532.7 952.9,1531.8 954.1,1532.7 955.4,1532.7 956.6,1531.3 957.8,1532.4 959.0,1530.6 960.2,1532.8 961.5,1531.2 962.7,1532.2 963.9,1531.1 965.1,1530.9 966.4,1532.7 967.6,1531.0 968.8,1531.9 970.0,1532.5 971.2,1531.1 972.5,1531.4 973.7,1531.3 974.9,1530.5 976.1,1530.8 977.4,1531.6 978.6,1532.4 979.8,1530.9 981.0,1532.6 982.2,1533.0 983.5,1531.2 984.7,1531.3 985.9,1533.0 987.1,1532.4 988.4,1533.0 989.6,1532.0 990.8,1533.0 992.0,1533.0 993.2,1532.4 994.5,1533.0 995.7,1532.5 996.9,1533.0 998.1,1531.6 999.4,1532.2 1000.6,1532.9 1001.8,1532.9 1003.0,1532.3 1004.2,1532.9 1005.5,1531.6 1006.7,1531.3 1007.9,1532.2 1009.1,1530.9 1010.4,1532.1 1011.6,1530.7 1012.8,1530.5 1014.0,1532.9 1015.3,1532.4 1016.5,1532.6 1017.7,1531.7 1018.9,1531.8 1020.1,1531.6 1021.4,1530.4 1022.6,1530.9 1023.8,1530.3 1025.0,1531.2 1026.3,1529.8 1027.5,1529.4 1028.7,1529.3 1029.9,1528.5 1031.1,1527.9 1032.4,1527.7 1033.6,1528.1 1034.8,1527.9 1036.0,1526.1 1037.3,1527.6 1038.5,1529.7 1039.7,1528.0 1040.9,1531.1 1042.1,1531.5 1043.4,1531.5 1044.6,1531.5 1045.8,1529.7 1047.0,1532.0 1048.3,1531.6 1049.5,1532.5 1050.7,1532.3 1051.9,1530.0 1053.1,1530.7 1054.4,1530.9 1055.6,1530.5 1056.8,1531.6 1058.0,1531.9 1059.3,1532.9 1060.5,1532.9 1061.7,1532.6 1062.9,1532.1 1064.1,1532.2 1065.4,1531.1 1066.6,1530.5 1067.8,1532.1 1069.0,1533.0 1070.3,1532.9 1071.5,1530.8 1072.7,1530.6 1073.9,1530.9 1075.1,1530.8 1076.4,1530.8 1077.6,1531.9 1078.8,1531.8 1080.0,1531.9 1081.3,1532.7 1082.5,1531.0 1083.7,1531.1 1084.9,1530.9 1086.2,1531.7 1087.4,1531.1 1088.6,1531.2 1089.8,1532.0 1091.0,1532.6 1092.3,1532.4 1093.5,1531.7 1094.7,1531.4 1095.9,1530.6 1097.2,1532.0 1098.4,1531.7 1099.6,1531.3 1100.8,1533.0 1102.0,1532.1 1103.3,1532.7 1104.5,1532.2 1105.7,1530.9 1106.9,1531.2 1108.2,1530.6 1109.4,1531.8 1110.6,1531.2 1111.8,1532.1 1113.0,1531.8 1114.3,1529.4 1115.5,1531.3 1116.7,1531.4 1117.9,1531.7 1119.2,1532.1 1120.4,1530.2 1121.6,1532.2 1122.8,1529.8 1124.0,1531.7 1125.3,1530.4 1126.5,1531.2 1127.7,1531.8 1128.9,1531.7 1130.2,1531.0 1131.4,1532.6 1132.6,1533.0 1133.8,1531.3 1135.0,1533.0 1136.3,1532.2 1137.5,1530.2 1138.7,1532.1 1139.9,1531.2 1141.2,1530.7 1142.4,1531.2 1143.6,1531.7 1144.8,1533.0 1146.0,1531.2 1147.3,1531.9 1148.5,1531.1 1149.7,1531.8 1150.9,1529.9 1152.2,1532.1 1153.4,1532.5 1154.6,1533.0 1155.8,1532.4 1157.0,1532.9 1158.3,1532.1 1159.5,1532.1 1160.7,1531.0 1161.9,1532.9 1163.2,1532.9 1164.4,1532.5 1165.6,1531.7 1166.8,1531.0 1168.1,1532.5 1169.3,1532.6 1170.5,1531.6 1171.7,1532.6 1172.9,1532.3 1174.2,1532.9 1175.4,1532.9 1176.6,1532.9 1177.8,1530.8 1179.1,1531.6 1180.3,1531.5 1181.5,1532.9 1182.7,1532.2 1183.9,1532.8 1185.2,1532.8 1186.4,1532.8 1187.6,1532.8 1188.8,1530.7 1190.1,1532.7 1191.3,1532.7 1192.5,1532.2 1193.7,1532.0 1194.9,1531.3 1196.2,1532.3 1197.4,1530.3 1198.6,1529.6 1199.8,1530.9 1201.1,1530.8 1202.3,1530.1 1203.5,1529.8 1204.7,1527.7 1205.9,1526.8 1207.2,1525.3 1208.4,1527.2 1209.6,1524.7 1210.8,1524.5 1212.1,1525.7 1213.3,1526.6 1214.5,1526.2 1215.7,1524.9 1216.9,1527.8 1218.2,1527.6 1219.4,1527.8 1220.6,1528.3 1221.8,1528.0 1223.1,1529.9 1224.3,1531.8 1225.5,1531.5 1226.7,1532.1 1227.9,1531.3 1229.2,1531.5 1230.4,1532.3 1231.6,1530.5 1232.8,1532.4 1234.1,1531.3 1235.3,1530.5 1236.5,1532.8 1237.7,1531.5 1239.0,1531.1 1240.2,1532.1 1241.4,1531.3 1242.6,1532.2 1243.8,1530.7 1245.1,1532.1 1246.3,1532.1 1247.5,1531.8 1248.7,1532.6 1250.0,1532.9 1251.2,1532.1 1252.4,1532.3 1253.6,1532.9 1254.8,1532.9 1256.1,1532.5 1257.3,1531.6 1258.5,1532.7 1259.7,1532.7 1261.0,1532.8 1262.2,1532.2 1263.4,1532.9 1264.6,1531.8 1265.8,1530.6 1267.1,1531.7 1268.3,1532.2 1269.5,1532.0 1270.7,1531.6 1272.0,1531.7 1273.2,1531.0 1274.4,1530.8 1275.6,1530.2 1276.8,1529.3 1278.1,1530.7 1279.3,1529.4 1280.5,1531.9 1281.7,1531.1 1283.0,1532.8 1284.2,1532.6 1285.4,1532.8 1286.6,1533.0 1287.8,1531.9 1289.1,1530.9 1290.3,1530.8 1291.5,1532.4 1292.7,1532.9 1294.0,1531.8 1295.2,1533.0 1296.4,1531.7 1297.6,1533.0 1298.8,1533.0 1300.1,1533.0 1301.3,1533.0 1302.5,1532.1 1303.7,1532.2 1305.0,1531.0 1306.2,1532.3 1307.4,1532.5 1308.6,1532.0 1309.8,1532.0 1311.1,1533.0 1312.3,1531.0 1313.5,1533.0 1314.7,1532.9 1316.0,1532.3 1317.2,1532.7 1318.4,1530.7 1319.6,1532.2 1320.9,1533.0 1322.1,1532.7 1323.3,1532.8 1324.5,1532.2 1325.7,1530.7 1327.0,1530.4 1328.2,1531.5 1329.4,1533.0 1330.6,1533.0 1331.9,1532.5 1333.1,1532.7 1334.3,1533.0 1335.5,1532.2 1336.7,1533.0 1338.0,1533.0 1339.2,1532.9 1340.4,1533.0 1341.6,1532.7 1342.9,1533.0 1344.1,1533.0 1345.3,1533.0 1346.5,1533.0 1347.7,1533.0 1349.0,1532.4 1350.2,1532.6 1351.4,1532.8 1352.6,1532.2 1353.9,1530.9 1355.1,1531.2 1356.3,1531.3 1357.5,1531.9 1358.7,1533.0 1360.0,1532.8 1361.2,1533.0 1362.4,1531.3 1363.6,1531.3 1364.9,1530.5 1366.1,1532.8 1367.3,1531.0 1368.5,1532.2 1369.7,1532.8 1371.0,1532.8 1372.2,1533.0 1373.4,1532.7 1374.6,1533.0 1375.9,1532.7 1377.1,1532.0 1378.3,1532.4 1379.5,1531.3 1380.7,1532.5 1382.0,1532.6 1383.2,1532.8 1384.4,1532.3 1385.6,1532.3 1386.9,1531.9 1388.1,1533.0 1389.3,1533.0 1390.5,1533.0 1391.8,1533.0 1393.0,1533.0 1394.2,1533.0 1395.4,1533.0 1396.6,1533.0 1397.9,1532.8 1399.1,1531.6 1400.3,1531.8 1401.5,1531.5 1402.8,1532.3 1404.0,1531.0 1405.2,1531.7 1406.4,1531.4 1407.6,1531.1 1408.9,1532.8 1410.1,1532.1 1411.3,1531.1 1412.5,1532.7 1413.8,1532.0 1415.0,1532.7 1416.2,1532.0 1417.4,1531.4 1418.6,1531.7 1419.9,1530.6 1421.1,1531.3 1422.3,1531.8 1423.5,1531.0 1424.8,1530.6 1426.0,1532.8 1427.2,1533.0"/>
<path class="d" stroke="#F14040" d="M204.8,1524.7 206.0,1524.1 207.2,1527.0 208.5,1523.7 209.7,1526.7 210.9,1525.2 212.1,1525.0 213.4,1527.6 214.6,1527.4 215.8,1526.3 217.0,1523.8 218.2,1526.6 219.5,1525.2 220.7,1526.4 221.9,1531.3 223.1,1530.8 224.4,1531.8 225.6,1527.8 226.8,1528.9 228.0,1529.1 229.2,1529.6 230.5,1528.7 231.7,1526.9 232.9,1528.1 234.1,1527.8 235.4,1527.8 236.6,1532.8 237.8,1529.7 239.0,1526.0 240.2,1532.8 241.5,1528.8 242.7,1528.6 243.9,1529.8 245.1,1532.0 246.4,1528.5 247.6,1527.7 248.8,1528.1 250.0,1526.1 251.3,1525.0 252.5,1526.3 253.7,1528.4 254.9,1531.4 256.1,1532.8 257.4,1530.2 258.6,1532.8 259.8,1532.8 261.0,1532.8 262.3,1532.8 263.5,1532.8 264.7,1532.8 265.9,1530.7 267.1,1532.0 268.4,1531.6 269.6,1530.5 270.8,1526.4 272.0,1532.6 273.3,1532.8 274.5,1531.4 275.7,1532.8 276.9,1532.8 278.1,1531.1 279.4,1525.8 280.6,1528.3 281.8,1530.0 283.0,1532.7 284.3,1527.8 285.5,1529.5 286.7,1530.8 287.9,1528.5 289.1,1530.4 290.4,1530.4 291.6,1528.9 292.8,1532.0 294.0,1530.7 295.3,1530.7 296.5,1529.5 297.7,1525.0 298.9,1529.5 300.1,1526.9 301.4,1525.2 302.6,1524.3 303.8,1523.2 305.0,1524.1 306.3,1522.4 307.5,1522.0 308.7,1522.2 309.9,1521.1 311.1,1520.8 312.4,1519.9 313.6,1520.3 314.8,1516.6 316.0,1518.5 317.3,1521.2 318.5,1518.9 319.7,1519.8 320.9,1518.2 322.2,1522.4 323.4,1526.0 324.6,1525.5 325.8,1528.1 327.0,1529.3 328.3,1525.2 329.5,1526.7 330.7,1526.4 331.9,1531.1 333.2,1530.5 334.4,1530.5 335.6,1532.5 336.8,1532.5 338.0,1531.3 339.3,1531.7 340.5,1528.7 341.7,1528.1 342.9,1529.4 344.2,1528.1 345.4,1528.0 346.6,1528.6 347.8,1528.0 349.0,1527.4 350.3,1532.2 351.5,1531.8 352.7,1532.5 353.9,1528.7 355.2,1530.9 356.4,1527.1 357.6,1528.1 358.8,1530.2 360.0,1526.7 361.3,1530.2 362.5,1529.2 363.7,1531.0 364.9,1527.6 366.2,1532.4 367.4,1526.6 368.6,1525.8 369.8,1524.3 371.0,1527.6 372.3,1526.7 373.5,1530.0 374.7,1527.6 375.9,1531.8 377.2,1529.7 378.4,1531.5 379.6,1526.8 380.8,1528.4 382.0,1527.8 383.3,1525.9 384.5,1526.1 385.7,1527.2 386.9,1529.5 388.2,1525.6 389.4,1528.5 390.6,1528.8 391.8,1529.5 393.0,1528.5 394.3,1527.9 395.5,1527.1 396.7,1524.8 397.9,1528.8 399.2,1528.4 400.4,1530.5 401.6,1523.0 402.8,1525.1 404.1,1523.9 405.3,1522.6 406.5,1523.9 407.7,1523.7 408.9,1524.1 410.2,1526.6 411.4,1528.4 412.6,1527.5 413.8,1526.5 415.1,1525.2 416.3,1528.0 417.5,1528.2 418.7,1527.4 419.9,1525.2 421.2,1527.6 422.4,1526.0 423.6,1526.2 424.8,1526.9 426.1,1523.4 427.3,1521.2 428.5,1524.9 429.7,1523.3 430.9,1521.2 432.2,1518.5 433.4,1518.8 434.6,1518.7 435.8,1511.9 437.1,1513.2 438.3,1509.7 439.5,1503.9 440.7,1505.1 441.9,1502.0 443.2,1498.0 444.4,1493.6 445.6,1489.8 446.8,1485.2 448.1,1482.7 449.3,1482.5 450.5,1481.7 451.7,1482.8 452.9,1476.5 454.2,1487.0 455.4,1491.4 456.6,1495.4 457.8,1500.1 459.1,1501.8 460.3,1507.6 461.5,1509.9 462.7,1512.1 463.9,1511.6 465.2,1518.3 466.4,1518.5 467.6,1522.0 468.8,1524.6 470.1,1525.6 471.3,1526.3 472.5,1527.0 473.7,1527.7 475.0,1528.2 476.2,1528.6 477.4,1529.1 478.6,1529.3 479.8,1529.7 481.1,1529.6 482.3,1529.9 483.5,1530.2 484.7,1530.4 486.0,1529.5 487.2,1530.7 488.4,1527.3 489.6,1529.9 490.8,1526.3 492.1,1531.0 493.3,1526.4 494.5,1528.3 495.7,1530.7 497.0,1530.2 498.2,1528.1 499.4,1527.7 500.6,1530.4 501.8,1527.3 503.1,1527.4 504.3,1527.5 505.5,1526.5 506.7,1531.8 508.0,1526.2 509.2,1531.1 510.4,1530.5 511.6,1530.1 512.8,1527.2 514.1,1527.0 515.3,1528.0 516.5,1526.3 517.7,1528.2 519.0,1529.3 520.2,1525.1 521.4,1524.5 522.6,1524.0 523.8,1527.5 525.1,1524.6 526.3,1531.4 527.5,1526.0 528.7,1528.2 530.0,1529.8 531.2,1531.2 532.4,1531.1 533.6,1528.9 534.8,1532.0 536.1,1529.9 537.3,1527.6 538.5,1525.8 539.7,1527.1 541.0,1528.2 542.2,1530.5 543.4,1532.3 544.6,1530.7 545.8,1530.4 547.1,1531.5 548.3,1530.8 549.5,1532.3 550.7,1532.3 552.0,1527.0 553.2,1531.8 554.4,1526.7 555.6,1530.9 556.9,1531.5 558.1,1532.2 559.3,1530.9 560.5,1530.3 561.7,1532.2 563.0,1529.4 564.2,1529.8 565.4,1528.8 566.6,1528.2 567.9,1527.7 569.1,1524.8 570.3,1527.2 571.5,1530.5 572.7,1529.8 574.0,1531.1 575.2,1528.9 576.4,1532.1 577.6,1532.0 578.9,1532.0 580.1,1527.6 581.3,1530.5 582.5,1527.5 583.7,1525.9 585.0,1529.1 586.2,1527.0 587.4,1530.0 588.6,1526.8 589.9,1529.1 591.1,1526.6 592.3,1528.3 593.5,1527.0 594.7,1522.8 596.0,1528.4 597.2,1528.9 598.4,1530.1 599.6,1530.8 600.9,1528.0 602.1,1526.3 603.3,1529.5 604.5,1526.0 605.7,1526.3 607.0,1523.1 608.2,1522.4 609.4,1527.0 610.6,1527.8 611.9,1528.3 613.1,1522.3 614.3,1523.7 615.5,1523.8 616.7,1521.3 618.0,1519.8 619.2,1517.9 620.4,1515.3 621.6,1513.0 622.9,1512.2 624.1,1513.0 625.3,1513.4 626.5,1512.5 627.8,1511.2 629.0,1516.4 630.2,1515.4 631.4,1516.0 632.6,1519.9 633.9,1517.5 635.1,1518.7 636.3,1519.6 637.5,1519.7 638.8,1517.0 640.0,1519.8 641.2,1517.2 642.4,1517.9 643.6,1514.6 644.9,1518.3 646.1,1517.8 647.3,1514.2 648.5,1514.9 649.8,1512.8 651.0,1511.6 652.2,1504.9 653.4,1503.6 654.6,1492.5 655.9,1492.5 657.1,1482.5 658.3,1477.5 659.5,1468.7 660.8,1464.3 662.0,1462.2 663.2,1462.7 664.4,1458.8 665.6,1453.3 666.9,1454.1 668.1,1458.8 669.3,1465.2 670.5,1466.7 671.8,1478.2 673.0,1481.1 674.2,1486.1 675.4,1495.4 676.6,1500.9 677.9,1505.0 679.1,1508.2 680.3,1511.3 681.5,1515.4 682.8,1517.7 684.0,1517.9 685.2,1518.8 686.4,1520.0 687.6,1519.7 688.9,1520.2 690.1,1522.4 691.3,1521.8 692.5,1521.0 693.8,1526.9 695.0,1524.7 696.2,1526.6 697.4,1523.5 698.6,1523.1 699.9,1524.6 701.1,1522.7 702.3,1524.7 703.5,1529.2 704.8,1525.6 706.0,1524.4 707.2,1524.5 708.4,1526.1 709.7,1523.9 710.9,1529.0 712.1,1525.9 713.3,1527.1 714.5,1528.0 715.8,1527.6 717.0,1525.6 718.2,1526.8 719.4,1531.2 720.7,1526.0 721.9,1531.4 723.1,1527.1 724.3,1526.1 725.5,1524.4 726.8,1527.4 728.0,1531.0 729.2,1529.0 730.4,1530.5 731.7,1528.0 732.9,1530.3 734.1,1527.6 735.3,1527.1 736.5,1521.6 737.8,1528.2 739.0,1528.7 740.2,1531.4 741.4,1528.1 742.7,1529.4 743.9,1527.0 745.1,1528.3 746.3,1527.2 747.5,1527.1 748.8,1529.6 750.0,1523.6 751.2,1531.6 752.4,1532.3 753.7,1532.3 754.9,1530.6 756.1,1528.7 757.3,1530.5 758.5,1530.9 759.8,1531.2 761.0,1528.2 762.2,1529.5 763.4,1530.1 764.7,1530.2 765.9,1530.6 767.1,1529.9 768.3,1530.3 769.5,1528.6 770.8,1530.8 772.0,1528.5 773.2,1528.9 774.4,1531.5 775.7,1524.6 776.9,1527.5 778.1,1525.3 779.3,1527.7 780.6,1527.6 781.8,1526.7 783.0,1529.2 784.2,1530.5 785.4,1530.2 786.7,1527.0 787.9,1530.6 789.1,1532.5 790.3,1530.7 791.6,1532.3 792.8,1532.3 794.0,1528.0 795.2,1527.2 796.4,1529.3 797.7,1530.9 798.9,1532.4 800.1,1529.0 801.3,1529.0 802.6,1532.4 803.8,1528.8 805.0,1532.3 806.2,1532.3 807.4,1529.2 808.7,1528.8 809.9,1532.2 811.1,1527.6 812.3,1525.9 813.6,1526.5 814.8,1527.8 816.0,1527.9 817.2,1531.3 818.4,1529.2 819.7,1529.5 820.9,1529.0 822.1,1527.1 823.3,1523.9 824.6,1518.9 825.8,1511.1 827.0,1507.8 828.2,1504.0 829.4,1501.5 830.7,1504.3 831.9,1506.7 833.1,1512.1 834.3,1514.6 835.6,1515.2 836.8,1518.6 838.0,1516.0 839.2,1519.6 840.4,1516.5 841.7,1519.8 842.9,1517.6 844.1,1521.4 845.3,1517.7 846.6,1517.8 847.8,1517.9 849.0,1522.4 850.2,1522.2 851.4,1527.1 852.7,1528.3 853.9,1528.9 855.1,1529.7 856.3,1529.3 857.6,1530.8 858.8,1527.8 860.0,1530.4 861.2,1529.4 862.5,1532.0 863.7,1531.1 864.9,1532.3 866.1,1532.3 867.3,1532.4 868.6,1532.5 869.8,1531.9 871.0,1528.6 872.2,1531.8 873.5,1529.3 874.7,1528.4 875.9,1532.6 877.1,1530.3 878.3,1531.3 879.6,1530.5 880.8,1532.3 882.0,1532.7 883.2,1529.7 884.5,1525.5 885.7,1529.5 886.9,1529.4 888.1,1526.5 889.3,1526.2 890.6,1529.7 891.8,1525.7 893.0,1525.5 894.2,1531.5 895.5,1532.7 896.7,1532.8 897.9,1530.8 899.1,1532.8 900.3,1530.4 901.6,1532.1 902.8,1532.8 904.0,1530.7 905.2,1528.0 906.5,1529.2 907.7,1527.7 908.9,1524.0 910.1,1528.6 911.3,1531.6 912.6,1530.5 913.8,1531.4 915.0,1528.2 916.2,1531.9 917.5,1532.5 918.7,1532.3 919.9,1531.2 921.1,1529.9 922.3,1529.9 923.6,1529.4 924.8,1531.3 926.0,1532.8 927.2,1531.1 928.5,1528.3 929.7,1532.8 930.9,1532.4 932.1,1532.8 933.4,1529.9 934.6,1530.1 935.8,1530.8 937.0,1531.0 938.2,1530.4 939.5,1528.9 940.7,1530.8 941.9,1530.6 943.1,1530.8 944.4,1530.7 945.6,1530.1 946.8,1529.2 948.0,1529.4 949.2,1527.8 950.5,1528.2 951.7,1527.0 952.9,1528.3 954.1,1528.1 955.4,1523.8 956.6,1529.6 957.8,1523.8 959.0,1526.9 960.2,1527.5 961.5,1528.9 962.7,1526.4 963.9,1525.6 965.1,1524.4 966.4,1528.3 967.6,1526.4 968.8,1521.3 970.0,1521.4 971.2,1524.9 972.5,1526.8 973.7,1526.7 974.9,1529.8 976.1,1525.1 977.4,1527.7 978.6,1527.5 979.8,1525.9 981.0,1530.1 982.2,1529.8 983.5,1528.2 984.7,1528.1 985.9,1527.1 987.1,1528.9 988.4,1529.6 989.6,1529.2 990.8,1530.3 992.0,1527.9 993.2,1531.2 994.5,1528.4 995.7,1527.5 996.9,1523.6 998.1,1530.2 999.4,1525.9 1000.6,1526.3 1001.8,1528.7 1003.0,1528.1 1004.2,1527.7 1005.5,1529.5 1006.7,1532.6 1007.9,1528.9 1009.1,1529.9 1010.4,1532.5 1011.6,1529.4 1012.8,1532.4 1014.0,1532.4 1015.3,1532.3 1016.5,1532.1 1017.7,1532.0 1018.9,1531.7 1020.1,1531.3 1021.4,1530.6 1022.6,1529.6 1023.8,1528.4 1025.0,1523.9 1026.3,1523.9 1027.5,1521.3 1028.7,1515.8 1029.9,1513.5 1031.1,1512.7 1032.4,1509.1 1033.6,1507.7 1034.8,1512.0 1036.0,1516.6 1037.3,1518.1 1038.5,1520.6 1039.7,1522.8 1040.9,1524.1 1042.1,1525.1 1043.4,1525.7 1044.6,1526.1 1045.8,1524.8 1047.0,1527.5 1048.3,1526.7 1049.5,1529.4 1050.7,1529.2 1051.9,1531.7 1053.1,1532.1 1054.4,1531.4 1055.6,1532.4 1056.8,1531.7 1058.0,1529.8 1059.3,1531.7 1060.5,1529.6 1061.7,1526.5 1062.9,1532.7 1064.1,1528.9 1065.4,1530.1 1066.6,1525.2 1067.8,1529.4 1069.0,1527.5 1070.3,1531.7 1071.5,1528.8 1072.7,1529.6 1073.9,1531.7 1075.1,1528.7 1076.4,1529.1 1077.6,1531.2 1078.8,1530.3 1080.0,1532.8 1081.3,1531.9 1082.5,1531.4 1083.7,1526.2 1084.9,1529.4 1086.2,1526.9 1087.4,1527.4 1088.6,1526.8 1089.8,1531.2 1091.0,1530.6 1092.3,1532.7 1093.5,1529.7 1094.7,1527.8 1095.9,1526.8 1097.2,1529.3 1098.4,1530.0 1099.6,1529.2 1100.8,1530.1 1102.0,1528.9 1103.3,1529.3 1104.5,1528.5 1105.7,1532.9 1106.9,1530.0 1108.2,1529.3 1109.4,1531.4 1110.6,1532.9 1111.8,1532.1 1113.0,1526.0 1114.3,1530.2 1115.5,1529.2 1116.7,1531.7 1117.9,1531.0 1119.2,1530.9 1120.4,1528.7 1121.6,1529.7 1122.8,1530.6 1124.0,1532.9 1125.3,1532.4 1126.5,1532.9 1127.7,1532.9 1128.9,1532.9 1130.2,1532.9 1131.4,1531.0 1132.6,1530.1 1133.8,1528.5 1135.0,1530.3 1136.3,1528.9 1137.5,1529.4 1138.7,1531.1 1139.9,1529.1 1141.2,1530.4 1142.4,1532.1 1143.6,1527.6 1144.8,1527.2 1146.0,1528.7 1147.3,1529.6 1148.5,1531.2 1149.7,1529.8 1150.9,1532.9 1152.2,1532.4 1153.4,1531.4 1154.6,1532.9 1155.8,1532.9 1157.0,1532.2 1158.3,1532.9 1159.5,1531.1 1160.7,1528.5 1161.9,1529.8 1163.2,1526.0 1164.4,1525.0 1165.6,1526.6 1166.8,1528.8 1168.1,1530.8 1169.3,1528.1 1170.5,1532.8 1171.7,1530.6 1172.9,1531.7 1174.2,1531.7 1175.4,1526.6 1176.6,1529.0 1177.8,1531.9 1179.1,1532.7 1180.3,1530.4 1181.5,1532.6 1182.7,1532.7 1183.9,1532.7 1185.2,1532.7 1186.4,1532.6 1187.6,1532.6 1188.8,1532.6 1190.1,1531.4 1191.3,1532.1 1192.5,1531.3 1193.7,1527.7 1194.9,1532.0 1196.2,1531.1 1197.4,1526.8 1198.6,1525.0 1199.8,1523.7 1201.1,1524.4 1202.3,1523.1 1203.5,1518.7 1204.7,1525.4 1205.9,1526.3 1207.2,1522.3 1208.4,1519.8 1209.6,1517.4 1210.8,1521.9 1212.1,1522.4 1213.3,1522.6 1214.5,1521.9 1215.7,1522.8 1216.9,1523.8 1218.2,1522.5 1219.4,1527.7 1220.6,1528.8 1221.8,1527.2 1223.1,1526.4 1224.3,1524.1 1225.5,1527.8 1226.7,1526.4 1227.9,1524.8 1229.2,1525.8 1230.4,1529.9 1231.6,1528.2 1232.8,1532.4 1234.1,1532.1 1235.3,1531.9 1236.5,1531.0 1237.7,1532.6 1239.0,1530.1 1240.2,1530.5 1241.4,1529.4 1242.6,1528.8 1243.8,1532.8 1245.1,1530.1 1246.3,1532.7 1247.5,1531.7 1248.7,1531.5 1250.0,1532.8 1251.2,1532.8 1252.4,1531.7 1253.6,1532.8 1254.8,1532.0 1256.1,1532.3 1257.3,1532.9 1258.5,1532.9 1259.7,1532.9 1261.0,1530.1 1262.2,1531.4 1263.4,1529.2 1264.6,1532.9 1265.8,1531.9 1267.1,1532.4 1268.3,1532.9 1269.5,1531.6 1270.7,1525.7 1272.0,1529.0 1273.2,1530.3 1274.4,1529.3 1275.6,1532.6 1276.8,1532.4 1278.1,1530.0 1279.3,1531.6 1280.5,1532.9 1281.7,1532.9 1283.0,1532.9 1284.2,1530.4 1285.4,1528.2 1286.6,1529.9 1287.8,1530.1 1289.1,1531.1 1290.3,1531.6 1291.5,1527.1 1292.7,1530.2 1294.0,1532.9 1295.2,1527.8 1296.4,1528.2 1297.6,1530.2 1298.8,1526.7 1300.1,1529.2 1301.3,1532.9 1302.5,1532.9 1303.7,1532.9 1305.0,1531.6 1306.2,1533.0 1307.4,1532.9 1308.6,1530.7 1309.8,1528.3 1311.1,1533.0 1312.3,1532.1 1313.5,1533.0 1314.7,1533.0 1316.0,1533.0 1317.2,1533.0 1318.4,1533.0 1319.6,1533.0 1320.9,1532.6 1322.1,1529.9 1323.3,1530.6 1324.5,1528.2 1325.7,1533.0 1327.0,1529.3 1328.2,1530.9 1329.4,1532.4 1330.6,1529.7 1331.9,1528.2 1333.1,1530.6 1334.3,1530.4 1335.5,1529.6 1336.7,1533.0 1338.0,1529.2 1339.2,1528.9 1340.4,1531.2 1341.6,1529.9 1342.9,1531.9 1344.1,1533.0 1345.3,1532.5 1346.5,1530.4 1347.7,1530.3 1349.0,1527.9 1350.2,1529.1 1351.4,1533.0 1352.6,1530.0 1353.9,1527.2 1355.1,1528.0 1356.3,1531.4 1357.5,1532.6 1358.7,1533.0 1360.0,1530.3 1361.2,1529.1 1362.4,1531.5 1363.6,1530.7 1364.9,1527.2 1366.1,1529.7 1367.3,1527.5 1368.5,1528.7 1369.7,1531.0 1371.0,1526.3 1372.2,1527.5 1373.4,1526.9 1374.6,1530.2 1375.9,1531.5 1377.1,1530.7 1378.3,1527.6 1379.5,1528.6 1380.7,1528.0 1382.0,1530.7 1383.2,1527.3 1384.4,1530.7 1385.6,1530.3 1386.9,1530.7 1388.1,1533.0 1389.3,1533.0 1390.5,1533.0 1391.8,1533.0 1393.0,1533.0 1394.2,1533.0 1395.4,1533.0 1396.6,1533.0 1397.9,1531.0 1399.1,1528.2 1400.3,1531.4 1401.5,1531.8 1402.8,1529.5 1404.0,1533.0 1405.2,1533.0 1406.4,1530.0 1407.6,1532.4 1408.9,1533.0 1410.1,1533.0 1411.3,1530.8 1412.5,1533.0 1413.8,1529.5 1415.0,1532.2 1416.2,1533.0 1417.4,1529.7 1418.6,1529.6 1419.9,1529.9 1421.1,1533.0 1422.3,1533.0 1423.5,1532.4 1424.8,1528.8 1426.0,1527.8 1427.2,1527.0"/>
<path class="d" stroke="#1A6FDF" d="M204.8,1496.7 206.0,1497.0 207.2,1502.6 208.5,1507.7 209.7,1509.4 210.9,1510.5 212.1,1506.7 213.4,1513.7 214.6,1516.1 215.8,1513.7 217.0,1520.6 218.2,1524.1 219.5,1523.0 220.7,1521.2 221.9,1527.5 223.1,1528.1 224.4,1524.9 225.6,1529.4 226.8,1525.5 228.0,1527.7 229.2,1529.6 230.5,1529.6 231.7,1527.7 232.9,1528.9 234.1,1526.9 235.4,1528.6 236.6,1528.8 237.8,1529.2 239.0,1527.6 240.2,1529.1 241.5,1525.9 242.7,1525.4 243.9,1524.3 245.1,1526.3 246.4,1524.4 247.6,1528.6 248.8,1528.5 250.0,1524.6 251.3,1528.4 252.5,1523.3 253.7,1525.8 254.9,1520.8 256.1,1520.6 257.4,1517.6 258.6,1514.5 259.8,1521.7 261.0,1513.8 262.3,1523.5 263.5,1520.4 264.7,1524.9 265.9,1523.0 267.1,1522.3 268.4,1520.5 269.6,1518.4 270.8,1520.0 272.0,1519.0 273.3,1522.6 274.5,1522.1 275.7,1521.3 276.9,1523.9 278.1,1524.5 279.4,1523.2 280.6,1523.1 281.8,1524.1 283.0,1523.2 284.3,1524.0 285.5,1523.8 286.7,1524.0 287.9,1523.0 289.1,1523.7 290.4,1520.8 291.6,1518.4 292.8,1523.7 294.0,1524.6 295.3,1522.3 296.5,1520.2 297.7,1530.5 298.9,1529.1 300.1,1521.5 301.4,1520.1 302.6,1520.8 303.8,1516.4 305.0,1512.8 306.3,1513.4 307.5,1512.8 308.7,1513.2 309.9,1507.6 311.1,1506.8 312.4,1502.6 313.6,1507.4 314.8,1507.8 316.0,1501.6 317.3,1499.5 318.5,1497.5 319.7,1501.8 320.9,1499.7 322.2,1502.5 323.4,1508.5 324.6,1512.2 325.8,1517.7 327.0,1519.5 328.3,1519.4 329.5,1522.9 330.7,1524.4 331.9,1524.6 333.2,1523.4 334.4,1528.2 335.6,1519.9 336.8,1522.3 338.0,1523.4 339.3,1526.4 340.5,1522.3 341.7,1523.5 342.9,1530.9 344.2,1519.2 345.4,1531.8 346.6,1526.4 347.8,1531.6 349.0,1531.5 350.3,1528.2 351.5,1529.0 352.7,1524.0 353.9,1526.3 355.2,1528.3 356.4,1526.6 357.6,1528.0 358.8,1531.6 360.0,1528.3 361.3,1523.4 362.5,1521.7 363.7,1522.1 364.9,1521.3 366.2,1529.2 367.4,1531.6 368.6,1529.3 369.8,1531.6 371.0,1530.8 372.3,1526.4 373.5,1528.5 374.7,1529.4 375.9,1525.2 377.2,1525.9 378.4,1530.5 379.6,1526.3 380.8,1529.7 382.0,1530.3 383.3,1530.3 384.5,1526.8 385.7,1530.8 386.9,1530.5 388.2,1530.3 389.4,1527.3 390.6,1526.3 391.8,1528.0 393.0,1524.6 394.3,1526.4 395.5,1523.9 396.7,1522.5 397.9,1521.8 399.2,1524.5 400.4,1522.6 401.6,1517.3 402.8,1521.9 404.1,1521.5 405.3,1522.9 406.5,1520.5 407.7,1521.4 408.9,1518.1 410.2,1514.7 411.4,1512.5 412.6,1514.6 413.8,1516.7 415.1,1514.2 416.3,1515.2 417.5,1514.9 418.7,1519.1 419.9,1510.2 421.2,1514.3 422.4,1508.8 423.6,1505.5 424.8,1507.3 426.1,1506.2 427.3,1503.0 428.5,1502.8 429.7,1502.1 430.9,1503.4 432.2,1503.9 433.4,1499.0 434.6,1494.4 435.8,1494.2 437.1,1485.0 438.3,1476.6 439.5,1474.3 440.7,1464.6 441.9,1461.1 443.2,1440.3 444.4,1447.6 445.6,1429.1 446.8,1417.5 448.1,1415.5 449.3,1405.3 450.5,1393.9 451.7,1408.5 452.9,1396.3 454.2,1412.7 455.4,1422.5 456.6,1435.4 457.8,1440.2 459.1,1451.6 460.3,1456.5 461.5,1470.8 462.7,1480.4 463.9,1482.8 465.2,1485.3 466.4,1488.0 467.6,1491.0 468.8,1501.4 470.1,1507.1 471.3,1503.5 472.5,1507.4 473.7,1505.2 475.0,1510.6 476.2,1514.3 477.4,1519.3 478.6,1520.3 479.8,1521.3 481.1,1518.1 482.3,1519.2 483.5,1515.9 484.7,1521.3 486.0,1515.2 487.2,1512.4 488.4,1518.6 489.6,1525.2 490.8,1519.5 492.1,1523.0 493.3,1521.1 494.5,1523.8 495.7,1517.9 497.0,1523.9 498.2,1518.7 499.4,1524.2 500.6,1522.1 501.8,1520.2 503.1,1516.3 504.3,1526.4 505.5,1526.5 506.7,1518.1 508.0,1525.1 509.2,1527.7 510.4,1523.2 511.6,1525.2 512.8,1523.3 514.1,1517.7 515.3,1512.0 516.5,1518.4 517.7,1519.0 519.0,1520.9 520.2,1518.7 521.4,1528.1 522.6,1522.9 523.8,1523.9 525.1,1515.6 526.3,1519.1 527.5,1523.3 528.7,1520.9 530.0,1519.4 531.2,1519.5 532.4,1526.1 533.6,1524.6 534.8,1526.7 536.1,1523.5 537.3,1521.6 538.5,1531.1 539.7,1529.0 541.0,1528.2 542.2,1520.5 543.4,1528.9 544.6,1523.1 545.8,1521.7 547.1,1524.5 548.3,1526.0 549.5,1520.7 550.7,1524.0 552.0,1519.0 553.2,1515.6 554.4,1517.7 555.6,1515.0 556.9,1526.0 558.1,1521.7 559.3,1518.9 560.5,1523.2 561.7,1519.4 563.0,1517.3 564.2,1522.0 565.4,1525.3 566.6,1519.6 567.9,1522.5 569.1,1528.3 570.3,1530.3 571.5,1525.6 572.7,1525.7 574.0,1530.7 575.2,1530.6 576.4,1525.5 577.6,1530.5 578.9,1529.3 580.1,1526.0 581.3,1530.0 582.5,1527.4 583.7,1528.5 585.0,1528.8 586.2,1527.1 587.4,1522.4 588.6,1525.0 589.9,1526.5 591.1,1520.6 592.3,1526.5 593.5,1523.6 594.7,1520.4 596.0,1519.5 597.2,1519.0 598.4,1525.8 599.6,1518.5 600.9,1520.0 602.1,1524.4 603.3,1520.3 604.5,1520.1 605.7,1519.9 607.0,1514.2 608.2,1511.2 609.4,1518.7 610.6,1518.9 611.9,1515.1 613.1,1517.8 614.3,1507.6 615.5,1513.7 616.7,1511.1 618.0,1510.2 619.2,1508.1 620.4,1506.4 621.6,1506.1 622.9,1499.9 624.1,1497.5 625.3,1496.9 626.5,1497.4 627.8,1499.8 629.0,1500.3 630.2,1502.3 631.4,1500.3 632.6,1497.7 633.9,1495.2 635.1,1491.5 636.3,1491.3 637.5,1488.0 638.8,1496.0 640.0,1489.1 641.2,1481.6 642.4,1481.9 643.6,1485.4 644.9,1480.8 646.1,1486.1 647.3,1476.4 648.5,1477.4 649.8,1469.9 651.0,1463.7 652.2,1450.4 653.4,1445.3 654.6,1433.9 655.9,1418.4 657.1,1406.0 658.3,1397.1 659.5,1375.4 660.8,1345.8 662.0,1326.6 663.2,1331.9 664.4,1317.6 665.6,1330.5 666.9,1310.9 668.1,1334.2 669.3,1340.1 670.5,1358.6 671.8,1376.9 673.0,1396.6 674.2,1401.6 675.4,1424.9 676.6,1429.0 677.9,1448.2 679.1,1460.5 680.3,1468.7 681.5,1481.5 682.8,1486.0 684.0,1487.7 685.2,1496.3 686.4,1503.0 687.6,1508.4 688.9,1509.5 690.1,1506.9 691.3,1505.0 692.5,1511.5 693.8,1514.4 695.0,1516.7 696.2,1517.5 697.4,1516.7 698.6,1517.3 699.9,1512.0 701.1,1510.7 702.3,1512.4 703.5,1519.0 704.8,1517.1 706.0,1513.5 707.2,1514.6 708.4,1513.8 709.7,1507.2 710.9,1509.3 712.1,1517.0 713.3,1513.7 714.5,1520.9 715.8,1516.9 717.0,1516.1 718.2,1522.4 719.4,1518.9 720.7,1521.7 721.9,1518.3 723.1,1516.5 724.3,1525.3 725.5,1526.1 726.8,1520.4 728.0,1526.9 729.2,1524.8 730.4,1522.0 731.7,1524.7 732.9,1521.8 734.1,1520.9 735.3,1524.6 736.5,1523.0 737.8,1527.2 739.0,1527.8 740.2,1527.4 741.4,1528.1 742.7,1524.9 743.9,1519.1 745.1,1521.0 746.3,1518.3 747.5,1524.4 748.8,1523.9 750.0,1527.9 751.2,1525.4 752.4,1525.3 753.7,1519.9 754.9,1525.4 756.1,1523.0 757.3,1527.7 758.5,1526.0 759.8,1525.1 761.0,1531.2 762.2,1525.4 763.4,1531.0 764.7,1531.3 765.9,1527.6 767.1,1529.4 768.3,1527.4 769.5,1528.1 770.8,1531.3 772.0,1528.0 773.2,1531.6 774.4,1529.5 775.7,1531.6 776.9,1529.8 778.1,1531.6 779.3,1527.2 780.6,1531.3 781.8,1531.7 783.0,1526.5 784.2,1527.5 785.4,1531.7 786.7,1526.6 787.9,1525.3 789.1,1522.3 790.3,1525.6 791.6,1521.3 792.8,1527.4 794.0,1523.7 795.2,1524.8 796.4,1526.9 797.7,1527.9 798.9,1528.8 800.1,1522.4 801.3,1523.0 802.6,1522.9 803.8,1520.1 805.0,1530.4 806.2,1523.3 807.4,1521.7 808.7,1527.6 809.9,1525.8 811.1,1520.2 812.3,1522.0 813.6,1519.6 814.8,1518.6 816.0,1526.7 817.2,1524.8 818.4,1530.0 819.7,1525.6 820.9,1523.5 822.1,1519.2 823.3,1521.6 824.6,1516.4 825.8,1505.0 827.0,1499.8 828.2,1498.5 829.4,1487.9 830.7,1494.2 831.9,1501.2 833.1,1508.1 834.3,1510.4 835.6,1510.8 836.8,1512.7 838.0,1511.8 839.2,1513.7 840.4,1511.7 841.7,1513.4 842.9,1513.6 844.1,1515.7 845.3,1515.6 846.6,1516.4 847.8,1519.4 849.0,1520.3 850.2,1522.5 851.4,1520.0 852.7,1517.1 853.9,1521.6 855.1,1514.9 856.3,1523.8 857.6,1522.4 858.8,1530.1 860.0,1526.2 861.2,1524.8 862.5,1529.5 863.7,1527.3 864.9,1531.6 866.1,1529.7 867.3,1531.9 868.6,1531.8 869.8,1525.3 871.0,1532.0 872.2,1527.7 873.5,1522.8 874.7,1521.6 875.9,1525.6 877.1,1527.0 878.3,1525.5 879.6,1526.9 880.8,1523.7 882.0,1526.2 883.2,1530.8 884.5,1528.5 885.7,1530.6 886.9,1528.9 888.1,1531.6 889.3,1527.8 890.6,1525.9 891.8,1526.8 893.0,1525.6 894.2,1526.3 895.5,1527.2 896.7,1523.8 897.9,1524.4 899.1,1524.6 900.3,1525.4 901.6,1527.1 902.8,1527.5 904.0,1528.2 905.2,1529.2 906.5,1526.1 907.7,1521.0 908.9,1525.7 910.1,1530.0 911.3,1527.0 912.6,1525.1 913.8,1524.8 915.0,1522.9 916.2,1520.5 917.5,1522.5 918.7,1521.3 919.9,1520.3 921.1,1520.7 922.3,1524.6 923.6,1524.7 924.8,1518.0 926.0,1521.0 927.2,1525.4 928.5,1520.5 929.7,1517.8 930.9,1524.5 932.1,1522.6 933.4,1525.4 934.6,1521.4 935.8,1530.5 937.0,1526.4 938.2,1526.8 939.5,1529.1 940.7,1530.1 941.9,1525.3 943.1,1524.2 944.4,1523.2 945.6,1516.2 946.8,1517.8 948.0,1517.5 949.2,1514.6 950.5,1516.0 951.7,1521.8 952.9,1522.1 954.1,1521.5 955.4,1517.6 956.6,1525.9 957.8,1520.5 959.0,1521.0 960.2,1521.8 961.5,1517.3 962.7,1514.9 963.9,1512.6 965.1,1505.4 966.4,1508.4 967.6,1501.4 968.8,1508.5 970.0,1509.1 971.2,1507.6 972.5,1515.2 973.7,1517.8 974.9,1521.1 976.1,1524.3 977.4,1526.4 978.6,1524.8 979.8,1529.3 981.0,1528.8 982.2,1526.4 983.5,1531.1 984.7,1528.4 985.9,1530.3 987.1,1527.3 988.4,1531.7 989.6,1527.0 990.8,1530.6 992.0,1528.9 993.2,1530.4 994.5,1531.8 995.7,1524.2 996.9,1529.9 998.1,1528.9 999.4,1531.4 1000.6,1530.2 1001.8,1530.8 1003.0,1530.2 1004.2,1529.9 1005.5,1522.5 1006.7,1528.4 1007.9,1527.7 1009.1,1526.9 1010.4,1526.3 1011.6,1522.3 1012.8,1523.5 1014.0,1524.8 1015.3,1520.2 1016.5,1524.6 1017.7,1521.0 1018.9,1520.5 1020.1,1521.9 1021.4,1524.9 1022.6,1523.9 1023.8,1517.8 1025.0,1519.1 1026.3,1510.5 1027.5,1507.7 1028.7,1501.2 1029.9,1492.7 1031.1,1493.0 1032.4,1487.3 1033.6,1491.9 1034.8,1494.6 1036.0,1500.6 1037.3,1499.0 1038.5,1499.3 1039.7,1501.0 1040.9,1492.1 1042.1,1489.8 1043.4,1491.2 1044.6,1485.5 1045.8,1494.3 1047.0,1505.3 1048.3,1504.5 1049.5,1510.9 1050.7,1511.2 1051.9,1515.0 1053.1,1513.9 1054.4,1514.4 1055.6,1517.3 1056.8,1523.3 1058.0,1522.8 1059.3,1520.3 1060.5,1524.8 1061.7,1523.4 1062.9,1518.5 1064.1,1526.7 1065.4,1522.4 1066.6,1518.6 1067.8,1517.5 1069.0,1515.8 1070.3,1521.5 1071.5,1514.5 1072.7,1518.6 1073.9,1522.5 1075.1,1517.0 1076.4,1518.1 1077.6,1511.0 1078.8,1515.0 1080.0,1512.1 1081.3,1505.4 1082.5,1506.3 1083.7,1507.4 1084.9,1504.1 1086.2,1496.7 1087.4,1493.7 1088.6,1494.6 1089.8,1487.4 1091.0,1489.2 1092.3,1490.3 1093.5,1499.1 1094.7,1497.0 1095.9,1505.7 1097.2,1510.0 1098.4,1506.7 1099.6,1513.2 1100.8,1513.1 1102.0,1514.9 1103.3,1518.2 1104.5,1519.6 1105.7,1518.0 1106.9,1515.7 1108.2,1513.4 1109.4,1506.8 1110.6,1499.0 1111.8,1490.6 1113.0,1486.5 1114.3,1479.7 1115.5,1475.4 1116.7,1472.5 1117.9,1467.4 1119.2,1463.8 1120.4,1464.4 1121.6,1457.7 1122.8,1467.6 1124.0,1470.1 1125.3,1468.8 1126.5,1466.1 1127.7,1466.0 1128.9,1474.8 1130.2,1476.7 1131.4,1489.2 1132.6,1490.9 1133.8,1501.1 1135.0,1511.3 1136.3,1512.4 1137.5,1518.8 1138.7,1518.1 1139.9,1522.3 1141.2,1520.2 1142.4,1520.3 1143.6,1515.4 1144.8,1516.4 1146.0,1519.8 1147.3,1512.5 1148.5,1513.7 1149.7,1514.3 1150.9,1516.9 1152.2,1523.1 1153.4,1520.6 1154.6,1523.7 1155.8,1522.1 1157.0,1524.9 1158.3,1525.7 1159.5,1520.8 1160.7,1518.4 1161.9,1522.4 1163.2,1519.3 1164.4,1525.1 1165.6,1521.4 1166.8,1519.9 1168.1,1523.9 1169.3,1519.3 1170.5,1525.2 1171.7,1529.9 1172.9,1523.5 1174.2,1528.3 1175.4,1521.2 1176.6,1525.3 1177.8,1522.7 1179.1,1523.7 1180.3,1523.8 1181.5,1519.5 1182.7,1521.2 1183.9,1528.7 1185.2,1525.8 1186.4,1521.8 1187.6,1525.7 1188.8,1529.8 1190.1,1525.1 1191.3,1525.3 1192.5,1528.3 1193.7,1525.6 1194.9,1520.4 1196.2,1520.3 1197.4,1517.6 1198.6,1522.3 1199.8,1517.8 1201.1,1515.3 1202.3,1519.8 1203.5,1520.7 1204.7,1516.8 1205.9,1519.6 1207.2,1520.5 1208.4,1516.4 1209.6,1516.1 1210.8,1511.2 1212.1,1508.2 1213.3,1511.6 1214.5,1514.9 1215.7,1513.2 1216.9,1515.4 1218.2,1517.3 1219.4,1520.0 1220.6,1522.1 1221.8,1522.0 1223.1,1523.3 1224.3,1521.4 1225.5,1518.8 1226.7,1525.7 1227.9,1519.9 1229.2,1524.0 1230.4,1523.4 1231.6,1521.5 1232.8,1527.5 1234.1,1523.1 1235.3,1517.6 1236.5,1521.6 1237.7,1528.8 1239.0,1522.7 1240.2,1527.4 1241.4,1530.4 1242.6,1529.4 1243.8,1527.8 1245.1,1523.7 1246.3,1526.5 1247.5,1525.9 1248.7,1522.3 1250.0,1527.3 1251.2,1524.3 1252.4,1522.7 1253.6,1528.6 1254.8,1524.0 1256.1,1523.7 1257.3,1526.3 1258.5,1527.8 1259.7,1523.1 1261.0,1527.9 1262.2,1530.0 1263.4,1532.3 1264.6,1531.4 1265.8,1528.3 1267.1,1527.1 1268.3,1531.6 1269.5,1530.9 1270.7,1528.4 1272.0,1530.8 1273.2,1530.1 1274.4,1529.2 1275.6,1532.7 1276.8,1532.7 1278.1,1532.7 1279.3,1530.6 1280.5,1529.9 1281.7,1527.8 1283.0,1532.4 1284.2,1530.3 1285.4,1523.3 1286.6,1532.6 1287.8,1522.2 1289.1,1529.3 1290.3,1523.2 1291.5,1518.9 1292.7,1522.5 1294.0,1526.7 1295.2,1525.9 1296.4,1532.8 1297.6,1528.5 1298.8,1526.6 1300.1,1527.6 1301.3,1532.1 1302.5,1527.9 1303.7,1525.3 1305.0,1528.8 1306.2,1528.3 1307.4,1528.4 1308.6,1520.5 1309.8,1524.1 1311.1,1523.5 1312.3,1525.5 1313.5,1526.0 1314.7,1523.5 1316.0,1523.5 1317.2,1524.8 1318.4,1524.7 1319.6,1523.6 1320.9,1523.1 1322.1,1524.4 1323.3,1520.9 1324.5,1524.3 1325.7,1521.5 1327.0,1522.5 1328.2,1521.3 1329.4,1520.4 1330.6,1523.2 1331.9,1514.0 1333.1,1523.0 1334.3,1521.5 1335.5,1531.6 1336.7,1532.0 1338.0,1531.9 1339.2,1528.8 1340.4,1526.8 1341.6,1532.9 1342.9,1526.0 1344.1,1528.7 1345.3,1528.5 1346.5,1527.5 1347.7,1523.0 1349.0,1523.4 1350.2,1523.9 1351.4,1524.3 1352.6,1518.1 1353.9,1517.7 1355.1,1525.8 1356.3,1525.5 1357.5,1523.1 1358.7,1524.4 1360.0,1520.1 1361.2,1515.7 1362.4,1519.4 1363.6,1521.3 1364.9,1525.9 1366.1,1522.1 1367.3,1525.7 1368.5,1524.3 1369.7,1520.0 1371.0,1521.4 1372.2,1519.7 1373.4,1521.5 1374.6,1521.2 1375.9,1520.7 1377.1,1525.2 1378.3,1522.0 1379.5,1523.9 1380.7,1521.4 1382.0,1516.4 1383.2,1523.6 1384.4,1514.2 1385.6,1519.7 1386.9,1521.5 1388.1,1518.6 1389.3,1518.8 1390.5,1522.9 1391.8,1530.5 1393.0,1526.6 1394.2,1525.2 1395.4,1522.8 1396.6,1520.7 1397.9,1521.9 1399.1,1516.0 1400.3,1515.1 1401.5,1514.6 1402.8,1521.1 1404.0,1516.5 1405.2,1525.9 1406.4,1525.0 1407.6,1526.1 1408.9,1525.4 1410.1,1523.8 1411.3,1527.3 1412.5,1527.8 1413.8,1523.3 1415.0,1520.0 1416.2,1525.2 1417.4,1527.3 1418.6,1527.3 1419.9,1530.1 1421.1,1526.2 1422.3,1525.9 1423.5,1529.2 1424.8,1524.6 1426.0,1526.2 1427.2,1522.7"/>
<path class="d" stroke="#37AD6B" d="M204.8,1488.1 206.0,1495.5 207.2,1495.0 208.5,1498.6 209.7,1504.3 210.9,1508.1 212.1,1511.7 213.4,1512.5 214.6,1517.8 215.8,1518.3 217.0,1522.6 218.2,1522.6 219.5,1522.2 220.7,1525.2 221.9,1526.0 223.1,1522.4 224.4,1520.9 225.6,1522.0 226.8,1524.7 228.0,1526.3 229.2,1522.9 230.5,1529.4 231.7,1524.0 232.9,1527.2 234.1,1526.3 235.4,1528.2 236.6,1523.1 237.8,1521.9 239.0,1526.0 240.2,1528.1 241.5,1527.5 242.7,1524.2 243.9,1524.3 245.1,1528.0 246.4,1524.5 247.6,1523.7 248.8,1531.3 250.0,1531.1 251.3,1527.8 252.5,1527.3 253.7,1531.4 254.9,1528.2 256.1,1529.1 257.4,1522.9 258.6,1532.1 259.8,1531.8 261.0,1527.6 262.3,1527.8 263.5,1526.2 264.7,1522.8 265.9,1528.8 267.1,1525.4 268.4,1526.4 269.6,1523.9 270.8,1527.2 272.0,1525.1 273.3,1523.1 274.5,1524.7 275.7,1522.0 276.9,1525.2 278.1,1528.4 279.4,1531.0 280.6,1526.3 281.8,1528.1 283.0,1524.0 284.3,1526.6 285.5,1526.0 286.7,1530.4 287.9,1523.5 289.1,1526.1 290.4,1529.7 291.6,1528.5 292.8,1525.2 294.0,1529.0 295.3,1522.9 296.5,1527.3 297.7,1523.3 298.9,1523.5 300.1,1522.0 301.4,1524.3 302.6,1522.2 303.8,1516.2 305.0,1522.9 306.3,1519.3 307.5,1515.2 308.7,1512.8 309.9,1508.5 311.1,1511.3 312.4,1506.1 313.6,1503.8 314.8,1502.1 316.0,1503.7 317.3,1506.2 318.5,1505.0 319.7,1505.8 320.9,1511.9 322.2,1514.5 323.4,1516.2 324.6,1516.6 325.8,1521.7 327.0,1519.1 328.3,1521.5 329.5,1522.8 330.7,1520.7 331.9,1526.5 333.2,1519.7 334.4,1524.8 335.6,1520.6 336.8,1521.5 338.0,1526.2 339.3,1526.3 340.5,1523.7 341.7,1525.7 342.9,1522.9 344.2,1523.3 345.4,1522.5 346.6,1524.9 347.8,1526.4 349.0,1526.2 350.3,1523.1 351.5,1520.9 352.7,1519.6 353.9,1523.1 355.2,1522.5 356.4,1521.5 357.6,1522.3 358.8,1518.9 360.0,1519.0 361.3,1518.4 362.5,1521.9 363.7,1520.7 364.9,1521.1 366.2,1520.9 367.4,1527.0 368.6,1519.4 369.8,1520.6 371.0,1519.8 372.3,1519.6 373.5,1523.0 374.7,1517.2 375.9,1523.2 377.2,1521.1 378.4,1525.9 379.6,1521.5 380.8,1517.1 382.0,1524.0 383.3,1521.4 384.5,1524.2 385.7,1523.3 386.9,1523.6 388.2,1523.5 389.4,1523.1 390.6,1522.2 391.8,1526.4 393.0,1525.0 394.3,1525.2 395.5,1521.5 396.7,1513.8 397.9,1515.6 399.2,1515.3 400.4,1522.3 401.6,1518.9 402.8,1517.5 404.1,1515.0 405.3,1519.4 406.5,1512.2 407.7,1512.9 408.9,1507.4 410.2,1509.5 411.4,1510.5 412.6,1508.9 413.8,1508.5 415.1,1507.1 416.3,1507.3 417.5,1509.6 418.7,1510.0 419.9,1505.8 421.2,1511.7 422.4,1505.1 423.6,1500.0 424.8,1501.8 426.1,1502.4 427.3,1502.5 428.5,1500.5 429.7,1500.0 430.9,1494.3 432.2,1492.9 433.4,1489.3 434.6,1488.4 435.8,1479.9 437.1,1478.5 438.3,1472.1 439.5,1463.6 440.7,1460.7 441.9,1447.0 443.2,1436.9 444.4,1422.7 445.6,1404.7 446.8,1394.0 448.1,1391.1 449.3,1380.5 450.5,1378.3 451.7,1387.1 452.9,1380.2 454.2,1395.7 455.4,1393.4 456.6,1415.5 457.8,1421.9 459.1,1440.6 460.3,1453.8 461.5,1460.9 462.7,1467.7 463.9,1476.7 465.2,1483.3 466.4,1491.5 467.6,1489.6 468.8,1497.3 470.1,1506.0 471.3,1511.0 472.5,1509.5 473.7,1506.9 475.0,1516.0 476.2,1518.6 477.4,1512.0 478.6,1517.5 479.8,1518.4 481.1,1517.8 482.3,1517.0 483.5,1520.2 484.7,1524.3 486.0,1524.7 487.2,1521.7 488.4,1522.1 489.6,1517.9 490.8,1518.5 492.1,1523.1 493.3,1523.7 494.5,1527.5 495.7,1524.1 497.0,1525.9 498.2,1520.8 499.4,1525.3 500.6,1523.7 501.8,1525.3 503.1,1527.3 504.3,1526.7 505.5,1524.8 506.7,1525.5 508.0,1525.7 509.2,1529.7 510.4,1527.5 511.6,1526.7 512.8,1521.2 514.1,1526.6 515.3,1520.5 516.5,1522.9 517.7,1527.7 519.0,1529.6 520.2,1527.2 521.4,1528.4 522.6,1526.6 523.8,1527.4 525.1,1527.6 526.3,1524.8 527.5,1527.7 528.7,1522.1 530.0,1523.1 531.2,1520.2 532.4,1520.2 533.6,1520.7 534.8,1521.9 536.1,1523.9 537.3,1524.5 538.5,1522.0 539.7,1521.2 541.0,1526.3 542.2,1526.2 543.4,1518.5 544.6,1523.9 545.8,1526.1 547.1,1523.0 548.3,1525.5 549.5,1522.7 550.7,1523.7 552.0,1518.7 553.2,1520.9 554.4,1522.7 555.6,1518.0 556.9,1519.5 558.1,1520.5 559.3,1521.3 560.5,1519.9 561.7,1523.7 563.0,1521.4 564.2,1525.5 565.4,1520.7 566.6,1522.8 567.9,1523.7 569.1,1523.9 570.3,1522.8 571.5,1524.3 572.7,1521.9 574.0,1524.1 575.2,1522.3 576.4,1523.4 577.6,1520.4 578.9,1520.3 580.1,1520.9 581.3,1524.0 582.5,1529.2 583.7,1529.8 585.0,1522.1 586.2,1528.0 587.4,1523.2 588.6,1522.7 589.9,1523.0 591.1,1528.2 592.3,1521.3 593.5,1522.6 594.7,1521.5 596.0,1521.1 597.2,1523.0 598.4,1523.9 599.6,1525.5 600.9,1523.7 602.1,1523.8 603.3,1521.7 604.5,1523.9 605.7,1521.3 607.0,1516.5 608.2,1519.4 609.4,1515.5 610.6,1510.7 611.9,1509.4 613.1,1513.4 614.3,1515.4 615.5,1507.1 616.7,1507.3 618.0,1500.5 619.2,1494.3 620.4,1490.3 621.6,1490.1 622.9,1482.9 624.1,1478.3 625.3,1480.1 626.5,1484.0 627.8,1484.0 629.0,1492.5 630.2,1501.1 631.4,1501.4 632.6,1500.4 633.9,1492.8 635.1,1488.9 636.3,1488.5 637.5,1481.1 638.8,1479.5 640.0,1473.6 641.2,1474.4 642.4,1479.8 643.6,1481.5 644.9,1482.9 646.1,1473.8 647.3,1474.8 648.5,1469.8 649.8,1461.1 651.0,1461.0 652.2,1454.0 653.4,1432.1 654.6,1429.2 655.9,1409.9 657.1,1390.1 658.3,1370.0 659.5,1348.8 660.8,1328.9 662.0,1317.8 663.2,1309.0 664.4,1280.4 665.6,1269.7 666.9,1281.1 668.1,1285.7 669.3,1303.5 670.5,1337.1 671.8,1358.0 673.0,1364.7 674.2,1393.0 675.4,1401.9 676.6,1424.0 677.9,1441.5 679.1,1442.4 680.3,1456.0 681.5,1467.3 682.8,1474.5 684.0,1484.1 685.2,1488.6 686.4,1497.1 687.6,1500.3 688.9,1498.5 690.1,1508.2 691.3,1504.9 692.5,1504.6 693.8,1507.0 695.0,1504.7 696.2,1506.4 697.4,1501.4 698.6,1505.9 699.9,1508.2 701.1,1511.0 702.3,1507.8 703.5,1507.1 704.8,1509.3 706.0,1510.0 707.2,1508.3 708.4,1508.0 709.7,1510.9 710.9,1512.1 712.1,1509.7 713.3,1512.8 714.5,1514.0 715.8,1516.2 717.0,1514.8 718.2,1514.1 719.4,1517.7 720.7,1518.6 721.9,1518.1 723.1,1520.5 724.3,1520.8 725.5,1523.9 726.8,1521.0 728.0,1517.8 729.2,1515.2 730.4,1520.8 731.7,1523.8 732.9,1523.7 734.1,1521.6 735.3,1523.4 736.5,1526.3 737.8,1528.9 739.0,1527.6 740.2,1528.8 741.4,1529.8 742.7,1526.7 743.9,1520.6 745.1,1521.3 746.3,1520.0 747.5,1517.7 748.8,1521.4 750.0,1521.6 751.2,1521.4 752.4,1521.4 753.7,1521.0 754.9,1517.8 756.1,1518.4 757.3,1521.5 758.5,1521.6 759.8,1522.6 761.0,1524.9 762.2,1525.2 763.4,1528.6 764.7,1526.6 765.9,1521.4 767.1,1515.6 768.3,1519.6 769.5,1520.4 770.8,1517.6 772.0,1520.1 773.2,1522.8 774.4,1523.8 775.7,1520.9 776.9,1524.3 778.1,1521.9 779.3,1524.3 780.6,1524.9 781.8,1521.6 783.0,1524.0 784.2,1525.6 785.4,1525.7 786.7,1522.6 787.9,1521.1 789.1,1519.4 790.3,1520.1 791.6,1522.0 792.8,1523.3 794.0,1523.0 795.2,1522.5 796.4,1519.2 797.7,1523.9 798.9,1524.2 800.1,1522.5 801.3,1521.4 802.6,1523.0 803.8,1523.2 805.0,1525.0 806.2,1524.3 807.4,1524.8 808.7,1521.5 809.9,1523.7 811.1,1520.9 812.3,1523.3 813.6,1530.9 814.8,1525.8 816.0,1524.3 817.2,1527.9 818.4,1524.3 819.7,1523.5 820.9,1524.3 822.1,1520.5 823.3,1518.4 824.6,1510.5 825.8,1504.8 827.0,1491.5 828.2,1492.9 829.4,1489.5 830.7,1492.6 831.9,1496.3 833.1,1498.7 834.3,1503.9 835.6,1509.1 836.8,1510.6 838.0,1511.7 839.2,1511.7 840.4,1510.4 841.7,1512.3 842.9,1512.7 844.1,1514.6 845.3,1513.8 846.6,1517.5 847.8,1514.6 849.0,1519.8 850.2,1519.6 851.4,1524.1 852.7,1524.7 853.9,1526.6 855.1,1527.2 856.3,1523.8 857.6,1525.8 858.8,1523.9 860.0,1521.9 861.2,1519.3 862.5,1517.3 863.7,1517.8 864.9,1519.2 866.1,1520.2 867.3,1528.4 868.6,1525.4 869.8,1530.1 871.0,1524.5 872.2,1528.7 873.5,1528.6 874.7,1528.1 875.9,1526.2 877.1,1524.6 878.3,1527.5 879.6,1528.0 880.8,1527.5 882.0,1530.2 883.2,1528.1 884.5,1528.6 885.7,1528.6 886.9,1532.2 888.1,1529.1 889.3,1524.8 890.6,1521.0 891.8,1523.9 893.0,1524.2 894.2,1522.3 895.5,1523.3 896.7,1526.2 897.9,1527.4 899.1,1523.8 900.3,1522.0 901.6,1523.4 902.8,1525.9 904.0,1524.5 905.2,1522.9 906.5,1523.0 907.7,1526.8 908.9,1524.6 910.1,1529.9 911.3,1527.4 912.6,1529.7 913.8,1527.4 915.0,1528.4 916.2,1523.7 917.5,1525.1 918.7,1523.1 919.9,1529.3 921.1,1529.3 922.3,1532.3 923.6,1529.5 924.8,1530.3 926.0,1532.2 927.2,1530.9 928.5,1526.4 929.7,1527.3 930.9,1526.2 932.1,1530.5 933.4,1525.9 934.6,1530.6 935.8,1530.2 937.0,1531.7 938.2,1531.4 939.5,1527.6 940.7,1529.7 941.9,1525.3 943.1,1526.2 944.4,1523.9 945.6,1519.3 946.8,1519.3 948.0,1515.4 949.2,1513.6 950.5,1520.1 951.7,1519.4 952.9,1522.2 954.1,1521.3 955.4,1519.8 956.6,1522.5 957.8,1522.6 959.0,1519.8 960.2,1522.4 961.5,1520.4 962.7,1516.9 963.9,1515.4 965.1,1512.5 966.4,1505.0 967.6,1504.6 968.8,1502.4 970.0,1500.1 971.2,1503.1 972.5,1505.4 973.7,1512.6 974.9,1517.1 976.1,1517.7 977.4,1520.9 978.6,1523.4 979.8,1522.7 981.0,1528.9 982.2,1529.5 983.5,1526.2 984.7,1528.2 985.9,1528.6 987.1,1527.6 988.4,1528.1 989.6,1528.9 990.8,1525.1 992.0,1526.7 993.2,1528.9 994.5,1525.6 995.7,1524.6 996.9,1526.7 998.1,1524.1 999.4,1524.2 1000.6,1523.4 1001.8,1526.6 1003.0,1521.7 1004.2,1526.6 1005.5,1523.5 1006.7,1519.5 1007.9,1517.4 1009.1,1515.0 1010.4,1515.7 1011.6,1516.6 1012.8,1521.9 1014.0,1522.2 1015.3,1518.8 1016.5,1523.0 1017.7,1520.0 1018.9,1521.9 1020.1,1523.2 1021.4,1520.5 1022.6,1515.9 1023.8,1516.5 1025.0,1506.6 1026.3,1511.9 1027.5,1505.8 1028.7,1498.0 1029.9,1489.6 1031.1,1488.9 1032.4,1485.7 1033.6,1488.5 1034.8,1490.9 1036.0,1492.4 1037.3,1499.5 1038.5,1505.8 1039.7,1503.5 1040.9,1498.7 1042.1,1497.8 1043.4,1502.2 1044.6,1500.6 1045.8,1505.8 1047.0,1509.8 1048.3,1516.6 1049.5,1519.2 1050.7,1520.4 1051.9,1523.0 1053.1,1521.3 1054.4,1520.4 1055.6,1520.1 1056.8,1521.1 1058.0,1515.8 1059.3,1518.1 1060.5,1523.1 1061.7,1522.8 1062.9,1518.6 1064.1,1522.8 1065.4,1522.5 1066.6,1521.4 1067.8,1522.8 1069.0,1522.3 1070.3,1519.4 1071.5,1519.6 1072.7,1517.5 1073.9,1521.9 1075.1,1512.5 1076.4,1505.6 1077.6,1508.7 1078.8,1509.8 1080.0,1504.4 1081.3,1501.5 1082.5,1497.3 1083.7,1488.6 1084.9,1482.8 1086.2,1479.8 1087.4,1472.0 1088.6,1474.1 1089.8,1472.5 1091.0,1469.9 1092.3,1476.5 1093.5,1479.2 1094.7,1483.1 1095.9,1490.9 1097.2,1495.2 1098.4,1498.9 1099.6,1503.7 1100.8,1506.4 1102.0,1505.6 1103.3,1508.6 1104.5,1506.7 1105.7,1507.1 1106.9,1501.2 1108.2,1501.5 1109.4,1494.1 1110.6,1487.5 1111.8,1481.0 1113.0,1472.1 1114.3,1469.5 1115.5,1462.2 1116.7,1453.3 1117.9,1456.3 1119.2,1448.2 1120.4,1444.5 1121.6,1449.2 1122.8,1449.3 1124.0,1457.9 1125.3,1458.9 1126.5,1462.6 1127.7,1461.7 1128.9,1465.0 1130.2,1472.9 1131.4,1479.3 1132.6,1491.3 1133.8,1497.4 1135.0,1504.4 1136.3,1511.3 1137.5,1510.2 1138.7,1520.9 1139.9,1520.6 1141.2,1522.5 1142.4,1520.8 1143.6,1523.0 1144.8,1519.6 1146.0,1518.9 1147.3,1519.5 1148.5,1518.0 1149.7,1517.6 1150.9,1522.1 1152.2,1521.9 1153.4,1522.4 1154.6,1521.5 1155.8,1514.9 1157.0,1519.4 1158.3,1522.0 1159.5,1524.3 1160.7,1522.0 1161.9,1524.0 1163.2,1524.4 1164.4,1524.3 1165.6,1525.9 1166.8,1525.7 1168.1,1520.9 1169.3,1525.9 1170.5,1523.8 1171.7,1526.0 1172.9,1522.7 1174.2,1520.7 1175.4,1523.4 1176.6,1523.0 1177.8,1523.4 1179.1,1526.4 1180.3,1529.8 1181.5,1530.8 1182.7,1530.3 1183.9,1527.3 1185.2,1527.8 1186.4,1525.8 1187.6,1524.8 1188.8,1527.6 1190.1,1522.6 1191.3,1519.8 1192.5,1520.9 1193.7,1523.1 1194.9,1522.1 1196.2,1522.3 1197.4,1524.1 1198.6,1523.9 1199.8,1522.9 1201.1,1522.0 1202.3,1523.9 1203.5,1520.0 1204.7,1512.3 1205.9,1515.1 1207.2,1511.5 1208.4,1510.3 1209.6,1509.8 1210.8,1504.7 1212.1,1505.7 1213.3,1506.0 1214.5,1506.1 1215.7,1507.4 1216.9,1509.9 1218.2,1513.2 1219.4,1512.6 1220.6,1515.1 1221.8,1517.4 1223.1,1519.4 1224.3,1519.7 1225.5,1515.7 1226.7,1520.0 1227.9,1520.4 1229.2,1517.9 1230.4,1522.4 1231.6,1519.6 1232.8,1520.7 1234.1,1527.0 1235.3,1524.4 1236.5,1525.6 1237.7,1524.2 1239.0,1525.2 1240.2,1521.1 1241.4,1519.2 1242.6,1518.2 1243.8,1520.0 1245.1,1517.3 1246.3,1521.7 1247.5,1520.4 1248.7,1521.7 1250.0,1523.5 1251.2,1524.7 1252.4,1523.1 1253.6,1527.6 1254.8,1524.9 1256.1,1524.1 1257.3,1525.9 1258.5,1523.1 1259.7,1526.2 1261.0,1526.7 1262.2,1528.0 1263.4,1526.2 1264.6,1531.8 1265.8,1531.3 1267.1,1524.9 1268.3,1529.1 1269.5,1526.0 1270.7,1529.2 1272.0,1525.2 1273.2,1527.0 1274.4,1529.3 1275.6,1523.4 1276.8,1527.2 1278.1,1526.1 1279.3,1528.5 1280.5,1530.9 1281.7,1530.1 1283.0,1531.7 1284.2,1523.2 1285.4,1528.0 1286.6,1524.3 1287.8,1525.8 1289.1,1525.8 1290.3,1528.7 1291.5,1526.4 1292.7,1529.4 1294.0,1524.1 1295.2,1524.5 1296.4,1522.6 1297.6,1522.3 1298.8,1526.0 1300.1,1529.0 1301.3,1531.8 1302.5,1527.7 1303.7,1529.2 1305.0,1524.8 1306.2,1521.9 1307.4,1526.3 1308.6,1525.4 1309.8,1519.9 1311.1,1524.2 1312.3,1523.9 1313.5,1520.1 1314.7,1525.0 1316.0,1524.6 1317.2,1526.3 1318.4,1524.9 1319.6,1523.7 1320.9,1522.0 1322.1,1527.1 1323.3,1526.8 1324.5,1528.7 1325.7,1527.1 1327.0,1525.3 1328.2,1529.0 1329.4,1524.9 1330.6,1526.9 1331.9,1523.7 1333.1,1529.8 1334.3,1531.6 1335.5,1531.8 1336.7,1527.8 1338.0,1530.1 1339.2,1529.5 1340.4,1530.7 1341.6,1527.9 1342.9,1524.4 1344.1,1525.2 1345.3,1521.3 1346.5,1527.8 1347.7,1527.8 1349.0,1527.0 1350.2,1527.9 1351.4,1531.3 1352.6,1530.5 1353.9,1531.3 1355.1,1529.0 1356.3,1531.1 1357.5,1532.9 1358.7,1532.9 1360.0,1532.9 1361.2,1531.1 1362.4,1528.0 1363.6,1532.5 1364.9,1530.4 1366.1,1532.9 1367.3,1532.9 1368.5,1532.9 1369.7,1532.9 1371.0,1532.9 1372.2,1530.3 1373.4,1532.9 1374.6,1532.8 1375.9,1530.4 1377.1,1531.1 1378.3,1532.5 1379.5,1530.3 1380.7,1528.5 1382.0,1528.1 1383.2,1528.8 1384.4,1528.4 1385.6,1532.2 1386.9,1532.9 1388.1,1532.9 1389.3,1531.6 1390.5,1529.3 1391.8,1532.9 1393.0,1532.9 1394.2,1529.5 1395.4,1532.2 1396.6,1532.3 1397.9,1532.5 1399.1,1532.7 1400.3,1529.3 1401.5,1532.9 1402.8,1529.6 1404.0,1529.8 1405.2,1529.5 1406.4,1528.0 1407.6,1527.1 1408.9,1528.2 1410.1,1523.6 1411.3,1528.5 1412.5,1529.2 1413.8,1525.6 1415.0,1529.6 1416.2,1527.3 1417.4,1527.5 1418.6,1529.2 1419.9,1530.1 1421.1,1528.6 1422.3,1532.9 1423.5,1524.8 1424.8,1530.0 1426.0,1530.3 1427.2,1524.1"/>
</g>
<g clip-path="url(#c4)">
<path class="d" stroke="#515151" d="M204.8,1914.0 206.0,1913.1 207.2,1912.5 208.5,1913.2 209.7,1910.9 210.9,1911.4 212.1,1913.0 213.4,1913.0 214.6,1914.4 215.8,1914.5 217.0,1914.5 218.2,1914.5 219.5,1914.5 220.7,1914.3 221.9,1914.4 223.1,1914.5 224.4,1914.4 225.6,1913.5 226.8,1914.0 228.0,1912.6 229.2,1912.9 230.5,1914.1 231.7,1913.5 232.9,1914.4 234.1,1912.8 235.4,1912.8 236.6,1914.4 237.8,1914.4 239.0,1914.4 240.2,1913.7 241.5,1913.3 242.7,1914.4 243.9,1913.9 245.1,1913.0 246.4,1913.0 247.6,1912.9 248.8,1911.9 250.0,1912.5 251.3,1912.7 252.5,1911.2 253.7,1911.3 254.9,1911.2 256.1,1912.7 257.4,1913.4 258.6,1913.1 259.8,1913.6 261.0,1913.9 262.3,1914.4 263.5,1913.6 264.7,1914.3 265.9,1913.3 267.1,1914.4 268.4,1914.4 269.6,1913.1 270.8,1914.4 272.0,1914.4 273.3,1914.4 274.5,1914.4 275.7,1913.7 276.9,1912.4 278.1,1912.7 279.4,1912.1 280.6,1912.6 281.8,1913.0 283.0,1912.0 284.3,1913.5 285.5,1914.1 286.7,1913.9 287.9,1912.7 289.1,1913.3 290.4,1913.7 291.6,1914.2 292.8,1914.2 294.0,1913.5 295.3,1914.1 296.5,1914.4 297.7,1913.4 298.9,1914.4 300.1,1914.4 301.4,1914.1 302.6,1912.8 303.8,1912.7 305.0,1912.3 306.3,1913.4 307.5,1912.4 308.7,1912.7 309.9,1913.0 311.1,1913.7 312.4,1911.9 313.6,1912.8 314.8,1913.4 316.0,1912.6 317.3,1911.4 318.5,1914.3 319.7,1912.9 320.9,1911.6 322.2,1911.4 323.4,1913.3 324.6,1912.7 325.8,1913.7 327.0,1912.2 328.3,1913.3 329.5,1913.0 330.7,1911.3 331.9,1913.6 333.2,1914.4 334.4,1913.4 335.6,1913.6 336.8,1913.9 338.0,1913.7 339.3,1914.3 340.5,1914.3 341.7,1914.3 342.9,1914.3 344.2,1913.4 345.4,1913.6 346.6,1914.2 347.8,1914.3 349.0,1914.3 350.3,1914.2 351.5,1914.3 352.7,1914.3 353.9,1914.3 355.2,1914.3 356.4,1914.3 357.6,1914.3 358.8,1914.0 360.0,1914.1 361.3,1913.3 362.5,1913.1 363.7,1913.3 364.9,1913.6 366.2,1913.7 367.4,1912.5 368.6,1913.4 369.8,1913.1 371.0,1912.9 372.3,1913.6 373.5,1914.2 374.7,1914.0 375.9,1911.8 377.2,1914.1 378.4,1912.4 379.6,1914.1 380.8,1913.7 382.0,1913.2 383.3,1914.1 384.5,1913.3 385.7,1914.0 386.9,1913.7 388.2,1914.0 389.4,1913.7 390.6,1913.8 391.8,1913.8 393.0,1913.9 394.3,1913.9 395.5,1913.9 396.7,1913.6 397.9,1913.8 399.2,1913.7 400.4,1913.7 401.6,1912.9 402.8,1912.9 404.1,1912.8 405.3,1912.8 406.5,1912.9 407.7,1912.2 408.9,1912.2 410.2,1911.0 411.4,1911.2 412.6,1909.8 413.8,1910.7 415.1,1910.5 416.3,1910.7 417.5,1910.9 418.7,1910.1 419.9,1909.8 421.2,1910.9 422.4,1911.3 423.6,1909.9 424.8,1911.0 426.1,1910.2 427.3,1910.7 428.5,1909.6 429.7,1910.4 430.9,1910.2 432.2,1909.6 433.4,1908.4 434.6,1907.7 435.8,1906.0 437.1,1903.5 438.3,1901.3 439.5,1899.4 440.7,1898.8 441.9,1894.8 443.2,1892.0 444.4,1889.3 445.6,1886.6 446.8,1882.4 448.1,1880.7 449.3,1879.8 450.5,1877.1 451.7,1878.8 452.9,1881.1 454.2,1880.0 455.4,1882.4 456.6,1887.8 457.8,1891.0 459.1,1895.2 460.3,1895.1 461.5,1898.5 462.7,1901.8 463.9,1902.3 465.2,1904.8 466.4,1907.0 467.6,1907.8 468.8,1906.7 470.1,1909.1 471.3,1908.9 472.5,1910.4 473.7,1911.7 475.0,1909.7 476.2,1911.4 477.4,1912.2 478.6,1912.3 479.8,1912.1 481.1,1912.5 482.3,1911.7 483.5,1911.8 484.7,1912.6 486.0,1912.1 487.2,1913.0 488.4,1911.9 489.6,1913.4 490.8,1912.8 492.1,1912.0 493.3,1913.4 494.5,1911.1 495.7,1913.6 497.0,1913.3 498.2,1913.2 499.4,1912.8 500.6,1912.9 501.8,1913.8 503.1,1913.8 504.3,1912.9 505.5,1913.1 506.7,1912.7 508.0,1913.9 509.2,1913.0 510.4,1913.6 511.6,1913.0 512.8,1912.4 514.1,1914.0 515.3,1913.4 516.5,1913.2 517.7,1913.7 519.0,1912.8 520.2,1912.8 521.4,1913.8 522.6,1913.9 523.8,1913.5 525.1,1914.1 526.3,1914.0 527.5,1913.4 528.7,1912.8 530.0,1913.5 531.2,1911.3 532.4,1911.4 533.6,1914.1 534.8,1912.9 536.1,1913.4 537.3,1913.7 538.5,1914.1 539.7,1913.7 541.0,1914.1 542.2,1914.1 543.4,1913.1 544.6,1913.0 545.8,1913.4 547.1,1912.9 548.3,1913.5 549.5,1913.5 550.7,1914.1 552.0,1914.1 553.2,1914.1 554.4,1914.1 555.6,1913.0 556.9,1912.2 558.1,1913.8 559.3,1913.7 560.5,1914.1 561.7,1914.1 563.0,1914.1 564.2,1914.1 565.4,1914.1 566.6,1914.1 567.9,1913.6 569.1,1914.0 570.3,1913.2 571.5,1912.9 572.7,1912.4 574.0,1912.7 575.2,1913.8 576.4,1914.0 577.6,1914.0 578.9,1914.0 580.1,1912.5 581.3,1914.0 582.5,1912.6 583.7,1914.0 585.0,1913.9 586.2,1913.0 587.4,1913.9 588.6,1913.9 589.9,1912.1 591.1,1913.9 592.3,1913.5 593.5,1912.5 594.7,1911.9 596.0,1912.9 597.2,1913.2 598.4,1910.7 599.6,1912.2 600.9,1912.7 602.1,1912.5 603.3,1912.2 604.5,1913.5 605.7,1913.5 607.0,1913.1 608.2,1912.8 609.4,1912.7 610.6,1912.6 611.9,1911.7 613.1,1911.3 614.3,1912.4 615.5,1911.9 616.7,1910.5 618.0,1910.9 619.2,1911.2 620.4,1910.7 621.6,1911.9 622.9,1911.5 624.1,1911.5 625.3,1911.3 626.5,1911.0 627.8,1909.9 629.0,1908.8 630.2,1908.7 631.4,1908.8 632.6,1908.9 633.9,1907.8 635.1,1908.0 636.3,1907.3 637.5,1906.9 638.8,1905.8 640.0,1904.8 641.2,1904.6 642.4,1904.7 643.6,1904.7 644.9,1904.2 646.1,1903.6 647.3,1902.6 648.5,1902.1 649.8,1900.9 651.0,1898.0 652.2,1896.2 653.4,1893.1 654.6,1890.4 655.9,1888.0 657.1,1882.8 658.3,1877.7 659.5,1874.5 660.8,1868.6 662.0,1866.4 663.2,1861.9 664.4,1863.5 665.6,1864.2 666.9,1864.7 668.1,1867.1 669.3,1871.7 670.5,1875.9 671.8,1880.6 673.0,1884.8 674.2,1887.2 675.4,1892.0 676.6,1895.5 677.9,1898.4 679.1,1899.4 680.3,1902.8 681.5,1902.6 682.8,1905.9 684.0,1907.2 685.2,1907.4 686.4,1908.0 687.6,1907.8 688.9,1909.5 690.1,1910.1 691.3,1909.7 692.5,1909.8 693.8,1910.0 695.0,1910.0 696.2,1910.8 697.4,1910.9 698.6,1911.2 699.9,1912.0 701.1,1911.2 702.3,1910.5 703.5,1910.9 704.8,1912.8 706.0,1910.2 707.2,1912.2 708.4,1909.8 709.7,1909.8 710.9,1910.9 712.1,1910.0 713.3,1911.8 714.5,1911.6 715.8,1912.3 717.0,1911.9 718.2,1912.7 719.4,1913.0 720.7,1913.1 721.9,1911.9 723.1,1912.7 724.3,1913.0 725.5,1912.8 726.8,1912.5 728.0,1912.5 729.2,1913.5 730.4,1913.3 731.7,1913.4 732.9,1913.9 734.1,1913.9 735.3,1913.3 736.5,1913.9 737.8,1913.1 739.0,1914.0 740.2,1913.9 741.4,1914.0 742.7,1912.8 743.9,1913.0 745.1,1913.2 746.3,1914.1 747.5,1914.1 748.8,1913.8 750.0,1914.1 751.2,1914.1 752.4,1914.1 753.7,1914.1 754.9,1914.1 756.1,1914.1 757.3,1914.0 758.5,1913.5 759.8,1913.2 761.0,1912.9 762.2,1913.6 763.4,1913.3 764.7,1913.4 765.9,1914.2 767.1,1912.1 768.3,1912.8 769.5,1912.6 770.8,1913.3 772.0,1913.9 773.2,1912.5 774.4,1913.5 775.7,1911.5 776.9,1911.8 778.1,1913.7 779.3,1912.6 780.6,1913.4 781.8,1914.1 783.0,1914.3 784.2,1913.2 785.4,1912.7 786.7,1912.7 787.9,1913.9 789.1,1913.6 790.3,1913.6 791.6,1913.5 792.8,1913.9 794.0,1912.6 795.2,1912.9 796.4,1913.6 797.7,1913.2 798.9,1913.1 800.1,1913.9 801.3,1914.0 802.6,1913.5 803.8,1914.3 805.0,1913.4 806.2,1914.3 807.4,1913.7 808.7,1912.7 809.9,1913.6 811.1,1912.1 812.3,1912.4 813.6,1912.1 814.8,1914.3 816.0,1914.3 817.2,1914.3 818.4,1912.5 819.7,1914.1 820.9,1914.4 822.1,1914.3 823.3,1913.6 824.6,1913.6 825.8,1911.6 827.0,1913.3 828.2,1914.4 829.4,1914.2 830.7,1913.0 831.9,1912.6 833.1,1912.0 834.3,1912.2 835.6,1912.6 836.8,1914.4 838.0,1913.3 839.2,1913.8 840.4,1912.7 841.7,1913.3 842.9,1911.5 844.1,1911.7 845.3,1912.8 846.6,1914.2 847.8,1913.1 849.0,1914.1 850.2,1914.4 851.4,1914.4 852.7,1914.3 853.9,1914.4 855.1,1914.4 856.3,1914.1 857.6,1914.0 858.8,1914.4 860.0,1913.9 861.2,1914.0 862.5,1913.2 863.7,1914.4 864.9,1913.5 866.1,1913.1 867.3,1914.4 868.6,1914.2 869.8,1913.4 871.0,1914.4 872.2,1913.6 873.5,1914.0 874.7,1914.4 875.9,1914.4 877.1,1914.4 878.3,1914.0 879.6,1914.4 880.8,1912.6 882.0,1914.0 883.2,1913.2 884.5,1913.4 885.7,1912.7 886.9,1914.1 888.1,1913.8 889.3,1912.1 890.6,1911.6 891.8,1912.9 893.0,1913.4 894.2,1913.4 895.5,1913.9 896.7,1914.3 897.9,1914.4 899.1,1914.4 900.3,1914.2 901.6,1914.3 902.8,1913.2 904.0,1913.1 905.2,1912.8 906.5,1914.4 907.7,1914.2 908.9,1914.4 910.1,1914.4 911.3,1913.9 912.6,1914.4 913.8,1914.4 915.0,1912.7 916.2,1914.4 917.5,1913.9 918.7,1914.4 919.9,1913.9 921.1,1914.4 922.3,1914.4 923.6,1914.4 924.8,1913.9 926.0,1914.4 927.2,1914.4 928.5,1914.4 929.7,1913.4 930.9,1914.4 932.1,1913.5 933.4,1913.9 934.6,1914.2 935.8,1913.6 937.0,1914.4 938.2,1913.3 939.5,1913.2 940.7,1912.3 941.9,1913.3 943.1,1913.5 944.4,1914.4 945.6,1914.4 946.8,1914.4 948.0,1913.6 949.2,1914.4 950.5,1913.6 951.7,1913.4 952.9,1913.3 954.1,1914.3 955.4,1912.5 956.6,1914.4 957.8,1914.4 959.0,1914.4 960.2,1914.4 961.5,1912.9 962.7,1914.2 963.9,1914.4 965.1,1914.4 966.4,1913.9 967.6,1913.8 968.8,1913.5 970.0,1912.9 971.2,1914.4 972.5,1914.4 973.7,1913.8 974.9,1914.4 976.1,1913.3 977.4,1912.9 978.6,1914.3 979.8,1914.3 981.0,1914.4 982.2,1914.4 983.5,1914.4 984.7,1914.4 985.9,1913.3 987.1,1914.3 988.4,1913.1 989.6,1914.0 990.8,1912.5 992.0,1912.7 993.2,1913.5 994.5,1914.3 995.7,1914.3 996.9,1914.3 998.1,1914.3 999.4,1914.3 1000.6,1914.3 1001.8,1914.3 1003.0,1914.3 1004.2,1914.3 1005.5,1913.5 1006.7,1912.7 1007.9,1911.8 1009.1,1914.3 1010.4,1912.9 1011.6,1914.0 1012.8,1914.2 1014.0,1913.7 1015.3,1914.2 1016.5,1914.2 1017.7,1914.2 1018.9,1912.5 1020.1,1913.9 1021.4,1913.4 1022.6,1911.6 1023.8,1912.4 1025.0,1913.1 1026.3,1912.1 1027.5,1912.7 1028.7,1912.3 1029.9,1910.8 1031.1,1911.3 1032.4,1910.1 1033.6,1910.0 1034.8,1912.5 1036.0,1912.4 1037.3,1912.4 1038.5,1912.4 1039.7,1912.8 1040.9,1912.2 1042.1,1912.2 1043.4,1913.4 1044.6,1913.5 1045.8,1913.4 1047.0,1913.6 1048.3,1913.7 1049.5,1912.9 1050.7,1913.8 1051.9,1912.5 1053.1,1913.8 1054.4,1913.2 1055.6,1913.7 1056.8,1913.6 1058.0,1913.7 1059.3,1913.6 1060.5,1913.2 1061.7,1913.4 1062.9,1912.6 1064.1,1913.3 1065.4,1911.9 1066.6,1911.5 1067.8,1912.9 1069.0,1911.3 1070.3,1911.2 1071.5,1912.1 1072.7,1911.7 1073.9,1909.2 1075.1,1910.4 1076.4,1910.0 1077.6,1909.3 1078.8,1907.8 1080.0,1907.1 1081.3,1906.3 1082.5,1904.3 1083.7,1903.5 1084.9,1901.7 1086.2,1901.5 1087.4,1899.2 1088.6,1899.1 1089.8,1898.3 1091.0,1898.4 1092.3,1897.7 1093.5,1899.4 1094.7,1900.7 1095.9,1901.5 1097.2,1902.5 1098.4,1903.9 1099.6,1904.2 1100.8,1904.9 1102.0,1906.3 1103.3,1906.1 1104.5,1906.7 1105.7,1906.8 1106.9,1907.1 1108.2,1906.5 1109.4,1905.8 1110.6,1903.8 1111.8,1900.9 1113.0,1901.7 1114.3,1900.8 1115.5,1896.7 1116.7,1899.2 1117.9,1896.1 1119.2,1896.8 1120.4,1895.1 1121.6,1895.3 1122.8,1897.1 1124.0,1899.2 1125.3,1900.3 1126.5,1900.4 1127.7,1901.8 1128.9,1904.1 1130.2,1903.7 1131.4,1906.9 1132.6,1908.0 1133.8,1908.4 1135.0,1908.7 1136.3,1909.8 1137.5,1909.9 1138.7,1910.8 1139.9,1909.6 1141.2,1912.1 1142.4,1912.0 1143.6,1911.8 1144.8,1910.8 1146.0,1913.0 1147.3,1913.3 1148.5,1912.4 1149.7,1913.4 1150.9,1913.5 1152.2,1913.6 1153.4,1913.6 1154.6,1913.7 1155.8,1912.7 1157.0,1913.3 1158.3,1912.4 1159.5,1913.8 1160.7,1913.9 1161.9,1913.4 1163.2,1913.1 1164.4,1914.0 1165.6,1912.4 1166.8,1913.8 1168.1,1913.5 1169.3,1914.0 1170.5,1913.1 1171.7,1912.1 1172.9,1914.0 1174.2,1914.1 1175.4,1913.6 1176.6,1913.3 1177.8,1912.4 1179.1,1913.8 1180.3,1911.9 1181.5,1912.8 1182.7,1913.6 1183.9,1914.2 1185.2,1913.4 1186.4,1912.7 1187.6,1913.4 1188.8,1913.5 1190.1,1913.8 1191.3,1913.4 1192.5,1914.3 1193.7,1912.1 1194.9,1912.4 1196.2,1913.3 1197.4,1913.1 1198.6,1914.2 1199.8,1913.9 1201.1,1912.9 1202.3,1913.8 1203.5,1914.2 1204.7,1913.6 1205.9,1912.9 1207.2,1914.1 1208.4,1912.9 1209.6,1912.7 1210.8,1912.6 1212.1,1912.7 1213.3,1913.0 1214.5,1913.4 1215.7,1912.5 1216.9,1914.0 1218.2,1912.4 1219.4,1914.4 1220.6,1913.8 1221.8,1913.7 1223.1,1914.4 1224.3,1913.9 1225.5,1913.6 1226.7,1914.4 1227.9,1914.4 1229.2,1914.0 1230.4,1914.0 1231.6,1913.9 1232.8,1914.4 1234.1,1914.4 1235.3,1913.4 1236.5,1914.4 1237.7,1914.4 1239.0,1913.5 1240.2,1913.7 1241.4,1914.4 1242.6,1914.4 1243.8,1914.4 1245.1,1914.3 1246.3,1912.8 1247.5,1913.1 1248.7,1913.3 1250.0,1913.4 1251.2,1912.9 1252.4,1911.5 1253.6,1913.7 1254.8,1914.2 1256.1,1914.4 1257.3,1914.2 1258.5,1914.4 1259.7,1914.4 1261.0,1914.4 1262.2,1914.4 1263.4,1914.2 1264.6,1914.1 1265.8,1914.4 1267.1,1914.4 1268.3,1914.3 1269.5,1914.4 1270.7,1914.4 1272.0,1914.0 1273.2,1914.4 1274.4,1913.8 1275.6,1912.3 1276.8,1914.4 1278.1,1913.2 1279.3,1914.0 1280.5,1913.0 1281.7,1913.3 1283.0,1914.4 1284.2,1914.4 1285.4,1914.4 1286.6,1913.4 1287.8,1914.4 1289.1,1913.8 1290.3,1912.9 1291.5,1914.0 1292.7,1914.4 1294.0,1914.4 1295.2,1914.4 1296.4,1913.8 1297.6,1914.0 1298.8,1913.8 1300.1,1914.5 1301.3,1913.9 1302.5,1914.3 1303.7,1913.7 1305.0,1914.5 1306.2,1914.5 1307.4,1913.5 1308.6,1914.1 1309.8,1914.5 1311.1,1914.3 1312.3,1913.2 1313.5,1912.6 1314.7,1911.9 1316.0,1913.2 1317.2,1914.0 1318.4,1914.5 1319.6,1914.5 1320.9,1914.2 1322.1,1914.4 1323.3,1913.5 1324.5,1912.4 1325.7,1912.6 1327.0,1913.6 1328.2,1912.5 1329.4,1912.5 1330.6,1913.7 1331.9,1913.8 1333.1,1913.6 1334.3,1913.3 1335.5,1914.5 1336.7,1914.5 1338.0,1914.5 1339.2,1913.5 1340.4,1912.8 1341.6,1913.3 1342.9,1912.0 1344.1,1912.8 1345.3,1913.1 1346.5,1913.5 1347.7,1914.5 1349.0,1912.7 1350.2,1913.9 1351.4,1914.5 1352.6,1913.9 1353.9,1914.0 1355.1,1914.5 1356.3,1914.5 1357.5,1914.2 1358.7,1914.5 1360.0,1914.5 1361.2,1914.2 1362.4,1913.7 1363.6,1914.5 1364.9,1913.8 1366.1,1913.1 1367.3,1913.2 1368.5,1912.3 1369.7,1914.5 1371.0,1912.2 1372.2,1914.3 1373.4,1914.5 1374.6,1914.4 1375.9,1913.9 1377.1,1914.5 1378.3,1913.8 1379.5,1913.7 1380.7,1914.2 1382.0,1914.1 1383.2,1914.1 1384.4,1913.7 1385.6,1914.5 1386.9,1912.4 1388.1,1913.4 1389.3,1913.4 1390.5,1914.1 1391.8,1913.9 1393.0,1912.1 1394.2,1914.5 1395.4,1913.2 1396.6,1914.3 1397.9,1914.5 1399.1,1913.4 1400.3,1914.5 1401.5,1913.2 1402.8,1914.1 1404.0,1914.5 1405.2,1913.8 1406.4,1914.5 1407.6,1913.4 1408.9,1913.2 1410.1,1912.5 1411.3,1912.7 1412.5,1913.1 1413.8,1913.7 1415.0,1914.5 1416.2,1914.5 1417.4,1914.4 1418.6,1914.5 1419.9,1914.5 1421.1,1913.3 1422.3,1912.9 1423.5,1912.6 1424.8,1913.0 1426.0,1912.8 1427.2,1913.0"/>
<path class="d" stroke="#F14040" d="M204.8,1909.3 206.0,1909.3 207.2,1909.0 208.5,1910.8 209.7,1910.8 210.9,1905.8 212.1,1909.8 213.4,1911.0 214.6,1908.0 215.8,1911.4 217.0,1909.4 218.2,1912.7 219.5,1912.9 220.7,1909.0 221.9,1912.4 223.1,1913.9 224.4,1910.0 225.6,1912.3 226.8,1913.4 228.0,1909.9 229.2,1910.2 230.5,1911.2 231.7,1910.1 232.9,1911.4 234.1,1908.3 235.4,1910.2 236.6,1914.3 237.8,1911.6 239.0,1914.3 240.2,1914.3 241.5,1912.9 242.7,1914.3 243.9,1912.7 245.1,1911.8 246.4,1912.8 247.6,1912.1 248.8,1912.4 250.0,1914.3 251.3,1909.2 252.5,1912.9 253.7,1912.4 254.9,1913.2 256.1,1912.4 257.4,1912.9 258.6,1912.2 259.8,1914.3 261.0,1911.7 262.3,1914.2 263.5,1914.3 264.7,1914.3 265.9,1914.3 267.1,1914.2 268.4,1913.6 269.6,1911.3 270.8,1910.7 272.0,1908.6 273.3,1908.9 274.5,1913.9 275.7,1911.5 276.9,1909.6 278.1,1914.2 279.4,1910.7 280.6,1914.2 281.8,1914.2 283.0,1912.1 284.3,1910.9 285.5,1912.3 286.7,1909.0 287.9,1911.1 289.1,1912.7 290.4,1914.0 291.6,1914.0 292.8,1912.5 294.0,1912.1 295.3,1913.3 296.5,1910.4 297.7,1911.3 298.9,1908.5 300.1,1910.6 301.4,1912.1 302.6,1912.3 303.8,1911.5 305.0,1909.8 306.3,1913.0 307.5,1913.0 308.7,1912.9 309.9,1912.8 311.1,1912.6 312.4,1912.7 313.6,1907.9 314.8,1908.8 316.0,1909.2 317.3,1909.2 318.5,1908.4 319.7,1910.0 320.9,1912.1 322.2,1912.4 323.4,1908.6 324.6,1912.6 325.8,1910.9 327.0,1912.8 328.3,1912.1 329.5,1911.4 330.7,1911.2 331.9,1913.1 333.2,1912.8 334.4,1908.2 335.6,1913.4 336.8,1913.3 338.0,1910.6 339.3,1908.3 340.5,1913.6 341.7,1911.5 342.9,1910.5 344.2,1907.1 345.4,1910.3 346.6,1911.5 347.8,1911.7 349.0,1907.7 350.3,1908.1 351.5,1908.6 352.7,1909.7 353.9,1913.2 355.2,1911.0 356.4,1913.4 357.6,1912.7 358.8,1913.1 360.0,1913.7 361.3,1913.7 362.5,1913.6 363.7,1913.6 364.9,1912.2 366.2,1913.1 367.4,1913.6 368.6,1912.8 369.8,1913.5 371.0,1911.6 372.3,1911.1 373.5,1912.0 374.7,1910.4 375.9,1913.3 377.2,1913.4 378.4,1913.4 379.6,1913.3 380.8,1906.6 382.0,1909.7 383.3,1909.4 384.5,1912.6 385.7,1909.4 386.9,1912.2 388.2,1912.8 389.4,1911.4 390.6,1909.4 391.8,1909.4 393.0,1910.7 394.3,1911.3 395.5,1910.2 396.7,1912.2 397.9,1907.1 399.2,1911.7 400.4,1910.3 401.6,1910.3 402.8,1910.9 404.1,1909.4 405.3,1908.6 406.5,1908.5 407.7,1907.4 408.9,1900.9 410.2,1904.2 411.4,1899.1 412.6,1895.6 413.8,1894.6 415.1,1895.6 416.3,1897.5 417.5,1898.5 418.7,1898.1 419.9,1899.4 421.2,1900.7 422.4,1900.9 423.6,1901.1 424.8,1901.7 426.1,1901.6 427.3,1900.4 428.5,1901.2 429.7,1895.4 430.9,1900.4 432.2,1896.7 433.4,1894.4 434.6,1891.6 435.8,1889.9 437.1,1884.2 438.3,1879.9 439.5,1871.9 440.7,1865.4 441.9,1857.1 443.2,1848.4 444.4,1839.7 445.6,1835.0 446.8,1822.4 448.1,1810.3 449.3,1806.3 450.5,1806.2 451.7,1806.9 452.9,1812.9 454.2,1820.8 455.4,1820.6 456.6,1832.3 457.8,1843.7 459.1,1852.4 460.3,1859.3 461.5,1868.5 462.7,1875.2 463.9,1879.4 465.2,1885.6 466.4,1886.4 467.6,1892.2 468.8,1898.5 470.1,1896.8 471.3,1901.1 472.5,1900.0 473.7,1901.1 475.0,1902.5 476.2,1907.0 477.4,1903.9 478.6,1905.7 479.8,1908.2 481.1,1908.3 482.3,1908.2 483.5,1909.8 484.7,1908.2 486.0,1909.1 487.2,1905.3 488.4,1906.2 489.6,1906.2 490.8,1908.2 492.1,1907.1 493.3,1908.6 494.5,1911.6 495.7,1909.7 497.0,1909.0 498.2,1910.2 499.4,1907.4 500.6,1906.9 501.8,1909.8 503.1,1907.0 504.3,1904.7 505.5,1908.9 506.7,1909.5 508.0,1909.4 509.2,1905.5 510.4,1908.5 511.6,1908.6 512.8,1909.0 514.1,1908.7 515.3,1911.7 516.5,1911.0 517.7,1910.9 519.0,1905.3 520.2,1908.8 521.4,1906.1 522.6,1908.5 523.8,1908.5 525.1,1905.3 526.3,1903.0 527.5,1905.1 528.7,1907.2 530.0,1906.6 531.2,1909.2 532.4,1910.3 533.6,1908.9 534.8,1907.4 536.1,1904.5 537.3,1909.2 538.5,1908.0 539.7,1907.4 541.0,1908.5 542.2,1910.3 543.4,1907.0 544.6,1909.3 545.8,1908.0 547.1,1909.4 548.3,1912.7 549.5,1908.5 550.7,1907.0 552.0,1911.5 553.2,1910.1 554.4,1909.3 555.6,1908.8 556.9,1908.5 558.1,1911.5 559.3,1907.2 560.5,1909.8 561.7,1912.5 563.0,1910.7 564.2,1906.8 565.4,1911.7 566.6,1911.6 567.9,1912.8 569.1,1912.5 570.3,1911.6 571.5,1907.0 572.7,1907.5 574.0,1906.1 575.2,1910.0 576.4,1908.6 577.6,1912.5 578.9,1911.8 580.1,1910.4 581.3,1908.2 582.5,1911.4 583.7,1908.0 585.0,1911.7 586.2,1911.6 587.4,1911.3 588.6,1912.5 589.9,1911.5 591.1,1909.4 592.3,1911.0 593.5,1906.3 594.7,1910.0 596.0,1911.8 597.2,1911.8 598.4,1908.9 599.6,1909.3 600.9,1910.1 602.1,1911.2 603.3,1908.7 604.5,1910.3 605.7,1906.6 607.0,1906.3 608.2,1907.2 609.4,1906.6 610.6,1906.4 611.9,1907.2 613.1,1908.0 614.3,1907.5 615.5,1906.8 616.7,1905.8 618.0,1903.2 619.2,1904.2 620.4,1897.8 621.6,1897.8 622.9,1896.7 624.1,1898.3 625.3,1897.4 626.5,1893.6 627.8,1891.5 629.0,1890.0 630.2,1890.6 631.4,1891.8 632.6,1889.5 633.9,1887.8 635.1,1886.7 636.3,1887.0 637.5,1883.1 638.8,1879.4 640.0,1881.2 641.2,1881.7 642.4,1878.0 643.6,1878.6 644.9,1878.1 646.1,1878.5 647.3,1876.7 648.5,1870.7 649.8,1864.5 651.0,1855.5 652.2,1850.5 653.4,1841.7 654.6,1830.6 655.9,1818.3 657.1,1803.6 658.3,1793.5 659.5,1781.2 660.8,1766.0 662.0,1742.5 663.2,1736.8 664.4,1740.1 665.6,1738.5 666.9,1754.9 668.1,1758.0 669.3,1771.6 670.5,1783.2 671.8,1797.0 673.0,1810.9 674.2,1826.8 675.4,1833.2 676.6,1847.3 677.9,1857.4 679.1,1862.5 680.3,1871.9 681.5,1877.6 682.8,1882.8 684.0,1890.5 685.2,1893.6 686.4,1891.1 687.6,1893.7 688.9,1892.4 690.1,1893.1 691.3,1894.3 692.5,1899.1 693.8,1901.6 695.0,1899.6 696.2,1901.5 697.4,1900.7 698.6,1901.8 699.9,1901.9 701.1,1903.6 702.3,1898.7 703.5,1905.2 704.8,1905.4 706.0,1901.3 707.2,1903.6 708.4,1904.6 709.7,1905.5 710.9,1904.7 712.1,1905.7 713.3,1903.3 714.5,1902.0 715.8,1902.6 717.0,1900.5 718.2,1904.6 719.4,1909.9 720.7,1907.0 721.9,1905.8 723.1,1908.1 724.3,1907.7 725.5,1911.1 726.8,1907.9 728.0,1909.1 729.2,1911.5 730.4,1911.3 731.7,1910.4 732.9,1911.8 734.1,1912.2 735.3,1911.2 736.5,1910.6 737.8,1912.4 739.0,1910.1 740.2,1908.5 741.4,1909.1 742.7,1905.8 743.9,1911.1 745.1,1911.8 746.3,1910.3 747.5,1912.9 748.8,1911.1 750.0,1910.2 751.2,1912.9 752.4,1913.1 753.7,1913.1 754.9,1913.2 756.1,1913.2 757.3,1913.3 758.5,1913.3 759.8,1913.3 761.0,1912.9 762.2,1913.4 763.4,1911.6 764.7,1910.1 765.9,1913.5 767.1,1909.7 768.3,1911.7 769.5,1910.1 770.8,1913.5 772.0,1908.4 773.2,1911.3 774.4,1909.1 775.7,1913.6 776.9,1911.0 778.1,1912.6 779.3,1911.8 780.6,1913.0 781.8,1908.9 783.0,1909.8 784.2,1913.7 785.4,1910.7 786.7,1912.9 787.9,1912.2 789.1,1913.8 790.3,1907.1 791.6,1909.7 792.8,1910.7 794.0,1913.8 795.2,1910.9 796.4,1911.3 797.7,1910.3 798.9,1911.4 800.1,1913.8 801.3,1913.1 802.6,1911.7 803.8,1913.8 805.0,1913.8 806.2,1913.8 807.4,1913.8 808.7,1912.2 809.9,1912.1 811.1,1913.0 812.3,1911.1 813.6,1911.4 814.8,1913.6 816.0,1913.5 817.2,1911.6 818.4,1912.4 819.7,1906.5 820.9,1912.2 822.1,1911.1 823.3,1909.7 824.6,1913.1 825.8,1912.2 827.0,1910.4 828.2,1910.8 829.4,1912.6 830.7,1912.5 831.9,1911.4 833.1,1910.9 834.3,1912.3 835.6,1912.3 836.8,1911.0 838.0,1912.3 839.2,1909.5 840.4,1908.4 841.7,1911.2 842.9,1907.6 844.1,1906.9 845.3,1909.0 846.6,1907.1 847.8,1910.7 849.0,1907.8 850.2,1913.2 851.4,1911.7 852.7,1913.3 853.9,1913.4 855.1,1913.5 856.3,1913.6 857.6,1911.9 858.8,1912.7 860.0,1911.6 861.2,1909.8 862.5,1907.1 863.7,1907.6 864.9,1909.0 866.1,1909.4 867.3,1906.6 868.6,1910.8 869.8,1910.9 871.0,1913.2 872.2,1911.9 873.5,1911.2 874.7,1914.1 875.9,1914.1 877.1,1909.8 878.3,1914.1 879.6,1911.8 880.8,1909.5 882.0,1910.9 883.2,1913.6 884.5,1909.4 885.7,1912.2 886.9,1914.1 888.1,1914.1 889.3,1914.1 890.6,1914.1 891.8,1914.1 893.0,1910.6 894.2,1913.1 895.5,1911.7 896.7,1908.6 897.9,1911.2 899.1,1908.4 900.3,1908.7 901.6,1911.2 902.8,1910.0 904.0,1914.1 905.2,1910.1 906.5,1914.1 907.7,1911.5 908.9,1912.9 910.1,1912.2 911.3,1905.2 912.6,1908.9 913.8,1907.9 915.0,1914.2 916.2,1914.1 917.5,1913.7 918.7,1914.1 919.9,1912.1 921.1,1913.1 922.3,1913.0 923.6,1910.1 924.8,1913.1 926.0,1914.0 927.2,1911.0 928.5,1913.5 929.7,1912.9 930.9,1914.1 932.1,1911.4 933.4,1914.1 934.6,1908.1 935.8,1910.0 937.0,1913.3 938.2,1911.8 939.5,1911.8 940.7,1911.9 941.9,1910.4 943.1,1910.2 944.4,1909.4 945.6,1912.2 946.8,1911.1 948.0,1908.8 949.2,1906.4 950.5,1905.0 951.7,1910.6 952.9,1911.2 954.1,1913.9 955.4,1908.9 956.6,1913.7 957.8,1913.6 959.0,1912.8 960.2,1913.1 961.5,1911.2 962.7,1908.4 963.9,1907.0 965.1,1903.8 966.4,1904.7 967.6,1907.4 968.8,1909.7 970.0,1905.6 971.2,1909.4 972.5,1909.2 973.7,1909.0 974.9,1911.6 976.1,1912.7 977.4,1911.1 978.6,1913.3 979.8,1910.9 981.0,1911.1 982.2,1910.2 983.5,1910.5 984.7,1911.9 985.9,1908.0 987.1,1908.4 988.4,1909.9 989.6,1913.8 990.8,1911.0 992.0,1911.7 993.2,1913.8 994.5,1911.7 995.7,1909.4 996.9,1913.8 998.1,1913.7 999.4,1911.4 1000.6,1912.6 1001.8,1913.7 1003.0,1913.7 1004.2,1911.2 1005.5,1908.8 1006.7,1913.3 1007.9,1908.5 1009.1,1912.8 1010.4,1909.7 1011.6,1909.0 1012.8,1912.9 1014.0,1913.3 1015.3,1910.7 1016.5,1908.1 1017.7,1910.6 1018.9,1912.2 1020.1,1912.2 1021.4,1911.8 1022.6,1911.0 1023.8,1907.9 1025.0,1908.0 1026.3,1908.2 1027.5,1907.1 1028.7,1902.9 1029.9,1899.9 1031.1,1900.5 1032.4,1898.7 1033.6,1899.7 1034.8,1899.8 1036.0,1898.7 1037.3,1899.1 1038.5,1901.1 1039.7,1901.4 1040.9,1902.9 1042.1,1907.0 1043.4,1908.6 1044.6,1909.4 1045.8,1909.5 1047.0,1907.3 1048.3,1910.9 1049.5,1908.7 1050.7,1905.9 1051.9,1908.7 1053.1,1908.3 1054.4,1909.9 1055.6,1908.1 1056.8,1908.2 1058.0,1903.3 1059.3,1905.1 1060.5,1908.5 1061.7,1909.3 1062.9,1907.2 1064.1,1908.5 1065.4,1902.9 1066.6,1900.7 1067.8,1900.6 1069.0,1902.9 1070.3,1903.1 1071.5,1906.2 1072.7,1901.4 1073.9,1900.7 1075.1,1899.0 1076.4,1900.8 1077.6,1892.9 1078.8,1891.9 1080.0,1887.3 1081.3,1885.6 1082.5,1881.4 1083.7,1876.1 1084.9,1876.1 1086.2,1870.8 1087.4,1867.9 1088.6,1865.1 1089.8,1866.5 1091.0,1862.2 1092.3,1861.9 1093.5,1868.3 1094.7,1867.3 1095.9,1870.4 1097.2,1876.1 1098.4,1876.7 1099.6,1883.7 1100.8,1878.8 1102.0,1884.5 1103.3,1885.2 1104.5,1880.7 1105.7,1879.1 1106.9,1880.8 1108.2,1876.5 1109.4,1876.5 1110.6,1869.2 1111.8,1865.4 1113.0,1861.4 1114.3,1853.6 1115.5,1845.2 1116.7,1840.1 1117.9,1834.7 1119.2,1833.0 1120.4,1829.6 1121.6,1834.5 1122.8,1833.7 1124.0,1843.5 1125.3,1839.7 1126.5,1850.5 1127.7,1856.9 1128.9,1861.2 1130.2,1866.0 1131.4,1875.9 1132.6,1879.2 1133.8,1886.7 1135.0,1885.4 1136.3,1890.3 1137.5,1896.3 1138.7,1895.9 1139.9,1900.0 1141.2,1901.3 1142.4,1902.2 1143.6,1903.7 1144.8,1900.2 1146.0,1901.2 1147.3,1905.2 1148.5,1905.9 1149.7,1906.6 1150.9,1907.1 1152.2,1901.4 1153.4,1905.9 1154.6,1905.9 1155.8,1905.6 1157.0,1908.7 1158.3,1907.9 1159.5,1908.4 1160.7,1907.5 1161.9,1906.5 1163.2,1910.1 1164.4,1905.4 1165.6,1904.6 1166.8,1903.9 1168.1,1908.1 1169.3,1910.2 1170.5,1909.3 1171.7,1907.9 1172.9,1903.0 1174.2,1906.7 1175.4,1908.5 1176.6,1907.5 1177.8,1911.4 1179.1,1911.8 1180.3,1911.9 1181.5,1907.6 1182.7,1908.4 1183.9,1910.4 1185.2,1903.5 1186.4,1905.6 1187.6,1908.8 1188.8,1904.6 1190.1,1909.2 1191.3,1911.1 1192.5,1912.1 1193.7,1910.4 1194.9,1913.3 1196.2,1912.6 1197.4,1913.4 1198.6,1913.5 1199.8,1913.5 1201.1,1913.6 1202.3,1913.6 1203.5,1913.7 1204.7,1913.7 1205.9,1913.7 1207.2,1912.8 1208.4,1913.0 1209.6,1911.7 1210.8,1913.8 1212.1,1911.9 1213.3,1911.8 1214.5,1908.1 1215.7,1911.7 1216.9,1913.9 1218.2,1913.9 1219.4,1913.8 1220.6,1910.8 1221.8,1910.5 1223.1,1912.8 1224.3,1912.6 1225.5,1910.2 1226.7,1913.0 1227.9,1912.4 1229.2,1911.5 1230.4,1914.0 1231.6,1914.0 1232.8,1914.0 1234.1,1914.1 1235.3,1914.1 1236.5,1914.1 1237.7,1914.1 1239.0,1911.4 1240.2,1912.3 1241.4,1914.1 1242.6,1911.9 1243.8,1914.1 1245.1,1914.1 1246.3,1912.8 1247.5,1913.9 1248.7,1910.4 1250.0,1911.5 1251.2,1914.1 1252.4,1913.7 1253.6,1914.2 1254.8,1914.2 1256.1,1914.2 1257.3,1913.5 1258.5,1914.1 1259.7,1909.9 1261.0,1911.0 1262.2,1910.7 1263.4,1906.1 1264.6,1909.9 1265.8,1910.3 1267.1,1914.2 1268.3,1910.0 1269.5,1913.0 1270.7,1912.8 1272.0,1913.8 1273.2,1911.9 1274.4,1913.8 1275.6,1912.4 1276.8,1909.8 1278.1,1914.3 1279.3,1914.2 1280.5,1914.3 1281.7,1914.3 1283.0,1914.3 1284.2,1913.6 1285.4,1914.3 1286.6,1909.1 1287.8,1910.9 1289.1,1908.8 1290.3,1910.1 1291.5,1914.3 1292.7,1914.3 1294.0,1914.3 1295.2,1914.3 1296.4,1913.1 1297.6,1914.3 1298.8,1911.8 1300.1,1914.3 1301.3,1911.9 1302.5,1913.1 1303.7,1913.4 1305.0,1911.4 1306.2,1911.3 1307.4,1913.1 1308.6,1910.7 1309.8,1911.6 1311.1,1913.3 1312.3,1914.3 1313.5,1913.5 1314.7,1911.0 1316.0,1912.8 1317.2,1912.3 1318.4,1913.0 1319.6,1908.3 1320.9,1913.1 1322.1,1907.6 1323.3,1910.0 1324.5,1909.1 1325.7,1909.8 1327.0,1912.6 1328.2,1912.7 1329.4,1914.3 1330.6,1914.3 1331.9,1914.4 1333.1,1911.4 1334.3,1914.2 1335.5,1911.7 1336.7,1912.9 1338.0,1908.9 1339.2,1911.2 1340.4,1912.4 1341.6,1911.8 1342.9,1912.4 1344.1,1912.9 1345.3,1909.8 1346.5,1911.9 1347.7,1911.3 1349.0,1913.3 1350.2,1913.9 1351.4,1912.2 1352.6,1914.4 1353.9,1914.1 1355.1,1914.4 1356.3,1912.9 1357.5,1914.3 1358.7,1913.7 1360.0,1914.3 1361.2,1914.4 1362.4,1913.4 1363.6,1911.2 1364.9,1912.3 1366.1,1912.0 1367.3,1910.5 1368.5,1909.3 1369.7,1907.4 1371.0,1909.7 1372.2,1911.4 1373.4,1912.1 1374.6,1910.5 1375.9,1910.5 1377.1,1910.1 1378.3,1908.2 1379.5,1913.5 1380.7,1911.8 1382.0,1913.6 1383.2,1912.6 1384.4,1912.5 1385.6,1909.9 1386.9,1912.7 1388.1,1908.4 1389.3,1911.7 1390.5,1910.0 1391.8,1912.6 1393.0,1909.9 1394.2,1913.7 1395.4,1911.9 1396.6,1910.5 1397.9,1912.5 1399.1,1913.1 1400.3,1913.4 1401.5,1913.7 1402.8,1914.4 1404.0,1914.4 1405.2,1912.3 1406.4,1909.9 1407.6,1911.9 1408.9,1914.4 1410.1,1914.0 1411.3,1913.7 1412.5,1911.5 1413.8,1914.4 1415.0,1914.4 1416.2,1914.4 1417.4,1911.0 1418.6,1912.4 1419.9,1912.1 1421.1,1911.5 1422.3,1909.7 1423.5,1908.4 1424.8,1912.5 1426.0,1912.6 1427.2,1914.4"/>
<path class="d" stroke="#1A6FDF" d="M204.8,1909.4 206.0,1909.6 207.2,1909.3 208.5,1906.2 209.7,1911.4 210.9,1906.9 212.1,1909.4 213.4,1908.2 214.6,1905.9 215.8,1908.9 217.0,1904.7 218.2,1911.7 219.5,1909.5 220.7,1909.6 221.9,1912.2 223.1,1911.0 224.4,1913.3 225.6,1909.7 226.8,1910.7 228.0,1913.7 229.2,1911.4 230.5,1911.0 231.7,1912.9 232.9,1909.4 234.1,1911.6 235.4,1914.2 236.6,1912.2 237.8,1914.3 239.0,1910.2 240.2,1913.8 241.5,1914.3 242.7,1914.3 243.9,1911.5 245.1,1913.5 246.4,1913.4 247.6,1913.9 248.8,1914.2 250.0,1910.1 251.3,1910.2 252.5,1912.8 253.7,1912.3 254.9,1911.6 256.1,1906.7 257.4,1912.2 258.6,1912.2 259.8,1913.5 261.0,1914.0 262.3,1914.2 263.5,1914.2 264.7,1914.2 265.9,1913.3 267.1,1912.4 268.4,1913.8 269.6,1909.4 270.8,1912.7 272.0,1913.8 273.3,1914.2 274.5,1908.9 275.7,1910.0 276.9,1912.0 278.1,1907.6 279.4,1911.4 280.6,1910.6 281.8,1905.8 283.0,1907.1 284.3,1907.3 285.5,1904.5 286.7,1908.5 287.9,1912.1 289.1,1912.4 290.4,1912.5 291.6,1908.5 292.8,1905.3 294.0,1906.6 295.3,1905.6 296.5,1908.4 297.7,1909.7 298.9,1911.1 300.1,1908.4 301.4,1909.9 302.6,1911.6 303.8,1907.9 305.0,1910.1 306.3,1913.0 307.5,1912.9 308.7,1908.9 309.9,1910.9 311.1,1908.8 312.4,1909.5 313.6,1909.7 314.8,1912.4 316.0,1910.4 317.3,1912.0 318.5,1910.7 319.7,1908.1 320.9,1907.9 322.2,1908.4 323.4,1909.9 324.6,1912.0 325.8,1910.8 327.0,1909.3 328.3,1911.4 329.5,1908.7 330.7,1910.3 331.9,1912.7 333.2,1911.6 334.4,1910.4 335.6,1911.1 336.8,1909.1 338.0,1913.5 339.3,1910.0 340.5,1910.8 341.7,1909.5 342.9,1909.6 344.2,1908.8 345.4,1908.2 346.6,1913.6 347.8,1909.6 349.0,1909.9 350.3,1912.0 351.5,1909.9 352.7,1906.8 353.9,1913.6 355.2,1911.7 356.4,1908.0 357.6,1908.4 358.8,1908.0 360.0,1912.2 361.3,1908.5 362.5,1907.8 363.7,1912.7 364.9,1913.4 366.2,1912.5 367.4,1913.3 368.6,1910.4 369.8,1912.5 371.0,1913.3 372.3,1910.1 373.5,1910.6 374.7,1911.4 375.9,1913.0 377.2,1912.1 378.4,1910.5 379.6,1909.4 380.8,1908.9 382.0,1908.7 383.3,1908.3 384.5,1908.9 385.7,1903.6 386.9,1910.0 388.2,1909.7 389.4,1909.5 390.6,1912.4 391.8,1909.8 393.0,1912.2 394.3,1912.0 395.5,1909.6 396.7,1908.6 397.9,1911.6 399.2,1908.5 400.4,1906.4 401.6,1904.3 402.8,1905.9 404.1,1907.9 405.3,1900.8 406.5,1902.8 407.7,1901.4 408.9,1901.4 410.2,1897.7 411.4,1895.9 412.6,1898.9 413.8,1894.9 415.1,1892.8 416.3,1892.4 417.5,1892.9 418.7,1896.2 419.9,1894.8 421.2,1894.0 422.4,1891.7 423.6,1897.4 424.8,1893.0 426.1,1896.7 427.3,1894.7 428.5,1895.7 429.7,1893.3 430.9,1889.0 432.2,1890.2 433.4,1887.9 434.6,1880.3 435.8,1877.0 437.1,1873.9 438.3,1868.2 439.5,1861.4 440.7,1856.2 441.9,1839.8 443.2,1832.1 444.4,1819.4 445.6,1809.0 446.8,1793.6 448.1,1793.3 449.3,1785.9 450.5,1783.6 451.7,1773.5 452.9,1781.6 454.2,1791.8 455.4,1796.7 456.6,1816.7 457.8,1825.5 459.1,1836.8 460.3,1850.2 461.5,1859.2 462.7,1867.1 463.9,1874.3 465.2,1877.3 466.4,1885.7 467.6,1887.7 468.8,1890.4 470.1,1893.1 471.3,1894.3 472.5,1895.6 473.7,1900.0 475.0,1899.4 476.2,1905.5 477.4,1903.6 478.6,1906.7 479.8,1907.3 481.1,1903.5 482.3,1905.3 483.5,1907.6 484.7,1906.3 486.0,1908.4 487.2,1905.4 488.4,1908.2 489.6,1906.0 490.8,1905.1 492.1,1908.7 493.3,1906.4 494.5,1910.7 495.7,1905.1 497.0,1907.0 498.2,1909.2 499.4,1907.5 500.6,1910.9 501.8,1906.1 503.1,1908.2 504.3,1909.2 505.5,1909.0 506.7,1910.7 508.0,1909.0 509.2,1911.2 510.4,1910.3 511.6,1912.3 512.8,1910.6 514.1,1908.7 515.3,1912.4 516.5,1911.2 517.7,1909.0 519.0,1911.0 520.2,1909.7 521.4,1911.4 522.6,1908.5 523.8,1909.0 525.1,1912.6 526.3,1912.7 527.5,1909.0 528.7,1911.0 530.0,1912.7 531.2,1910.6 532.4,1908.0 533.6,1912.8 534.8,1911.9 536.1,1912.8 537.3,1912.8 538.5,1909.2 539.7,1910.4 541.0,1908.7 542.2,1911.6 543.4,1912.0 544.6,1912.9 545.8,1910.7 547.1,1912.2 548.3,1910.6 549.5,1907.6 550.7,1906.6 552.0,1912.0 553.2,1911.7 554.4,1911.9 555.6,1912.5 556.9,1912.9 558.1,1908.6 559.3,1906.0 560.5,1909.3 561.7,1908.8 563.0,1908.2 564.2,1911.1 565.4,1912.0 566.6,1912.1 567.9,1910.8 569.1,1911.6 570.3,1912.5 571.5,1908.4 572.7,1911.0 574.0,1911.7 575.2,1909.4 576.4,1908.7 577.6,1909.8 578.9,1909.7 580.1,1908.0 581.3,1907.8 582.5,1908.7 583.7,1911.3 585.0,1909.0 586.2,1910.6 587.4,1910.7 588.6,1911.2 589.9,1909.4 591.1,1907.6 592.3,1907.1 593.5,1910.1 594.7,1910.1 596.0,1911.0 597.2,1911.1 598.4,1905.9 599.6,1908.0 600.9,1906.3 602.1,1908.2 603.3,1908.1 604.5,1908.8 605.7,1905.7 607.0,1907.4 608.2,1907.2 609.4,1905.6 610.6,1902.7 611.9,1907.1 613.1,1902.1 614.3,1905.5 615.5,1905.4 616.7,1902.1 618.0,1902.7 619.2,1901.1 620.4,1899.8 621.6,1896.0 622.9,1892.8 624.1,1892.9 625.3,1891.0 626.5,1888.0 627.8,1885.5 629.0,1886.5 630.2,1881.6 631.4,1880.5 632.6,1882.0 633.9,1881.5 635.1,1879.6 636.3,1878.6 637.5,1872.3 638.8,1869.0 640.0,1871.0 641.2,1869.1 642.4,1863.0 643.6,1867.6 644.9,1864.9 646.1,1863.6 647.3,1860.6 648.5,1859.6 649.8,1850.7 651.0,1844.9 652.2,1829.6 653.4,1820.3 654.6,1808.4 655.9,1790.1 657.1,1769.8 658.3,1752.7 659.5,1725.0 660.8,1722.3 662.0,1694.9 663.2,1675.8 664.4,1677.5 665.6,1675.4 666.9,1684.0 668.1,1709.6 669.3,1726.5 670.5,1751.8 671.8,1759.0 673.0,1781.8 674.2,1801.3 675.4,1814.9 676.6,1828.5 677.9,1838.0 679.1,1850.3 680.3,1861.4 681.5,1870.4 682.8,1875.7 684.0,1880.0 685.2,1885.5 686.4,1888.9 687.6,1891.0 688.9,1892.4 690.1,1889.6 691.3,1893.8 692.5,1894.3 693.8,1896.1 695.0,1897.9 696.2,1897.7 697.4,1894.0 698.6,1893.1 699.9,1894.9 701.1,1895.6 702.3,1898.9 703.5,1898.1 704.8,1898.7 706.0,1897.9 707.2,1901.8 708.4,1902.6 709.7,1896.2 710.9,1900.5 712.1,1901.9 713.3,1900.6 714.5,1905.0 715.8,1905.6 717.0,1906.2 718.2,1906.0 719.4,1906.5 720.7,1907.2 721.9,1906.3 723.1,1906.9 724.3,1904.4 725.5,1906.1 726.8,1905.4 728.0,1904.6 729.2,1904.7 730.4,1906.2 731.7,1905.4 732.9,1908.6 734.1,1904.4 735.3,1909.2 736.5,1908.0 737.8,1910.2 739.0,1910.5 740.2,1909.9 741.4,1911.4 742.7,1910.8 743.9,1911.4 745.1,1912.2 746.3,1912.3 747.5,1912.3 748.8,1912.2 750.0,1911.2 751.2,1910.5 752.4,1911.1 753.7,1910.0 754.9,1910.1 756.1,1905.7 757.3,1909.1 758.5,1910.6 759.8,1911.3 761.0,1912.0 762.2,1910.3 763.4,1911.4 764.7,1911.5 765.9,1911.7 767.1,1910.8 768.3,1911.0 769.5,1912.7 770.8,1912.2 772.0,1910.3 773.2,1908.2 774.4,1910.3 775.7,1911.9 776.9,1910.9 778.1,1913.3 779.3,1912.5 780.6,1912.7 781.8,1909.5 783.0,1907.7 784.2,1906.8 785.4,1909.4 786.7,1912.3 787.9,1909.4 789.1,1911.5 790.3,1910.4 791.6,1911.6 792.8,1910.2 794.0,1911.7 795.2,1912.9 796.4,1908.6 797.7,1911.9 798.9,1911.7 800.1,1910.7 801.3,1908.1 802.6,1911.2 803.8,1912.0 805.0,1913.0 806.2,1912.8 807.4,1909.8 808.7,1912.8 809.9,1909.1 811.1,1913.6 812.3,1910.3 813.6,1905.9 814.8,1907.6 816.0,1911.7 817.2,1908.8 818.4,1913.3 819.7,1913.2 820.9,1910.1 822.1,1909.2 823.3,1911.0 824.6,1909.7 825.8,1910.7 827.0,1912.7 828.2,1909.2 829.4,1909.4 830.7,1910.1 831.9,1907.9 833.1,1909.3 834.3,1910.2 835.6,1907.7 836.8,1909.1 838.0,1904.9 839.2,1902.9 840.4,1906.0 841.7,1909.5 842.9,1910.2 844.1,1911.2 845.3,1912.6 846.6,1910.5 847.8,1910.8 849.0,1910.8 850.2,1911.4 851.4,1909.5 852.7,1912.5 853.9,1909.8 855.1,1904.4 856.3,1904.3 857.6,1908.6 858.8,1909.2 860.0,1908.7 861.2,1909.3 862.5,1911.3 863.7,1911.6 864.9,1912.8 866.1,1909.2 867.3,1907.1 868.6,1909.5 869.8,1911.0 871.0,1909.3 872.2,1910.2 873.5,1911.4 874.7,1909.9 875.9,1906.1 877.1,1908.8 878.3,1907.5 879.6,1908.3 880.8,1909.4 882.0,1910.5 883.2,1911.4 884.5,1913.3 885.7,1914.0 886.9,1913.7 888.1,1913.7 889.3,1913.3 890.6,1911.1 891.8,1910.8 893.0,1914.1 894.2,1913.3 895.5,1910.2 896.7,1914.0 897.9,1909.8 899.1,1911.7 900.3,1914.1 901.6,1910.0 902.8,1914.0 904.0,1910.4 905.2,1914.0 906.5,1914.0 907.7,1913.8 908.9,1912.6 910.1,1913.6 911.3,1912.1 912.6,1911.4 913.8,1909.9 915.0,1910.4 916.2,1910.7 917.5,1911.3 918.7,1913.0 919.9,1910.8 921.1,1911.4 922.3,1912.3 923.6,1913.0 924.8,1912.3 926.0,1913.4 927.2,1909.2 928.5,1914.0 929.7,1911.2 930.9,1914.0 932.1,1914.0 933.4,1914.0 934.6,1914.0 935.8,1912.6 937.0,1911.8 938.2,1912.0 939.5,1913.6 940.7,1911.4 941.9,1913.6 943.1,1911.3 944.4,1909.0 945.6,1911.5 946.8,1910.8 948.0,1908.8 949.2,1914.0 950.5,1913.9 951.7,1914.0 952.9,1913.8 954.1,1907.5 955.4,1909.6 956.6,1908.6 957.8,1911.2 959.0,1910.9 960.2,1912.3 961.5,1913.2 962.7,1908.8 963.9,1910.6 965.1,1911.8 966.4,1908.1 967.6,1908.2 968.8,1911.8 970.0,1911.4 971.2,1909.3 972.5,1912.6 973.7,1911.1 974.9,1911.1 976.1,1911.0 977.4,1911.9 978.6,1909.9 979.8,1910.0 981.0,1911.8 982.2,1905.8 983.5,1910.8 984.7,1908.7 985.9,1909.9 987.1,1908.7 988.4,1908.7 989.6,1913.7 990.8,1911.5 992.0,1909.4 993.2,1909.5 994.5,1907.2 995.7,1909.6 996.9,1912.8 998.1,1911.8 999.4,1912.8 1000.6,1913.0 1001.8,1911.7 1003.0,1913.5 1004.2,1912.3 1005.5,1913.5 1006.7,1911.0 1007.9,1913.4 1009.1,1913.3 1010.4,1911.0 1011.6,1912.6 1012.8,1908.7 1014.0,1910.1 1015.3,1911.2 1016.5,1911.6 1017.7,1910.5 1018.9,1908.1 1020.1,1908.9 1021.4,1907.9 1022.6,1910.1 1023.8,1908.4 1025.0,1905.6 1026.3,1903.5 1027.5,1902.9 1028.7,1905.5 1029.9,1904.3 1031.1,1902.6 1032.4,1902.2 1033.6,1901.3 1034.8,1902.4 1036.0,1898.8 1037.3,1900.7 1038.5,1900.8 1039.7,1898.7 1040.9,1903.8 1042.1,1903.9 1043.4,1902.4 1044.6,1909.0 1045.8,1908.7 1047.0,1910.3 1048.3,1910.5 1049.5,1910.8 1050.7,1909.0 1051.9,1905.0 1053.1,1908.8 1054.4,1908.2 1055.6,1908.2 1056.8,1907.8 1058.0,1907.8 1059.3,1906.1 1060.5,1908.8 1061.7,1906.7 1062.9,1907.8 1064.1,1907.7 1065.4,1907.6 1066.6,1906.1 1067.8,1904.0 1069.0,1906.5 1070.3,1905.4 1071.5,1904.5 1072.7,1902.9 1073.9,1901.3 1075.1,1897.6 1076.4,1893.8 1077.6,1892.7 1078.8,1888.0 1080.0,1881.5 1081.3,1880.5 1082.5,1874.6 1083.7,1867.6 1084.9,1867.1 1086.2,1860.1 1087.4,1856.2 1088.6,1853.7 1089.8,1850.2 1091.0,1854.4 1092.3,1846.0 1093.5,1852.2 1094.7,1850.4 1095.9,1860.5 1097.2,1864.9 1098.4,1867.5 1099.6,1874.5 1100.8,1878.7 1102.0,1880.7 1103.3,1882.4 1104.5,1879.8 1105.7,1879.5 1106.9,1878.0 1108.2,1875.2 1109.4,1870.6 1110.6,1866.2 1111.8,1854.5 1113.0,1851.5 1114.3,1845.9 1115.5,1836.3 1116.7,1829.9 1117.9,1829.1 1119.2,1822.1 1120.4,1820.6 1121.6,1813.9 1122.8,1821.5 1124.0,1828.7 1125.3,1835.9 1126.5,1840.7 1127.7,1849.5 1128.9,1858.5 1130.2,1867.7 1131.4,1871.9 1132.6,1877.6 1133.8,1880.0 1135.0,1884.2 1136.3,1887.7 1137.5,1890.3 1138.7,1889.4 1139.9,1893.6 1141.2,1896.2 1142.4,1892.0 1143.6,1895.2 1144.8,1898.0 1146.0,1894.1 1147.3,1903.0 1148.5,1900.1 1149.7,1902.0 1150.9,1902.9 1152.2,1904.2 1153.4,1901.5 1154.6,1904.9 1155.8,1900.5 1157.0,1902.0 1158.3,1907.8 1159.5,1902.4 1160.7,1906.1 1161.9,1906.9 1163.2,1904.5 1164.4,1908.2 1165.6,1906.0 1166.8,1909.9 1168.1,1907.2 1169.3,1909.4 1170.5,1907.7 1171.7,1909.0 1172.9,1905.6 1174.2,1907.6 1175.4,1904.6 1176.6,1911.1 1177.8,1907.5 1179.1,1909.3 1180.3,1906.5 1181.5,1908.1 1182.7,1907.4 1183.9,1912.0 1185.2,1910.3 1186.4,1911.5 1187.6,1910.9 1188.8,1909.0 1190.1,1910.4 1191.3,1908.8 1192.5,1912.1 1193.7,1911.6 1194.9,1912.0 1196.2,1913.1 1197.4,1913.2 1198.6,1913.2 1199.8,1907.0 1201.1,1911.1 1202.3,1911.2 1203.5,1910.8 1204.7,1912.5 1205.9,1910.2 1207.2,1909.3 1208.4,1908.9 1209.6,1909.7 1210.8,1911.8 1212.1,1912.0 1213.3,1912.8 1214.5,1910.9 1215.7,1910.3 1216.9,1909.2 1218.2,1907.2 1219.4,1910.9 1220.6,1913.8 1221.8,1911.9 1223.1,1912.2 1224.3,1911.1 1225.5,1912.8 1226.7,1913.9 1227.9,1913.9 1229.2,1913.9 1230.4,1913.9 1231.6,1913.9 1232.8,1912.8 1234.1,1914.0 1235.3,1914.0 1236.5,1912.4 1237.7,1912.0 1239.0,1911.0 1240.2,1911.5 1241.4,1910.0 1242.6,1913.9 1243.8,1908.7 1245.1,1908.9 1246.3,1909.7 1247.5,1907.4 1248.7,1914.1 1250.0,1912.3 1251.2,1913.5 1252.4,1912.8 1253.6,1914.1 1254.8,1914.1 1256.1,1914.1 1257.3,1914.1 1258.5,1914.1 1259.7,1914.1 1261.0,1911.8 1262.2,1913.7 1263.4,1910.6 1264.6,1912.3 1265.8,1914.1 1267.1,1910.2 1268.3,1914.2 1269.5,1914.2 1270.7,1914.2 1272.0,1912.8 1273.2,1914.2 1274.4,1910.1 1275.6,1913.8 1276.8,1914.2 1278.1,1914.2 1279.3,1912.5 1280.5,1913.7 1281.7,1911.6 1283.0,1910.8 1284.2,1914.2 1285.4,1913.1 1286.6,1913.9 1287.8,1909.2 1289.1,1911.5 1290.3,1909.3 1291.5,1912.9 1292.7,1910.4 1294.0,1912.4 1295.2,1914.3 1296.4,1914.2 1297.6,1911.9 1298.8,1914.3 1300.1,1912.1 1301.3,1914.3 1302.5,1911.0 1303.7,1909.1 1305.0,1914.3 1306.2,1912.2 1307.4,1907.1 1308.6,1912.2 1309.8,1913.5 1311.1,1914.1 1312.3,1911.7 1313.5,1913.7 1314.7,1912.3 1316.0,1909.6 1317.2,1909.9 1318.4,1911.3 1319.6,1910.6 1320.9,1910.9 1322.1,1913.7 1323.3,1914.3 1324.5,1914.3 1325.7,1912.1 1327.0,1913.2 1328.2,1913.0 1329.4,1914.2 1330.6,1912.2 1331.9,1914.3 1333.1,1914.3 1334.3,1913.7 1335.5,1914.3 1336.7,1913.0 1338.0,1914.0 1339.2,1912.3 1340.4,1913.6 1341.6,1911.9 1342.9,1910.3 1344.1,1912.9 1345.3,1910.6 1346.5,1912.8 1347.7,1914.0 1349.0,1913.3 1350.2,1914.3 1351.4,1913.8 1352.6,1913.1 1353.9,1911.7 1355.1,1913.6 1356.3,1911.2 1357.5,1911.5 1358.7,1913.3 1360.0,1909.7 1361.2,1914.4 1362.4,1910.7 1363.6,1914.4 1364.9,1914.4 1366.1,1910.1 1367.3,1908.9 1368.5,1907.5 1369.7,1907.1 1371.0,1910.2 1372.2,1912.4 1373.4,1909.2 1374.6,1909.2 1375.9,1908.5 1377.1,1908.7 1378.3,1913.2 1379.5,1909.5 1380.7,1913.1 1382.0,1913.1 1383.2,1914.4 1384.4,1914.4 1385.6,1912.7 1386.9,1910.7 1388.1,1912.2 1389.3,1910.0 1390.5,1909.3 1391.8,1914.1 1393.0,1911.0 1394.2,1913.7 1395.4,1909.9 1396.6,1914.3 1397.9,1914.4 1399.1,1913.5 1400.3,1912.6 1401.5,1914.4 1402.8,1914.4 1404.0,1912.1 1405.2,1913.8 1406.4,1908.4 1407.6,1909.6 1408.9,1910.2 1410.1,1907.7 1411.3,1910.8 1412.5,1911.7 1413.8,1907.7 1415.0,1912.3 1416.2,1912.0 1417.4,1912.6 1418.6,1909.1 1419.9,1914.4 1421.1,1910.5 1422.3,1912.1 1423.5,1908.8 1424.8,1911.6 1426.0,1914.4 1427.2,1911.0"/>
<path class="d" stroke="#37AD6B" d="M204.8,1898.7 206.0,1893.9 207.2,1900.0 208.5,1898.5 209.7,1899.3 210.9,1899.4 212.1,1903.2 213.4,1900.0 214.6,1901.0 215.8,1903.1 217.0,1905.3 218.2,1903.8 219.5,1908.3 220.7,1904.6 221.9,1906.9 223.1,1911.4 224.4,1909.7 225.6,1909.2 226.8,1911.5 228.0,1908.6 229.2,1907.5 230.5,1906.5 231.7,1902.9 232.9,1901.2 234.1,1904.4 235.4,1899.5 236.6,1899.6 237.8,1901.7 239.0,1902.0 240.2,1906.1 241.5,1902.6 242.7,1904.7 243.9,1903.8 245.1,1904.0 246.4,1902.3 247.6,1905.0 248.8,1901.9 250.0,1901.7 251.3,1904.3 252.5,1902.3 253.7,1897.9 254.9,1899.3 256.1,1896.1 257.4,1895.8 258.6,1899.5 259.8,1904.4 261.0,1900.7 262.3,1900.5 263.5,1904.1 264.7,1901.2 265.9,1900.6 267.1,1900.5 268.4,1907.3 269.6,1905.0 270.8,1905.0 272.0,1903.5 273.3,1911.3 274.5,1906.5 275.7,1903.8 276.9,1911.3 278.1,1908.9 279.4,1904.1 280.6,1903.2 281.8,1908.7 283.0,1906.0 284.3,1903.2 285.5,1908.0 286.7,1906.1 287.9,1910.9 289.1,1910.2 290.4,1910.9 291.6,1909.3 292.8,1910.6 294.0,1904.0 295.3,1905.4 296.5,1910.0 297.7,1903.7 298.9,1906.2 300.1,1904.2 301.4,1906.1 302.6,1905.2 303.8,1901.2 305.0,1900.4 306.3,1904.1 307.5,1903.2 308.7,1901.9 309.9,1899.1 311.1,1901.8 312.4,1897.8 313.6,1896.1 314.8,1897.8 316.0,1900.8 317.3,1899.9 318.5,1897.5 319.7,1897.4 320.9,1900.0 322.2,1901.8 323.4,1902.0 324.6,1900.3 325.8,1902.3 327.0,1900.9 328.3,1904.4 329.5,1899.3 330.7,1906.5 331.9,1904.9 333.2,1904.0 334.4,1900.2 335.6,1898.8 336.8,1903.2 338.0,1903.8 339.3,1902.3 340.5,1902.0 341.7,1903.1 342.9,1903.7 344.2,1905.2 345.4,1906.2 346.6,1908.6 347.8,1906.5 349.0,1904.9 350.3,1908.7 351.5,1900.0 352.7,1901.3 353.9,1902.4 355.2,1905.3 356.4,1903.9 357.6,1900.6 358.8,1908.3 360.0,1904.4 361.3,1903.5 362.5,1905.6 363.7,1909.1 364.9,1907.3 366.2,1904.7 367.4,1904.8 368.6,1907.9 369.8,1907.4 371.0,1904.5 372.3,1902.6 373.5,1902.8 374.7,1896.6 375.9,1901.8 377.2,1896.4 378.4,1901.1 379.6,1900.0 380.8,1900.8 382.0,1904.5 383.3,1898.6 384.5,1900.4 385.7,1903.2 386.9,1907.7 388.2,1901.5 389.4,1906.1 390.6,1895.7 391.8,1899.7 393.0,1896.2 394.3,1903.0 395.5,1897.6 396.7,1896.5 397.9,1904.3 399.2,1903.4 400.4,1901.1 401.6,1898.7 402.8,1898.7 404.1,1890.4 405.3,1889.5 406.5,1895.3 407.7,1892.7 408.9,1890.4 410.2,1886.5 411.4,1880.3 412.6,1877.2 413.8,1870.8 415.1,1871.8 416.3,1868.3 417.5,1872.0 418.7,1872.4 419.9,1876.3 421.2,1871.8 422.4,1870.9 423.6,1872.3 424.8,1866.2 426.1,1865.1 427.3,1865.7 428.5,1867.5 429.7,1860.6 430.9,1859.9 432.2,1860.3 433.4,1854.5 434.6,1848.4 435.8,1840.9 437.1,1831.8 438.3,1822.1 439.5,1805.4 440.7,1801.5 441.9,1780.9 443.2,1769.1 444.4,1766.1 445.6,1743.6 446.8,1733.8 448.1,1719.6 449.3,1718.4 450.5,1694.1 451.7,1704.8 452.9,1703.3 454.2,1716.6 455.4,1732.0 456.6,1744.3 457.8,1765.3 459.1,1765.4 460.3,1787.1 461.5,1801.8 462.7,1813.8 463.9,1818.5 465.2,1838.8 466.4,1848.1 467.6,1854.7 468.8,1861.8 470.1,1868.6 471.3,1869.9 472.5,1871.9 473.7,1878.3 475.0,1883.4 476.2,1888.1 477.4,1886.2 478.6,1890.6 479.8,1891.1 481.1,1886.7 482.3,1893.2 483.5,1892.5 484.7,1893.4 486.0,1892.4 487.2,1897.8 488.4,1895.2 489.6,1895.6 490.8,1897.7 492.1,1894.7 493.3,1895.6 494.5,1898.5 495.7,1900.7 497.0,1902.7 498.2,1899.5 499.4,1903.7 500.6,1899.2 501.8,1899.9 503.1,1895.7 504.3,1896.6 505.5,1894.7 506.7,1896.8 508.0,1896.6 509.2,1899.5 510.4,1895.9 511.6,1899.4 512.8,1901.3 514.1,1899.7 515.3,1903.1 516.5,1906.1 517.7,1902.0 519.0,1902.9 520.2,1901.8 521.4,1904.3 522.6,1901.4 523.8,1907.4 525.1,1900.0 526.3,1903.6 527.5,1902.9 528.7,1903.4 530.0,1908.3 531.2,1905.5 532.4,1908.8 533.6,1906.6 534.8,1905.7 536.1,1905.5 537.3,1903.1 538.5,1904.0 539.7,1904.3 541.0,1903.6 542.2,1905.3 543.4,1908.4 544.6,1907.6 545.8,1906.8 547.1,1909.0 548.3,1908.7 549.5,1908.7 550.7,1908.1 552.0,1905.7 553.2,1907.8 554.4,1904.4 555.6,1906.8 556.9,1908.9 558.1,1907.4 559.3,1905.0 560.5,1908.7 561.7,1907.3 563.0,1902.0 564.2,1903.8 565.4,1903.0 566.6,1898.5 567.9,1900.4 569.1,1899.5 570.3,1903.1 571.5,1900.5 572.7,1902.7 574.0,1904.4 575.2,1904.4 576.4,1899.7 577.6,1899.8 578.9,1900.1 580.1,1903.6 581.3,1896.8 582.5,1894.1 583.7,1898.9 585.0,1903.0 586.2,1902.0 587.4,1897.6 588.6,1897.9 589.9,1902.9 591.1,1903.6 592.3,1900.0 593.5,1901.2 594.7,1899.0 596.0,1898.9 597.2,1901.2 598.4,1899.4 599.6,1899.8 600.9,1900.7 602.1,1900.1 603.3,1900.5 604.5,1899.8 605.7,1898.7 607.0,1898.9 608.2,1902.5 609.4,1899.2 610.6,1899.6 611.9,1899.9 613.1,1895.5 614.3,1890.3 615.5,1895.1 616.7,1891.4 618.0,1895.4 619.2,1889.9 620.4,1888.3 621.6,1879.3 622.9,1874.7 624.1,1864.3 625.3,1861.1 626.5,1859.8 627.8,1854.2 629.0,1861.4 630.2,1858.3 631.4,1854.5 632.6,1852.8 633.9,1859.6 635.1,1853.3 636.3,1850.6 637.5,1847.7 638.8,1838.8 640.0,1824.3 641.2,1817.5 642.4,1810.3 643.6,1815.6 644.9,1811.2 646.1,1806.4 647.3,1797.3 648.5,1793.2 649.8,1781.2 651.0,1784.9 652.2,1765.1 653.4,1749.0 654.6,1723.9 655.9,1708.2 657.1,1697.3 658.3,1658.0 659.5,1642.5 660.8,1620.6 662.0,1627.2 663.2,1610.9 664.4,1590.9 665.6,1603.7 666.9,1615.3 668.1,1630.5 669.3,1640.6 670.5,1646.0 671.8,1685.3 673.0,1697.5 674.2,1708.3 675.4,1729.6 676.6,1761.1 677.9,1774.2 679.1,1785.3 680.3,1794.9 681.5,1811.0 682.8,1826.3 684.0,1831.0 685.2,1840.8 686.4,1844.7 687.6,1853.7 688.9,1861.6 690.1,1866.1 691.3,1866.5 692.5,1869.1 693.8,1874.6 695.0,1877.1 696.2,1880.3 697.4,1883.2 698.6,1882.1 699.9,1884.5 701.1,1887.5 702.3,1885.2 703.5,1882.7 704.8,1885.7 706.0,1882.2 707.2,1886.7 708.4,1883.3 709.7,1888.7 710.9,1890.4 712.1,1890.6 713.3,1891.1 714.5,1893.5 715.8,1889.7 717.0,1891.9 718.2,1893.5 719.4,1891.8 720.7,1893.7 721.9,1892.7 723.1,1895.5 724.3,1897.8 725.5,1896.4 726.8,1900.6 728.0,1896.2 729.2,1905.4 730.4,1905.5 731.7,1902.1 732.9,1899.3 734.1,1906.4 735.3,1904.3 736.5,1903.2 737.8,1906.1 739.0,1904.0 740.2,1904.4 741.4,1903.3 742.7,1904.1 743.9,1903.0 745.1,1904.0 746.3,1906.6 747.5,1905.6 748.8,1904.6 750.0,1905.1 751.2,1902.3 752.4,1905.5 753.7,1899.1 754.9,1901.5 756.1,1905.6 757.3,1908.1 758.5,1910.4 759.8,1910.1 761.0,1906.9 762.2,1906.0 763.4,1907.2 764.7,1905.6 765.9,1909.8 767.1,1905.3 768.3,1906.8 769.5,1910.3 770.8,1906.7 772.0,1906.2 773.2,1903.9 774.4,1905.0 775.7,1911.2 776.9,1911.2 778.1,1907.4 779.3,1906.2 780.6,1907.0 781.8,1908.9 783.0,1911.2 784.2,1909.5 785.4,1908.8 786.7,1907.0 787.9,1909.7 789.1,1907.4 790.3,1909.4 791.6,1909.9 792.8,1910.0 794.0,1904.3 795.2,1906.0 796.4,1907.6 797.7,1905.0 798.9,1906.3 800.1,1906.0 801.3,1907.9 802.6,1907.6 803.8,1902.0 805.0,1898.9 806.2,1903.9 807.4,1905.5 808.7,1906.5 809.9,1902.4 811.1,1898.5 812.3,1903.9 813.6,1901.6 814.8,1908.3 816.0,1906.9 817.2,1901.7 818.4,1907.1 819.7,1910.2 820.9,1904.9 822.1,1905.3 823.3,1907.1 824.6,1905.8 825.8,1906.8 827.0,1903.4 828.2,1899.8 829.4,1898.6 830.7,1902.0 831.9,1899.8 833.1,1899.3 834.3,1897.2 835.6,1895.1 836.8,1893.1 838.0,1896.4 839.2,1895.6 840.4,1900.7 841.7,1900.6 842.9,1900.6 844.1,1899.2 845.3,1903.4 846.6,1898.9 847.8,1900.1 849.0,1900.8 850.2,1903.0 851.4,1905.8 852.7,1905.0 853.9,1904.5 855.1,1904.0 856.3,1902.6 857.6,1902.7 858.8,1905.2 860.0,1906.2 861.2,1906.0 862.5,1908.2 863.7,1908.6 864.9,1910.7 866.1,1911.3 867.3,1909.5 868.6,1912.0 869.8,1913.0 871.0,1913.1 872.2,1910.0 873.5,1908.9 874.7,1913.3 875.9,1907.5 877.1,1910.8 878.3,1913.4 879.6,1913.5 880.8,1913.5 882.0,1913.6 883.2,1913.6 884.5,1913.6 885.7,1912.8 886.9,1913.6 888.1,1909.6 889.3,1913.6 890.6,1913.7 891.8,1913.7 893.0,1913.7 894.2,1912.2 895.5,1910.0 896.7,1913.0 897.9,1912.9 899.1,1913.5 900.3,1908.6 901.6,1911.3 902.8,1904.1 904.0,1905.2 905.2,1905.3 906.5,1901.7 907.7,1906.6 908.9,1902.2 910.1,1903.6 911.3,1901.3 912.6,1902.8 913.8,1908.2 915.0,1905.8 916.2,1907.0 917.5,1904.1 918.7,1906.3 919.9,1904.7 921.1,1904.5 922.3,1904.3 923.6,1902.1 924.8,1905.6 926.0,1900.5 927.2,1904.3 928.5,1903.1 929.7,1903.8 930.9,1903.7 932.1,1905.4 933.4,1904.0 934.6,1902.5 935.8,1909.3 937.0,1902.8 938.2,1910.7 939.5,1908.8 940.7,1907.1 941.9,1908.1 943.1,1910.3 944.4,1909.3 945.6,1908.8 946.8,1905.5 948.0,1906.8 949.2,1907.4 950.5,1908.5 951.7,1909.4 952.9,1904.2 954.1,1907.4 955.4,1908.6 956.6,1912.7 957.8,1910.2 959.0,1909.5 960.2,1912.2 961.5,1911.5 962.7,1909.9 963.9,1904.2 965.1,1903.7 966.4,1901.4 967.6,1900.3 968.8,1903.1 970.0,1906.6 971.2,1905.3 972.5,1908.6 973.7,1909.7 974.9,1910.6 976.1,1911.6 977.4,1908.7 978.6,1905.5 979.8,1906.6 981.0,1911.5 982.2,1911.2 983.5,1908.0 984.7,1910.4 985.9,1904.5 987.1,1908.1 988.4,1908.8 989.6,1905.8 990.8,1900.4 992.0,1902.6 993.2,1905.4 994.5,1906.8 995.7,1911.6 996.9,1903.0 998.1,1904.5 999.4,1904.7 1000.6,1904.4 1001.8,1909.5 1003.0,1907.1 1004.2,1912.0 1005.5,1913.1 1006.7,1906.8 1007.9,1910.3 1009.1,1908.8 1010.4,1904.9 1011.6,1909.1 1012.8,1905.5 1014.0,1906.7 1015.3,1905.4 1016.5,1903.8 1017.7,1911.5 1018.9,1906.2 1020.1,1908.4 1021.4,1907.1 1022.6,1909.6 1023.8,1900.6 1025.0,1899.3 1026.3,1900.2 1027.5,1899.4 1028.7,1895.8 1029.9,1895.1 1031.1,1895.3 1032.4,1893.6 1033.6,1889.3 1034.8,1889.0 1036.0,1886.1 1037.3,1887.6 1038.5,1887.4 1039.7,1890.5 1040.9,1899.3 1042.1,1898.3 1043.4,1904.7 1044.6,1903.5 1045.8,1903.9 1047.0,1908.0 1048.3,1908.6 1049.5,1905.8 1050.7,1906.8 1051.9,1905.9 1053.1,1900.0 1054.4,1903.1 1055.6,1903.4 1056.8,1900.2 1058.0,1897.3 1059.3,1898.3 1060.5,1897.6 1061.7,1895.9 1062.9,1899.5 1064.1,1896.6 1065.4,1893.1 1066.6,1895.3 1067.8,1890.5 1069.0,1892.9 1070.3,1890.5 1071.5,1886.2 1072.7,1882.3 1073.9,1880.9 1075.1,1880.7 1076.4,1878.3 1077.6,1877.3 1078.8,1866.9 1080.0,1860.5 1081.3,1848.6 1082.5,1849.2 1083.7,1840.5 1084.9,1832.8 1086.2,1829.1 1087.4,1816.7 1088.6,1802.4 1089.8,1801.0 1091.0,1808.7 1092.3,1808.6 1093.5,1815.6 1094.7,1823.0 1095.9,1835.4 1097.2,1830.8 1098.4,1845.9 1099.6,1849.2 1100.8,1853.8 1102.0,1857.8 1103.3,1859.6 1104.5,1859.1 1105.7,1858.9 1106.9,1857.6 1108.2,1850.6 1109.4,1846.7 1110.6,1826.8 1111.8,1817.6 1113.0,1813.7 1114.3,1798.1 1115.5,1786.5 1116.7,1779.8 1117.9,1770.2 1119.2,1764.5 1120.4,1754.0 1121.6,1757.4 1122.8,1759.9 1124.0,1774.2 1125.3,1785.3 1126.5,1796.5 1127.7,1805.3 1128.9,1817.0 1130.2,1827.5 1131.4,1831.5 1132.6,1849.2 1133.8,1852.3 1135.0,1863.2 1136.3,1861.8 1137.5,1866.7 1138.7,1875.1 1139.9,1874.0 1141.2,1875.9 1142.4,1882.8 1143.6,1887.9 1144.8,1886.6 1146.0,1886.6 1147.3,1889.2 1148.5,1887.3 1149.7,1891.9 1150.9,1894.3 1152.2,1891.2 1153.4,1893.8 1154.6,1889.7 1155.8,1896.3 1157.0,1896.7 1158.3,1894.8 1159.5,1900.4 1160.7,1897.9 1161.9,1900.6 1163.2,1902.6 1164.4,1899.4 1165.6,1898.7 1166.8,1898.5 1168.1,1897.2 1169.3,1896.5 1170.5,1899.2 1171.7,1898.1 1172.9,1897.5 1174.2,1902.1 1175.4,1899.1 1176.6,1902.5 1177.8,1904.7 1179.1,1901.6 1180.3,1896.7 1181.5,1904.0 1182.7,1901.1 1183.9,1900.5 1185.2,1903.2 1186.4,1906.7 1187.6,1907.2 1188.8,1907.9 1190.1,1908.6 1191.3,1910.3 1192.5,1908.5 1193.7,1907.7 1194.9,1910.1 1196.2,1909.3 1197.4,1909.6 1198.6,1905.5 1199.8,1906.5 1201.1,1911.5 1202.3,1909.8 1203.5,1911.5 1204.7,1911.7 1205.9,1909.8 1207.2,1912.7 1208.4,1910.9 1209.6,1910.6 1210.8,1910.6 1212.1,1910.6 1213.3,1911.3 1214.5,1910.4 1215.7,1911.9 1216.9,1908.0 1218.2,1908.0 1219.4,1913.0 1220.6,1914.0 1221.8,1912.4 1223.1,1910.8 1224.3,1914.2 1225.5,1905.2 1226.7,1906.6 1227.9,1904.5 1229.2,1907.7 1230.4,1910.1 1231.6,1910.0 1232.8,1910.9 1234.1,1910.7 1235.3,1909.4 1236.5,1909.8 1237.7,1910.4 1239.0,1914.5 1240.2,1913.1 1241.4,1909.4 1242.6,1909.6 1243.8,1908.7 1245.1,1907.9 1246.3,1907.7 1247.5,1910.1 1248.7,1911.0 1250.0,1912.0 1251.2,1907.7 1252.4,1911.4 1253.6,1912.1 1254.8,1908.2 1256.1,1909.8 1257.3,1911.0 1258.5,1909.4 1259.7,1909.1 1261.0,1909.4 1262.2,1910.7 1263.4,1912.8 1264.6,1913.6 1265.8,1908.9 1267.1,1908.4 1268.3,1905.2 1269.5,1907.2 1270.7,1910.1 1272.0,1907.2 1273.2,1905.9 1274.4,1906.1 1275.6,1904.3 1276.8,1909.0 1278.1,1907.4 1279.3,1902.9 1280.5,1904.5 1281.7,1903.3 1283.0,1907.5 1284.2,1908.2 1285.4,1908.1 1286.6,1905.6 1287.8,1908.4 1289.1,1906.2 1290.3,1904.3 1291.5,1903.6 1292.7,1905.4 1294.0,1906.3 1295.2,1906.4 1296.4,1908.1 1297.6,1904.0 1298.8,1905.8 1300.1,1905.7 1301.3,1904.2 1302.5,1903.4 1303.7,1904.7 1305.0,1911.8 1306.2,1912.0 1307.4,1910.1 1308.6,1906.9 1309.8,1908.7 1311.1,1909.2 1312.3,1907.2 1313.5,1909.8 1314.7,1905.9 1316.0,1904.0 1317.2,1907.0 1318.4,1908.5 1319.6,1907.4 1320.9,1906.9 1322.1,1910.9 1323.3,1909.1 1324.5,1913.3 1325.7,1912.6 1327.0,1910.6 1328.2,1906.7 1329.4,1908.0 1330.6,1907.7 1331.9,1906.1 1333.1,1905.2 1334.3,1907.1 1335.5,1911.3 1336.7,1912.6 1338.0,1911.9 1339.2,1914.5 1340.4,1913.2 1341.6,1912.3 1342.9,1910.1 1344.1,1904.5 1345.3,1910.8 1346.5,1909.4 1347.7,1909.2 1349.0,1908.1 1350.2,1909.0 1351.4,1907.7 1352.6,1906.7 1353.9,1911.0 1355.1,1912.6 1356.3,1912.4 1357.5,1908.7 1358.7,1910.2 1360.0,1910.9 1361.2,1912.8 1362.4,1913.5 1363.6,1913.9 1364.9,1911.2 1366.1,1911.4 1367.3,1912.5 1368.5,1913.0 1369.7,1913.3 1371.0,1910.4 1372.2,1914.1 1373.4,1913.2 1374.6,1914.5 1375.9,1914.5 1377.1,1912.0 1378.3,1912.0 1379.5,1912.4 1380.7,1914.3 1382.0,1912.5 1383.2,1909.1 1384.4,1909.5 1385.6,1910.6 1386.9,1910.1 1388.1,1910.5 1389.3,1908.5 1390.5,1912.1 1391.8,1910.7 1393.0,1912.1 1394.2,1913.5 1395.4,1913.3 1396.6,1914.5 1397.9,1914.5 1399.1,1913.7 1400.3,1912.4 1401.5,1912.3 1402.8,1914.5 1404.0,1914.5 1405.2,1913.5 1406.4,1912.5 1407.6,1909.9 1408.9,1909.1 1410.1,1914.5 1411.3,1911.7 1412.5,1910.4 1413.8,1911.5 1415.0,1913.2 1416.2,1912.9 1417.4,1910.6 1418.6,1912.0 1419.9,1911.3 1421.1,1912.9 1422.3,1914.5 1423.5,1914.5 1424.8,1912.5 1426.0,1909.6 1427.2,1911.3"/>
</g>
<line class="k" x1="451.1" y1="9.5" x2="451.1" y2="1914.5"/>
<line class="k" x1="666.3" y1="9.5" x2="666.3" y2="1914.5"/>
<line class="k" x1="1090.1" y1="9.5" x2="1090.1" y2="1914.5"/>
<line class="k" x1="1121.3" y1="9.5" x2="1121.3" y2="1914.5"/>
<line class="k" x1="1212.4" y1="9.5" x2="1212.4" y2="1914.5"/>
<rect class="f" x="204.8" y="4.2" width="1222.4" height="1910.3"/>
<line class="f" x1="204.8" y1="386.4" x2="1427.2" y2="386.4"/>
<line class="f" x1="204.8" y1="768.8" x2="1427.2" y2="768.8"/>
<line class="f" x1="204.8" y1="1150.9" x2="1427.2" y2="1150.9"/>
<line class="f" x1="204.8" y1="1533.0" x2="1427.2" y2="1533.0"/>
<path class="f" d="M204.8,274.0 H228.2 M204.8,161.7 H228.2 M204.8,49.3 H228.2 M204.8,330.2 H216.5 M204.8,217.9 H216.5 M204.8,105.5 H216.5 M510.4,386.4 V363.4 M816.0,386.4 V363.4 M1121.6,386.4 V363.4 M357.6,386.4 V374.8 M663.2,386.4 V374.8 M968.8,386.4 V374.8 M1274.4,386.4 V374.8 M204.8,656.4 H228.2 M204.8,544.1 H228.2 M204.8,431.7 H228.2 M204.8,712.6 H216.5 M204.8,600.3 H216.5 M204.8,487.9 H216.5 M510.4,768.8 V745.8 M816.0,768.8 V745.8 M1121.6,768.8 V745.8 M357.6,768.8 V757.2 M663.2,768.8 V757.2 M968.8,768.8 V757.2 M1274.4,768.8 V757.2 M204.8,1038.5 H228.2 M204.8,926.2 H228.2 M204.8,813.8 H228.2 M204.8,1094.7 H216.5 M204.8,982.4 H216.5 M204.8,870.0 H216.5 M510.4,1150.9 V1127.9 M816.0,1150.9 V1127.9 M1121.6,1150.9 V1127.9 M357.6,1150.9 V1139.3 M663.2,1150.9 V1139.3 M968.8,1150.9 V1139.3 M1274.4,1150.9 V1139.3 M204.8,1446.2 H228.2 M204.8,1359.3 H228.2 M204.8,1272.5 H228.2 M204.8,1185.6 H228.2 M204.8,1489.6 H216.5 M204.8,1402.7 H216.5 M204.8,1315.9 H216.5 M204.8,1229.0 H216.5 M510.4,1533.0 V1510.0 M816.0,1533.0 V1510.0 M1121.6,1533.0 V1510.0 M357.6,1533.0 V1521.4 M663.2,1533.0 V1521.4 M968.8,1533.0 V1521.4 M1274.4,1533.0 V1521.4 M204.8,1827.7 H228.2 M204.8,1740.8 H228.2 M204.8,1654.0 H228.2 M204.8,1567.1 H228.2 M204.8,1871.1 H216.5 M204.8,1784.2 H216.5 M204.8,1697.4 H216.5 M204.8,1610.5 H216.5 M510.4,1914.5 V1891.5 M816.0,1914.5 V1891.5 M1121.6,1914.5 V1891.5 M357.6,1914.5 V1902.9 M663.2,1914.5 V1902.9 M968.8,1914.5 V1902.9 M1274.4,1914.5 V1902.9"/>
<g class="s" font-size="38.5" text-anchor="end">
<text x="178.5" y="397.6">0</text>
<text x="178.5" y="285.2">200</text>
<text x="178.5" y="172.9">400</text>
<text x="178.5" y="60.5">600</text>
<text x="178.5" y="780.0">0</text>
<text x="178.5" y="667.6">200</text>
<text x="178.5" y="555.3">400</text>
<text x="178.5" y="442.9">600</text>
<text x="178.5" y="1162.1">0</text>
<text x="178.5" y="1049.7">200</text>
<text x="178.5" y="937.4">400</text>
<text x="178.5" y="825.0">600</text>
<text x="178.5" y="1544.2">0</text>
<text x="178.5" y="1457.4">500</text>
<text x="178.5" y="1370.5">1000</text>
<text x="178.5" y="1283.7">1500</text>
<text x="178.5" y="1196.8">2000</text>
<text x="178.5" y="1925.7">0</text>
<text x="178.5" y="1838.9">500</text>
<text x="178.5" y="1752.0">1000</text>
<text x="178.5" y="1665.2">1500</text>
<text x="178.5" y="1578.3">2000</text>
</g>
<g class="s" font-size="43" text-anchor="middle">
<text x="204.8" y="1974">280</text>
<text x="510.4" y="1974">290</text>
<text x="816.0" y="1974">300</text>
<text x="1121.6" y="1974">310</text>
<text x="1427.2" y="1974">320</text>
</g>
<text class="b" font-size="55.5" text-anchor="middle" x="817" y="2050">Wavelength (nm)</text>
<text class="b" font-size="57.8" text-anchor="middle" transform="translate(43.7,957) rotate(-90)">Intensity (a.u.)</text>
<rect x="251.2" y="23.0" width="163.3" height="54" fill="#fff" stroke="#161616" stroke-width="1.3"/>
<text class="s" font-size="37.8" text-anchor="middle" x="332.5" y="62.0">1st pulse</text>
<rect x="251.2" y="404.6" width="175.0" height="54" fill="#fff" stroke="#161616" stroke-width="1.3"/>
<text class="s" font-size="37.8" text-anchor="middle" x="338.3" y="443.6">2nd pulse</text>
<rect x="251.2" y="786.6" width="166.8" height="54" fill="#fff" stroke="#161616" stroke-width="1.3"/>
<text class="s" font-size="37.8" text-anchor="middle" x="334.2" y="825.6">3rd pulse</text>
<rect x="251.2" y="1168.3" width="164.3" height="54" fill="#fff" stroke="#161616" stroke-width="1.3"/>
<text class="s" font-size="37.8" text-anchor="middle" x="333.0" y="1207.3">4th pulse</text>
<rect x="251.2" y="1551.5" width="164.5" height="54" fill="#fff" stroke="#161616" stroke-width="1.3"/>
<text class="s" font-size="37.8" text-anchor="middle" x="333.1" y="1590.5">5th pulse</text>
<line x1="1238.4" y1="38.1" x2="1310.2" y2="38.1" stroke="#515151" stroke-width="3.8" stroke-linecap="round"/>
<text class="s" font-size="32.2" x="1319.8" y="48.4">0.3 µJ</text>
<line x1="1238.4" y1="81.5" x2="1310.2" y2="81.5" stroke="#F14040" stroke-width="3.8" stroke-linecap="round"/>
<text class="s" font-size="32.2" x="1319.8" y="91.8">0.5 µJ</text>
<line x1="1238.4" y1="124.8" x2="1310.2" y2="124.8" stroke="#1A6FDF" stroke-width="3.8" stroke-linecap="round"/>
<text class="s" font-size="32.2" x="1319.8" y="135.1">0.7 µJ</text>
<line x1="1238.4" y1="168.2" x2="1310.2" y2="168.2" stroke="#37AD6B" stroke-width="3.8" stroke-linecap="round"/>
<text class="s" font-size="32.2" x="1319.8" y="178.5">0.9 µJ</text>
<g class="s" font-size="36.8">
<text transform="translate(1254.7,1076.1) rotate(-90)">Au I 312.3 nm</text>
<text transform="translate(497.8,1443.8) rotate(-90)">Ga I 287.4 nm</text>
<text transform="translate(717.5,1405.5) rotate(-90)">Ga I 294.4 nm</text>
<text transform="translate(1076.2,1459.4) rotate(-90)">Al I 308.22 nm</text>
<text transform="translate(1161.9,1436.9) rotate(-90)">Al I 309.28 nm</text>
<text transform="translate(1254.7,1498.4) rotate(-90)">Au I 312.3 nm</text>
<text transform="translate(499.8,1796.8) rotate(-90)">Ga I 287.4 nm</text>
<text transform="translate(723.7,1784.6) rotate(-90)">Ga I 294.4 nm</text>
<text transform="translate(1078.9,1810.7) rotate(-90)">Al I 308.22 nm</text>
<text transform="translate(1163.9,1781.0) rotate(-90)">Al I 309.28 nm</text>
</g>
</svg></body></html>
